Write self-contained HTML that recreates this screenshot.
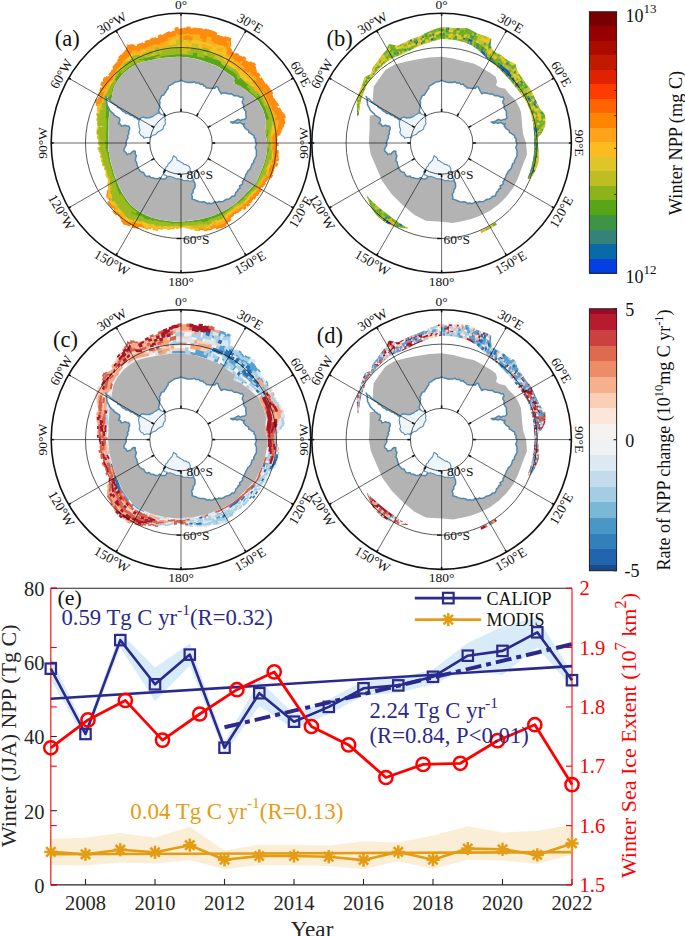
<!DOCTYPE html><html><head><meta charset="utf-8"><style>html,body{margin:0;padding:0;background:#fff;overflow:hidden}svg{display:block}</style></head><body><svg width="685" height="936" viewBox="0 0 685 936" style="font-family:'Liberation Serif',serif">
<defs><filter id="soft" x="-5%" y="-5%" width="110%" height="110%"><feGaussianBlur stdDeviation="0.6"/></filter></defs>
<rect width="685" height="936" fill="#fff"/>
<circle cx="181.0" cy="143.0" r="129.8" fill="#fff"/>
<path fill="#5aa51a" d="M180.6,56.8 L180.6,53.5 L183.7,53.7 L183.6,57.0ZM182.9,56.9 L183.0,53.6 L186.1,53.8 L185.9,57.2ZM185.1,57.1 L185.3,53.7 L188.4,54.0 L188.1,57.4ZM187.4,57.4 L187.6,54.0 L190.7,54.4 L190.3,57.8ZM189.6,57.7 L189.9,54.3 L193.0,54.7 L192.5,58.2ZM191.8,58.1 L192.6,51.6 L195.8,52.1 L194.7,58.6ZM194.0,58.5 L195.0,52.0 L198.2,52.5 L196.9,59.1ZM196.2,59.0 L196.8,55.6 L199.8,56.2 L199.1,59.7ZM198.4,59.5 L199.1,56.1 L202.1,56.8 L201.2,60.3ZM200.5,60.1 L201.3,56.6 L204.3,57.6 L203.4,61.0ZM202.6,60.8 L204.4,54.2 L207.4,55.3 L205.5,61.7ZM204.8,61.5 L206.7,55.0 L209.6,56.2 L207.6,62.5ZM206.8,62.2 L208.8,56.3 L211.8,57.2 L209.7,63.2ZM209.0,62.9 L211.0,57.0 L214.0,58.0 L211.8,63.9ZM211.1,63.6 L213.3,57.7 L216.3,58.9 L213.8,64.7ZM213.1,64.4 L215.6,58.4 L218.6,59.6 L215.9,65.6ZM215.2,65.3 L217.9,59.2 L220.8,60.5 L217.9,66.5ZM217.2,66.1 L220.1,60.0 L222.3,62.8 L219.8,67.6ZM219.2,67.3 L221.4,62.8 L224.0,64.7 L221.7,68.9ZM221.0,68.5 L223.3,64.4 L225.7,66.3 L223.5,70.1ZM222.8,69.8 L225.0,66.0 L227.6,67.7 L225.3,71.5ZM224.6,71.1 L227.1,67.1 L229.6,68.8 L227.0,72.8ZM226.4,72.4 L228.9,68.5 L231.5,70.1 L228.8,74.0ZM228.2,73.6 L230.9,69.7 L233.5,71.4 L230.7,75.2ZM230.1,74.8 L233.0,70.7 L235.6,72.5 L232.5,76.5ZM231.9,76.0 L234.7,72.3 L237.2,74.2 L234.3,77.8ZM233.7,77.3 L236.6,73.7 L238.0,76.8 L234.6,80.8ZM234.1,80.3 L237.6,76.2 L238.7,79.5 L234.7,83.9ZM234.1,83.5 L240.2,76.7 L242.8,78.4 L236.8,84.8ZM236.2,84.3 L242.1,78.1 L244.4,80.2 L238.8,85.7ZM238.3,85.2 L243.8,79.7 L246.1,81.8 L240.9,86.7ZM240.4,86.2 L245.4,81.3 L247.7,83.5 L242.7,87.9ZM242.2,87.4 L247.5,82.6 L249.7,84.8 L244.5,89.2ZM244.1,88.7 L247.3,85.9 L249.5,88.0 L246.3,90.6ZM245.9,90.0 L249.3,87.2 L251.5,89.4 L248.1,92.0ZM247.6,91.4 L249.5,90.0 L251.7,92.1 L249.9,93.4ZM249.5,92.8 L251.2,91.5 L253.5,93.7 L251.7,94.9ZM251.3,94.3 L253.1,93.0 L255.3,95.2 L253.5,96.4ZM253.0,95.8 L254.9,94.5 L257.1,96.8 L255.2,98.0ZM255.8,94.0 L258.0,92.5 L260.1,95.0 L257.9,96.3ZM254.8,97.3 L259.6,94.4 L261.7,96.9 L256.9,99.6ZM256.5,99.0 L259.9,97.0 L261.9,99.6 L258.5,101.3ZM258.2,100.7 L261.2,99.0 L262.8,101.8 L259.7,103.3ZM259.3,102.7 L262.3,101.1 L263.8,104.0 L260.8,105.4ZM260.4,104.7 L263.6,103.2 L264.9,106.1 L261.8,107.4ZM261.5,106.7 L264.7,105.3 L266.1,108.2 L262.8,109.5ZM262.5,108.8 L265.9,107.4 L267.2,110.3 L263.7,111.7ZM263.4,110.9 L266.6,109.7 L267.6,112.8 L264.4,113.9ZM264.1,113.2 L267.6,111.9 L268.7,114.9 L265.0,116.1ZM264.7,115.4 L268.4,114.2 L269.4,117.2 L265.5,118.4ZM265.3,117.6 L269.3,116.4 L270.2,119.5 L266.0,120.6ZM266.7,129.0 L269.3,128.6 L268.8,131.8 L266.3,132.1ZM266.3,131.4 L268.8,131.1 L268.9,134.1 L266.6,134.4ZM265.4,133.8 L269.0,133.4 L269.1,136.5 L266.1,136.7ZM266.0,135.9 L267.7,135.8 L268.0,138.8 L266.6,138.9ZM266.6,138.1 L268.0,138.1 L268.5,141.1 L267.1,141.1ZM267.1,140.4 L268.4,140.3 L268.8,143.4 L267.5,143.4ZM267.5,142.6 L269.0,142.6 L268.9,145.7 L267.4,145.6ZM267.4,144.9 L268.7,144.9 L268.6,148.0 L267.3,147.9ZM267.3,147.1 L269.5,147.3 L269.3,150.3 L267.0,150.1ZM267.1,149.4 L269.8,149.6 L269.6,152.7 L266.8,152.4ZM266.8,151.6 L268.4,151.8 L268.0,154.8 L266.4,154.6ZM266.5,153.9 L268.1,154.1 L267.6,157.1 L266.0,156.8ZM266.1,156.1 L267.8,156.4 L267.2,159.4 L265.5,159.0ZM268.3,156.4 L270.3,156.7 L269.9,159.9 L267.7,159.5ZM265.6,158.3 L267.1,158.6 L266.5,161.6 L264.9,161.2ZM267.5,158.6 L269.4,159.0 L268.8,162.1 L266.8,161.6ZM265.1,160.5 L266.8,160.9 L266.0,163.8 L264.3,163.4ZM264.4,162.6 L266.0,163.0 L265.0,165.9 L263.5,165.5ZM263.7,164.8 L265.2,165.2 L264.2,168.0 L262.7,167.6ZM262.9,166.9 L264.5,167.3 L263.4,170.2 L261.9,169.7ZM262.1,169.0 L263.6,169.4 L262.4,172.2 L261.0,171.7ZM261.2,171.0 L262.8,171.6 L261.7,174.4 L260.1,173.8ZM260.4,173.1 L261.7,173.6 L260.5,176.3 L259.3,175.8ZM259.5,175.1 L260.8,175.7 L259.6,178.4 L258.3,177.8ZM258.6,177.2 L259.8,177.7 L258.5,180.4 L257.4,179.8ZM257.7,179.2 L258.9,179.7 L257.5,182.4 L256.4,181.8ZM256.7,181.2 L257.8,181.7 L256.3,184.3 L255.2,183.7ZM255.6,183.1 L257.2,183.9 L255.4,186.4 L253.8,185.4ZM254.1,184.8 L256.2,186.0 L254.3,188.4 L252.3,187.1ZM252.7,186.5 L254.6,187.7 L252.7,190.0 L250.8,188.8ZM251.2,188.2 L253.2,189.5 L251.3,191.7 L249.3,190.3ZM249.7,189.8 L251.5,191.0 L249.5,193.2 L247.7,191.9ZM248.1,191.3 L250.1,192.7 L248.1,194.9 L246.1,193.4ZM246.5,192.8 L248.3,194.2 L246.4,196.4 L244.7,195.0ZM245.1,194.5 L247.0,196.0 L245.0,198.2 L243.2,196.6ZM243.7,196.0 L245.4,197.5 L243.3,199.6 L241.7,198.1ZM242.2,197.6 L244.1,199.3 L242.0,201.4 L240.1,199.6ZM240.6,199.1 L242.2,200.6 L240.1,202.6 L238.5,201.0ZM239.0,200.5 L240.8,202.3 L238.6,204.3 L236.9,202.4ZM237.4,201.9 L238.3,202.8 L236.1,204.7 L235.2,203.8ZM235.8,203.3 L236.6,204.2 L234.3,206.0 L233.5,205.0ZM234.1,204.6 L234.9,205.6 L232.6,207.3 L231.8,206.3ZM232.3,205.8 L233.6,207.4 L231.3,209.1 L230.0,207.4ZM230.6,207.0 L231.8,208.6 L229.4,210.3 L228.2,208.6ZM228.8,208.2 L230.1,210.0 L227.7,211.6 L226.4,209.6ZM227.0,209.2 L228.2,211.0 L225.8,212.6 L224.5,210.6ZM225.1,210.3 L226.6,212.6 L224.1,214.1 L222.6,211.6ZM223.2,211.2 L224.6,213.5 L222.2,215.0 L220.7,212.5ZM221.3,212.1 L222.8,214.7 L220.3,216.2 L218.8,213.3ZM219.4,213.0 L221.0,216.0 L218.4,217.2 L216.9,214.1ZM217.5,213.8 L219.0,216.8 L216.4,218.0 L214.9,215.0ZM215.6,214.7 L217.0,217.6 L214.3,218.7 L213.0,215.8ZM213.6,215.5 L215.0,218.5 L212.3,219.5 L211.1,216.5ZM211.7,216.2 L212.8,218.8 L210.1,219.8 L209.1,217.2ZM209.7,216.9 L210.8,219.6 L208.0,220.4 L207.1,217.8ZM207.8,217.5 L209.2,221.7 L206.4,222.3 L205.1,218.3ZM205.8,218.1 L207.1,222.0 L204.2,222.6 L203.1,218.8ZM203.8,218.6 L205.0,222.7 L202.1,223.2 L201.1,219.2ZM201.7,219.1 L202.4,221.6 L199.6,222.1 L199.0,219.6ZM199.7,219.5 L200.3,221.9 L197.5,222.3 L197.0,219.9ZM197.7,219.8 L198.2,222.4 L195.4,222.7 L195.0,220.2ZM195.6,220.1 L196.1,222.7 L193.3,223.0 L192.9,220.5ZM193.6,220.4 L194.0,222.6 L191.2,222.9 L190.9,220.8ZM191.6,220.7 L191.9,222.9 L189.1,223.1 L188.9,221.0ZM189.5,220.9 L189.8,222.9 L186.9,223.1 L186.8,221.2ZM187.5,221.1 L187.6,223.0 L184.8,223.1 L184.8,221.3ZM185.4,221.3 L185.6,223.6 L182.8,223.6 L182.7,221.4ZM183.4,221.4 L183.4,223.0 L180.7,223.0 L180.7,221.4ZM181.3,221.4 L181.4,224.0 L178.5,223.9 L178.6,221.6ZM179.3,221.6 L179.2,224.1 L176.4,224.4 L176.5,221.8ZM177.2,221.8 L177.1,223.9 L174.3,224.0 L174.5,221.7ZM175.1,221.8 L175.0,224.3 L172.1,224.3 L172.4,221.6ZM173.1,221.6 L172.8,224.2 L170.0,224.1 L170.3,221.3ZM171.0,221.4 L170.8,223.6 L167.9,223.3 L168.3,221.1ZM169.0,221.2 L168.7,223.1 L165.9,222.8 L166.2,220.8ZM166.9,220.9 L166.5,222.9 L163.7,222.5 L164.2,220.4ZM164.9,220.6 L164.4,222.8 L161.6,222.3 L162.1,220.1ZM162.8,220.2 L162.3,222.5 L159.5,222.0 L160.1,219.7ZM160.8,219.9 L160.1,222.5 L157.3,221.9 L158.0,219.3ZM158.7,219.5 L158.0,222.1 L155.1,221.4 L156.0,218.8ZM156.7,219.0 L156.0,221.2 L153.2,220.5 L154.0,218.2ZM154.6,218.5 L153.4,222.1 L150.6,221.3 L152.0,217.6ZM152.6,217.9 L151.6,220.6 L148.9,219.7 L150.0,216.9ZM150.7,217.1 L149.1,221.0 L146.3,220.1 L148.1,216.1ZM148.7,216.4 L147.0,220.2 L144.2,219.2 L146.2,215.2ZM146.8,215.5 L145.0,219.4 L142.2,218.4 L144.3,214.3ZM144.9,214.6 L143.3,217.8 L140.6,216.6 L142.4,213.4ZM143.0,213.7 L141.2,217.0 L138.6,215.8 L140.5,212.4ZM141.1,212.7 L138.7,217.0 L136.1,215.6 L138.8,211.3ZM139.4,211.6 L136.4,216.5 L133.8,215.0 L137.0,210.1ZM137.6,210.5 L136.4,212.3 L134.0,210.8 L135.3,208.9ZM135.8,213.2 L134.4,215.4 L131.8,213.9 L133.4,211.7ZM135.9,209.3 L134.6,211.2 L132.2,209.5 L133.6,207.6ZM133.9,212.2 L132.4,214.4 L130.0,212.6 L131.6,210.4ZM134.2,208.0 L132.9,209.9 L130.6,208.1 L132.0,206.3ZM132.5,206.8 L131.2,208.4 L129.2,206.5 L130.5,204.8ZM131.0,205.3 L129.7,206.9 L127.8,204.8 L129.1,203.2ZM129.7,203.6 L128.3,205.2 L126.4,203.1 L127.8,201.5ZM128.3,202.0 L126.8,203.7 L125.0,201.5 L126.6,199.8ZM127.1,200.3 L125.5,202.0 L123.8,199.7 L125.4,198.1ZM125.9,198.6 L124.4,200.1 L122.8,197.8 L124.2,196.4ZM124.7,196.9 L123.1,198.4 L121.5,196.1 L123.1,194.6ZM123.6,195.1 L122.0,196.6 L120.5,194.2 L122.1,192.9ZM122.5,193.4 L119.5,196.0 L118.0,193.5 L121.1,191.1ZM121.5,191.6 L118.9,193.8 L117.5,191.3 L120.2,189.2ZM120.6,189.8 L117.7,192.0 L116.5,189.5 L119.3,187.4ZM119.7,187.9 L116.7,190.1 L115.7,187.5 L118.5,185.6ZM118.9,186.1 L116.1,188.0 L115.2,185.3 L117.7,183.7ZM118.1,184.2 L115.7,185.8 L114.9,183.1 L117.0,181.8ZM117.3,182.4 L115.1,183.8 L114.3,181.2 L116.2,180.0ZM116.5,180.6 L115.3,181.3 L114.3,178.8 L115.5,178.2ZM115.8,178.8 L114.0,179.8 L113.0,177.3 L114.8,176.4ZM115.1,176.9 L113.5,177.8 L112.5,175.3 L114.2,174.5ZM114.4,175.1 L112.6,176.0 L111.7,173.5 L113.6,172.7ZM113.8,173.3 L111.9,174.1 L111.1,171.6 L113.0,170.8ZM113.3,171.4 L111.5,172.2 L110.7,169.6 L112.6,168.9ZM112.8,169.5 L111.0,170.2 L110.2,167.7 L112.0,167.1ZM112.2,167.7 L110.3,168.4 L109.5,165.9 L111.4,165.3ZM111.6,165.9 L109.9,166.5 L109.1,163.9 L110.9,163.4ZM111.1,164.0 L109.0,164.7 L108.3,162.1 L110.4,161.6ZM110.6,162.2 L108.7,162.7 L108.0,160.2 L110.0,159.7ZM110.2,160.3 L108.0,160.9 L107.5,158.3 L109.7,157.8ZM109.8,158.5 L107.8,158.9 L107.3,156.3 L109.4,156.0ZM109.5,156.6 L107.2,157.0 L106.8,154.4 L109.0,154.1ZM109.1,154.7 L107.1,155.0 L106.7,152.5 L108.8,152.2ZM108.8,152.8 L105.7,153.2 L105.3,150.6 L108.5,150.3ZM108.6,150.9 L105.3,151.3 L105.0,148.7 L108.3,148.4ZM108.4,149.0 L104.8,149.3 L104.6,146.7 L108.2,146.5ZM108.2,147.1 L105.3,147.3 L105.1,144.7 L108.1,144.6ZM108.2,145.2 L104.8,145.3 L104.7,142.7 L108.1,142.7ZM108.1,143.3 L104.8,143.3 L104.7,140.7 L108.0,140.8ZM108.0,141.4 L105.6,141.4 L105.5,138.7 L107.9,138.9ZM107.9,139.5 L105.3,139.4 L105.3,136.7 L107.9,136.9ZM107.9,137.6 L105.4,137.4 L105.5,134.7 L108.0,135.0ZM107.9,135.6 L105.2,135.4 L105.3,132.7 L108.0,133.1ZM108.0,133.7 L105.3,133.4 L105.5,130.7 L108.2,131.1ZM108.1,131.8 L105.4,131.4 L105.7,128.7 L108.4,129.2ZM108.3,129.8 L105.8,129.4 L106.0,126.7 L108.6,127.3ZM108.4,127.9 L105.7,127.3 L105.8,124.6 L108.5,125.3ZM108.4,125.9 L105.8,125.3 L105.9,122.5 L108.5,123.2ZM108.4,123.9 L105.6,123.1 L105.8,120.4 L108.6,121.2ZM108.4,121.8 L105.7,121.1 L106.1,118.3 L108.7,119.2ZM108.5,119.8 L104.4,118.5 L104.8,115.6 L108.9,117.1ZM108.7,117.8 L105.0,116.5 L105.3,113.6 L109.2,115.1ZM108.9,115.7 L104.9,114.2 L105.3,111.3 L109.5,113.0ZM109.2,113.6 L105.2,112.0 L105.6,109.1 L109.7,110.9ZM109.5,111.5 L105.0,109.5 L105.5,106.6 L110.0,108.8ZM109.7,109.4 L104.9,107.1 L105.6,104.1 L110.4,106.6ZM110.1,107.2 L105.8,105.1 L106.6,102.2 L110.8,104.5ZM110.5,105.1 L106.4,102.9 L107.2,99.9 L111.1,102.2ZM110.8,102.9 L106.5,100.4 L107.4,97.4 L111.5,100.0ZM111.1,100.6 L107.2,98.2 L108.1,95.2 L111.9,97.7ZM111.5,98.3 L108.7,96.5 L109.6,93.5 L112.3,95.4ZM111.9,96.0 L110.5,95.0 L111.3,91.9 L112.7,92.9ZM110.1,94.7 L108.3,93.5 L109.3,90.4 L111.0,91.6ZM112.2,93.5 L110.7,92.4 L111.6,89.3 L113.1,90.4ZM110.2,92.0 L108.3,90.7 L109.3,87.5 L111.1,88.9ZM112.7,91.0 L111.3,90.0 L112.4,86.9 L113.7,88.0ZM110.9,89.7 L109.2,88.4 L110.3,85.3 L112.0,86.6ZM113.2,88.6 L111.9,87.5 L113.4,84.7 L114.7,85.9ZM111.4,87.2 L109.7,85.8 L111.2,82.9 L112.9,84.3ZM114.2,86.5 L112.9,85.3 L114.6,82.7 L115.8,83.8ZM112.5,85.0 L110.9,83.6 L112.9,81.1 L114.3,82.5ZM115.3,84.3 L114.1,83.3 L116.0,80.7 L116.9,81.7ZM113.9,83.1 L112.5,81.8 L114.6,79.4 L115.9,80.6ZM116.4,82.2 L113.7,79.7 L115.7,77.1 L118.2,79.7ZM117.7,80.2 L115.2,77.8 L117.0,75.0 L119.7,77.8ZM119.1,78.3 L116.7,75.8 L118.6,73.1 L121.2,76.0ZM120.6,76.5 L117.8,73.4 L120.0,70.9 L122.7,74.2ZM122.1,74.7 L121.0,73.4 L123.3,71.1 L124.4,72.4ZM120.7,73.1 L119.4,71.5 L121.7,69.1 L123.0,70.7ZM123.7,72.9 L122.7,71.7 L125.2,69.6 L126.2,70.9ZM125.6,71.4 L124.5,70.0 L127.0,67.9 L128.1,69.5ZM127.4,69.9 L126.3,68.3 L128.8,66.3 L130.0,68.0ZM129.3,68.5 L128.2,66.9 L130.8,65.0 L131.9,66.7ZM131.3,67.1 L130.1,65.4 L132.8,63.6 L133.9,65.5ZM128.8,63.4 L127.5,61.4 L130.2,59.2 L131.5,61.4ZM133.3,65.9 L132.2,64.1 L134.9,62.3 L136.0,64.3ZM130.8,61.8 L129.4,59.7 L132.1,57.5 L133.5,59.8ZM139.0,61.4 L137.6,58.8 L140.9,58.0 L142.1,60.5ZM141.4,61.0 L140.3,58.6 L143.5,57.9 L144.5,60.1ZM144.3,61.6 L142.6,57.9 L145.7,56.8 L147.4,60.8ZM146.6,61.1 L145.0,57.2 L148.1,56.3 L149.6,60.2ZM148.9,60.5 L147.5,56.8 L150.6,55.9 L151.9,59.8ZM151.2,60.0 L149.7,55.9 L152.9,55.1 L154.2,59.4ZM153.5,59.6 L152.1,55.4 L155.3,54.7 L156.5,59.1ZM155.3,57.6 L154.5,54.8 L157.6,54.0 L158.3,56.9ZM157.6,57.2 L156.8,54.3 L159.9,53.6 L160.6,56.5ZM160.3,58.4 L159.7,56.0 L162.8,55.4 L163.3,57.9ZM162.5,58.0 L162.0,55.4 L165.1,54.8 L165.6,57.6ZM164.8,57.7 L164.3,55.1 L167.4,54.6 L167.8,57.3ZM167.1,57.5 L166.6,54.7 L169.7,54.3 L170.1,57.2ZM169.3,57.3 L168.9,54.4 L172.0,54.0 L172.3,57.0ZM171.6,57.0 L171.3,54.2 L174.4,53.9 L174.6,56.8ZM173.8,56.9 L173.6,53.9 L176.7,53.7 L176.9,56.8ZM176.1,56.8 L175.9,53.5 L179.0,53.4 L179.1,56.8ZM178.4,56.8 L178.3,53.6 L181.4,53.6 L181.4,56.8Z"/>
<path fill="#c8c026" d="M180.6,54.3 L180.6,47.8 L183.9,48.0 L183.7,54.5ZM180.6,42.9 L180.5,39.2 L184.2,39.4 L184.1,43.0ZM182.9,54.4 L183.1,47.7 L186.4,47.9 L186.0,54.6ZM185.3,54.5 L185.7,44.4 L189.2,44.8 L188.3,54.8ZM185.8,42.1 L186.0,38.3 L189.7,38.6 L189.4,42.5ZM187.8,51.9 L188.0,48.1 L191.3,48.5 L190.9,52.3ZM188.4,43.0 L188.7,39.3 L192.3,39.7 L191.9,43.4ZM190.5,49.0 L191.1,42.2 L194.7,42.5 L193.7,49.4ZM192.9,49.4 L193.8,42.6 L197.3,42.9 L196.2,49.8ZM195.4,49.8 L196.4,42.9 L199.9,43.3 L198.6,50.2ZM197.8,50.3 L198.4,46.5 L201.8,47.1 L201.0,50.9ZM200.2,50.7 L201.0,46.8 L204.3,47.6 L203.4,51.5ZM201.9,54.3 L202.8,50.4 L205.9,51.5 L204.9,55.3ZM204.2,55.0 L205.2,51.1 L208.3,52.3 L207.2,56.1ZM207.3,52.7 L208.4,48.9 L211.6,50.2 L210.4,54.0ZM209.4,54.2 L210.6,50.7 L213.8,51.7 L212.5,55.2ZM211.8,54.9 L213.0,51.4 L216.2,52.5 L214.8,56.0ZM213.0,58.5 L215.4,52.2 L218.6,53.4 L216.0,59.6ZM215.3,59.1 L217.9,52.7 L221.1,54.0 L218.2,60.3ZM217.6,59.9 L220.4,53.5 L223.5,54.9 L220.5,61.2ZM219.8,60.8 L222.8,54.3 L224.6,58.4 L221.9,63.5ZM221.1,63.5 L223.5,58.6 L226.1,60.9 L223.6,65.4ZM222.9,65.1 L225.3,60.6 L227.7,62.9 L225.3,67.0ZM244.9,81.9 L247.0,79.8 L249.3,82.1 L247.1,84.0ZM246.9,83.2 L249.1,81.1 L251.3,83.5 L249.1,85.4ZM248.1,85.1 L250.2,83.4 L252.4,85.7 L250.4,87.3ZM250.2,86.4 L252.4,84.7 L254.6,87.0 L252.4,88.7ZM251.9,88.1 L254.1,86.4 L256.2,88.8 L254.1,90.4ZM255.5,91.3 L257.7,89.8 L259.9,92.2 L257.7,93.6ZM257.3,93.0 L259.5,91.5 L261.6,94.1 L259.4,95.4ZM258.9,94.8 L261.1,93.4 L263.1,96.1 L261.0,97.3ZM260.7,96.5 L262.9,95.2 L264.8,98.0 L262.6,99.1ZM261.9,98.6 L264.0,97.5 L265.5,100.4 L263.4,101.5ZM262.9,100.8 L265.0,99.8 L266.4,102.7 L264.4,103.7ZM262.8,103.5 L266.3,101.8 L267.7,104.8 L264.2,106.4ZM265.4,105.0 L267.6,104.0 L269.0,107.0 L266.8,107.9ZM273.2,117.9 L275.9,117.1 L276.4,120.5 L273.6,121.2ZM271.2,120.9 L275.7,119.8 L275.8,123.3 L271.3,124.2ZM271.3,123.4 L275.9,122.4 L275.9,125.8 L271.2,126.7ZM270.8,125.9 L273.5,125.4 L273.2,128.8 L270.6,129.2ZM270.3,128.5 L272.9,128.0 L272.2,131.4 L269.7,131.7ZM269.7,130.9 L272.3,130.6 L272.0,133.8 L269.7,134.1ZM268.2,133.4 L272.2,133.0 L271.8,136.3 L268.3,136.5ZM268.1,135.8 L272.7,135.4 L271.8,138.6 L268.1,138.8ZM267.2,138.1 L272.3,137.8 L272.7,141.0 L267.7,141.1ZM267.6,140.4 L269.4,140.3 L269.8,143.4 L268.0,143.4ZM270.5,140.3 L272.3,140.2 L272.6,143.4 L270.9,143.4ZM271.5,142.6 L273.4,142.6 L273.4,145.8 L271.5,145.8ZM269.7,144.9 L272.4,145.0 L272.4,148.2 L269.7,148.0ZM269.6,147.3 L272.3,147.4 L272.2,150.6 L269.5,150.4ZM269.0,149.5 L271.0,149.7 L270.8,152.8 L268.8,152.6ZM271.4,149.7 L273.3,149.9 L273.2,153.1 L271.2,152.9ZM271.0,152.1 L273.0,152.3 L272.7,155.5 L270.7,155.2ZM271.0,154.4 L273.0,154.7 L272.7,157.9 L270.6,157.6ZM270.8,156.8 L272.9,157.1 L272.5,160.4 L270.4,160.0ZM268.6,158.8 L271.7,159.4 L271.0,162.5 L268.0,161.9ZM268.7,161.2 L272.2,162.0 L271.2,165.1 L267.8,164.2ZM267.5,163.4 L269.4,163.8 L268.3,166.8 L266.5,166.3ZM265.6,165.3 L268.6,166.1 L267.5,169.0 L264.5,168.1ZM264.8,167.4 L269.0,168.7 L267.8,171.6 L263.7,170.3ZM264.0,169.6 L265.9,170.2 L264.6,173.0 L262.8,172.4ZM266.3,170.3 L268.2,170.9 L266.8,173.8 L264.9,173.1ZM265.7,172.6 L268.9,173.7 L267.4,176.6 L264.4,175.4ZM262.9,174.0 L266.5,175.4 L265.0,178.2 L261.6,176.8ZM261.9,176.1 L265.4,177.5 L263.8,180.3 L260.5,178.8ZM260.7,178.1 L263.0,179.1 L261.4,181.8 L259.2,180.7ZM259.0,179.8 L262.3,181.4 L260.6,184.0 L257.6,182.4ZM257.9,181.8 L260.9,183.3 L259.3,185.9 L256.4,184.3ZM256.5,183.6 L257.8,184.3 L256.1,186.8 L254.7,186.0ZM253.4,189.6 L254.9,190.5 L253.0,192.9 L251.5,191.9ZM251.6,191.1 L253.0,192.0 L251.0,194.4 L249.6,193.3ZM250.2,192.9 L252.5,194.5 L250.6,196.9 L248.3,195.1ZM248.4,194.3 L250.5,195.9 L248.6,198.2 L246.5,196.5ZM246.4,195.5 L249.4,197.9 L247.3,200.1 L244.4,197.6ZM246.2,198.2 L247.5,199.3 L245.4,201.5 L244.1,200.3ZM244.3,199.5 L246.5,201.5 L244.3,203.6 L242.2,201.6ZM242.3,200.7 L244.9,203.1 L242.6,205.2 L240.2,202.7ZM241.0,202.5 L243.1,204.6 L240.8,206.6 L238.8,204.5ZM238.3,202.9 L240.7,205.3 L238.3,207.2 L236.1,204.7ZM236.7,204.3 L238.4,206.2 L236.1,208.1 L234.4,206.1ZM235.0,205.6 L236.7,207.6 L234.3,209.4 L232.7,207.4ZM233.7,207.5 L234.7,208.7 L232.3,210.5 L231.3,209.1ZM231.8,208.7 L232.8,210.0 L230.4,211.6 L229.4,210.3ZM224.8,213.8 L226.5,216.5 L224.1,218.4 L222.4,215.5ZM223.7,216.2 L224.7,218.0 L222.3,219.9 L221.3,218.0ZM222.1,217.9 L223.2,219.9 L220.4,221.1 L219.4,219.1ZM217.3,218.2 L218.2,220.2 L215.4,221.3 L214.5,219.2ZM215.2,219.0 L217.3,223.7 L214.4,224.7 L212.5,220.0ZM213.0,219.2 L214.2,222.2 L211.4,223.2 L210.2,220.2ZM209.9,223.4 L211.0,226.6 L208.0,227.2 L206.9,224.0ZM207.2,222.4 L208.6,226.7 L205.5,227.2 L204.3,223.0ZM205.1,223.2 L206.9,228.9 L203.7,229.3 L202.2,223.7ZM202.8,223.1 L204.2,228.2 L201.1,228.5 L199.9,223.5ZM200.6,223.2 L201.8,228.1 L198.7,228.3 L197.8,223.5ZM198.6,223.8 L199.7,229.1 L196.6,229.1 L195.7,224.1ZM196.4,224.1 L197.4,229.3 L194.3,229.3 L193.5,224.3ZM194.3,224.5 L195.0,228.9 L191.9,228.8 L191.4,224.6ZM192.1,224.8 L192.5,227.4 L189.5,227.3 L189.2,224.8ZM192.5,227.5 L192.7,229.2 L189.7,229.0 L189.5,227.3ZM189.9,224.4 L190.2,226.8 L187.2,226.7 L187.1,224.5ZM190.2,226.8 L190.3,228.4 L187.3,228.2 L187.2,226.7ZM187.8,224.4 L187.9,226.6 L185.0,226.6 L184.9,224.4ZM187.9,226.6 L188.1,228.1 L185.1,228.0 L185.0,226.5ZM185.6,224.7 L185.8,227.4 L182.8,227.2 L182.8,224.6ZM183.5,224.7 L183.6,227.3 L180.6,227.0 L180.6,224.5ZM181.4,225.3 L181.4,228.3 L178.4,227.6 L178.5,224.9ZM179.2,224.6 L179.1,228.2 L176.1,228.8 L176.3,225.1ZM177.1,224.2 L177.0,227.2 L174.0,227.8 L174.2,224.5ZM174.9,225.0 L174.7,227.9 L171.7,228.3 L172.0,225.1ZM172.8,224.9 L172.5,227.1 L169.5,227.4 L169.8,225.0ZM170.5,225.4 L170.2,227.9 L167.2,227.8 L167.6,225.2ZM168.3,225.4 L168.1,227.0 L165.1,226.8 L165.4,225.2ZM166.1,225.3 L165.8,226.9 L162.8,226.7 L163.2,225.1ZM163.8,225.6 L163.3,228.2 L160.2,228.0 L160.9,225.3ZM161.8,224.5 L161.2,227.1 L158.2,226.7 L158.9,224.0ZM159.4,225.0 L158.6,228.0 L155.6,227.5 L156.5,224.5ZM157.2,224.6 L156.3,227.6 L153.3,227.1 L154.3,224.1ZM155.3,223.3 L154.5,225.9 L151.5,225.3 L152.4,222.6ZM152.9,223.5 L151.9,226.4 L148.9,225.7 L150.0,222.7ZM150.5,223.4 L149.8,225.3 L146.8,224.5 L147.6,222.6ZM148.5,222.5 L147.7,224.4 L144.6,223.7 L145.5,221.8ZM146.4,221.7 L145.5,223.6 L142.5,222.8 L143.4,220.9ZM139.2,220.8 L138.0,222.9 L135.0,221.8 L136.3,219.6ZM137.6,218.9 L136.5,220.9 L133.6,219.7 L134.8,217.6ZM127.8,216.8 L126.3,219.0 L123.8,216.9 L125.4,214.8ZM126.5,214.7 L125.0,216.7 L122.6,214.5 L124.2,212.5ZM125.0,212.7 L123.5,214.7 L121.3,212.3 L122.9,210.5ZM123.3,211.1 L121.7,213.0 L119.6,210.6 L121.3,208.7ZM120.0,211.4 L118.2,213.4 L116.2,210.7 L118.0,208.8ZM119.6,208.2 L116.5,211.6 L114.5,208.9 L117.7,205.7ZM119.3,205.2 L116.5,208.1 L114.6,205.4 L117.5,202.7ZM117.4,203.9 L115.5,205.7 L113.8,203.0 L115.7,201.3ZM116.0,202.0 L114.1,203.8 L112.4,201.0 L114.4,199.4ZM113.2,195.5 L111.3,197.0 L110.2,194.0 L112.1,192.6ZM112.1,193.5 L108.8,196.0 L108.3,192.5 L111.4,190.4ZM112.0,190.9 L109.0,193.0 L108.6,189.6 L111.5,187.7ZM112.4,188.0 L109.7,189.7 L109.5,186.4 L112.0,184.9ZM111.2,186.2 L109.6,187.2 L109.4,183.9 L110.9,183.1ZM110.5,184.1 L108.0,185.6 L108.0,182.2 L110.3,181.0ZM110.4,181.7 L109.0,182.5 L107.8,179.9 L109.3,179.1ZM111.0,179.1 L109.0,180.1 L107.9,177.5 L109.9,176.5ZM109.6,177.4 L107.4,178.5 L106.4,175.8 L108.6,174.8ZM108.7,175.6 L107.2,176.2 L106.2,173.6 L107.8,172.9ZM106.4,169.8 L104.9,170.3 L104.0,167.6 L105.5,167.2ZM106.6,167.5 L104.9,168.1 L104.0,165.5 L105.7,164.9ZM104.7,166.0 L102.6,166.6 L101.8,163.9 L103.9,163.3ZM104.8,163.8 L102.8,164.3 L102.0,161.6 L104.0,161.1ZM103.5,162.0 L101.8,162.4 L101.1,159.6 L102.8,159.3ZM103.7,159.8 L102.1,160.1 L101.5,157.4 L103.1,157.1ZM102.9,155.7 L100.8,156.1 L100.3,153.3 L102.4,153.0ZM101.9,153.8 L99.7,154.1 L99.2,151.2 L101.5,151.0ZM101.2,151.7 L98.8,152.0 L98.4,149.1 L100.8,149.0ZM100.3,149.7 L98.4,149.9 L98.1,147.0 L99.9,146.9ZM101.7,147.5 L99.6,147.6 L99.4,144.8 L101.5,144.7ZM100.6,145.5 L98.3,145.5 L98.1,142.6 L100.5,142.6ZM100.8,143.3 L98.5,143.4 L98.3,140.5 L100.6,140.5ZM100.6,141.2 L98.2,141.2 L98.0,138.3 L100.4,138.4ZM99.6,139.1 L97.7,139.0 L97.6,136.1 L99.5,136.2ZM100.1,137.0 L97.7,136.8 L97.7,133.9 L100.1,134.1ZM98.0,134.6 L96.4,134.5 L96.5,131.5 L98.0,131.7ZM99.4,130.4 L97.5,130.1 L97.6,127.2 L99.6,127.5ZM100.3,128.4 L97.8,128.0 L97.7,124.9 L100.3,125.5ZM98.5,125.8 L97.0,125.5 L97.0,122.4 L98.5,122.8ZM101.0,124.2 L99.1,123.7 L99.2,120.7 L101.1,121.2ZM98.8,123.6 L97.3,123.3 L97.4,120.2 L98.9,120.6ZM100.3,121.8 L98.4,121.2 L98.5,118.2 L100.5,118.8ZM100.8,119.6 L98.9,119.1 L99.1,116.0 L101.1,116.6ZM100.2,117.1 L98.2,116.5 L98.5,113.4 L100.5,114.1ZM101.3,115.2 L98.3,114.1 L98.4,110.9 L101.5,112.1ZM100.8,112.6 L97.7,111.4 L97.8,108.1 L101.1,109.5ZM103.6,111.3 L99.2,109.5 L99.5,106.3 L103.9,108.3ZM102.9,108.7 L99.4,107.1 L99.8,103.9 L103.4,105.6ZM102.7,106.1 L99.0,104.3 L99.6,101.1 L103.3,103.0ZM102.5,103.5 L100.5,102.4 L101.5,99.4 L103.4,100.5ZM107.2,100.8 L105.2,99.7 L106.1,96.7 L108.0,97.9ZM107.9,98.6 L106.0,97.5 L107.0,94.5 L108.8,95.7ZM106.9,95.3 L105.0,94.1 L106.1,91.0 L107.9,92.3ZM107.9,93.2 L106.1,92.0 L107.3,88.9 L108.9,90.2ZM109.0,91.1 L105.9,88.9 L107.0,85.7 L110.0,88.0ZM109.8,88.9 L107.0,86.8 L108.3,83.6 L110.9,85.8ZM113.1,82.4 L111.6,81.1 L113.9,78.8 L115.2,80.0ZM114.3,80.2 L112.9,78.9 L114.9,76.4 L116.3,77.7ZM115.8,74.9 L114.5,73.5 L116.3,70.5 L117.6,72.0ZM116.6,72.1 L115.2,70.6 L117.5,68.0 L118.8,69.6ZM123.2,68.4 L121.0,65.6 L123.5,63.1 L125.7,66.2ZM123.9,65.2 L122.6,63.3 L125.1,60.9 L126.5,62.9ZM126.0,63.7 L124.6,61.8 L127.3,59.5 L128.6,61.5ZM131.7,63.3 L130.3,61.1 L133.1,59.1 L134.4,61.4ZM133.6,61.7 L132.3,59.4 L134.8,57.1 L136.2,59.7ZM135.6,60.3 L134.2,57.7 L137.5,56.8 L138.8,59.3ZM138.0,59.5 L136.7,56.9 L140.1,56.3 L141.3,58.8ZM139.9,57.7 L138.7,55.4 L142.2,54.8 L143.2,57.0ZM142.2,56.9 L140.4,52.8 L143.6,51.5 L145.3,55.8ZM145.3,58.0 L142.9,52.1 L146.1,50.8 L148.4,57.0ZM147.8,57.5 L146.8,55.1 L150.0,54.1 L150.8,56.6ZM146.4,54.2 L145.5,51.7 L148.7,50.6 L149.6,53.1ZM150.0,56.7 L149.1,54.0 L152.2,53.1 L153.1,55.8ZM148.6,52.9 L147.7,50.3 L151.0,49.2 L151.8,51.9ZM152.4,56.2 L150.3,49.7 L153.5,48.8 L155.5,55.5ZM154.7,55.6 L152.6,48.7 L155.9,47.7 L157.8,54.8ZM156.5,53.0 L155.7,50.2 L158.9,49.3 L159.6,52.2ZM159.4,54.8 L157.8,48.0 L161.1,47.2 L162.5,54.1ZM161.2,51.7 L160.0,46.4 L163.4,45.4 L164.4,50.9ZM163.6,51.5 L162.6,46.3 L166.0,45.3 L166.8,50.8ZM166.0,50.8 L165.1,45.4 L168.5,44.5 L169.2,50.2ZM168.4,50.2 L167.6,44.4 L171.0,43.6 L171.6,49.6ZM170.8,50.0 L170.2,44.3 L173.6,43.6 L174.1,49.5ZM173.2,49.6 L172.7,43.6 L176.2,43.0 L176.5,49.2ZM175.6,48.5 L175.1,39.0 L178.7,38.4 L178.9,48.2ZM178.0,46.2 L177.8,39.8 L181.5,39.3 L181.4,45.8Z"/>
<path fill="#f2c426" d="M180.6,48.6 L180.6,42.1 L184.1,42.2 L183.9,48.8ZM183.1,48.5 L183.3,38.9 L186.9,39.1 L186.4,48.7ZM185.7,45.2 L185.9,41.3 L189.4,41.7 L189.1,45.5ZM188.0,48.9 L188.5,42.2 L192.0,42.7 L191.3,49.3ZM191.1,43.0 L191.5,39.2 L195.1,39.5 L194.6,43.3ZM193.7,43.4 L194.2,39.6 L197.8,39.8 L197.2,43.7ZM196.3,43.7 L196.9,39.8 L200.5,40.2 L199.8,44.1ZM198.3,47.3 L199.5,40.5 L203.2,41.0 L201.7,47.9ZM201.5,44.5 L202.3,40.6 L205.8,41.5 L204.9,45.3ZM204.1,44.9 L205.0,41.0 L208.4,42.4 L207.4,46.2ZM206.6,45.7 L207.6,41.9 L211.0,43.4 L209.9,47.1ZM209.1,46.6 L210.2,42.8 L213.5,44.3 L212.3,48.0ZM210.3,51.4 L212.4,45.0 L215.8,46.1 L213.5,52.4ZM212.7,52.1 L215.9,43.0 L219.4,44.2 L215.9,53.2ZM215.1,53.0 L216.4,49.4 L219.7,50.7 L218.3,54.2ZM217.2,47.4 L218.5,43.9 L222.0,45.2 L220.5,48.7ZM217.6,53.4 L219.1,49.8 L222.4,51.2 L220.8,54.7ZM220.0,47.7 L221.4,44.2 L224.9,45.6 L223.3,49.1ZM220.1,54.2 L222.9,47.8 L226.2,49.2 L223.2,55.6ZM222.5,55.0 L225.6,48.5 L226.9,54.0 L224.2,59.1ZM223.2,59.4 L225.6,54.5 L228.1,57.1 L225.7,61.6ZM224.9,61.3 L226.3,58.7 L228.8,61.1 L227.3,63.5ZM225.6,65.0 L228.0,60.8 L230.8,62.5 L228.3,66.6ZM228.5,59.8 L229.9,57.4 L232.9,59.1 L231.5,61.5ZM227.8,65.9 L230.5,61.5 L233.3,63.3 L230.4,67.6ZM231.2,60.3 L232.7,57.8 L235.7,59.6 L234.1,62.1ZM229.6,67.4 L232.4,63.1 L235.2,64.8 L232.3,69.0ZM231.7,68.5 L234.7,64.2 L237.4,66.1 L234.3,70.3ZM233.9,69.5 L235.8,66.9 L238.4,68.9 L236.5,71.3ZM235.5,71.3 L237.3,68.9 L239.9,70.9 L238.0,73.2ZM237.4,72.7 L240.6,68.8 L242.7,71.4 L239.1,75.6ZM238.6,74.9 L242.4,70.5 L244.4,73.2 L240.1,78.0ZM239.7,77.3 L244.0,72.4 L246.7,74.3 L242.3,79.0ZM241.5,78.6 L245.8,74.1 L247.9,76.7 L243.8,80.7ZM243.2,80.2 L247.2,76.2 L249.3,78.7 L245.5,82.3ZM246.4,80.4 L250.2,76.8 L252.4,79.3 L248.7,82.6ZM248.5,81.7 L252.4,78.1 L254.6,80.7 L250.7,84.0ZM249.6,83.9 L251.7,82.1 L253.9,84.5 L251.8,86.2ZM251.8,85.2 L254.0,83.4 L256.1,85.9 L254.0,87.5ZM253.5,89.8 L255.7,88.3 L257.9,90.7 L255.7,92.1ZM264.2,100.1 L266.3,99.1 L267.7,102.1 L265.7,103.1ZM268.6,108.9 L270.7,108.1 L271.9,111.2 L269.7,112.0ZM270.0,111.0 L272.4,110.2 L273.8,113.3 L271.4,114.1ZM270.8,113.4 L273.2,112.6 L274.7,115.7 L272.2,116.4ZM272.1,115.6 L274.6,114.8 L276.0,118.0 L273.3,118.7ZM272.7,125.6 L275.3,125.1 L275.1,128.5 L272.4,128.9ZM272.1,128.2 L274.7,127.7 L273.9,131.2 L271.4,131.5ZM271.5,130.7 L275.7,130.1 L275.1,133.5 L271.2,133.9ZM271.4,133.1 L273.8,132.8 L273.1,136.2 L271.0,136.3ZM269.5,140.3 L271.3,140.2 L271.7,143.4 L269.9,143.4ZM270.4,142.6 L272.3,142.6 L272.3,145.8 L270.4,145.7ZM272.2,152.2 L274.1,152.4 L273.9,155.6 L271.9,155.4ZM272.2,154.6 L274.2,154.9 L273.9,158.1 L271.9,157.8ZM272.1,157.0 L274.2,157.3 L273.8,160.6 L271.7,160.2ZM270.9,159.3 L272.8,159.6 L272.2,162.8 L270.3,162.4ZM271.4,161.8 L273.5,162.2 L272.5,165.4 L270.4,164.9ZM268.6,163.6 L271.6,164.3 L270.5,167.4 L267.6,166.6ZM267.8,165.9 L270.8,166.7 L269.7,169.7 L266.7,168.8ZM268.3,168.4 L270.2,169.0 L268.9,172.0 L267.0,171.4ZM267.4,170.7 L269.3,171.3 L267.9,174.2 L266.0,173.5ZM262.3,178.8 L263.8,179.4 L262.1,182.1 L260.7,181.4ZM257.8,184.2 L259.1,185.0 L257.3,187.5 L256.0,186.7ZM257.1,186.5 L258.6,187.4 L256.8,189.9 L255.3,189.0ZM255.5,188.2 L257.8,189.6 L255.9,192.1 L253.6,190.6ZM254.2,190.1 L256.6,191.6 L254.6,194.1 L252.3,192.5ZM252.4,191.6 L254.5,193.1 L252.6,195.5 L250.4,193.9ZM251.9,194.0 L253.4,195.1 L251.4,197.5 L249.9,196.4ZM249.9,195.4 L251.3,196.4 L249.3,198.8 L248.0,197.7ZM248.8,197.4 L251.0,199.1 L248.8,201.5 L246.7,199.6ZM246.9,198.8 L249.0,200.5 L246.8,202.7 L244.8,201.0ZM245.9,200.9 L248.1,202.9 L245.9,205.1 L243.7,203.1ZM242.6,204.0 L243.9,205.3 L241.5,207.4 L240.3,206.0ZM240.1,204.7 L241.2,205.9 L238.9,207.9 L237.8,206.6ZM237.9,205.6 L239.6,207.5 L237.2,209.4 L235.6,207.4ZM236.2,207.0 L237.3,208.3 L234.9,210.1 L233.8,208.8ZM237.3,208.4 L238.5,209.7 L236.0,211.5 L234.9,210.2ZM234.2,208.1 L235.2,209.4 L232.8,211.1 L231.8,209.8ZM232.3,209.3 L233.3,210.6 L230.9,212.3 L229.9,210.9ZM230.2,210.0 L232.2,212.9 L229.8,214.7 L227.8,211.7ZM228.2,211.1 L230.2,213.9 L227.8,215.8 L225.8,212.7ZM226.8,212.9 L229.2,216.5 L226.7,218.4 L224.4,214.5ZM226.0,215.8 L227.1,217.4 L224.7,219.5 L223.7,217.7ZM224.3,217.3 L225.4,219.1 L223.0,221.2 L221.9,219.2ZM222.8,219.2 L223.9,221.2 L221.1,222.5 L220.0,220.4ZM220.0,218.8 L221.7,222.1 L218.9,223.3 L217.3,219.9ZM217.9,219.4 L219.5,222.7 L216.6,223.8 L215.1,220.5ZM213.9,221.5 L214.7,223.4 L211.8,224.3 L211.1,222.4ZM211.9,222.4 L213.5,226.7 L210.4,227.3 L209.0,223.1ZM210.8,225.9 L211.9,229.1 L208.7,229.6 L207.7,226.4ZM208.4,226.0 L209.4,229.1 L206.2,229.5 L205.3,226.5ZM206.6,228.1 L207.2,230.1 L204.0,230.5 L203.5,228.5ZM199.5,228.3 L199.9,230.2 L196.8,230.2 L196.4,228.3ZM197.2,228.5 L197.7,231.1 L194.5,231.0 L194.2,228.5ZM194.9,228.2 L195.1,229.5 L192.0,229.2 L191.8,228.0ZM192.4,226.6 L192.6,228.3 L189.6,228.1 L189.4,226.5ZM192.6,228.4 L192.8,229.7 L189.7,229.4 L189.6,228.2ZM190.1,226.0 L190.3,227.6 L187.3,227.5 L187.2,225.9ZM190.3,227.6 L190.4,228.8 L187.4,228.5 L187.3,227.4ZM187.9,225.8 L188.0,227.4 L185.0,227.3 L185.0,225.8ZM188.0,227.3 L188.1,228.4 L185.1,228.3 L185.0,227.2ZM185.7,226.6 L185.8,227.6 L182.8,227.4 L182.8,226.4ZM183.6,226.5 L183.6,227.5 L180.6,227.2 L180.6,226.2ZM181.4,227.5 L181.4,228.6 L178.4,227.8 L178.4,226.8ZM179.2,227.4 L179.1,228.4 L176.1,229.2 L176.2,228.0ZM177.0,226.4 L176.9,227.4 L173.9,228.0 L174.0,227.0ZM174.7,227.1 L174.6,228.6 L171.6,229.1 L171.7,227.5ZM172.6,226.3 L172.4,228.6 L169.3,229.0 L169.6,226.6ZM170.3,227.1 L169.9,230.1 L166.8,230.1 L167.3,227.0ZM168.2,226.2 L167.8,228.9 L164.7,228.8 L165.2,226.0ZM166.0,226.2 L165.5,229.0 L162.4,228.8 L163.0,225.9ZM163.4,227.5 L163.1,229.1 L160.0,228.9 L160.4,227.2ZM161.4,226.3 L160.8,228.9 L157.7,228.6 L158.4,225.9ZM158.8,227.2 L158.0,230.2 L154.9,229.8 L155.8,226.7ZM156.6,226.9 L155.7,229.9 L152.5,229.4 L153.5,226.3ZM154.7,225.1 L153.9,227.7 L150.8,227.2 L151.7,224.5ZM152.2,225.6 L151.1,228.5 L148.0,227.9 L149.1,224.9ZM150.1,224.6 L148.5,228.8 L145.3,228.1 L147.1,223.8ZM148.0,223.7 L146.3,227.9 L143.0,227.4 L145.0,223.0ZM145.9,222.9 L144.5,225.9 L141.3,225.2 L142.9,222.1ZM144.2,221.0 L142.7,224.1 L139.7,223.3 L141.3,220.1ZM141.5,221.3 L139.7,224.8 L136.6,223.9 L138.6,220.3ZM138.4,222.2 L137.3,224.4 L134.2,223.3 L135.4,221.1ZM136.9,220.2 L135.7,222.2 L132.7,221.0 L134.0,219.0ZM134.1,220.3 L132.8,222.4 L129.8,221.1 L131.2,218.9ZM131.9,219.3 L129.5,223.1 L126.5,221.6 L129.1,217.9ZM129.5,218.6 L126.9,222.5 L124.3,220.3 L127.1,216.6ZM126.8,218.4 L125.2,220.5 L122.7,218.3 L124.3,216.2ZM122.2,212.4 L120.6,214.3 L118.5,211.8 L120.2,210.0ZM121.2,210.0 L119.4,212.0 L117.4,209.4 L119.2,207.5ZM116.1,205.1 L114.3,206.9 L112.5,204.2 L114.4,202.5ZM114.7,203.2 L111.5,206.1 L109.8,203.3 L113.1,200.5ZM113.2,201.4 L109.9,204.3 L108.3,201.4 L111.7,198.6ZM113.5,198.1 L110.5,200.6 L109.0,197.7 L112.1,195.4ZM111.9,196.5 L108.7,199.0 L107.6,195.8 L110.8,193.5ZM109.4,195.5 L107.5,196.9 L107.1,193.3 L109.0,192.1ZM109.6,192.5 L107.8,193.8 L107.5,190.3 L109.3,189.1ZM110.4,189.3 L108.7,190.4 L108.6,186.9 L110.2,186.0ZM110.2,186.8 L108.0,188.2 L108.1,184.6 L110.1,183.5ZM108.7,185.2 L107.4,185.9 L107.5,182.5 L108.7,181.9ZM111.2,181.3 L109.7,182.1 L108.6,179.5 L110.0,178.8ZM109.7,182.1 L108.7,182.7 L107.5,180.1 L108.6,179.5ZM109.7,179.7 L108.7,180.2 L107.6,177.6 L108.6,177.1ZM108.2,178.1 L107.1,178.7 L106.0,176.0 L107.1,175.5ZM107.9,175.9 L106.0,176.8 L105.0,174.1 L107.0,173.3ZM107.9,173.7 L106.1,174.4 L105.2,171.7 L107.0,171.0ZM107.7,171.5 L105.9,172.2 L105.1,169.5 L106.8,168.9ZM105.6,170.1 L104.5,170.5 L103.6,167.8 L104.8,167.4ZM102.6,162.2 L101.3,162.5 L100.6,159.7 L101.9,159.4ZM102.9,160.0 L101.7,160.2 L101.1,157.5 L102.3,157.2ZM102.5,157.9 L100.2,158.3 L99.6,155.5 L101.9,155.2ZM99.2,149.8 L97.7,149.9 L97.4,147.0 L98.9,146.9ZM98.5,139.0 L97.0,139.0 L96.9,136.0 L98.4,136.1ZM98.0,132.4 L96.4,132.2 L96.5,129.2 L98.1,129.5ZM98.3,130.3 L96.8,130.0 L96.9,127.0 L98.4,127.3ZM97.9,121.1 L96.3,120.7 L96.5,117.6 L98.1,118.0ZM98.5,119.0 L97.0,118.5 L97.2,115.4 L98.7,115.9ZM97.7,116.3 L96.1,115.8 L96.4,112.6 L98.0,113.2ZM99.1,114.4 L97.6,113.9 L97.6,110.6 L99.1,111.2ZM98.4,111.7 L96.8,111.1 L96.9,107.7 L98.6,108.4ZM99.9,109.8 L98.0,109.0 L98.2,105.7 L100.2,106.6ZM100.2,107.4 L96.7,105.9 L97.0,102.5 L100.6,104.2ZM103.9,104.1 L101.8,103.1 L102.7,100.1 L104.7,101.2ZM103.3,101.3 L101.4,100.2 L102.4,97.1 L104.3,98.2ZM106.8,92.5 L105.1,91.3 L106.3,88.2 L107.9,89.4ZM106.6,89.4 L104.7,88.1 L105.9,84.8 L107.7,86.2ZM110.4,86.3 L107.6,84.1 L109.1,81.1 L111.8,83.4ZM111.5,84.1 L108.8,81.9 L111.2,79.6 L113.5,81.7ZM112.2,81.6 L110.8,80.3 L113.3,78.1 L114.5,79.3ZM113.5,79.5 L112.1,78.2 L114.2,75.6 L115.5,76.9ZM115.0,77.6 L113.0,75.6 L114.6,72.4 L116.7,74.7ZM116.5,75.6 L115.2,74.3 L117.1,71.4 L118.4,72.8ZM117.5,73.0 L116.1,71.5 L118.3,69.0 L119.7,70.6ZM119.1,71.2 L116.9,68.7 L119.3,66.1 L121.4,68.7ZM120.8,69.4 L118.8,66.8 L121.2,64.4 L123.3,67.1ZM125.1,62.4 L123.8,60.5 L126.4,58.1 L127.7,60.1ZM127.9,62.0 L125.7,58.6 L128.4,56.3 L130.6,59.9ZM129.9,60.3 L127.6,56.7 L130.3,54.3 L132.5,58.2ZM131.7,58.5 L129.4,54.6 L131.7,51.2 L134.2,55.8ZM133.6,56.6 L132.2,54.0 L135.7,53.2 L137.0,55.7ZM136.0,55.7 L134.7,53.1 L138.5,52.8 L139.6,55.3ZM139.1,56.1 L138.0,53.8 L141.5,53.2 L142.5,55.5ZM140.7,53.5 L139.6,51.1 L142.8,49.7 L143.9,52.3ZM143.2,52.8 L142.2,50.4 L145.4,49.0 L146.4,51.6ZM167.7,45.2 L167.2,42.0 L170.7,41.0 L171.1,44.4ZM170.3,45.1 L169.7,39.4 L173.2,38.5 L173.7,44.4ZM172.8,44.4 L172.3,38.5 L175.9,37.7 L176.2,43.8ZM175.1,39.8 L174.9,36.1 L178.7,35.4 L178.7,39.2ZM178.1,48.9 L178.0,45.4 L181.4,45.0 L181.4,48.7Z"/>
<path fill="#f9b01c" d="M180.6,40.0 L180.5,33.5 L184.3,33.6 L184.1,40.2ZM183.3,36.7 L183.4,33.0 L187.2,33.2 L187.0,37.0ZM186.1,36.0 L186.3,32.1 L190.2,32.5 L189.9,36.3ZM188.9,37.1 L189.1,33.4 L193.0,33.8 L192.5,37.6ZM191.4,40.0 L192.1,33.2 L195.9,33.4 L195.0,40.3ZM194.1,40.4 L194.9,33.5 L198.8,33.7 L197.7,40.6ZM196.8,40.6 L197.8,33.7 L201.7,34.0 L200.4,41.0ZM199.4,41.3 L200.1,37.5 L203.8,37.9 L203.0,41.8ZM200.8,47.6 L201.7,43.7 L205.1,44.5 L204.1,48.4ZM203.4,48.0 L204.3,44.1 L207.6,45.4 L206.6,49.2ZM204.8,41.8 L206.5,34.8 L210.1,36.3 L208.2,43.2ZM205.8,48.8 L206.8,45.0 L210.1,46.4 L209.0,50.1ZM207.4,42.7 L209.2,35.7 L212.8,37.4 L210.8,44.1ZM208.2,49.6 L209.3,45.8 L212.6,47.3 L211.3,51.0ZM210.0,43.5 L211.1,39.7 L214.5,41.3 L213.3,45.1ZM212.1,45.8 L213.3,42.2 L216.8,43.4 L215.5,46.9ZM216.2,50.2 L217.5,46.7 L220.9,48.0 L219.4,51.4ZM218.8,50.6 L220.3,47.0 L223.6,48.4 L222.0,51.9ZM222.6,48.5 L224.2,44.9 L227.6,46.4 L225.9,50.0ZM225.1,42.8 L226.7,39.2 L230.3,40.8 L228.6,44.4ZM225.2,49.3 L226.9,45.7 L228.0,51.7 L226.5,54.7ZM227.9,43.5 L229.6,39.9 L230.3,47.3 L228.8,50.2ZM225.2,55.2 L226.6,52.4 L229.2,55.2 L227.8,57.8ZM225.9,59.4 L229.4,53.0 L231.8,55.9 L228.4,61.8ZM227.6,61.5 L228.9,59.1 L231.9,60.8 L230.4,63.2ZM229.5,58.1 L230.9,55.7 L234.0,57.3 L232.5,59.7ZM230.0,62.2 L231.6,59.7 L234.5,61.4 L232.8,63.9ZM232.0,63.8 L234.7,59.5 L237.7,61.2 L234.8,65.5ZM234.2,64.9 L237.1,60.6 L240.0,62.6 L236.9,66.7ZM235.3,67.6 L241.2,59.4 L244.0,61.6 L237.9,69.5ZM236.8,69.6 L241.2,63.9 L243.9,66.0 L239.4,71.6ZM240.1,69.4 L243.2,65.5 L245.8,67.7 L242.2,72.0ZM241.9,71.1 L244.0,68.6 L246.3,71.1 L243.9,73.8ZM243.5,73.0 L246.0,70.2 L248.7,72.3 L246.2,74.9ZM245.3,74.7 L249.5,70.1 L251.4,73.2 L247.3,77.2ZM246.7,76.7 L250.7,72.7 L252.6,75.6 L248.8,79.3ZM249.6,77.3 L253.4,73.7 L255.5,76.5 L251.8,79.8ZM251.8,78.7 L255.7,75.1 L257.8,78.0 L254.0,81.2ZM251.1,82.6 L253.1,80.8 L255.3,83.3 L253.3,85.0ZM254.0,80.1 L256.1,78.3 L258.3,81.0 L256.2,82.7ZM253.4,83.9 L255.5,82.1 L257.7,84.7 L255.5,86.3ZM253.4,86.9 L257.1,84.0 L259.3,86.7 L255.6,89.3ZM255.0,88.7 L258.6,86.1 L260.8,88.7 L257.2,91.1ZM259.4,85.5 L261.5,84.0 L263.7,86.7 L261.6,88.1ZM257.1,90.2 L260.8,87.6 L263.0,90.2 L259.3,92.7ZM261.7,87.0 L263.9,85.5 L266.1,88.3 L263.9,89.7ZM258.8,92.0 L262.5,89.5 L264.7,92.2 L261.0,94.5ZM263.4,89.0 L265.6,87.5 L267.7,90.4 L265.5,91.7ZM260.4,93.9 L264.1,91.6 L266.1,94.4 L262.4,96.5ZM264.9,91.1 L267.0,89.8 L269.0,92.7 L266.8,93.9ZM262.2,95.6 L266.0,93.4 L267.8,96.4 L264.1,98.3ZM263.3,97.9 L266.7,96.0 L268.2,99.0 L264.8,100.8ZM265.6,99.4 L267.6,98.4 L269.1,101.5 L267.0,102.4ZM265.6,102.2 L269.1,100.5 L270.5,103.6 L267.0,105.2ZM266.9,104.3 L270.5,102.7 L272.0,105.8 L268.3,107.3ZM268.2,106.4 L272.0,104.9 L273.4,108.0 L269.5,109.5ZM270.0,108.4 L272.1,107.6 L273.4,110.7 L271.2,111.5ZM271.6,110.5 L273.9,109.6 L275.5,112.7 L273.1,113.5ZM272.5,112.8 L274.9,112.0 L276.5,115.2 L273.9,115.9ZM273.9,115.1 L276.4,114.3 L278.0,117.5 L275.3,118.2ZM274.9,120.0 L279.4,118.9 L279.6,122.5 L275.0,123.4ZM275.1,122.6 L279.7,121.6 L279.8,125.1 L275.1,126.0ZM274.6,125.2 L279.1,124.4 L278.8,127.9 L274.3,128.6ZM273.9,127.9 L278.3,127.2 L277.3,130.7 L273.1,131.3ZM274.9,130.2 L277.5,129.9 L276.6,133.4 L274.3,133.6ZM273.1,132.9 L275.5,132.7 L274.5,136.1 L272.3,136.2ZM271.9,135.4 L273.9,135.3 L272.8,138.6 L271.0,138.7ZM271.5,137.9 L273.4,137.8 L273.8,141.0 L271.9,141.0ZM271.5,140.2 L273.2,140.2 L273.6,143.4 L271.8,143.4ZM272.6,142.6 L274.5,142.6 L274.6,145.9 L272.6,145.8ZM271.6,145.0 L273.3,145.0 L273.3,148.2 L271.6,148.1ZM271.5,147.3 L273.2,147.4 L273.2,150.7 L271.4,150.5ZM272.5,149.8 L274.5,149.9 L274.4,153.2 L272.4,153.0ZM274.7,157.4 L276.7,157.7 L276.5,161.1 L274.4,160.7ZM272.8,162.1 L274.9,162.5 L273.8,165.7 L271.7,165.2ZM268.5,171.0 L270.4,171.6 L268.9,174.6 L267.1,173.9ZM268.1,173.4 L270.1,174.1 L268.6,177.1 L266.7,176.3ZM265.8,175.1 L267.5,175.8 L265.9,178.6 L264.2,177.9ZM264.7,177.2 L266.3,177.9 L264.7,180.7 L263.1,180.0ZM263.0,179.1 L264.6,179.8 L262.8,182.5 L261.4,181.8ZM261.6,181.0 L264.0,182.2 L262.2,184.8 L259.9,183.7ZM260.2,182.9 L262.5,184.1 L260.8,186.8 L258.6,185.6ZM258.4,184.6 L260.4,185.7 L258.6,188.3 L256.6,187.1ZM257.9,187.0 L260.3,188.3 L258.5,190.9 L256.1,189.5ZM257.1,189.2 L258.6,190.1 L256.7,192.6 L255.2,191.7ZM255.9,191.2 L257.4,192.2 L255.5,194.7 L254.0,193.6ZM253.9,192.6 L255.3,193.6 L253.3,196.0 L251.9,195.0ZM252.7,194.6 L254.2,195.7 L252.2,198.1 L250.7,197.0ZM250.6,196.0 L252.0,197.0 L250.0,199.4 L248.7,198.3ZM244.3,202.6 L245.6,203.8 L243.3,205.8 L242.1,204.6ZM243.3,204.8 L245.4,206.9 L243.0,208.9 L241.0,206.8ZM240.7,205.4 L242.4,207.2 L240.0,209.1 L238.4,207.3ZM239.1,206.9 L240.8,208.8 L238.4,210.8 L236.7,208.8ZM236.7,207.7 L237.9,209.0 L235.4,210.8 L234.4,209.5ZM237.9,209.1 L239.0,210.4 L236.6,212.2 L235.5,210.9ZM234.7,208.8 L236.9,211.4 L234.3,213.1 L232.3,210.5ZM232.9,210.0 L234.9,212.6 L232.3,214.3 L230.4,211.6ZM231.8,212.2 L233.3,214.4 L230.9,216.3 L229.4,214.1ZM229.8,213.3 L231.2,215.4 L228.8,217.4 L227.4,215.1ZM228.8,215.9 L229.9,217.5 L227.4,219.4 L226.3,217.7ZM226.6,216.8 L228.3,219.4 L226.0,221.7 L224.3,218.8ZM225.0,218.4 L226.6,221.2 L224.3,223.6 L222.6,220.4ZM223.5,220.5 L225.3,223.8 L222.4,225.1 L220.7,221.8ZM221.4,221.4 L223.1,224.8 L220.1,226.0 L218.5,222.6ZM219.1,222.0 L220.7,225.3 L217.7,226.4 L216.2,223.1ZM217.0,223.0 L218.5,226.3 L215.5,227.3 L214.1,224.0ZM214.4,222.6 L215.6,225.6 L212.7,226.6 L211.5,223.5ZM204.0,227.4 L204.5,229.3 L201.4,229.6 L200.9,227.7ZM201.6,227.4 L202.1,229.2 L198.9,229.3 L198.6,227.5ZM199.8,229.4 L200.1,230.9 L196.9,230.9 L196.6,229.4ZM174.7,227.8 L174.6,228.9 L171.5,229.5 L171.7,228.3ZM172.5,227.8 L172.3,228.9 L169.2,229.4 L169.4,228.2ZM163.2,228.4 L163.0,229.7 L159.8,229.4 L160.2,228.1ZM161.0,228.1 L160.6,229.4 L157.5,229.1 L157.9,227.8ZM158.3,229.4 L157.9,230.9 L154.7,230.5 L155.1,229.0ZM155.9,229.1 L155.5,230.6 L152.3,230.1 L152.8,228.6ZM154.1,227.0 L153.7,228.3 L150.6,227.8 L151.0,226.4ZM151.4,227.8 L150.9,229.2 L147.7,228.6 L148.3,227.1ZM148.8,228.1 L148.2,229.7 L144.9,229.0 L145.6,227.4ZM146.6,227.2 L145.9,228.7 L142.6,228.2 L143.3,226.6ZM144.8,225.2 L144.0,227.1 L140.8,226.4 L141.7,224.5ZM143.1,223.4 L142.2,225.3 L139.0,224.5 L140.0,222.6ZM136.1,221.5 L135.0,223.5 L131.9,222.4 L133.1,220.3ZM133.2,221.8 L131.9,223.9 L128.8,222.6 L130.2,220.5ZM125.7,219.9 L124.1,222.0 L121.6,219.8 L123.2,217.7ZM125.4,216.1 L122.9,219.5 L120.4,217.1 L123.1,213.8ZM124.0,214.0 L121.4,217.3 L119.1,214.9 L121.8,211.7ZM121.1,213.7 L119.5,215.6 L117.4,213.1 L119.0,211.2ZM118.7,212.8 L117.0,214.7 L114.9,212.1 L116.7,210.2ZM117.0,211.0 L115.2,212.9 L113.2,210.2 L115.1,208.3ZM117.0,207.5 L115.3,209.2 L113.5,206.5 L115.2,204.9ZM114.8,206.3 L113.0,208.1 L111.2,205.3 L113.1,203.6ZM109.3,198.5 L107.7,199.8 L106.7,196.5 L108.3,195.3ZM109.4,190.0 L108.0,190.8 L108.0,187.3 L109.3,186.5ZM98.7,109.3 L97.2,108.7 L97.3,105.3 L98.9,106.0ZM98.3,104.0 L96.1,102.9 L96.6,99.5 L98.8,100.7ZM104.6,101.9 L102.6,100.9 L103.6,97.8 L105.5,98.9ZM104.6,99.3 L101.3,97.4 L102.3,94.3 L105.5,96.3ZM105.5,97.2 L102.4,95.3 L103.6,92.2 L106.5,94.2ZM105.6,94.5 L101.3,91.7 L102.5,88.6 L106.7,91.5ZM105.7,91.7 L102.9,89.8 L104.2,86.7 L106.9,88.7ZM104.2,87.7 L102.3,86.4 L103.6,83.1 L105.4,84.4ZM107.7,87.2 L106.0,85.9 L107.2,82.7 L108.9,84.1ZM105.5,85.6 L103.8,84.3 L105.2,81.1 L106.8,82.4ZM112.6,78.7 L111.3,77.4 L113.4,74.9 L114.8,76.2ZM121.5,66.2 L120.2,64.5 L122.6,61.9 L123.9,63.8ZM123.0,63.9 L121.6,62.0 L124.2,59.5 L125.5,61.6ZM132.6,54.7 L130.2,50.3 L133.9,49.6 L136.1,53.9ZM135.1,53.8 L132.8,49.4 L136.8,49.3 L138.8,53.5ZM138.3,54.5 L136.4,50.5 L140.2,50.2 L141.8,54.0ZM139.9,51.8 L138.8,49.4 L142.1,48.0 L143.2,50.5ZM142.5,51.1 L141.4,48.7 L144.7,47.2 L145.7,49.8ZM145.8,52.5 L144.2,48.4 L147.5,47.0 L149.0,51.3ZM148.0,51.0 L146.4,46.5 L149.7,45.2 L151.2,49.9ZM150.5,50.5 L149.0,45.9 L152.4,44.8 L153.8,49.5ZM152.8,49.5 L151.4,44.6 L154.8,43.5 L156.1,48.5ZM155.3,48.9 L154.0,44.0 L157.4,42.9 L158.6,48.0ZM157.9,48.8 L156.8,44.0 L160.2,43.0 L161.2,47.9ZM160.2,47.2 L159.1,41.9 L162.5,40.8 L163.5,46.2ZM162.8,47.1 L161.8,41.9 L165.3,40.7 L166.1,46.1ZM165.2,46.1 L164.3,40.7 L167.8,39.6 L168.6,45.3ZM167.4,42.8 L166.6,37.0 L170.2,35.8 L170.8,41.8ZM169.7,40.2 L169.4,36.9 L173.0,35.9 L173.3,39.3ZM172.4,39.3 L172.1,35.9 L175.8,35.0 L176.0,38.5ZM175.0,36.9 L174.8,33.2 L178.6,32.4 L178.7,36.2ZM177.9,40.6 L177.7,34.3 L181.5,33.6 L181.4,40.1Z"/>
<path fill="#fd8b10" d="M180.5,34.3 L180.5,28.2 L184.5,28.3 L184.3,34.4ZM183.3,39.7 L183.3,35.9 L187.1,36.2 L186.9,39.9ZM183.4,33.8 L183.5,27.5 L187.5,27.7 L187.2,34.0ZM186.0,39.1 L186.2,35.2 L189.9,35.5 L189.6,39.4ZM186.3,32.9 L186.6,26.4 L190.7,26.7 L190.1,33.3ZM188.6,40.1 L188.9,36.3 L192.6,36.8 L192.2,40.5ZM189.1,34.2 L189.6,27.9 L193.6,28.3 L192.9,34.6ZM192.0,34.0 L192.6,27.5 L196.7,27.7 L195.8,34.2ZM194.8,34.3 L195.6,27.9 L199.7,28.0 L198.7,34.5ZM197.7,34.5 L198.7,28.0 L202.8,28.2 L201.5,34.8ZM199.9,38.3 L201.6,28.9 L205.7,29.2 L203.6,38.7ZM202.1,41.4 L204.8,28.7 L208.8,29.6 L205.7,42.2ZM206.3,35.6 L207.9,28.9 L211.6,30.7 L209.9,37.1ZM209.0,36.5 L210.8,29.9 L214.5,31.8 L212.6,38.1ZM210.9,40.5 L213.7,30.9 L217.3,32.8 L214.3,42.1ZM213.0,43.0 L215.8,34.2 L219.6,35.4 L216.5,44.1ZM215.7,43.8 L218.7,35.0 L222.5,36.3 L219.1,45.0ZM218.3,44.7 L221.5,36.0 L225.3,37.4 L221.7,46.0ZM221.1,44.9 L224.8,36.0 L228.5,37.5 L224.6,46.3ZM223.8,45.7 L225.4,42.1 L228.9,43.6 L227.2,47.2ZM226.3,40.0 L227.8,36.7 L231.5,38.4 L229.9,41.5ZM226.6,46.4 L228.3,42.8 L229.1,49.5 L227.6,52.5ZM229.3,40.6 L230.8,37.4 L231.2,45.4 L229.9,48.0ZM226.3,53.1 L229.6,46.6 L232.1,49.8 L228.8,55.9ZM229.0,53.7 L231.2,49.5 L233.6,52.8 L231.4,56.6ZM230.5,56.4 L232.7,52.6 L235.9,54.2 L233.6,58.0ZM232.3,58.5 L235.9,52.6 L239.1,54.3 L235.3,60.2ZM234.3,60.2 L238.0,54.4 L241.2,56.2 L237.3,61.9ZM236.7,61.2 L240.6,55.4 L243.6,57.6 L239.5,63.2ZM240.7,60.0 L243.7,55.9 L246.6,58.2 L243.6,62.2ZM240.7,64.5 L244.8,59.1 L247.6,61.5 L243.4,66.7ZM242.7,66.1 L246.9,60.8 L250.3,62.6 L245.3,68.3ZM243.5,69.2 L250.2,61.3 L253.6,63.0 L245.8,71.7ZM245.4,70.8 L253.4,61.9 L256.1,64.5 L248.1,72.9ZM249.0,70.7 L254.8,64.5 L256.4,68.2 L250.9,73.7ZM250.1,73.3 L255.6,67.8 L257.2,71.3 L252.0,76.2ZM252.8,74.3 L256.3,70.9 L258.4,73.9 L254.9,77.0ZM255.1,75.7 L258.7,72.4 L260.7,75.5 L257.2,78.5ZM252.5,81.4 L254.6,79.6 L256.8,82.2 L254.7,83.8ZM255.5,78.8 L258.7,76.1 L260.8,78.9 L257.6,81.5ZM254.9,82.6 L261.5,77.3 L263.6,80.2 L257.1,85.2ZM256.5,84.5 L262.9,79.6 L265.0,82.6 L258.6,87.1ZM257.9,86.6 L260.1,85.0 L262.2,87.7 L260.1,89.1ZM260.9,84.4 L264.1,82.0 L266.3,84.9 L263.0,87.2ZM260.1,88.1 L262.3,86.6 L264.6,89.3 L262.4,90.7ZM263.2,86.0 L266.6,83.6 L268.8,86.5 L265.4,88.7ZM261.9,90.0 L264.1,88.5 L266.2,91.3 L264.0,92.6ZM264.9,88.0 L268.3,85.8 L270.5,88.7 L267.1,90.8ZM263.4,92.0 L265.5,90.7 L267.5,93.5 L265.4,94.8ZM266.4,90.2 L269.7,88.1 L271.6,91.2 L268.3,93.1ZM265.3,93.9 L271.7,90.1 L273.4,93.4 L267.1,96.7ZM266.0,96.4 L271.8,93.2 L273.3,96.5 L267.5,99.4ZM266.9,98.8 L272.5,95.9 L274.0,99.1 L268.3,101.8ZM268.4,100.8 L274.3,98.0 L275.7,101.3 L269.8,103.9ZM269.8,103.0 L275.9,100.3 L277.5,103.5 L271.3,106.1ZM271.2,105.2 L277.7,102.5 L279.2,105.8 L272.6,108.3ZM271.4,107.9 L277.3,105.6 L278.7,108.9 L272.6,111.0ZM273.2,109.9 L279.8,107.5 L281.9,110.7 L274.8,113.0ZM274.1,112.3 L281.0,110.0 L283.2,113.2 L275.7,115.4ZM275.7,114.5 L283.2,112.2 L285.3,115.5 L277.2,117.7ZM275.2,117.3 L285.3,114.6 L285.7,118.3 L275.6,120.7ZM278.6,119.1 L284.6,117.7 L284.8,121.4 L278.8,122.7ZM279.0,121.7 L285.1,120.4 L285.3,124.1 L279.0,125.3ZM278.3,124.5 L284.3,123.4 L283.9,127.2 L278.0,128.1ZM277.5,127.3 L283.3,126.3 L282.0,130.2 L276.5,130.8ZM276.7,130.0 L282.3,129.2 L280.9,132.9 L275.8,133.4ZM274.7,132.7 L281.5,132.0 L279.4,135.7 L273.7,136.1ZM273.1,135.3 L278.6,134.9 L276.3,138.4 L272.0,138.6ZM272.6,137.8 L277.2,137.5 L277.6,140.9 L273.0,141.0ZM272.4,140.2 L276.7,140.1 L276.9,143.4 L272.8,143.4ZM273.7,142.6 L278.5,142.6 L278.7,146.0 L273.8,145.8ZM272.5,145.0 L276.5,145.1 L276.7,148.4 L272.5,148.2ZM272.4,147.4 L276.5,147.6 L276.6,150.9 L272.4,150.6ZM273.7,149.9 L278.8,150.3 L278.8,153.7 L273.6,153.1ZM273.3,152.3 L278.3,152.8 L278.2,156.2 L273.1,155.5ZM273.4,154.8 L278.7,155.4 L278.6,158.9 L273.2,158.0ZM273.4,157.2 L275.5,157.5 L275.2,160.9 L273.1,160.5ZM276.0,157.6 L278.9,158.1 L278.8,161.6 L275.7,161.0ZM272.0,159.5 L276.9,160.3 L276.4,163.7 L271.4,162.6ZM274.1,162.4 L278.5,163.3 L277.4,166.6 L273.1,165.5ZM270.9,164.2 L275.8,165.3 L274.6,168.5 L269.8,167.2ZM270.1,166.4 L274.9,167.7 L273.6,170.9 L268.9,169.5ZM269.4,168.8 L274.4,170.2 L272.9,173.3 L268.1,171.7ZM269.7,171.4 L273.5,172.6 L271.8,175.6 L268.2,174.3ZM269.3,173.9 L273.4,175.3 L271.6,178.3 L267.8,176.8ZM266.7,175.5 L269.9,176.7 L268.2,179.6 L265.1,178.3ZM265.6,177.6 L268.7,178.9 L266.8,181.7 L263.9,180.4ZM263.8,179.5 L266.6,180.7 L264.7,183.4 L262.1,182.1ZM263.3,181.8 L266.2,183.2 L264.2,185.9 L261.5,184.5ZM261.8,183.7 L264.5,185.1 L262.7,187.8 L260.1,186.4ZM259.7,185.3 L261.9,186.5 L260.2,189.2 L257.9,187.9ZM259.6,187.9 L262.4,189.5 L260.6,192.3 L257.8,190.5ZM257.9,189.7 L260.6,191.3 L258.7,194.0 L256.0,192.2ZM256.8,191.7 L259.6,193.6 L257.7,196.2 L254.8,194.2ZM254.6,193.1 L257.2,194.9 L255.3,197.5 L252.7,195.6ZM253.6,195.2 L256.4,197.2 L254.4,199.8 L251.6,197.6ZM251.4,196.5 L253.9,198.4 L251.9,200.9 L249.4,198.9ZM250.3,198.6 L253.0,200.8 L250.8,203.2 L248.2,200.9ZM248.4,200.0 L250.8,202.1 L248.5,204.3 L246.2,202.2ZM247.5,202.4 L250.3,204.8 L247.9,207.1 L245.3,204.5ZM245.0,203.2 L247.3,205.4 L244.9,207.5 L242.7,205.3ZM244.9,206.3 L246.7,208.1 L244.2,210.2 L242.5,208.3ZM241.9,206.6 L243.3,208.1 L240.9,210.1 L239.5,208.5ZM240.3,208.2 L241.7,209.9 L239.3,211.8 L237.9,210.2ZM238.5,209.8 L240.0,211.4 L237.4,213.3 L236.1,211.6ZM236.3,210.7 L237.7,212.4 L235.1,214.2 L233.9,212.5ZM234.4,211.9 L235.6,213.6 L233.1,215.3 L231.8,213.6ZM232.8,213.7 L234.2,215.5 L231.8,217.6 L230.5,215.7ZM230.8,214.7 L232.0,216.5 L229.7,218.7 L228.4,216.7ZM229.4,216.9 L231.6,220.2 L229.1,222.3 L227.0,218.7ZM227.9,218.7 L229.3,221.0 L227.0,223.5 L225.6,221.0ZM226.2,220.6 L227.7,223.1 L225.5,225.8 L224.0,222.9ZM224.9,223.1 L226.6,226.1 L223.6,227.4 L222.0,224.4ZM222.7,224.1 L224.3,227.1 L221.2,228.3 L219.8,225.2ZM220.3,224.6 L221.8,227.5 L218.7,228.6 L217.4,225.7ZM218.2,225.6 L219.5,228.6 L216.4,229.6 L215.2,226.6ZM215.3,224.9 L216.4,227.5 L213.4,228.4 L212.4,225.8ZM213.2,225.9 L214.3,228.6 L211.1,229.2 L210.2,226.6ZM211.7,228.4 L212.2,230.0 L209.0,230.5 L208.5,228.9ZM209.1,228.3 L209.7,229.9 L206.4,230.3 L206.0,228.7ZM207.0,229.4 L207.5,231.0 L204.2,231.3 L203.8,229.7ZM204.3,228.5 L204.7,230.0 L201.5,230.2 L201.2,228.8ZM201.9,228.4 L202.2,229.8 L199.1,229.9 L198.8,228.5ZM144.3,226.3 L143.7,227.8 L140.4,227.3 L141.1,225.7ZM142.5,224.6 L141.3,227.3 L137.9,226.6 L139.4,223.8ZM140.1,224.1 L137.8,228.7 L134.4,227.9 L137.0,223.2ZM137.6,223.7 L135.1,228.5 L131.7,227.5 L134.6,222.6ZM135.4,222.8 L133.7,225.8 L130.4,224.7 L132.3,221.7ZM132.3,223.2 L130.3,226.6 L127.0,225.4 L129.2,222.0ZM129.9,222.4 L127.8,225.8 L124.5,224.4 L126.9,221.0ZM127.3,221.8 L124.9,225.3 L122.3,223.1 L124.8,219.7ZM124.6,221.4 L123.2,223.2 L120.7,220.9 L122.0,219.1ZM123.3,218.8 L122.1,220.5 L119.6,218.2 L120.9,216.5ZM121.9,216.6 L120.6,218.2 L118.2,215.8 L119.6,214.3ZM120.0,215.0 L118.7,216.6 L116.5,214.0 L117.9,212.5ZM117.5,214.1 L116.0,215.8 L113.9,213.1 L115.4,211.5ZM115.8,212.4 L114.2,214.0 L112.2,211.2 L113.8,209.7ZM115.9,208.7 L114.5,210.1 L112.6,207.4 L114.0,206.0ZM113.6,207.6 L112.0,209.0 L110.2,206.2 L111.8,204.8ZM112.1,205.6 L110.5,207.1 L108.7,204.2 L110.4,202.8ZM110.5,203.7 L108.8,205.2 L107.2,202.3 L108.9,200.9ZM111.1,200.1 L109.6,201.3 L108.1,198.4 L109.7,197.3ZM108.1,196.4 L106.5,197.7 L106.2,194.0 L107.7,192.9ZM108.4,193.4 L106.9,194.4 L106.7,190.8 L108.2,189.9ZM97.4,106.2 L95.7,105.5 L96.0,102.0 L97.8,102.8ZM99.7,104.7 L97.5,103.6 L98.1,100.3 L100.3,101.4ZM96.8,103.3 L94.9,102.4 L95.5,99.0 L97.3,99.9ZM101.2,102.8 L96.9,100.6 L97.9,97.4 L102.2,99.7ZM102.1,100.6 L98.0,98.4 L99.1,95.2 L103.1,97.5ZM102.0,97.8 L97.7,95.4 L98.9,92.2 L103.0,94.7ZM103.1,95.7 L99.2,93.3 L100.5,90.2 L104.2,92.7ZM101.9,92.1 L99.1,90.3 L100.5,87.2 L103.2,89.0ZM103.5,90.3 L101.0,88.6 L102.5,85.5 L104.9,87.2ZM105.4,88.5 L103.5,87.2 L104.7,83.9 L106.5,85.3ZM103.0,86.8 L100.2,84.9 L101.6,81.5 L104.2,83.5ZM106.6,86.4 L104.9,85.1 L106.2,81.9 L107.9,83.2ZM104.5,84.8 L102.0,83.0 L103.4,79.6 L105.8,81.6ZM108.2,84.6 L102.6,80.1 L104.1,76.7 L109.7,81.6ZM109.5,82.4 L104.1,77.9 L107.1,75.9 L111.7,80.1ZM111.4,80.9 L106.9,76.9 L110.2,75.2 L113.8,78.7ZM111.8,77.9 L108.3,74.6 L110.7,72.1 L114.0,75.4ZM113.6,76.2 L110.4,73.0 L111.7,69.3 L115.1,73.0ZM115.1,74.1 L111.9,70.8 L113.5,67.4 L116.9,71.1ZM115.8,71.2 L112.1,67.1 L114.5,64.4 L118.0,68.6ZM117.5,69.3 L113.9,65.1 L116.3,62.4 L119.8,66.7ZM119.3,67.4 L115.8,63.2 L118.3,60.5 L121.7,65.0ZM120.7,65.1 L117.0,60.4 L119.4,57.4 L123.1,62.5ZM122.1,62.7 L118.2,57.3 L120.7,54.4 L124.6,60.2ZM124.2,61.1 L120.4,55.7 L123.0,52.9 L126.8,58.8ZM126.1,59.3 L122.3,53.5 L125.0,50.8 L128.8,57.0ZM128.0,57.4 L124.2,51.2 L126.9,48.3 L130.7,55.0ZM129.8,55.2 L125.8,48.4 L127.7,43.8 L132.1,51.9ZM130.5,51.0 L127.3,45.1 L131.4,44.6 L134.3,50.3ZM133.1,50.1 L130.1,44.1 L134.5,44.4 L137.2,50.0ZM136.7,51.2 L134.2,46.0 L138.3,45.9 L140.5,50.9ZM139.2,50.1 L136.7,44.7 L140.1,43.0 L142.4,48.7ZM141.7,49.4 L139.4,43.9 L142.8,42.2 L145.0,48.0ZM144.5,49.1 L142.4,43.7 L145.8,42.1 L147.7,47.8ZM146.6,47.3 L144.5,41.2 L147.9,39.7 L149.9,46.0ZM149.2,46.7 L147.2,40.6 L150.7,39.2 L152.6,45.5ZM151.6,45.4 L149.7,38.9 L153.2,37.5 L155.0,44.3ZM154.2,44.8 L152.4,38.2 L156.0,36.9 L157.6,43.7ZM157.0,44.8 L155.4,38.4 L159.0,37.2 L160.4,43.8ZM159.2,42.7 L157.7,35.6 L161.3,34.1 L162.7,41.5ZM162.0,42.7 L160.6,35.7 L164.2,34.1 L165.4,41.5ZM164.5,41.5 L163.3,34.1 L167.0,32.6 L167.9,40.3ZM166.7,37.8 L166.0,32.4 L169.7,31.0 L170.3,36.6ZM169.5,37.7 L168.9,32.4 L172.7,31.2 L173.1,36.7ZM172.2,36.7 L171.7,31.2 L175.6,30.1 L175.9,35.8ZM174.8,34.0 L174.5,27.8 L178.5,26.8 L178.6,33.2ZM177.7,35.1 L177.5,29.2 L181.5,28.3 L181.5,34.4Z"/>
<path fill="#9aba20" d="M187.6,54.8 L187.8,51.1 L191.0,51.5 L190.6,55.2ZM189.9,55.1 L190.5,48.3 L193.8,48.6 L192.9,55.5ZM192.5,52.4 L193.0,48.6 L196.3,49.0 L195.7,52.9ZM194.9,52.8 L195.5,49.0 L198.8,49.5 L198.0,53.3ZM196.7,56.4 L197.9,49.6 L201.2,50.1 L199.7,57.0ZM198.9,56.8 L200.4,49.9 L203.6,50.7 L201.9,57.6ZM201.2,57.4 L202.1,53.5 L205.1,54.5 L204.1,58.3ZM202.6,51.2 L203.5,47.3 L206.8,48.5 L205.7,52.3ZM205.0,51.9 L206.0,48.1 L209.2,49.3 L208.1,53.1ZM206.4,55.8 L207.5,51.9 L210.6,53.2 L209.4,56.9ZM208.5,57.0 L209.7,53.5 L212.8,54.5 L211.5,58.0ZM210.8,57.7 L212.0,54.2 L215.1,55.3 L213.8,58.8ZM224.6,66.7 L226.0,64.3 L228.7,66.0 L227.2,68.4ZM226.7,67.7 L228.2,65.2 L230.9,67.0 L229.2,69.5ZM228.5,69.2 L230.1,66.7 L232.8,68.4 L231.1,70.8ZM230.5,70.3 L232.2,67.8 L234.8,69.6 L233.0,72.0ZM232.6,71.4 L234.4,68.8 L237.0,70.7 L235.1,73.1ZM234.3,73.0 L236.0,70.6 L238.5,72.6 L236.7,74.8ZM236.1,74.3 L237.9,72.1 L239.6,75.0 L237.5,77.4ZM237.0,76.8 L239.2,74.3 L240.6,77.4 L238.2,80.0ZM246.7,86.4 L248.8,84.6 L251.0,86.8 L248.9,88.5ZM248.7,87.7 L250.9,85.9 L253.1,88.2 L250.9,89.9ZM248.9,90.5 L252.6,87.6 L254.7,89.9 L251.1,92.6ZM250.6,92.0 L254.2,89.3 L256.4,91.7 L252.8,94.1ZM252.5,93.4 L256.2,90.8 L258.4,93.2 L254.7,95.6ZM254.2,95.0 L256.4,93.5 L258.6,95.9 L256.4,97.3ZM259.2,97.4 L261.4,96.1 L263.3,98.8 L261.2,99.9ZM260.5,99.4 L262.6,98.2 L264.1,101.1 L262.1,102.1ZM261.6,101.5 L263.6,100.4 L265.1,103.3 L263.0,104.3ZM264.0,105.6 L266.2,104.6 L267.6,107.6 L265.4,108.5ZM265.1,107.7 L268.9,106.1 L270.3,109.2 L266.4,110.6ZM265.8,110.0 L269.3,108.6 L270.5,111.7 L266.9,113.0ZM266.9,112.2 L270.8,110.8 L272.1,113.8 L268.0,115.2ZM267.6,114.4 L271.6,113.1 L272.9,116.2 L268.6,117.5ZM268.5,116.7 L272.8,115.4 L274.1,118.5 L269.5,119.7ZM265.8,119.9 L274.0,117.7 L274.4,121.0 L266.2,122.9ZM266.1,122.2 L272.0,120.7 L272.1,124.1 L266.0,125.3ZM265.9,124.6 L272.0,123.2 L272.0,126.5 L265.8,127.7ZM265.6,126.9 L271.6,125.8 L271.4,129.1 L265.4,130.0ZM265.3,129.3 L267.5,128.9 L267.1,132.0 L265.0,132.3ZM268.5,128.7 L271.1,128.3 L270.5,131.6 L268.0,131.9ZM264.9,131.6 L267.1,131.3 L267.4,134.3 L265.5,134.5ZM268.0,131.2 L270.5,130.8 L270.5,134.0 L268.1,134.2ZM266.9,135.9 L268.9,135.7 L268.9,138.8 L267.2,138.9ZM268.6,140.3 L270.3,140.3 L270.7,143.4 L269.0,143.4ZM268.2,142.6 L271.2,142.6 L271.2,145.8 L268.1,145.7ZM267.9,144.9 L270.5,145.0 L270.5,148.1 L267.8,147.9ZM268.7,147.2 L270.4,147.3 L270.3,150.4 L268.6,150.3ZM270.2,149.6 L272.2,149.8 L272.0,153.0 L270.0,152.7ZM267.6,151.7 L271.8,152.1 L271.5,155.3 L267.2,154.7ZM267.3,154.0 L271.8,154.5 L271.4,157.7 L266.8,157.0ZM267.0,156.2 L269.0,156.6 L268.5,159.6 L266.4,159.2ZM269.5,156.6 L271.6,156.9 L271.2,160.1 L269.1,159.7ZM266.4,158.4 L268.3,158.8 L267.6,161.8 L265.7,161.4ZM266.0,160.7 L269.5,161.4 L268.6,164.4 L265.2,163.6ZM265.2,162.8 L268.2,163.5 L267.2,166.5 L264.2,165.7ZM264.5,165.0 L266.3,165.5 L265.3,168.4 L263.4,167.8ZM263.7,167.1 L265.6,167.7 L264.5,170.5 L262.6,169.9ZM262.9,169.2 L264.8,169.8 L263.5,172.6 L261.7,172.0ZM265.1,169.9 L267.0,170.5 L265.7,173.4 L263.9,172.7ZM262.1,171.3 L266.5,172.8 L265.1,175.7 L260.9,174.1ZM261.0,173.3 L263.6,174.3 L262.3,177.1 L259.8,176.0ZM260.1,175.4 L262.7,176.4 L261.3,179.2 L258.8,178.1ZM259.1,177.4 L261.4,178.4 L259.9,181.1 L257.7,180.0ZM258.2,179.4 L259.8,180.1 L258.3,182.8 L256.8,182.0ZM257.1,181.4 L258.6,182.1 L257.1,184.7 L255.6,183.9ZM257.1,183.9 L258.5,184.6 L256.7,187.1 L255.4,186.4ZM255.5,185.6 L257.8,186.9 L256.0,189.4 L253.6,187.9ZM253.9,187.3 L256.2,188.6 L254.3,191.1 L252.1,189.6ZM252.5,189.0 L254.1,190.0 L252.1,192.3 L250.6,191.3ZM250.8,190.6 L252.3,191.5 L250.3,193.8 L248.9,192.8ZM249.4,192.3 L250.9,193.3 L248.9,195.6 L247.4,194.4ZM247.7,193.7 L249.1,194.8 L247.1,197.0 L245.8,195.9ZM244.8,197.0 L246.8,198.7 L244.7,200.9 L242.8,199.1ZM243.5,198.8 L244.9,200.0 L242.7,202.1 L241.4,200.8ZM241.7,200.1 L242.9,201.2 L240.7,203.3 L239.5,202.0ZM240.3,201.8 L241.6,203.1 L239.4,205.0 L238.1,203.7ZM237.7,202.3 L238.9,203.5 L236.6,205.3 L235.5,204.1ZM236.1,203.6 L237.2,204.9 L234.9,206.7 L233.8,205.4ZM234.4,205.0 L235.5,206.2 L233.2,208.0 L232.1,206.7ZM233.1,206.8 L234.2,208.1 L231.8,209.8 L230.8,208.5ZM231.3,208.0 L232.3,209.3 L229.9,210.9 L228.9,209.6ZM229.6,209.3 L230.6,210.7 L228.2,212.3 L227.2,210.9ZM227.7,210.4 L228.7,211.8 L226.3,213.4 L225.3,211.9ZM226.2,211.9 L227.3,213.6 L224.8,215.1 L223.7,213.4ZM224.2,212.8 L225.2,214.5 L222.8,216.1 L221.8,214.3ZM222.4,214.0 L224.1,216.9 L221.7,218.7 L219.9,215.5ZM220.6,215.3 L222.5,218.6 L219.7,219.8 L218.0,216.4ZM218.7,216.1 L220.4,219.5 L217.6,220.7 L216.0,217.3ZM216.6,216.9 L217.6,218.9 L214.9,220.0 L214.0,218.0ZM214.7,217.7 L215.6,219.8 L212.8,220.8 L212.0,218.7ZM212.5,218.1 L213.3,220.0 L210.5,220.9 L209.8,219.0ZM210.5,218.9 L212.2,223.1 L209.2,223.9 L207.8,219.7ZM209.0,220.9 L210.1,224.1 L207.2,224.8 L206.2,221.6ZM206.8,221.3 L207.4,223.2 L204.5,223.8 L204.0,221.9ZM204.8,221.9 L205.4,223.9 L202.4,224.5 L201.9,222.5ZM202.2,220.9 L203.0,223.8 L200.1,224.3 L199.5,221.4ZM200.1,221.1 L200.8,224.0 L197.9,224.3 L197.3,221.5ZM198.1,221.6 L198.7,224.6 L195.8,224.9 L195.3,222.0ZM196.0,221.9 L196.5,224.9 L193.6,225.1 L193.2,222.2ZM193.8,221.8 L194.4,225.3 L191.5,225.4 L191.1,222.1ZM191.8,222.1 L192.2,225.6 L189.3,225.6 L189.0,222.3ZM189.7,222.1 L190.0,225.2 L187.1,225.3 L186.9,222.3ZM187.6,222.2 L187.8,225.2 L184.9,225.2 L184.8,222.3ZM185.5,222.8 L185.7,225.5 L182.8,225.4 L182.7,222.8ZM183.4,222.2 L183.5,225.5 L180.6,225.3 L180.7,222.2ZM181.3,223.2 L181.4,226.1 L178.5,225.7 L178.6,223.1ZM179.2,223.3 L179.2,225.4 L176.3,225.9 L176.4,223.6ZM177.2,223.1 L177.1,225.0 L174.2,225.3 L174.3,223.2ZM175.0,223.5 L174.9,225.7 L171.9,225.9 L172.2,223.5ZM172.9,223.4 L172.7,225.7 L169.7,225.8 L170.1,223.4ZM170.9,222.8 L170.4,226.1 L167.5,226.0 L168.1,222.5ZM168.8,222.3 L168.2,226.2 L165.2,226.0 L166.0,222.0ZM166.7,222.1 L166.0,226.1 L163.0,225.9 L163.9,221.7ZM164.6,222.0 L163.6,226.4 L160.7,226.1 L161.8,221.6ZM162.5,221.7 L161.6,225.2 L158.7,224.8 L159.7,221.2ZM160.3,221.7 L159.2,225.8 L156.2,225.3 L157.5,221.1ZM158.2,221.3 L157.0,225.4 L154.0,224.8 L155.4,220.7ZM156.2,220.5 L155.1,224.0 L152.1,223.4 L153.4,219.8ZM153.7,221.3 L152.6,224.2 L149.7,223.5 L150.9,220.5ZM151.9,219.8 L150.3,224.1 L147.3,223.3 L149.2,218.9ZM149.4,220.2 L148.2,223.3 L145.2,222.5 L146.6,219.3ZM147.4,219.4 L146.0,222.5 L143.1,221.6 L144.6,218.5ZM145.3,218.7 L143.9,221.8 L140.9,220.8 L142.5,217.7ZM143.7,217.1 L141.2,222.0 L138.2,221.0 L141.0,215.9ZM141.6,216.3 L138.8,221.5 L135.9,220.3 L139.0,215.1ZM139.1,216.3 L137.2,219.6 L134.4,218.3 L136.5,215.0ZM136.8,215.8 L133.7,220.9 L130.8,219.6 L134.2,214.3ZM136.8,211.7 L135.4,213.9 L132.9,212.3 L134.4,210.1ZM134.9,214.7 L131.5,220.0 L128.6,218.5 L132.3,213.2ZM135.0,210.6 L133.5,212.8 L131.1,211.0 L132.7,208.8ZM132.8,213.8 L129.1,219.2 L126.6,217.2 L130.5,211.9ZM133.3,209.2 L127.4,217.5 L124.9,215.4 L131.1,207.5ZM131.7,207.8 L126.0,215.3 L123.7,213.1 L129.7,205.8ZM130.2,206.2 L124.5,213.4 L122.3,211.1 L128.3,204.1ZM128.8,204.6 L122.8,211.7 L120.8,209.3 L127.0,202.5ZM127.4,203.1 L120.7,210.6 L118.7,208.1 L125.6,200.9ZM126.1,201.4 L119.1,208.8 L117.2,206.3 L124.3,199.2ZM125.0,199.5 L118.7,205.8 L116.9,203.3 L123.4,197.2ZM123.7,197.8 L116.8,204.5 L115.1,201.8 L122.1,195.5ZM122.6,196.1 L115.4,202.6 L113.8,199.9 L121.1,193.7ZM120.1,195.5 L112.6,201.9 L111.0,199.1 L118.6,193.0ZM119.5,193.3 L112.9,198.6 L111.4,195.9 L118.1,190.8ZM118.3,191.5 L112.5,196.0 L111.4,193.1 L117.1,189.0ZM117.4,189.6 L111.4,194.0 L110.8,190.8 L116.4,187.0ZM116.8,187.5 L111.3,191.3 L110.8,188.2 L115.9,184.9ZM116.4,185.3 L111.7,188.4 L111.3,185.3 L115.5,182.7ZM115.8,183.3 L110.5,186.6 L110.2,183.5 L114.9,180.8ZM116.0,180.9 L109.8,184.5 L109.6,181.4 L115.0,178.4ZM114.7,179.4 L110.5,181.7 L109.3,179.1 L113.7,176.9ZM114.2,177.4 L110.3,179.4 L109.2,176.9 L113.2,175.0ZM113.3,175.6 L108.9,177.8 L107.9,175.2 L112.4,173.2ZM112.6,173.8 L108.0,175.9 L107.1,173.3 L111.8,171.3ZM112.2,171.8 L107.2,174.0 L106.3,171.3 L111.5,169.3ZM111.8,169.9 L106.9,171.8 L106.1,169.2 L111.0,167.5ZM111.0,168.1 L105.7,170.0 L104.8,167.4 L110.2,165.7ZM110.6,166.2 L105.8,167.8 L105.0,165.2 L109.9,163.7ZM109.8,164.4 L103.9,166.2 L103.1,163.5 L109.1,161.9ZM109.4,162.5 L104.0,164.0 L103.2,161.3 L108.8,160.0ZM108.8,160.7 L102.7,162.2 L102.0,159.4 L108.3,158.1ZM108.6,158.7 L102.9,160.0 L102.3,157.2 L108.1,156.2ZM108.0,156.9 L101.7,158.1 L101.1,155.3 L107.6,154.3ZM107.9,154.9 L102.1,155.8 L101.6,153.1 L107.5,152.4ZM106.5,153.1 L101.2,153.9 L100.7,151.1 L106.1,150.5ZM106.1,151.2 L100.4,151.8 L100.0,149.0 L105.8,148.6ZM105.6,149.3 L99.5,149.8 L99.1,146.9 L105.4,146.6ZM106.1,147.3 L100.9,147.5 L100.7,144.8 L105.9,144.6ZM105.6,145.3 L99.8,145.5 L99.7,142.6 L105.5,142.7ZM105.6,143.3 L100.0,143.4 L99.8,140.5 L105.5,140.7ZM106.4,141.4 L99.8,141.2 L99.6,138.4 L106.3,138.8ZM106.1,139.4 L98.8,139.0 L98.7,136.2 L106.1,136.8ZM106.2,137.4 L99.3,136.9 L99.3,134.1 L106.3,134.8ZM106.0,135.4 L97.2,134.6 L97.2,131.6 L106.1,132.8ZM106.0,133.5 L97.2,132.3 L97.3,129.4 L106.2,130.8ZM106.2,131.5 L98.6,130.3 L98.8,127.4 L106.5,128.9ZM106.6,129.5 L99.5,128.3 L99.5,125.3 L106.8,126.9ZM106.5,127.5 L97.8,125.7 L97.7,122.6 L106.6,124.8ZM106.5,125.5 L100.2,124.0 L100.3,121.0 L106.7,122.7ZM99.9,123.9 L98.0,123.5 L98.1,120.4 L100.0,120.9ZM106.3,123.3 L99.6,121.6 L99.7,118.5 L106.6,120.6ZM99.1,121.4 L97.2,120.9 L97.3,117.8 L99.3,118.4ZM106.5,121.3 L100.0,119.4 L100.3,116.4 L106.8,118.5ZM99.7,119.3 L97.7,118.7 L98.0,115.6 L99.9,116.3ZM105.2,118.7 L99.4,116.9 L99.8,113.8 L105.5,115.9ZM98.9,116.7 L96.9,116.1 L97.3,112.9 L99.3,113.7ZM105.7,116.7 L100.5,114.9 L100.7,111.8 L106.1,113.9ZM105.7,114.5 L100.1,112.3 L100.3,109.2 L106.1,111.6ZM106.0,112.3 L102.8,111.0 L103.2,107.9 L106.4,109.4ZM105.7,109.9 L102.2,108.3 L102.6,105.2 L106.2,106.9ZM105.7,107.5 L102.0,105.7 L102.6,102.6 L106.3,104.5ZM106.5,105.4 L103.1,103.8 L104.0,100.8 L107.3,102.6ZM107.1,103.3 L103.9,101.6 L104.8,98.5 L107.9,100.3ZM105.9,100.1 L103.9,98.9 L104.8,95.9 L106.8,97.1ZM106.7,97.9 L104.8,96.8 L105.8,93.7 L107.7,94.9ZM109.4,96.9 L106.2,94.9 L107.3,91.9 L110.3,93.9ZM111.2,95.4 L109.4,94.3 L110.3,91.2 L112.0,92.4ZM109.0,94.0 L107.2,92.8 L108.3,89.7 L110.0,90.9ZM111.4,92.9 L109.5,91.5 L110.5,88.4 L112.3,89.8ZM111.9,90.5 L110.2,89.2 L111.3,86.1 L113.0,87.4ZM112.5,88.0 L110.8,86.7 L112.3,83.8 L114.0,85.2ZM113.5,85.9 L111.9,84.5 L113.8,81.9 L115.2,83.2ZM114.7,83.9 L113.3,82.6 L115.3,80.1 L116.5,81.3ZM115.8,78.3 L114.5,77.1 L116.2,74.1 L117.5,75.5ZM117.2,76.4 L115.9,75.0 L117.9,72.2 L119.1,73.7ZM118.3,74.0 L116.9,72.5 L119.2,69.9 L120.5,71.5ZM121.6,74.0 L120.2,72.5 L122.5,70.1 L123.8,71.7ZM119.9,72.1 L118.6,70.6 L120.9,68.1 L122.2,69.7ZM123.2,72.3 L120.3,68.7 L122.8,66.4 L125.6,70.2ZM125.0,70.6 L122.8,67.8 L125.2,65.5 L127.4,68.6ZM126.7,69.0 L123.5,64.5 L126.0,62.3 L129.3,67.0ZM128.6,67.5 L125.5,63.0 L128.2,60.8 L131.3,65.7ZM130.6,66.1 L128.4,62.7 L131.1,60.7 L133.3,64.3ZM132.6,64.7 L131.2,62.6 L134.0,60.7 L135.3,63.0ZM135.3,64.7 L133.2,61.1 L135.9,59.0 L138.1,63.2ZM132.7,60.1 L131.3,57.8 L133.8,55.1 L135.2,57.8ZM137.5,63.6 L135.2,59.6 L138.4,58.6 L140.4,62.5ZM134.6,58.4 L133.2,55.9 L136.6,55.0 L137.9,57.5ZM139.7,62.9 L138.6,60.7 L141.7,59.8 L142.7,61.9ZM137.0,57.6 L135.7,55.0 L139.3,54.5 L140.4,57.0ZM142.0,62.2 L141.1,60.2 L144.2,59.4 L145.0,61.3ZM140.6,59.3 L139.5,57.0 L142.9,56.3 L143.9,58.6ZM143.0,58.6 L141.9,56.2 L145.0,55.1 L146.1,57.6ZM147.1,55.8 L146.2,53.4 L149.3,52.3 L150.2,54.9ZM149.3,54.8 L148.4,52.1 L151.6,51.1 L152.5,53.9ZM155.8,59.3 L155.1,56.9 L158.1,56.1 L158.8,58.6ZM158.1,58.8 L157.4,56.4 L160.4,55.7 L161.0,58.2ZM157.0,55.1 L156.3,52.3 L159.4,51.4 L160.1,54.4ZM155.9,51.0 L155.1,48.1 L158.4,47.2 L159.1,50.1ZM159.9,56.8 L159.2,54.0 L162.4,53.3 L162.9,56.2ZM162.1,56.2 L161.0,50.9 L164.2,50.1 L165.2,55.6ZM164.5,55.9 L163.5,50.7 L166.7,50.0 L167.5,55.4ZM166.8,55.5 L165.9,50.0 L169.1,49.4 L169.8,55.1ZM169.0,55.2 L168.3,49.4 L171.5,48.8 L172.1,54.8ZM171.4,55.0 L170.7,49.3 L174.0,48.7 L174.4,54.7ZM173.7,54.7 L173.2,48.8 L176.5,48.4 L176.7,54.5ZM176.0,54.3 L175.6,47.7 L178.9,47.4 L179.1,54.2ZM178.3,54.4 L178.1,48.1 L181.4,47.9 L181.4,54.4Z"/>
<path d="M181.0,56.8 L194.1,58.5 L207.3,62.4 L217.8,66.4 L227.0,72.9 L234.9,78.2 L233.6,83.4 L240.1,86.1 L248.5,92.2 L258.3,100.9 L263.6,111.4 L266.2,121.9 L264.9,132.4 L267.5,143.0 L266.8,152.1 L264.9,161.3 L260.9,171.8 L255.7,183.0 L246.7,192.7 L237.5,201.9 L228.3,208.5 L217.8,213.7 L207.3,217.7 L194.1,220.3 L181.0,221.4 L176.4,221.8 L164.6,220.5 L152.8,217.9 L140.9,212.6 L131.7,206.1 L123.8,195.6 L117.3,182.4 L112.7,169.3 L109.4,156.1 L108.1,143.0 L108.5,128.0 L109.4,113.0 L110.7,104.5 L112.0,96.6 L113.3,88.7 L117.3,80.8 L123.8,72.9 L130.4,67.7 L137.0,63.7 L146.2,61.1 L156.7,59.1 L169.8,57.2 Z" fill="#b3b3b3"/>
<path d="M181.0,80.2 L183.0,81.2 L185.1,81.7 L187.3,82.4 L189.7,82.3 L192.1,82.5 L194.4,81.7 L195.8,82.9 L197.4,82.9 L199.1,82.9 L200.3,84.5 L202.7,84.1 L203.8,85.8 L205.4,86.5 L206.5,88.0 L208.4,88.1 L210.8,88.4 L213.1,88.1 L214.8,88.4 L216.1,86.6 L217.8,86.9 L218.9,89.9 L220.1,91.9 L221.3,93.9 L222.9,92.9 L224.8,92.8 L226.3,93.2 L227.9,93.7 L229.5,93.9 L231.4,93.7 L232.8,94.6 L234.1,95.7 L236.5,95.6 L238.8,96.3 L240.4,97.3 L242.3,96.9 L243.5,99.2 L242.4,100.8 L242.3,102.7 L243.5,104.3 L243.5,106.2 L243.5,108.1 L244.6,109.7 L245.8,111.2 L245.8,113.2 L245.9,115.6 L246.4,117.9 L244.6,119.4 L242.3,119.6 L240.5,120.7 L238.4,119.3 L236.5,120.2 L234.7,121.3 L232.7,121.9 L230.6,122.0 L232.8,123.2 L235.3,122.6 L237.2,123.4 L239.2,122.6 L241.1,123.1 L242.7,124.2 L244.6,123.7 L243.5,126.1 L244.6,127.3 L245.6,128.7 L247.0,129.6 L248.5,130.4 L248.8,132.5 L250.5,133.1 L252.1,134.5 L254.0,135.4 L254.1,137.5 L255.7,138.9 L255.3,141.1 L256.3,143.0 L256.3,144.7 L255.7,146.2 L255.1,147.7 L256.1,149.5 L256.5,151.4 L256.3,153.5 L256.5,155.7 L255.5,157.5 L254.6,159.4 L253.7,160.8 L253.9,162.7 L252.1,163.6 L251.6,165.2 L251.1,166.9 L250.4,168.5 L249.3,169.9 L247.7,171.1 L247.0,173.0 L245.8,174.5 L245.3,176.6 L244.3,178.4 L243.5,180.4 L242.4,181.8 L242.6,183.8 L241.1,185.0 L239.5,186.0 L240.1,188.4 L238.1,189.2 L237.6,190.9 L235.9,192.3 L235.3,194.4 L234.3,196.3 L231.9,196.3 L230.6,197.9 L228.8,198.9 L226.7,199.3 L224.8,200.2 L223.0,201.5 L221.0,201.8 L218.9,201.4 L217.1,202.5 L214.8,201.7 L213.1,203.1 L211.2,203.8 L209.2,203.0 L207.3,203.7 L205.5,202.4 L203.6,201.8 L201.4,202.0 L199.4,201.7 L197.5,201.0 L195.6,200.2 L193.9,199.6 L192.1,199.1 L192.3,196.7 L191.5,194.4 L193.2,192.1 L193.1,190.1 L194.4,188.5 L195.1,186.8 L195.0,185.0 L194.9,183.1 L193.8,181.5 L193.5,179.5 L192.1,178.0 L190.2,179.2 L187.9,177.9 L186.0,179.0 L184.2,179.4 L182.6,178.6 L181.0,178.0 L179.1,177.1 L177.2,176.0 L175.0,176.0 L173.4,175.9 L172.0,174.6 L170.3,175.0 L168.5,175.9 L166.8,176.9 L165.9,178.3 L164.5,179.2 L162.8,178.9 L161.2,178.6 L159.8,177.5 L158.4,178.6 L156.8,178.8 L155.1,178.6 L152.9,177.7 L150.5,177.5 L149.4,176.0 L147.3,176.5 L145.7,176.0 L144.6,174.5 L143.6,172.6 L141.6,172.1 L140.0,171.0 L139.0,169.5 L138.0,168.2 L137.6,166.4 L137.0,164.4 L136.6,162.3 L135.3,160.5 L135.6,158.9 L135.9,157.3 L136.4,155.8 L135.1,153.7 L135.3,151.2 L133.3,151.0 L131.8,152.3 L130.6,153.8 L128.7,153.9 L127.1,154.7 L126.1,152.6 L124.2,151.2 L123.8,149.3 L124.8,147.7 L125.6,146.2 L126.3,144.8 L125.9,143.0 L126.5,140.6 L127.2,139.2 L128.0,137.7 L127.4,135.8 L128.6,134.5 L128.8,132.8 L128.6,131.0 L129.6,129.4 L129.6,127.5 L128.5,126.0 L126.7,126.0 L125.0,125.2 L123.2,125.8 L121.4,126.3 L120.5,124.2 L118.4,123.5 L119.4,121.8 L119.9,120.1 L119.4,118.1 L117.7,117.2 L116.0,116.1 L114.3,115.1 L113.5,113.6 L112.1,112.7 L111.0,111.5 L109.7,110.2 L109.0,108.5 L108.2,106.9 L107.0,105.1 L106.9,103.0 L106.5,101.0 L106.9,98.6 L105.5,96.5 L106.5,98.4 L108.5,99.0 L110.2,100.8 L111.3,102.0 L112.7,102.9 L114.0,104.0 L115.4,104.9 L117.0,105.7 L117.7,107.4 L119.7,108.2 L121.3,109.7 L122.8,111.3 L124.8,112.1 L126.0,113.5 L128.0,113.4 L129.4,114.4 L131.0,115.5 L132.9,115.6 L134.4,117.2 L136.4,117.9 L137.7,119.3 L139.4,120.2 L141.1,117.9 L143.4,117.3 L145.7,117.9 L148.1,117.9 L149.8,118.0 L151.2,116.9 L152.8,116.7 L154.8,115.9 L156.3,114.4 L157.9,113.4 L159.8,113.2 L158.6,110.9 L159.2,108.5 L159.5,106.2 L159.8,103.9 L160.0,102.1 L159.2,100.4 L160.4,98.8 L161.0,96.9 L161.9,95.5 L163.9,95.1 L164.5,93.4 L165.9,91.8 L166.8,89.9 L168.1,88.4 L168.4,86.2 L170.3,85.2 L172.1,84.1 L173.8,82.9 L175.4,81.9 L177.3,81.7 L179.3,81.2 Z" fill="#fff" stroke="#4f87ae" stroke-width="1.5" stroke-linejoin="round"/>
<path d="M139.4,120.2 L141.1,117.9 L143.4,117.3 L145.7,118.1 L148.1,117.9 L149.8,118.0 L151.2,117.1 L152.8,116.7 L154.3,115.2 L156.3,114.4 L157.8,113.0 L159.8,113.2 L161.4,114.4 L163.3,115.0 L165.0,116.0 L164.7,117.8 L165.4,119.5 L164.9,121.3 L165.4,123.0 L165.1,124.6 L163.8,125.8 L163.3,127.4 L163.0,129.0 L161.6,130.1 L160.0,130.9 L158.3,131.8 L157.0,133.0 L155.8,134.4 L154.0,134.9 L152.2,135.6 L151.0,137.0 L149.3,137.7 L147.4,137.2 L145.7,137.7 L144.0,138.3 L143.1,136.5 L141.1,135.6 L140.0,134.0 L139.1,132.3 L140.0,130.4 L139.7,128.7 L139.0,127.0 L139.0,125.3 L138.6,123.6 L138.8,121.9 Z" fill="#eef6fb" stroke="#5b8db2" stroke-width="1.1"/>
<path d="M193.2,180.6 L191.4,180.9 L189.6,181.2 L187.7,180.4 L185.9,180.6 L183.8,180.8 L182.0,179.5 L180.0,179.1 L178.0,178.8 L176.0,178.9 L174.2,177.7 L172.0,176.9 L169.8,176.2 L167.9,176.6 L166.2,175.5 L164.0,174.8 L163.2,171.8 L164.2,170.3 L165.4,168.9 L166.0,167.0 L167.6,166.0 L168.0,164.2 L169.4,163.0 L170.5,161.6 L172.0,160.1 L172.7,158.0 L173.5,155.8 L175.7,157.2 L176.9,158.4 L177.1,160.2 L178.7,160.5 L180.0,161.6 L181.4,162.5 L182.9,163.1 L184.1,164.4 L185.9,164.5 L187.3,165.4 L188.8,166.0 L189.7,167.4 L190.3,168.9 L190.0,171.0 L191.9,172.7 L191.7,174.8 L191.6,176.9 L193.0,178.6 Z" fill="#eef6fb" stroke="#5b8db2" stroke-width="1.1"/>
<line x1="181.00" y1="111.82" x2="181.00" y2="13.20" stroke="#000" stroke-width="0.6"/>
<line x1="181.0" y1="111.8" x2="181.0" y2="108.8" stroke="#111" stroke-width="1.6"/>
<line x1="181.0" y1="13.2" x2="181.0" y2="15.7" stroke="#111" stroke-width="1.6"/>
<line x1="196.59" y1="116.00" x2="245.90" y2="30.59" stroke="#000" stroke-width="0.6"/>
<line x1="196.6" y1="116.0" x2="198.1" y2="113.4" stroke="#111" stroke-width="1.6"/>
<line x1="245.9" y1="30.6" x2="244.7" y2="32.8" stroke="#111" stroke-width="1.6"/>
<line x1="208.00" y1="127.41" x2="293.41" y2="78.10" stroke="#000" stroke-width="0.6"/>
<line x1="208.0" y1="127.4" x2="210.6" y2="125.9" stroke="#111" stroke-width="1.6"/>
<line x1="293.4" y1="78.1" x2="291.2" y2="79.3" stroke="#111" stroke-width="1.6"/>
<line x1="212.18" y1="143.00" x2="310.80" y2="143.00" stroke="#000" stroke-width="0.6"/>
<line x1="212.2" y1="143.0" x2="215.2" y2="143.0" stroke="#111" stroke-width="1.6"/>
<line x1="310.8" y1="143.0" x2="308.3" y2="143.0" stroke="#111" stroke-width="1.6"/>
<line x1="208.00" y1="158.59" x2="293.41" y2="207.90" stroke="#000" stroke-width="0.6"/>
<line x1="208.0" y1="158.6" x2="210.6" y2="160.1" stroke="#111" stroke-width="1.6"/>
<line x1="293.4" y1="207.9" x2="291.2" y2="206.6" stroke="#111" stroke-width="1.6"/>
<line x1="196.59" y1="170.00" x2="245.90" y2="255.41" stroke="#000" stroke-width="0.6"/>
<line x1="196.6" y1="170.0" x2="198.1" y2="172.6" stroke="#111" stroke-width="1.6"/>
<line x1="245.9" y1="255.4" x2="244.7" y2="253.2" stroke="#111" stroke-width="1.6"/>
<line x1="181.00" y1="174.18" x2="181.00" y2="272.80" stroke="#000" stroke-width="0.6"/>
<line x1="181.0" y1="174.2" x2="181.0" y2="177.2" stroke="#111" stroke-width="1.6"/>
<line x1="181.0" y1="272.8" x2="181.0" y2="270.3" stroke="#111" stroke-width="1.6"/>
<line x1="165.41" y1="170.00" x2="116.10" y2="255.41" stroke="#000" stroke-width="0.6"/>
<line x1="165.4" y1="170.0" x2="163.9" y2="172.6" stroke="#111" stroke-width="1.6"/>
<line x1="116.1" y1="255.4" x2="117.3" y2="253.2" stroke="#111" stroke-width="1.6"/>
<line x1="154.00" y1="158.59" x2="68.59" y2="207.90" stroke="#000" stroke-width="0.6"/>
<line x1="154.0" y1="158.6" x2="151.4" y2="160.1" stroke="#111" stroke-width="1.6"/>
<line x1="68.6" y1="207.9" x2="70.8" y2="206.7" stroke="#111" stroke-width="1.6"/>
<line x1="149.82" y1="143.00" x2="51.20" y2="143.00" stroke="#000" stroke-width="0.6"/>
<line x1="149.8" y1="143.0" x2="146.8" y2="143.0" stroke="#111" stroke-width="1.6"/>
<line x1="51.2" y1="143.0" x2="53.7" y2="143.0" stroke="#111" stroke-width="1.6"/>
<line x1="154.00" y1="127.41" x2="68.59" y2="78.10" stroke="#000" stroke-width="0.6"/>
<line x1="154.0" y1="127.4" x2="151.4" y2="125.9" stroke="#111" stroke-width="1.6"/>
<line x1="68.6" y1="78.1" x2="70.8" y2="79.3" stroke="#111" stroke-width="1.6"/>
<line x1="165.41" y1="116.00" x2="116.10" y2="30.59" stroke="#000" stroke-width="0.6"/>
<line x1="165.4" y1="116.0" x2="163.9" y2="113.4" stroke="#111" stroke-width="1.6"/>
<line x1="116.1" y1="30.6" x2="117.3" y2="32.8" stroke="#111" stroke-width="1.6"/>
<circle cx="181.0" cy="143.0" r="95.5" fill="none" stroke="#111" stroke-width="0.7"/>
<circle cx="181.0" cy="143.0" r="31.2" fill="none" stroke="#111" stroke-width="0.7"/>
<circle cx="181.0" cy="143.0" r="129.8" fill="none" stroke="#111" stroke-width="1.6"/>
<line x1="177.5" y1="174.2" x2="181.0" y2="174.2" stroke="#111" stroke-width="1.4"/>
<text x="186.5" y="179.2" font-size="13.5" fill="#111">80°S</text>
<line x1="176.5" y1="238.5" x2="181.0" y2="238.5" stroke="#111" stroke-width="1.4"/>
<text x="183.0" y="243.7" font-size="13.5" fill="#111">60°S</text>
<text x="181.0" y="4.8" font-size="13.5" fill="#111" text-anchor="middle" dominant-baseline="central" transform="rotate(0 181.0 4.8)">0°</text>
<text x="250.1" y="23.3" font-size="13.5" fill="#111" text-anchor="middle" dominant-baseline="central" transform="rotate(30 250.1 23.3)">30°E</text>
<text x="300.7" y="73.9" font-size="13.5" fill="#111" text-anchor="middle" dominant-baseline="central" transform="rotate(60 300.7 73.9)">60°E</text>
<text x="319.2" y="143.0" font-size="13.5" fill="#111" text-anchor="middle" dominant-baseline="central" transform="rotate(90 319.2 143.0)">90°E</text>
<text x="300.7" y="212.1" font-size="13.5" fill="#111" text-anchor="middle" dominant-baseline="central" transform="rotate(-60 300.7 212.1)">120°E</text>
<text x="250.1" y="262.7" font-size="13.5" fill="#111" text-anchor="middle" dominant-baseline="central" transform="rotate(-30 250.1 262.7)">150°E</text>
<text x="181.0" y="281.2" font-size="13.5" fill="#111" text-anchor="middle" dominant-baseline="central" transform="rotate(0 181.0 281.2)">180°</text>
<text x="111.9" y="262.7" font-size="13.5" fill="#111" text-anchor="middle" dominant-baseline="central" transform="rotate(30 111.9 262.7)">150°W</text>
<text x="61.3" y="212.1" font-size="13.5" fill="#111" text-anchor="middle" dominant-baseline="central" transform="rotate(60 61.3 212.1)">120°W</text>
<text x="42.8" y="143.0" font-size="13.5" fill="#111" text-anchor="middle" dominant-baseline="central" transform="rotate(-90 42.8 143.0)">90°W</text>
<text x="61.3" y="73.9" font-size="13.5" fill="#111" text-anchor="middle" dominant-baseline="central" transform="rotate(-60 61.3 73.9)">60°W</text>
<text x="111.9" y="23.3" font-size="13.5" fill="#111" text-anchor="middle" dominant-baseline="central" transform="rotate(-30 111.9 23.3)">30°W</text>
<text x="54.8" y="46.3" font-size="22.5" fill="#111">(a)</text>
<circle cx="441.6" cy="143.0" r="129.8" fill="#fff"/>
<path fill="#f4a820" d="M357.8,116.2 L357.3,116.0 L357.9,114.1 L358.4,114.3ZM358.8,108.6 L357.7,108.2 L358.1,106.1 L359.2,106.6ZM359.0,106.0 L357.8,105.4 L358.3,103.3 L359.5,103.9ZM359.5,94.6 L358.6,94.0 L359.4,92.0 L360.4,92.5ZM362.3,94.7 L361.0,93.9 L361.9,91.9 L363.2,92.8ZM363.2,92.2 L362.0,91.4 L362.9,89.4 L364.2,90.3ZM363.0,88.9 L361.8,88.0 L362.8,86.1 L364.1,87.0ZM367.0,81.8 L365.6,80.7 L366.8,78.8 L368.2,79.9ZM367.0,78.3 L365.7,77.2 L367.6,75.8 L368.8,76.9ZM368.8,78.1 L367.6,77.0 L369.4,75.6 L370.5,76.6ZM370.3,75.7 L369.6,75.0 L371.6,73.9 L372.2,74.4ZM372.8,70.3 L371.9,69.5 L373.0,67.3 L373.9,68.2ZM378.7,62.1 L377.8,60.9 L379.4,59.1 L380.3,60.3ZM379.6,60.9 L378.7,59.6 L380.3,57.8 L381.2,59.1ZM383.8,64.2 L382.9,62.9 L384.6,61.5 L385.6,62.9ZM382.6,62.6 L381.4,61.0 L383.2,59.4 L384.4,61.1ZM385.5,61.8 L384.2,60.0 L386.0,58.6 L387.3,60.4ZM406.8,48.7 L406.0,46.5 L408.1,45.6 L408.9,47.8ZM410.2,45.4 L409.4,43.1 L411.6,42.2 L412.3,44.5ZM411.5,44.8 L410.8,42.5 L413.0,41.6 L413.7,43.9ZM420.4,45.5 L420.0,43.6 L422.2,42.9 L422.6,44.8ZM426.9,41.8 L426.6,39.3 L428.9,38.6 L429.2,41.1ZM453.1,36.3 L453.4,33.6 L455.9,33.8 L455.5,36.5ZM459.8,41.1 L460.3,38.6 L462.7,39.1 L462.1,41.7ZM466.9,36.2 L467.7,33.1 L470.1,34.0 L469.3,37.0ZM472.5,39.0 L473.4,36.0 L475.7,37.2 L474.8,40.0ZM482.2,47.2 L483.6,43.9 L485.7,45.1 L484.2,48.4ZM488.2,41.0 L489.6,37.9 L491.9,39.1 L490.5,42.2ZM501.0,58.0 L502.4,56.1 L504.3,57.5 L502.9,59.4ZM509.8,69.7 L512.0,67.4 L513.3,69.4 L511.1,71.6ZM510.5,71.0 L512.7,68.8 L513.9,70.8 L511.8,72.9ZM521.9,81.5 L523.6,80.2 L524.9,82.1 L523.2,83.4ZM524.9,91.2 L527.1,89.9 L528.4,91.8 L526.2,93.1ZM528.7,90.5 L530.5,89.4 L531.7,91.5 L529.9,92.5ZM525.7,95.5 L527.9,94.3 L529.0,96.2 L526.8,97.4ZM532.7,98.1 L534.4,97.2 L535.4,99.4 L533.6,100.2ZM530.8,109.4 L533.1,108.5 L533.9,110.6 L531.5,111.4ZM535.7,143.2 L537.1,143.3 L537.1,145.4 L535.7,145.4ZM535.1,144.6 L536.6,144.6 L536.6,146.7 L535.1,146.7ZM535.9,148.5 L537.4,148.6 L537.4,150.8 L535.9,150.7ZM536.7,152.6 L538.2,152.7 L538.1,154.9 L536.6,154.7ZM535.8,156.5 L537.4,156.7 L537.2,158.9 L535.6,158.6Z"/>
<path fill="#a4bf2c" d="M358.1,116.3 L357.2,116.0 L357.6,114.0 L358.7,114.4ZM357.8,116.2 L357.0,115.9 L357.3,113.9 L358.2,114.2ZM358.4,115.1 L357.5,114.8 L358.1,112.8 L359.0,113.2ZM358.0,114.9 L357.1,114.6 L357.5,112.6 L358.4,113.0ZM358.3,113.8 L357.4,113.4 L357.6,111.4 L358.7,111.7ZM357.9,113.6 L357.4,113.4 L357.5,111.3 L358.1,111.5ZM358.8,112.6 L357.9,112.3 L358.2,110.2 L359.2,110.6ZM358.4,112.5 L357.4,112.1 L357.6,110.0 L358.7,110.4ZM358.1,111.0 L357.0,110.6 L357.2,108.5 L358.3,108.9ZM359.1,110.1 L358.4,109.8 L358.8,107.8 L359.6,108.1ZM358.8,109.9 L356.9,109.2 L357.2,107.1 L359.1,107.9ZM358.4,108.5 L357.3,108.0 L357.6,105.9 L358.8,106.4ZM359.4,107.5 L357.7,106.8 L358.2,104.7 L359.9,105.5ZM358.0,106.9 L356.9,106.4 L357.2,104.3 L358.4,104.8ZM359.7,104.9 L358.5,104.3 L359.0,102.3 L360.3,102.9ZM359.9,103.6 L358.6,103.0 L359.2,100.9 L360.5,101.6ZM358.2,102.8 L356.9,102.2 L357.4,100.0 L358.7,100.7ZM358.3,101.4 L356.8,100.6 L357.5,98.6 L359.0,99.4ZM360.7,101.1 L359.7,100.6 L360.4,98.6 L361.3,99.2ZM361.0,99.9 L360.0,99.4 L360.8,97.4 L361.7,97.9ZM361.3,98.6 L359.2,97.4 L360.0,95.4 L362.1,96.6ZM361.7,97.3 L360.7,96.8 L361.6,94.8 L362.5,95.4ZM360.9,96.9 L359.0,95.8 L359.8,93.8 L361.7,94.9ZM361.3,95.6 L360.0,94.8 L360.9,92.8 L362.1,93.6ZM360.1,94.9 L358.8,94.1 L359.7,92.1 L361.0,92.9ZM362.5,94.8 L361.6,94.3 L362.5,92.3 L363.4,92.9ZM361.7,94.3 L360.4,93.6 L361.3,91.6 L362.6,92.4ZM363.0,93.6 L362.1,93.0 L363.0,91.1 L363.9,91.7ZM361.6,92.7 L360.3,91.9 L361.2,89.9 L362.5,90.7ZM360.4,92.0 L359.4,91.4 L360.4,89.3 L361.3,90.0ZM363.5,92.4 L362.6,91.8 L363.5,89.8 L364.5,90.5ZM361.4,91.0 L360.2,90.2 L361.1,88.2 L362.4,89.1ZM363.1,90.6 L361.9,89.7 L362.9,87.8 L364.1,88.6ZM363.6,89.3 L362.4,88.5 L363.4,86.5 L364.7,87.4ZM362.4,88.5 L360.9,87.4 L361.9,85.4 L363.5,86.5ZM362.4,86.8 L361.4,86.1 L362.5,84.1 L363.4,84.8ZM363.5,85.9 L361.9,84.8 L362.9,82.7 L364.5,83.9ZM365.2,85.6 L364.0,84.6 L365.0,82.6 L366.3,83.6ZM364.0,84.6 L362.4,83.4 L363.3,81.3 L365.0,82.6ZM364.4,83.3 L363.1,82.2 L364.2,80.2 L365.5,81.3ZM367.5,83.9 L366.5,83.1 L367.6,81.3 L368.7,82.1ZM365.7,82.5 L363.6,80.9 L364.7,78.8 L366.8,80.6ZM367.7,82.4 L366.4,81.3 L367.6,79.4 L368.9,80.6ZM366.8,79.9 L365.5,78.8 L367.0,77.1 L368.3,78.3ZM369.6,80.5 L367.9,79.0 L369.4,77.4 L370.9,78.8ZM370.0,79.1 L368.8,78.0 L370.4,76.5 L371.5,77.5ZM371.1,78.3 L369.3,76.7 L371.0,75.2 L372.4,76.5ZM369.0,76.3 L368.2,75.6 L370.2,74.4 L370.9,75.0ZM371.8,77.1 L371.2,76.5 L372.7,74.9 L373.2,75.4ZM371.4,76.7 L369.7,75.1 L371.6,73.8 L373.0,75.2ZM372.6,76.0 L371.8,75.2 L373.0,73.4 L374.0,74.4ZM371.8,75.3 L371.0,74.5 L371.9,72.2 L372.9,73.2ZM373.0,74.5 L372.1,73.6 L373.3,71.6 L374.3,72.7ZM371.9,73.4 L371.3,72.8 L372.2,70.5 L372.9,71.3ZM372.8,72.3 L371.8,71.3 L372.8,69.1 L373.9,70.3ZM375.2,72.9 L374.3,72.0 L375.8,70.3 L376.7,71.3ZM374.4,72.0 L373.3,70.9 L374.6,69.0 L375.7,70.2ZM373.3,70.9 L372.2,69.7 L373.4,67.6 L374.5,68.9ZM375.7,71.5 L374.6,70.2 L376.1,68.6 L377.3,69.9ZM373.9,69.5 L372.4,67.9 L373.9,66.1 L375.4,67.8ZM377.0,70.8 L376.1,69.9 L377.7,68.3 L378.6,69.3ZM376.9,68.7 L375.8,67.4 L377.4,65.8 L378.5,67.1ZM375.7,67.3 L374.5,65.9 L376.1,64.3 L377.2,65.6ZM377.8,67.7 L375.0,64.4 L376.7,62.7 L379.5,66.1ZM379.8,67.9 L378.9,66.8 L380.6,65.3 L381.5,66.5ZM378.8,66.7 L377.0,64.5 L378.7,62.9 L380.4,65.1ZM376.9,64.3 L376.0,63.2 L377.6,61.6 L378.5,62.7ZM380.4,66.5 L379.3,65.0 L380.9,63.5 L382.1,65.0ZM381.8,66.0 L380.9,64.9 L382.6,63.4 L383.5,64.6ZM379.4,63.0 L378.2,61.5 L379.8,59.7 L381.0,61.2ZM382.8,65.1 L381.9,63.9 L383.6,62.4 L384.5,63.7ZM380.3,61.8 L379.1,60.2 L380.7,58.5 L381.9,60.1ZM381.2,60.6 L380.0,59.0 L381.7,57.3 L382.9,59.0ZM384.9,63.4 L383.2,61.0 L385.0,59.5 L386.7,62.1ZM382.9,60.6 L381.7,58.9 L383.4,57.2 L384.6,59.0ZM386.0,62.6 L385.0,61.1 L386.8,59.8 L387.8,61.3ZM387.1,61.8 L386.1,60.2 L387.9,58.9 L389.0,60.5ZM385.7,59.7 L382.3,54.6 L384.1,52.9 L387.6,58.3ZM386.0,57.5 L383.9,54.3 L385.7,52.7 L387.8,56.1ZM388.7,59.2 L384.9,53.2 L386.8,51.6 L390.6,58.0ZM390.5,59.5 L389.4,57.7 L391.3,56.5 L392.4,58.3ZM388.1,55.6 L386.0,52.1 L387.9,50.5 L390.0,54.2ZM391.0,57.6 L389.7,55.4 L391.5,53.9 L392.8,56.2ZM389.2,54.6 L387.1,51.0 L388.6,48.8 L390.9,52.9ZM392.1,56.7 L389.7,52.6 L391.4,50.8 L393.9,55.4ZM392.1,53.9 L390.6,51.2 L392.6,49.8 L394.1,52.7ZM389.9,50.0 L388.5,47.3 L390.4,45.6 L391.9,48.4ZM395.3,56.9 L394.0,54.5 L396.2,53.7 L397.4,56.0ZM393.3,53.1 L391.8,50.3 L394.2,49.8 L395.6,52.4ZM397.9,55.9 L396.8,53.8 L399.0,53.1 L399.9,55.1ZM399.2,55.4 L398.2,53.4 L400.4,52.8 L401.2,54.6ZM401.3,53.5 L400.3,51.3 L402.3,50.3 L403.3,52.5ZM400.0,50.6 L399.0,48.4 L401.1,47.3 L402.0,49.5ZM402.5,52.8 L401.5,50.6 L403.6,49.6 L404.5,51.8ZM403.1,50.7 L401.5,47.0 L403.7,46.0 L405.1,49.7ZM401.2,46.3 L400.5,44.5 L402.7,43.4 L403.4,45.3ZM405.0,47.9 L404.1,45.7 L406.3,44.7 L407.1,46.9ZM406.3,47.2 L404.9,43.5 L407.1,42.5 L408.4,46.3ZM408.6,49.6 L407.8,47.4 L410.0,46.5 L410.7,48.8ZM410.3,50.2 L409.6,48.3 L411.7,47.4 L412.3,49.3ZM408.9,46.0 L408.1,43.7 L410.3,42.8 L411.0,45.1ZM407.8,43.0 L407.2,41.1 L409.5,40.1 L410.1,42.0ZM410.7,46.9 L409.9,44.6 L412.1,43.7 L412.8,46.0ZM409.7,43.9 L408.9,41.6 L411.2,40.7 L411.9,43.0ZM412.8,49.0 L412.2,47.1 L414.3,46.2 L414.8,48.1ZM411.0,43.2 L410.3,40.9 L412.6,40.1 L413.2,42.4ZM412.8,44.2 L411.7,40.3 L414.0,39.5 L415.0,43.3ZM413.3,40.5 L412.8,38.6 L415.1,37.8 L415.6,39.7ZM414.7,40.0 L414.2,38.1 L416.5,37.3 L417.0,39.2ZM416.4,40.9 L415.6,37.5 L418.0,36.8 L418.7,40.2ZM418.5,43.4 L418.0,41.1 L420.3,40.4 L420.7,42.7ZM417.8,40.4 L417.3,38.1 L419.6,37.4 L420.1,39.7ZM419.2,39.9 L418.7,37.6 L421.1,36.9 L421.5,39.1ZM421.2,42.3 L420.7,40.0 L423.0,39.2 L423.4,41.6ZM420.6,39.3 L420.1,37.0 L422.5,36.1 L422.9,38.5ZM422.6,41.7 L422.1,39.4 L424.4,38.6 L424.8,41.0ZM424.2,42.8 L423.8,40.4 L426.1,39.7 L426.4,42.1ZM423.6,39.6 L423.2,37.2 L425.6,36.4 L425.9,38.8ZM425.0,39.0 L424.6,36.5 L427.0,35.8 L427.3,38.2ZM426.2,36.7 L425.8,34.2 L428.2,33.4 L428.5,35.9ZM428.5,42.6 L427.7,37.0 L430.1,36.3 L430.7,42.0ZM429.8,42.1 L429.6,39.9 L431.9,39.4 L432.1,41.5ZM432.6,41.2 L432.4,39.0 L434.7,38.5 L434.9,40.7ZM431.8,32.5 L431.6,30.3 L434.2,29.6 L434.3,31.9ZM433.9,39.3 L433.7,36.7 L436.1,36.2 L436.2,38.9ZM435.4,40.4 L435.2,36.2 L437.6,35.8 L437.7,40.0ZM435.0,33.3 L434.8,30.6 L437.4,30.1 L437.5,32.8ZM436.8,40.0 L436.7,37.7 L439.1,37.3 L439.2,39.6ZM436.5,32.8 L436.3,28.6 L438.9,28.1 L439.0,32.4ZM438.3,39.7 L438.1,35.4 L440.6,35.0 L440.6,39.3ZM439.7,39.3 L439.7,37.0 L442.1,36.6 L442.1,39.0ZM439.6,33.9 L439.5,31.1 L442.1,30.7 L442.1,33.5ZM439.5,30.0 L439.5,27.7 L442.1,27.2 L442.1,29.6ZM441.1,39.0 L441.1,36.6 L443.5,36.7 L443.5,39.0ZM441.1,35.5 L441.1,32.7 L443.6,32.8 L443.6,35.5ZM442.7,33.5 L442.7,27.2 L445.3,27.3 L445.1,33.6ZM444.0,39.1 L444.2,32.8 L446.7,32.9 L446.4,39.2ZM447.0,37.7 L447.3,33.0 L449.8,33.2 L449.4,37.8ZM448.8,33.9 L448.9,31.2 L451.5,31.4 L451.2,34.1ZM450.0,37.9 L450.2,35.2 L452.6,35.4 L452.3,38.1ZM450.6,30.2 L450.8,27.8 L453.4,28.1 L453.1,30.4ZM451.4,38.1 L451.9,33.4 L454.3,33.7 L453.8,38.3ZM452.0,32.3 L452.4,28.0 L455.0,28.3 L454.5,32.6ZM453.7,30.5 L454.0,28.2 L456.6,28.3 L456.3,30.6ZM454.8,34.5 L455.2,31.7 L457.7,31.9 L457.3,34.7ZM455.6,40.1 L456.2,35.7 L458.6,36.1 L457.9,40.6ZM456.4,34.5 L456.7,31.7 L459.3,31.9 L458.8,34.8ZM457.0,40.5 L457.4,38.0 L459.8,38.4 L459.3,40.9ZM458.2,32.6 L458.6,29.7 L461.2,29.9 L460.7,32.8ZM460.1,30.5 L460.5,28.0 L463.2,28.2 L462.7,30.8ZM461.7,30.6 L462.2,28.0 L464.8,28.3 L464.3,30.9ZM462.9,32.9 L463.8,28.1 L466.5,28.3 L465.4,33.3ZM464.0,35.4 L464.6,32.3 L467.2,32.7 L466.4,35.8ZM465.0,38.0 L466.2,32.5 L468.6,33.3 L467.3,38.7ZM466.4,38.5 L467.1,35.4 L469.5,36.3 L468.7,39.3ZM469.2,39.6 L470.0,36.7 L472.3,37.7 L471.4,40.6ZM471.9,41.1 L472.7,38.2 L475.0,39.3 L474.1,42.2ZM473.2,41.9 L474.1,39.0 L476.4,40.0 L475.4,42.9ZM474.5,42.6 L475.5,39.7 L477.7,40.6 L476.7,43.6ZM475.9,38.3 L477.5,33.6 L480.0,34.4 L478.3,39.2ZM478.0,41.7 L479.0,38.7 L481.4,39.7 L480.2,42.7ZM479.6,37.2 L480.5,34.5 L483.0,35.4 L482.0,38.1ZM479.7,45.5 L481.9,40.0 L484.1,41.0 L481.8,46.7ZM482.5,38.3 L483.6,35.6 L486.0,36.5 L484.9,39.3ZM480.9,46.3 L482.2,43.1 L484.4,44.3 L483.0,47.6ZM484.0,39.0 L485.1,36.1 L487.5,37.1 L486.3,40.0ZM484.5,45.5 L486.0,42.1 L488.2,43.3 L486.6,46.7ZM485.8,46.3 L487.3,42.9 L489.5,44.1 L487.8,47.5ZM487.0,47.1 L488.6,43.7 L489.0,48.5 L487.7,51.1ZM486.0,52.6 L489.1,46.2 L490.8,48.3 L487.7,54.2ZM488.7,50.3 L490.0,47.9 L491.7,49.7 L490.4,52.1ZM488.8,53.3 L490.0,51.0 L491.8,52.7 L490.5,55.0ZM490.6,53.0 L491.8,50.7 L493.5,52.5 L492.3,54.7ZM491.5,54.2 L493.4,50.9 L495.3,52.4 L493.4,55.6ZM492.6,55.2 L493.8,53.1 L495.9,54.2 L494.6,56.3ZM493.9,55.9 L495.8,52.6 L497.9,53.7 L495.8,57.0ZM493.2,59.6 L494.6,57.4 L496.5,58.6 L495.1,60.8ZM495.1,56.6 L497.2,53.2 L499.3,54.4 L497.1,57.8ZM494.4,60.3 L495.8,58.1 L497.7,59.4 L496.2,61.6ZM496.3,57.3 L497.7,55.1 L499.8,56.3 L498.3,58.5ZM496.5,59.6 L498.0,57.3 L499.9,58.6 L498.4,60.8ZM498.6,56.5 L499.8,54.6 L501.9,55.8 L500.6,57.7ZM496.6,61.9 L498.1,59.7 L499.9,61.0 L498.4,63.3ZM497.7,62.8 L499.2,60.5 L501.0,61.9 L499.4,64.2ZM498.7,63.7 L500.3,61.4 L502.1,62.8 L500.4,65.1ZM502.2,58.9 L503.5,57.0 L505.4,58.4 L504.0,60.3ZM500.9,63.0 L503.8,59.1 L505.6,60.6 L502.7,64.4ZM502.0,63.9 L503.7,61.6 L505.5,63.1 L503.7,65.3ZM501.8,66.4 L507.0,59.7 L508.8,61.3 L503.5,67.8ZM502.8,67.3 L505.8,63.5 L507.8,64.8 L504.6,68.6ZM503.9,68.1 L505.8,65.8 L507.6,67.2 L505.7,69.4ZM506.5,67.2 L508.4,64.9 L510.4,66.2 L508.3,68.5ZM506.1,69.7 L511.2,63.9 L513.3,65.1 L507.8,71.1ZM507.2,70.5 L511.0,66.3 L512.7,68.0 L508.8,72.1ZM509.6,73.9 L513.3,70.2 L514.5,72.2 L511.0,75.7ZM514.3,69.2 L516.1,67.3 L517.2,69.6 L515.4,71.4ZM510.4,75.1 L512.4,73.0 L513.7,74.9 L511.7,76.8ZM511.1,76.2 L513.1,74.3 L514.6,76.0 L512.6,77.9ZM514.0,73.5 L516.0,71.5 L517.4,73.4 L515.4,75.3ZM514.8,74.6 L516.8,72.8 L518.2,74.6 L516.2,76.4ZM512.8,78.3 L514.8,76.5 L516.2,78.3 L514.2,80.0ZM515.6,75.8 L518.7,73.0 L520.1,74.9 L517.0,77.6ZM515.0,78.2 L517.0,76.4 L518.4,78.3 L516.3,80.0ZM514.4,80.5 L516.4,78.8 L517.8,80.5 L515.7,82.2ZM516.6,80.4 L520.0,77.5 L521.4,79.4 L518.0,82.2ZM517.4,81.5 L519.5,79.8 L520.8,81.7 L518.7,83.3ZM516.8,83.7 L520.3,81.0 L521.6,82.8 L518.1,85.5ZM518.4,85.8 L520.5,84.3 L521.8,86.1 L519.8,87.6ZM520.1,87.9 L523.6,85.5 L525.0,87.3 L521.4,89.6ZM522.4,88.0 L524.5,86.6 L525.8,88.4 L523.7,89.8ZM523.3,89.1 L525.4,87.7 L526.7,89.5 L524.6,90.9ZM526.1,87.2 L527.9,86.0 L529.3,87.9 L527.5,89.0ZM521.2,92.0 L523.3,90.6 L524.6,92.4 L522.4,93.8ZM524.1,90.1 L526.2,88.8 L527.5,90.6 L525.4,92.0ZM520.9,93.8 L524.1,91.7 L525.4,93.5 L522.1,95.5ZM526.4,90.3 L528.6,89.0 L529.9,90.9 L527.7,92.2ZM527.2,91.4 L529.4,90.1 L530.6,92.1 L528.4,93.4ZM525.0,94.4 L531.3,90.7 L532.4,92.8 L526.1,96.2ZM528.7,93.8 L531.9,92.0 L533.0,94.1 L529.7,95.8ZM523.9,98.1 L525.7,97.1 L526.7,99.0 L524.9,99.9ZM529.3,95.1 L531.5,93.9 L532.5,96.0 L530.4,97.1ZM524.6,99.2 L526.4,98.2 L527.4,100.1 L525.6,101.0ZM528.5,97.1 L530.7,95.9 L531.7,98.0 L529.6,99.0ZM531.4,95.5 L533.2,94.6 L534.2,96.7 L532.4,97.6ZM525.9,101.4 L529.1,99.8 L530.1,101.8 L526.9,103.3ZM531.2,98.8 L533.4,97.7 L534.3,99.9 L532.2,100.8ZM527.6,102.1 L529.8,101.0 L530.7,103.0 L528.6,104.0ZM528.3,103.2 L531.8,101.6 L532.7,103.7 L529.2,105.2ZM528.9,104.4 L532.4,102.9 L533.3,104.9 L529.7,106.4ZM528.3,106.1 L534.4,103.5 L535.3,105.6 L529.1,108.1ZM531.3,106.3 L533.5,105.4 L534.4,107.5 L532.2,108.3ZM534.3,105.1 L536.5,104.2 L537.4,106.3 L535.2,107.2ZM530.4,108.1 L534.1,106.7 L534.9,108.8 L531.1,110.2ZM536.3,105.8 L538.2,105.0 L539.1,107.2 L537.2,107.9ZM532.3,108.8 L534.6,107.9 L535.4,110.1 L533.1,110.9ZM535.4,107.7 L538.8,106.4 L539.7,108.5 L536.2,109.8ZM530.1,111.1 L532.0,110.4 L532.8,112.4 L530.7,113.1ZM532.8,110.1 L535.1,109.2 L536.0,111.3 L533.6,112.1ZM537.5,108.4 L539.4,107.7 L540.5,109.8 L538.5,110.5ZM530.5,112.3 L532.5,111.6 L533.2,113.7 L531.1,114.3ZM533.4,111.3 L535.7,110.5 L536.7,112.6 L534.2,113.4ZM536.6,110.2 L540.3,108.9 L541.6,111.0 L537.7,112.2ZM537.4,111.4 L539.9,110.6 L541.1,112.7 L538.5,113.5ZM538.2,112.6 L540.8,111.8 L542.0,113.9 L539.3,114.7ZM531.5,116.1 L533.9,115.4 L534.5,117.5 L532.1,118.2ZM539.0,113.9 L541.7,113.1 L542.9,115.2 L540.0,116.0ZM533.5,116.9 L536.4,116.1 L537.0,118.2 L534.1,119.0ZM539.8,115.1 L542.6,114.3 L543.6,116.5 L540.6,117.3ZM533.9,118.2 L536.8,117.4 L537.2,119.6 L534.3,120.3ZM536.2,119.0 L539.1,118.2 L539.5,120.5 L536.6,121.2ZM536.6,121.7 L539.4,121.0 L539.7,123.3 L536.9,123.9ZM540.7,120.8 L543.6,120.1 L543.8,122.5 L540.9,123.1ZM534.6,123.5 L537.5,122.9 L537.7,125.1 L534.9,125.6ZM538.7,122.6 L543.6,121.6 L543.8,124.0 L539.0,124.9ZM533.2,125.1 L535.6,124.6 L535.9,126.8 L533.5,127.2ZM536.8,124.4 L539.6,123.9 L539.8,126.1 L537.0,126.6ZM542.8,123.2 L545.2,122.8 L545.3,125.2 L543.0,125.6ZM540.8,125.1 L543.6,124.6 L543.6,126.9 L540.9,127.4ZM536.9,127.1 L539.6,126.7 L539.5,129.0 L536.9,129.4ZM542.6,126.2 L544.9,125.8 L544.3,128.3 L542.2,128.6ZM538.5,128.3 L541.1,127.9 L540.7,130.2 L538.3,130.5ZM536.6,129.9 L539.0,129.6 L538.8,131.8 L536.5,132.1ZM536.5,131.3 L538.7,131.0 L538.4,133.2 L536.3,133.5ZM536.3,132.6 L539.6,132.3 L539.1,134.6 L536.1,134.8ZM536.0,134.0 L537.9,133.8 L537.3,136.1 L535.6,136.2ZM535.6,135.4 L537.3,135.2 L536.6,137.4 L535.2,137.5ZM538.2,135.1 L539.5,135.0 L538.1,137.4 L537.1,137.4ZM535.1,136.7 L537.2,136.6 L536.8,138.8 L535.0,138.8ZM534.9,138.0 L536.7,137.9 L536.9,140.1 L535.0,140.1ZM535.0,139.3 L536.9,139.3 L537.0,141.4 L535.1,141.5ZM535.6,140.6 L537.0,140.6 L537.0,142.8 L535.7,142.8ZM536.2,141.9 L537.8,141.9 L537.9,144.1 L536.3,144.1ZM536.9,143.2 L537.9,143.3 L538.0,145.4 L537.0,145.4ZM537.0,144.6 L538.0,144.6 L538.1,146.8 L537.0,146.7ZM535.8,145.9 L537.2,145.9 L537.3,148.1 L535.8,148.0ZM535.2,147.2 L536.7,147.2 L536.6,149.4 L535.2,149.3ZM537.2,147.3 L538.2,147.3 L538.3,149.5 L537.2,149.4ZM535.2,148.5 L536.7,148.6 L536.7,150.7 L535.1,150.6ZM536.6,148.6 L538.1,148.6 L538.1,150.8 L536.6,150.7ZM535.2,151.1 L536.7,151.2 L536.6,153.4 L535.1,153.2ZM536.7,151.2 L538.5,151.4 L538.5,153.6 L536.6,153.4ZM535.1,152.4 L536.7,152.6 L536.6,154.7 L535.0,154.5ZM537.4,152.6 L538.6,152.8 L538.5,155.0 L537.3,154.8ZM536.7,153.9 L538.2,154.1 L538.1,156.3 L536.5,156.1ZM535.0,155.0 L536.6,155.3 L536.4,157.4 L534.8,157.2ZM537.4,155.4 L538.7,155.5 L538.6,157.8 L537.3,157.6ZM536.6,156.6 L538.7,156.9 L538.6,159.1 L536.4,158.8ZM534.8,157.7 L536.5,157.9 L536.2,160.1 L534.5,159.8ZM536.6,158.0 L538.2,158.2 L538.1,160.4 L536.4,160.1ZM534.7,159.0 L536.4,159.3 L536.1,161.5 L534.4,161.1ZM536.5,159.3 L538.2,159.6 L538.0,161.8 L536.3,161.5ZM534.5,160.3 L538.2,161.0 L537.8,163.2 L534.2,162.4ZM534.3,161.6 L538.0,162.4 L537.4,164.5 L533.8,163.7ZM534.0,162.9 L536.6,163.5 L536.0,165.6 L533.4,165.0ZM534.5,164.4 L536.2,164.8 L535.5,166.9 L533.9,166.4ZM533.3,165.4 L535.7,166.0 L535.1,168.1 L532.7,167.5ZM532.9,166.7 L535.3,167.3 L534.6,169.4 L532.2,168.7ZM535.3,167.3 L536.5,167.6 L535.7,169.7 L534.6,169.4ZM532.5,167.9 L534.8,168.6 L534.1,170.7 L531.8,170.0ZM534.8,168.6 L536.0,168.9 L535.2,171.0 L534.0,170.6ZM534.3,169.8 L535.4,170.2 L534.6,172.2 L533.5,171.9ZM532.3,170.6 L533.8,171.1 L532.9,173.1 L531.5,172.6ZM533.7,171.1 L534.8,171.4 L533.9,173.4 L532.8,173.1ZM531.1,171.7 L534.1,172.6 L533.1,174.6 L530.3,173.6ZM532.4,173.5 L533.4,173.8 L532.4,175.8 L531.5,175.4ZM530.1,174.1 L531.9,174.7 L531.0,176.7 L529.3,176.0ZM529.5,175.3 L530.8,175.7 L529.9,177.7 L528.7,177.2ZM530.5,175.6 L531.8,176.1 L530.8,178.0 L529.6,177.6ZM529.4,176.6 L530.6,177.1 L529.6,179.0 L528.5,178.6Z"/>
<path fill="#c4c42c" d="M357.9,116.2 L357.1,115.9 L357.5,114.0 L358.4,114.3ZM357.8,116.2 L357.3,116.0 L357.6,114.0 L358.1,114.2ZM357.8,114.9 L357.3,114.7 L357.6,112.7 L358.2,112.9ZM358.1,113.7 L357.2,113.4 L357.4,111.3 L358.4,111.6ZM358.1,112.4 L357.1,112.0 L357.3,109.9 L358.4,110.3ZM359.1,110.1 L358.0,109.7 L358.4,107.6 L359.5,108.1ZM358.5,107.1 L357.3,106.6 L357.7,104.5 L358.9,105.0ZM357.6,106.7 L356.8,106.4 L357.1,104.2 L357.9,104.6ZM358.1,105.5 L356.9,105.0 L357.2,102.8 L358.5,103.4ZM358.8,103.0 L357.5,102.4 L358.0,100.3 L359.3,101.0ZM358.6,100.1 L357.3,99.4 L358.1,97.4 L359.4,98.1ZM359.6,99.1 L357.4,98.0 L358.2,95.9 L360.3,97.1ZM362.1,96.1 L361.2,95.5 L362.0,93.6 L363.0,94.2ZM360.7,95.2 L359.4,94.5 L360.3,92.5 L361.5,93.3ZM361.1,94.0 L359.3,92.8 L360.2,90.8 L362.0,92.0ZM362.2,93.1 L360.9,92.3 L361.8,90.3 L363.1,91.1ZM361.0,92.3 L359.7,91.5 L360.6,89.5 L361.9,90.3ZM362.0,91.4 L360.8,90.6 L361.7,88.6 L363.0,89.5ZM362.5,90.2 L361.3,89.3 L362.3,87.3 L363.5,88.2ZM361.3,89.4 L360.4,88.7 L361.4,86.7 L362.3,87.4ZM365.1,88.7 L364.1,88.0 L365.2,86.1 L366.1,86.8ZM363.6,87.7 L361.7,86.3 L362.7,84.3 L364.6,85.7ZM366.8,85.1 L365.8,84.3 L367.0,82.5 L368.0,83.3ZM365.8,84.3 L363.8,82.8 L364.9,80.8 L366.9,82.4ZM363.8,82.7 L362.8,82.0 L363.8,79.9 L364.8,80.7ZM367.1,83.6 L365.7,82.6 L366.9,80.7 L368.3,81.8ZM364.8,80.0 L363.7,79.1 L364.8,77.1 L365.9,78.0ZM367.6,80.6 L366.2,79.4 L367.7,77.8 L369.0,78.9ZM365.3,78.6 L364.2,77.7 L365.9,76.2 L366.9,77.0ZM366.3,77.7 L365.3,76.8 L367.3,75.5 L368.2,76.4ZM370.3,79.4 L369.4,78.6 L370.9,76.9 L371.6,77.6ZM367.6,77.0 L366.8,76.2 L368.8,75.0 L369.5,75.7ZM372.4,75.8 L371.5,75.0 L372.7,73.0 L373.6,73.9ZM374.3,73.9 L373.5,73.1 L375.0,71.4 L375.8,72.3ZM373.2,72.8 L372.2,71.8 L373.4,69.7 L374.4,70.9ZM372.3,71.9 L371.6,71.1 L372.6,68.9 L373.4,69.7ZM374.5,70.1 L373.3,68.9 L374.9,67.2 L376.0,68.5ZM376.3,68.0 L375.1,66.7 L376.7,65.0 L377.9,66.4ZM375.0,66.6 L374.1,65.5 L375.7,63.8 L376.6,64.9ZM378.9,68.9 L378.0,67.8 L379.6,66.3 L380.5,67.4ZM379.1,64.9 L377.3,62.6 L379.0,60.9 L380.8,63.3ZM380.7,64.7 L379.6,63.2 L381.2,61.5 L382.4,63.1ZM381.0,62.7 L379.8,61.1 L381.5,59.4 L382.6,61.1ZM381.9,61.6 L380.7,60.0 L382.4,58.3 L383.6,60.0ZM382.2,59.5 L380.4,57.1 L382.1,55.3 L383.9,57.9ZM384.7,60.7 L382.7,57.8 L384.5,56.2 L386.5,59.2ZM382.4,57.3 L381.4,55.8 L383.1,54.1 L384.1,55.6ZM386.5,60.9 L385.3,59.1 L387.1,57.6 L388.4,59.6ZM388.2,61.0 L387.2,59.4 L389.1,58.1 L390.1,59.8ZM394.1,57.4 L391.7,53.2 L393.7,51.9 L396.1,56.5ZM388.9,48.0 L387.6,45.7 L389.4,43.9 L390.7,46.3ZM395.8,54.8 L394.4,52.1 L396.7,51.5 L397.9,54.1ZM394.4,49.0 L393.2,46.5 L395.8,46.4 L397.0,48.8ZM400.5,55.0 L399.6,53.1 L401.7,52.4 L402.5,54.2ZM401.8,54.6 L400.9,52.7 L402.9,51.7 L403.7,53.6ZM398.7,47.7 L397.8,45.8 L400.0,44.8 L400.8,46.6ZM401.2,49.9 L399.6,46.2 L401.8,45.2 L403.3,48.9ZM404.1,53.2 L403.4,51.4 L405.4,50.4 L406.1,52.3ZM405.3,52.6 L404.6,50.8 L406.7,49.8 L407.4,51.7ZM404.3,50.0 L402.8,46.3 L405.0,45.3 L406.4,49.1ZM406.6,52.0 L404.7,47.1 L406.8,46.2 L408.6,51.1ZM407.8,51.4 L407.1,49.5 L409.2,48.6 L409.8,50.5ZM405.2,44.2 L404.5,42.4 L406.7,41.4 L407.4,43.3ZM407.6,46.6 L406.2,42.8 L408.5,41.9 L409.7,45.7ZM409.2,42.3 L408.6,40.4 L410.9,39.5 L411.4,41.4ZM414.0,48.3 L413.5,46.4 L415.6,45.6 L416.1,47.5ZM415.3,47.7 L413.9,42.8 L416.1,42.0 L417.4,46.9ZM416.5,47.1 L416.0,45.2 L418.2,44.5 L418.7,46.4ZM419.5,41.4 L419.0,39.1 L421.4,38.4 L421.8,40.7ZM421.7,45.0 L421.4,43.1 L423.6,42.3 L423.9,44.3ZM423.1,44.4 L422.7,42.5 L424.9,41.8 L425.3,43.8ZM421.7,37.1 L421.3,35.1 L423.7,34.2 L424.0,36.2ZM424.4,44.0 L424.1,42.0 L426.3,41.3 L426.6,43.4ZM423.4,38.0 L422.7,34.4 L425.1,33.5 L425.7,37.2ZM425.8,43.5 L425.4,41.5 L427.7,40.8 L428.0,42.9ZM427.1,43.0 L426.8,41.0 L429.1,40.3 L429.3,42.4ZM427.8,37.8 L427.3,33.5 L429.7,32.8 L430.2,37.1ZM429.7,40.7 L429.4,38.2 L431.7,37.6 L432.0,40.1ZM430.7,36.6 L430.3,32.3 L432.7,31.6 L433.1,36.1ZM432.0,34.3 L431.8,31.7 L434.3,31.1 L434.4,33.7ZM441.1,29.6 L441.1,27.2 L443.7,27.3 L443.7,29.6ZM444.2,33.6 L444.2,30.8 L446.8,31.0 L446.7,33.7ZM445.5,39.1 L445.6,36.8 L448.0,36.9 L447.9,39.3ZM445.6,35.6 L445.7,32.9 L448.2,33.0 L448.1,35.8ZM446.9,39.2 L447.1,36.9 L449.5,37.0 L449.3,39.4ZM447.3,31.8 L447.5,29.1 L450.1,29.3 L449.8,32.0ZM448.6,35.8 L448.8,33.1 L451.3,33.3 L451.1,36.1ZM449.8,39.4 L450.0,37.1 L452.4,37.4 L452.2,39.7ZM451.3,39.6 L451.5,37.3 L453.9,37.5 L453.6,39.9ZM452.9,38.2 L453.2,35.5 L455.6,35.7 L455.3,38.5ZM454.6,36.4 L454.9,33.7 L457.4,33.9 L457.0,36.7ZM457.6,36.7 L458.0,33.9 L460.5,34.2 L460.0,37.1ZM458.5,30.5 L458.9,28.0 L461.5,28.2 L461.1,30.7ZM459.1,36.9 L459.5,34.0 L462.0,34.4 L461.5,37.3ZM460.2,39.4 L460.7,36.4 L463.1,36.8 L462.5,39.8ZM461.6,39.7 L462.2,36.6 L464.6,37.1 L463.9,40.2ZM467.8,39.1 L469.1,33.8 L471.5,34.7 L470.1,39.9ZM470.4,35.2 L471.2,32.2 L473.6,33.3 L472.7,36.3ZM471.8,36.0 L473.1,31.3 L475.5,32.4 L474.1,37.1ZM475.2,40.5 L476.2,37.5 L478.5,38.4 L477.5,41.4ZM476.6,41.1 L479.0,34.1 L481.5,34.9 L478.8,42.1ZM477.1,44.0 L478.2,41.0 L480.5,42.0 L479.3,45.0ZM478.8,39.5 L479.9,36.4 L482.3,37.3 L481.1,40.4ZM478.4,44.7 L480.5,39.3 L482.8,40.3 L480.6,45.9ZM481.1,37.7 L482.1,35.0 L484.5,35.9 L483.4,38.7ZM481.9,43.9 L483.3,40.7 L485.5,41.8 L484.1,45.0ZM485.4,39.6 L486.6,36.7 L489.0,37.7 L487.7,40.7ZM483.4,48.1 L484.8,44.7 L487.0,45.9 L485.4,49.3ZM487.9,55.0 L489.1,52.6 L490.9,54.3 L489.6,56.6ZM489.7,54.6 L491.0,52.3 L492.7,54.0 L491.5,56.1ZM489.9,57.2 L491.1,55.0 L492.9,56.4 L491.7,58.5ZM490.9,58.1 L493.0,54.5 L495.0,55.6 L492.8,59.2ZM492.1,58.8 L494.3,55.2 L496.3,56.4 L494.0,60.0ZM497.5,58.0 L499.0,55.8 L501.0,57.0 L499.5,59.3ZM498.7,58.8 L500.3,56.5 L502.2,57.9 L500.6,60.1ZM499.9,59.6 L501.5,57.3 L503.4,58.8 L501.7,61.0ZM503.3,59.8 L504.7,57.9 L506.6,59.4 L505.1,61.3ZM500.8,65.4 L502.5,63.2 L504.2,64.7 L502.5,66.9ZM505.3,66.5 L507.1,64.2 L509.1,65.5 L507.1,67.8ZM508.0,63.2 L509.6,61.3 L511.8,62.4 L510.0,64.4ZM505.0,68.9 L507.0,66.6 L508.8,67.9 L506.7,70.3ZM512.1,65.1 L514.0,63.0 L515.8,64.7 L513.8,66.8ZM508.9,72.7 L511.1,70.5 L512.4,72.4 L510.2,74.5ZM512.1,69.4 L515.6,65.7 L516.7,68.0 L513.3,71.4ZM511.8,73.6 L513.9,71.6 L515.2,73.5 L513.2,75.4ZM514.8,70.7 L516.5,69.0 L517.7,71.1 L516.0,72.7ZM512.0,77.3 L514.0,75.4 L515.4,77.2 L513.4,78.9ZM514.2,77.0 L516.2,75.2 L517.6,77.1 L515.6,78.8ZM518.6,76.9 L520.3,75.5 L521.7,77.3 L520.0,78.7ZM513.5,84.7 L515.2,83.3 L516.5,85.0 L514.8,86.4ZM515.1,86.7 L516.8,85.4 L518.2,87.1 L516.4,88.3ZM519.0,83.7 L521.1,82.1 L522.4,84.0 L520.4,85.5ZM515.9,87.7 L517.7,86.4 L519.0,88.1 L517.3,89.3ZM516.8,88.7 L518.5,87.4 L519.8,89.1 L518.1,90.3ZM520.7,85.9 L522.7,84.4 L524.1,86.2 L522.0,87.6ZM522.9,86.0 L526.1,83.8 L527.5,85.6 L524.3,87.7ZM518.5,90.7 L521.6,88.5 L523.0,90.3 L519.7,92.4ZM521.8,90.0 L523.9,88.6 L525.2,90.4 L523.1,91.8ZM524.7,88.1 L526.8,86.7 L528.2,88.6 L526.0,89.9ZM522.7,91.1 L524.8,89.7 L526.1,91.5 L523.9,92.9ZM525.6,89.2 L528.8,87.1 L530.2,89.1 L526.9,91.1ZM523.5,92.1 L525.6,90.8 L526.9,92.7 L524.7,94.0ZM527.2,94.7 L529.3,93.5 L530.4,95.5 L528.3,96.6ZM527.9,95.9 L530.0,94.7 L531.1,96.7 L528.9,97.8ZM525.6,98.6 L527.8,97.5 L528.9,99.4 L526.7,100.5ZM529.2,98.3 L531.3,97.2 L532.3,99.2 L530.2,100.3ZM529.8,99.5 L532.0,98.4 L532.9,100.5 L530.8,101.5ZM531.0,102.0 L534.5,100.4 L535.5,102.5 L532.0,104.0ZM532.8,105.7 L535.0,104.8 L535.9,106.9 L533.7,107.8ZM535.7,104.5 L537.5,103.7 L538.5,105.9 L536.6,106.6ZM529.7,109.8 L531.6,109.1 L532.3,111.1 L530.4,111.8ZM535.0,110.8 L537.4,109.9 L538.5,112.0 L536.0,112.8ZM530.9,113.6 L533.0,112.9 L533.7,114.9 L531.5,115.6ZM535.7,112.0 L538.2,111.1 L539.3,113.2 L536.6,114.0ZM539.2,110.8 L541.3,110.1 L542.6,112.2 L540.3,112.9ZM532.7,114.4 L535.3,113.5 L536.1,115.6 L533.4,116.4ZM536.4,113.2 L539.0,112.4 L540.0,114.5 L537.3,115.3ZM535.1,115.0 L537.8,114.2 L538.7,116.3 L535.8,117.1ZM531.8,117.4 L534.3,116.7 L534.9,118.8 L532.3,119.5ZM532.1,118.7 L534.7,118.0 L535.1,120.1 L532.6,120.7ZM536.0,117.6 L541.2,116.2 L541.5,118.6 L536.4,119.8ZM538.5,119.8 L541.4,119.1 L541.7,121.5 L538.8,122.1ZM533.0,123.8 L535.4,123.3 L535.7,125.5 L533.3,125.9ZM542.8,124.7 L545.2,124.3 L545.1,126.7 L542.8,127.1ZM540.7,126.5 L543.4,126.1 L543.0,128.5 L540.4,128.8ZM540.3,128.0 L544.2,127.4 L543.5,129.8 L539.9,130.3ZM538.9,132.3 L540.9,132.1 L540.3,134.5 L538.3,134.6ZM538.3,133.8 L540.9,133.5 L539.6,135.9 L537.4,136.0ZM537.3,135.2 L539.0,135.1 L537.9,137.4 L536.5,137.4ZM536.4,136.6 L537.8,136.5 L537.3,138.7 L536.0,138.8ZM535.9,138.0 L537.2,137.9 L537.4,140.1 L536.1,140.1ZM536.7,140.6 L537.7,140.6 L537.8,142.7 L536.8,142.8ZM535.1,141.9 L536.5,141.9 L536.5,144.1 L535.1,144.1ZM536.4,144.6 L537.8,144.6 L537.8,146.8 L536.4,146.7ZM535.2,145.9 L536.6,145.9 L536.6,148.1 L535.2,148.0ZM536.4,145.9 L537.9,145.9 L537.9,148.1 L536.5,148.1ZM537.4,154.0 L538.6,154.1 L538.5,156.4 L537.3,156.2ZM536.6,155.3 L538.2,155.5 L538.1,157.7 L536.5,157.4ZM537.4,158.1 L538.7,158.3 L538.6,160.5 L537.3,160.3ZM535.6,159.2 L537.3,159.4 L537.1,161.6 L535.3,161.3ZM535.8,163.3 L537.6,163.7 L536.9,165.8 L535.2,165.4ZM535.4,164.6 L537.6,165.1 L536.9,167.2 L534.8,166.7ZM535.0,165.8 L537.1,166.4 L536.3,168.5 L534.3,167.9ZM534.0,168.4 L535.6,168.8 L534.8,170.9 L533.3,170.4ZM532.0,169.2 L533.6,169.6 L532.8,171.7 L531.4,171.2ZM531.6,170.4 L533.1,170.9 L532.3,172.9 L530.9,172.4ZM530.6,172.9 L533.2,173.7 L532.2,175.7 L529.8,174.8ZM530.0,175.5 L531.3,175.9 L530.3,177.9 L529.1,177.4ZM531.0,175.8 L531.9,176.1 L530.9,178.1 L530.0,177.7ZM529.9,176.8 L531.1,177.3 L530.0,179.2 L528.9,178.7Z"/>
<path fill="#6cae2a" d="M358.2,115.0 L357.7,114.8 L358.3,112.9 L358.8,113.1ZM358.3,115.0 L357.4,114.7 L357.9,112.8 L358.8,113.1ZM358.6,113.8 L357.6,113.5 L357.9,111.5 L359.1,111.9ZM358.7,112.6 L357.6,112.2 L357.9,110.1 L359.0,110.5ZM359.0,111.4 L358.3,111.1 L358.7,109.1 L359.4,109.4ZM359.2,108.8 L358.1,108.3 L358.5,106.3 L359.7,106.8ZM358.0,108.3 L356.9,107.8 L357.1,105.6 L358.4,106.2ZM359.5,107.5 L358.6,107.2 L359.1,105.2 L360.0,105.5ZM359.5,106.2 L358.3,105.7 L358.8,103.6 L360.0,104.2ZM358.6,105.8 L357.3,105.2 L357.7,103.1 L359.0,103.7ZM357.6,105.3 L356.7,104.9 L357.1,102.8 L357.9,103.2ZM359.9,105.0 L359.0,104.6 L359.5,102.5 L360.5,103.0ZM359.2,104.7 L357.4,103.8 L357.8,101.7 L359.7,102.6ZM357.6,103.9 L356.7,103.5 L357.1,101.3 L358.0,101.8ZM359.3,103.3 L358.0,102.7 L358.6,100.6 L359.9,101.3ZM357.6,102.5 L356.7,102.0 L357.1,99.9 L358.1,100.4ZM360.4,102.4 L357.6,101.0 L358.3,99.0 L361.0,100.4ZM360.4,101.0 L358.5,100.0 L359.2,98.0 L361.1,99.0ZM358.0,99.8 L357.1,99.3 L357.8,97.2 L358.8,97.7ZM360.7,99.7 L358.8,98.7 L359.6,96.7 L361.5,97.7ZM359.3,97.5 L357.8,96.6 L358.6,94.6 L360.1,95.5ZM361.4,97.2 L360.2,96.5 L361.0,94.5 L362.3,95.2ZM359.7,96.2 L358.2,95.3 L359.0,93.3 L360.5,94.2ZM362.8,93.4 L361.5,92.6 L362.4,90.7 L363.7,91.5ZM364.0,91.1 L363.1,90.5 L364.1,88.6 L365.0,89.3ZM364.5,89.9 L363.6,89.3 L364.6,87.4 L365.5,88.0ZM364.8,88.5 L363.5,87.6 L364.6,85.7 L365.8,86.6ZM364.1,86.4 L362.8,85.5 L363.8,83.4 L365.1,84.4ZM366.2,86.3 L364.6,85.1 L365.7,83.1 L367.3,84.4ZM364.6,85.1 L363.3,84.1 L364.3,82.1 L365.6,83.1ZM366.2,81.2 L364.9,80.1 L366.0,78.1 L367.4,79.3ZM366.1,79.3 L364.7,78.1 L366.3,76.5 L367.6,77.7ZM367.8,78.9 L366.4,77.8 L368.2,76.3 L369.4,77.4ZM369.4,78.6 L368.2,77.5 L369.9,76.0 L371.0,77.0ZM368.2,77.5 L367.0,76.5 L369.0,75.1 L370.0,76.1ZM369.4,76.8 L368.4,75.8 L370.3,74.5 L371.2,75.4ZM373.4,74.9 L372.4,74.0 L373.7,72.1 L374.7,73.1ZM373.7,73.3 L372.7,72.2 L373.9,70.3 L375.0,71.4ZM374.9,72.6 L373.8,71.4 L375.2,69.6 L376.3,70.9ZM376.1,71.8 L375.2,70.9 L376.7,69.3 L377.6,70.3ZM375.1,70.8 L373.9,69.6 L375.5,67.9 L376.6,69.2ZM376.6,70.5 L374.2,67.8 L375.8,66.1 L378.2,68.9ZM377.5,69.4 L376.4,68.1 L378.0,66.5 L379.1,67.9ZM380.8,67.0 L379.9,65.9 L381.6,64.3 L382.5,65.5ZM381.4,65.5 L380.2,64.0 L381.9,62.4 L383.0,64.0ZM380.1,63.8 L378.9,62.3 L380.5,60.6 L381.7,62.2ZM382.4,64.5 L381.2,63.0 L382.9,61.4 L384.0,63.0ZM383.3,63.6 L382.2,61.9 L383.9,60.4 L385.1,62.2ZM387.6,60.1 L385.6,56.9 L387.4,55.4 L389.5,58.8ZM384.4,55.0 L383.3,53.4 L385.1,51.7 L386.2,53.4ZM385.4,53.9 L384.3,52.2 L386.2,50.5 L387.2,52.3ZM389.9,58.4 L387.7,54.9 L389.6,53.5 L391.7,57.2ZM386.4,52.8 L385.4,51.0 L387.2,49.4 L388.3,51.2ZM391.7,58.7 L390.6,56.9 L392.4,55.5 L393.6,57.6ZM390.1,56.1 L388.8,53.9 L390.5,52.2 L391.9,54.6ZM387.5,51.7 L386.4,49.9 L387.9,47.5 L389.0,49.5ZM392.8,58.0 L391.7,56.0 L393.6,54.7 L394.8,57.0ZM390.1,53.3 L388.8,50.9 L390.4,48.8 L391.8,51.5ZM388.2,50.0 L387.0,47.9 L388.4,45.3 L389.7,47.6ZM391.0,51.9 L389.5,49.3 L391.5,47.7 L393.0,50.5ZM392.2,51.0 L388.6,44.3 L391.4,44.2 L394.6,50.5ZM396.6,56.4 L395.4,54.1 L397.6,53.4 L398.7,55.5ZM394.8,52.9 L390.5,44.7 L393.3,44.7 L397.1,52.3ZM396.3,52.7 L394.1,48.3 L396.6,48.1 L398.5,52.1ZM393.5,47.2 L392.5,45.1 L395.2,45.1 L396.2,47.1ZM397.7,52.5 L395.8,48.5 L398.3,48.2 L400.0,52.0ZM399.9,53.8 L397.5,48.6 L399.8,48.0 L402.1,53.1ZM397.1,47.8 L396.2,46.0 L398.7,45.5 L399.5,47.3ZM400.6,52.0 L399.6,49.8 L401.7,48.8 L402.6,51.0ZM401.8,51.3 L400.9,49.1 L403.0,48.1 L403.9,50.3ZM399.9,47.0 L399.2,45.1 L401.3,44.1 L402.1,45.9ZM403.7,52.1 L402.8,49.9 L404.8,49.0 L405.7,51.2ZM403.1,47.1 L401.8,43.8 L404.0,42.7 L405.3,46.1ZM404.4,46.4 L403.6,44.2 L405.8,43.2 L406.6,45.4ZM407.4,50.2 L406.6,48.0 L408.7,47.1 L409.4,49.4ZM409.9,49.1 L409.1,46.8 L411.3,45.9 L412.0,48.2ZM408.3,44.5 L407.6,42.2 L409.8,41.3 L410.5,43.6ZM411.5,49.6 L410.4,46.2 L412.6,45.3 L413.6,48.7ZM412.4,47.8 L411.7,45.5 L413.9,44.7 L414.5,47.0ZM413.7,47.2 L413.0,44.9 L415.2,44.1 L415.8,46.4ZM413.7,42.0 L413.1,39.8 L415.4,39.0 L415.9,41.3ZM416.2,46.0 L415.6,43.7 L417.9,43.0 L418.4,45.2ZM415.1,41.5 L414.5,39.2 L416.8,38.4 L417.3,40.7ZM417.2,43.9 L416.2,40.2 L418.5,39.4 L419.4,43.2ZM421.5,43.8 L421.1,41.5 L423.3,40.8 L423.7,43.1ZM420.9,40.8 L420.4,38.5 L422.7,37.7 L423.2,40.0ZM423.9,41.2 L423.5,38.8 L425.8,38.0 L426.2,40.5ZM425.3,40.6 L424.9,38.2 L427.2,37.5 L427.6,39.9ZM424.5,35.7 L424.2,33.6 L426.6,32.8 L426.9,34.9ZM426.7,40.1 L426.1,35.9 L428.5,35.1 L429.0,39.4ZM425.9,35.0 L425.6,32.9 L428.1,32.1 L428.3,34.2ZM427.4,34.3 L427.1,32.2 L429.6,31.4 L429.8,33.6ZM428.9,33.7 L428.6,31.5 L431.1,30.8 L431.3,33.0ZM431.2,41.6 L431.0,39.4 L433.3,38.9 L433.5,41.1ZM430.3,33.1 L430.1,30.9 L432.6,30.2 L432.8,32.4ZM432.5,39.8 L432.1,35.3 L434.5,34.8 L434.8,39.3ZM434.0,40.8 L433.8,38.5 L436.2,38.1 L436.3,40.3ZM433.5,33.8 L433.2,29.7 L435.7,29.1 L435.9,33.3ZM435.2,37.0 L435.1,34.4 L437.5,33.9 L437.6,36.6ZM434.9,31.4 L434.7,29.2 L437.3,28.6 L437.4,30.9ZM436.8,38.5 L436.6,33.9 L439.0,33.5 L439.1,38.1ZM438.2,36.2 L438.1,33.5 L440.5,33.1 L440.6,35.8ZM438.0,32.4 L437.9,28.1 L440.5,27.6 L440.5,31.9ZM439.7,37.8 L439.6,35.0 L442.1,34.7 L442.1,37.4ZM439.6,31.9 L439.5,29.2 L442.1,28.8 L442.1,31.5ZM441.1,37.4 L441.1,34.7 L443.6,34.7 L443.5,37.5ZM442.6,39.0 L442.6,34.7 L445.1,34.8 L445.0,39.1ZM444.2,31.6 L444.3,28.9 L446.9,29.0 L446.7,31.8ZM445.6,37.6 L445.7,34.8 L448.1,35.0 L447.9,37.7ZM445.7,33.7 L445.8,30.9 L448.3,31.1 L448.2,33.8ZM447.2,33.8 L447.4,31.0 L449.9,31.2 L449.7,34.0ZM448.4,39.3 L448.5,37.0 L451.0,37.2 L450.7,39.5ZM450.3,34.0 L450.5,31.3 L453.0,31.6 L452.7,34.3ZM451.8,34.2 L452.0,31.5 L454.6,31.8 L454.3,34.5ZM452.7,39.8 L453.0,37.4 L455.4,37.7 L455.1,40.1ZM453.3,34.4 L453.8,29.7 L456.4,29.9 L455.8,34.6ZM454.2,39.9 L454.5,37.6 L456.8,37.9 L456.5,40.3ZM455.1,32.5 L455.6,28.2 L458.2,28.2 L457.6,32.6ZM457.9,34.7 L458.3,31.8 L460.9,32.1 L460.4,35.0ZM458.4,40.8 L458.8,38.3 L461.2,38.7 L460.7,41.3ZM459.4,34.8 L460.2,29.8 L462.8,30.0 L461.9,35.2ZM460.5,37.2 L461.9,29.8 L464.5,30.1 L462.9,37.6ZM461.2,41.5 L461.7,38.9 L464.1,39.4 L463.5,42.1ZM462.0,37.4 L463.0,32.1 L465.6,32.5 L464.4,37.9ZM464.5,33.1 L465.5,28.1 L468.2,28.4 L467.0,33.5ZM466.0,33.3 L467.2,28.2 L469.7,29.1 L468.5,34.1ZM467.5,33.9 L468.7,28.8 L471.2,29.9 L469.9,34.8ZM468.9,34.5 L470.2,29.6 L472.6,30.7 L471.3,35.5ZM471.0,33.0 L471.7,30.4 L474.1,31.5 L473.3,34.1ZM470.6,40.3 L471.4,37.4 L473.7,38.5 L472.8,41.4ZM473.2,36.8 L474.0,33.9 L476.4,35.0 L475.4,37.9ZM473.9,39.8 L475.4,34.7 L477.8,35.7 L476.1,40.8ZM483.2,44.7 L484.6,41.4 L486.9,42.5 L485.4,45.8ZM488.9,56.2 L490.1,53.9 L491.9,55.4 L490.6,57.6ZM491.5,51.4 L492.5,49.4 L494.2,51.4 L493.1,53.2ZM493.4,53.8 L494.5,52.0 L496.6,53.1 L495.5,54.9ZM495.3,58.8 L496.7,56.6 L498.7,57.8 L497.2,60.1ZM497.3,55.8 L498.5,53.9 L500.6,55.1 L499.3,57.0ZM495.5,61.1 L496.9,58.9 L498.8,60.2 L497.3,62.4ZM497.7,60.4 L499.2,58.1 L501.1,59.5 L499.5,61.7ZM498.8,61.2 L500.3,58.9 L502.2,60.4 L500.6,62.6ZM499.9,62.1 L501.5,59.8 L503.3,61.3 L501.6,63.5ZM499.8,64.5 L501.4,62.3 L503.2,63.8 L501.5,66.0ZM504.4,60.7 L505.9,58.8 L507.7,60.3 L506.2,62.2ZM506.6,62.6 L508.1,60.7 L510.3,61.9 L508.7,63.8ZM506.6,64.8 L508.5,62.6 L510.6,63.8 L508.6,66.1ZM507.9,65.5 L509.9,63.2 L511.9,64.5 L509.9,66.8ZM510.5,66.9 L512.6,64.5 L514.4,66.2 L512.1,68.6ZM508.1,71.5 L510.3,69.2 L511.7,71.1 L509.5,73.3ZM511.5,67.9 L515.1,64.1 L516.3,66.4 L512.7,70.0ZM517.8,75.7 L519.5,74.2 L520.8,76.2 L519.1,77.6ZM515.8,79.3 L517.8,77.6 L519.2,79.4 L517.2,81.0ZM519.4,78.1 L521.1,76.6 L522.5,78.5 L520.8,79.9ZM516.0,82.6 L518.0,81.0 L519.4,82.8 L517.3,84.4ZM520.2,79.2 L522.0,77.8 L523.4,79.7 L521.6,81.1ZM514.3,85.7 L516.0,84.3 L517.3,86.0 L515.6,87.4ZM517.6,84.8 L519.7,83.2 L521.0,85.0 L518.9,86.5ZM522.7,82.7 L524.4,81.4 L525.7,83.3 L524.0,84.6ZM519.3,86.9 L521.3,85.4 L522.7,87.2 L520.6,88.6ZM522.1,84.9 L525.2,82.6 L526.6,84.5 L523.4,86.7ZM517.6,89.7 L520.8,87.5 L522.1,89.2 L518.9,91.3ZM521.0,89.0 L523.1,87.5 L524.4,89.3 L522.3,90.7ZM525.2,86.1 L527.0,84.9 L528.4,86.7 L526.6,87.9ZM519.3,91.7 L522.5,89.6 L523.8,91.3 L520.5,93.4ZM522.8,94.1 L525.0,92.8 L526.1,94.7 L523.9,95.9ZM522.4,95.9 L525.7,94.0 L526.8,95.9 L523.5,97.7ZM524.3,96.3 L526.4,95.1 L527.5,97.0 L525.4,98.2ZM525.0,97.5 L527.1,96.3 L528.2,98.2 L526.0,99.3ZM530.0,96.3 L532.1,95.2 L533.2,97.2 L531.0,98.3ZM526.3,99.7 L528.5,98.6 L529.5,100.6 L527.3,101.6ZM530.6,97.5 L533.8,95.9 L534.8,98.0 L531.6,99.6ZM530.4,100.7 L532.6,99.7 L533.5,101.8 L531.4,102.7ZM533.2,99.4 L535.0,98.5 L535.9,100.7 L534.2,101.5ZM527.2,103.7 L529.0,102.9 L529.9,104.9 L528.2,105.6ZM527.8,104.9 L529.6,104.1 L530.4,106.1 L528.6,106.9ZM531.7,103.2 L533.8,102.2 L534.7,104.3 L532.6,105.2ZM528.8,107.3 L530.6,106.6 L531.4,108.6 L529.5,109.3ZM531.3,110.6 L533.6,109.8 L534.4,111.9 L532.0,112.7ZM534.0,112.5 L536.4,111.7 L537.4,113.8 L534.8,114.6ZM534.5,113.8 L537.1,113.0 L538.1,115.1 L535.3,115.9ZM541.0,113.3 L543.3,112.6 L544.6,114.7 L542.1,115.4ZM535.6,116.3 L538.5,115.5 L539.2,117.7 L536.3,118.4ZM541.8,114.5 L544.3,113.8 L545.3,116.1 L542.8,116.7ZM540.4,116.4 L545.1,115.2 L545.4,117.6 L540.7,118.7ZM532.4,120.0 L537.0,118.8 L537.4,121.0 L532.8,122.0ZM540.5,117.9 L545.2,116.7 L545.4,119.1 L540.8,120.2ZM534.3,120.8 L539.3,119.6 L539.6,121.9 L534.7,123.0ZM540.6,119.3 L543.5,118.6 L543.7,121.0 L540.9,121.6ZM532.8,122.5 L537.3,121.5 L537.6,123.7 L533.2,124.6ZM538.6,121.2 L541.5,120.6 L541.7,122.9 L538.9,123.5ZM542.8,120.3 L545.2,119.7 L545.4,122.2 L543.0,122.6ZM542.8,121.8 L545.2,121.3 L545.4,123.7 L543.0,124.1ZM534.8,124.8 L537.6,124.3 L537.8,126.5 L535.1,126.9ZM538.8,124.0 L543.6,123.1 L543.7,125.4 L539.0,126.3ZM536.9,125.8 L541.6,124.9 L541.7,127.2 L537.1,128.0ZM538.8,126.8 L541.5,126.4 L541.2,128.7 L538.7,129.1ZM539.8,129.5 L543.4,129.0 L542.8,131.4 L539.5,131.8ZM537.9,131.1 L542.6,130.5 L541.9,132.9 L537.6,133.3ZM540.1,132.2 L541.8,132.0 L541.0,134.4 L539.5,134.5ZM537.1,133.9 L539.1,133.7 L538.2,136.0 L536.5,136.1ZM535.7,141.9 L537.0,141.9 L537.1,144.1 L535.7,144.1ZM537.1,145.9 L538.1,145.9 L538.2,148.1 L537.1,148.1ZM535.9,147.2 L538.0,147.3 L538.0,149.5 L535.9,149.3ZM537.3,148.6 L538.4,148.7 L538.4,150.9 L537.3,150.8ZM535.2,149.8 L536.7,149.9 L536.6,152.1 L535.1,151.9ZM536.6,149.9 L538.5,150.0 L538.5,152.2 L536.6,152.1ZM535.1,153.7 L536.7,153.9 L536.5,156.1 L534.9,155.9ZM534.9,156.4 L536.6,156.6 L536.3,158.8 L534.7,158.5ZM532.8,169.4 L534.3,169.8 L533.5,171.9 L532.1,171.4ZM533.0,170.9 L534.5,171.3 L533.6,173.3 L532.2,172.9ZM529.0,176.5 L530.2,176.9 L529.2,178.9 L528.1,178.4Z"/>
<path fill="#1a50d0" d="M358.1,115.0 L357.2,114.7 L357.7,112.7 L358.6,113.0ZM357.9,112.3 L357.2,112.0 L357.4,109.9 L358.0,110.2ZM410.5,41.7 L410.0,39.8 L412.3,38.9 L412.8,40.9ZM415.9,44.5 L415.3,42.2 L417.5,41.4 L418.0,43.7ZM420.2,44.4 L419.7,42.1 L421.9,41.4 L422.4,43.7ZM431.1,40.2 L430.8,37.6 L433.2,37.1 L433.4,39.7ZM447.4,29.9 L447.6,27.5 L450.2,27.7 L450.0,30.1ZM463.0,40.0 L463.7,36.9 L466.1,37.4 L465.3,40.6ZM466.8,43.2 L468.0,38.3 L470.3,39.1 L469.0,43.9ZM468.6,41.8 L469.4,38.9 L471.7,39.8 L470.8,42.8ZM469.9,42.5 L470.8,39.6 L473.0,40.6 L472.1,43.5ZM473.2,46.6 L474.0,44.0 L476.2,45.1 L475.3,47.7ZM480.2,51.9 L481.4,49.0 L483.4,50.3 L482.0,53.2ZM481.3,52.9 L482.6,49.9 L484.5,51.2 L483.1,54.2ZM482.3,53.9 L483.7,50.9 L485.6,52.2 L484.1,55.3ZM483.3,54.9 L484.8,51.8 L486.2,54.1 L485.1,56.3ZM485.1,54.4 L486.4,51.8 L488.1,53.5 L486.8,56.0ZM485.3,57.0 L486.4,54.9 L488.1,56.4 L487.0,58.4ZM486.3,58.0 L487.4,56.0 L489.1,57.5 L488.0,59.4ZM490.5,61.4 L491.6,59.6 L493.4,60.8 L492.3,62.7ZM496.5,64.4 L498.1,62.1 L499.9,63.5 L498.2,65.8ZM496.7,66.5 L498.0,64.6 L499.7,66.0 L498.3,67.9ZM498.6,66.1 L500.2,63.9 L502.0,65.3 L500.2,67.5ZM499.6,67.0 L501.3,64.8 L503.0,66.3 L501.2,68.4ZM500.6,67.9 L502.3,65.7 L504.0,67.2 L502.2,69.4ZM500.5,70.1 L503.3,66.7 L505.1,68.0 L502.1,71.5ZM501.5,71.0 L504.4,67.5 L506.2,68.8 L503.0,72.5ZM503.6,70.6 L505.5,68.3 L507.3,69.7 L505.2,72.0ZM504.6,71.4 L506.6,69.1 L508.4,70.5 L506.2,72.9ZM505.6,72.3 L507.7,69.9 L509.3,71.5 L507.1,73.9ZM505.1,74.8 L508.7,70.9 L510.1,72.7 L506.5,76.3ZM507.3,74.4 L509.4,72.1 L510.8,73.9 L508.7,76.0ZM508.1,75.4 L510.2,73.3 L511.5,75.1 L509.5,77.1ZM507.7,77.7 L510.9,74.5 L512.3,76.3 L509.2,79.2ZM510.6,78.6 L512.6,76.7 L514.0,78.4 L511.9,80.2ZM511.4,79.6 L513.4,77.8 L514.8,79.5 L512.8,81.3ZM513.8,82.7 L515.8,81.0 L517.2,82.8 L515.1,84.4ZM514.6,83.8 L516.6,82.1 L517.9,83.9 L515.9,85.5ZM515.4,84.8 L517.4,83.2 L518.7,85.0 L516.7,86.5ZM527.1,97.8 L529.2,96.7 L530.3,98.7 L528.1,99.8ZM527.8,99.0 L529.9,97.9 L530.9,99.9 L528.8,101.0ZM533.8,100.7 L535.6,99.9 L536.6,102.0 L534.8,102.8ZM533.7,103.8 L535.8,102.9 L536.8,105.0 L534.6,105.9ZM533.5,127.7 L535.8,127.3 L535.9,129.5 L533.8,129.8ZM533.7,129.0 L535.8,128.7 L535.9,130.8 L533.9,131.1ZM533.9,131.6 L535.8,131.4 L535.8,133.5 L534.1,133.7ZM534.1,132.9 L535.8,132.7 L535.7,134.8 L534.2,135.0ZM534.1,134.2 L536.8,133.9 L536.4,136.1 L534.3,136.3ZM534.5,140.6 L535.8,140.6 L535.9,142.8 L534.5,142.8ZM534.3,143.2 L535.3,143.2 L535.3,145.4 L534.3,145.3ZM536.3,143.2 L537.7,143.3 L537.8,145.4 L536.3,145.4ZM534.3,144.5 L535.3,144.6 L535.3,146.7 L534.3,146.6ZM534.5,147.1 L536.0,147.2 L536.0,149.4 L534.5,149.3ZM534.5,148.4 L536.0,148.5 L535.9,150.7 L534.4,150.6ZM533.4,157.5 L534.7,157.7 L534.4,159.8 L533.1,159.5ZM532.8,161.3 L534.1,161.6 L533.7,163.7 L532.3,163.4ZM532.2,163.8 L535.3,164.5 L534.7,166.6 L531.7,165.9ZM530.9,168.9 L532.1,169.2 L531.4,171.2 L530.3,170.9ZM533.5,169.6 L535.0,170.1 L534.2,172.1 L532.8,171.7ZM530.6,170.1 L531.7,170.4 L531.0,172.5 L529.9,172.1ZM530.4,171.4 L531.9,171.9 L531.1,173.9 L529.7,173.4ZM529.3,173.8 L530.3,174.1 L529.5,176.1 L528.6,175.8ZM528.9,175.0 L529.8,175.4 L529.0,177.3 L528.2,177.0ZM528.5,176.3 L529.3,176.6 L528.4,178.5 L527.7,178.2Z"/>
<path fill="#eec52a" d="M359.0,111.4 L357.3,110.7 L357.6,108.6 L359.4,109.4ZM359.3,108.8 L358.5,108.5 L359.0,106.5 L359.8,106.8ZM359.7,106.3 L358.8,105.9 L359.3,103.8 L360.2,104.3ZM358.1,104.2 L356.9,103.6 L357.3,101.4 L358.6,102.0ZM360.1,103.7 L359.2,103.2 L359.8,101.2 L360.7,101.7ZM359.2,100.4 L357.9,99.7 L358.7,97.7 L359.9,98.4ZM359.9,97.8 L358.6,97.1 L359.4,95.1 L360.7,95.8ZM361.9,95.9 L360.6,95.2 L361.5,93.2 L362.7,94.0ZM359.9,93.3 L359.0,92.7 L359.9,90.7 L360.8,91.2ZM362.6,91.8 L361.4,91.0 L362.3,89.0 L363.6,89.9ZM360.8,90.7 L359.9,90.1 L360.9,88.0 L361.8,88.7ZM361.9,89.8 L360.7,88.9 L361.7,86.9 L362.9,87.8ZM364.2,89.7 L363.0,88.9 L364.0,86.9 L365.3,87.8ZM364.2,88.1 L362.9,87.2 L364.0,85.2 L365.2,86.2ZM365.6,87.5 L364.1,86.4 L365.1,84.4 L366.7,85.6ZM366.4,84.8 L365.1,83.8 L366.3,81.9 L367.6,83.0ZM364.3,81.4 L363.2,80.6 L364.3,78.5 L365.3,79.3ZM368.2,82.8 L367.1,81.9 L368.3,80.1 L369.4,81.0ZM365.5,80.6 L364.2,79.5 L365.3,77.5 L366.6,78.6ZM368.9,81.6 L367.0,80.1 L368.4,78.4 L370.1,79.9ZM369.9,77.2 L368.8,76.2 L370.7,74.8 L371.6,75.8ZM371.8,77.1 L370.8,76.2 L372.4,74.6 L373.2,75.5ZM372.1,75.5 L371.3,74.7 L372.3,72.6 L373.2,73.6ZM372.6,74.2 L371.4,72.9 L372.4,70.7 L373.8,72.2ZM374.1,73.7 L373.1,72.7 L374.4,70.8 L375.5,72.0ZM373.8,71.5 L372.7,70.3 L374.0,68.3 L375.1,69.6ZM374.8,68.4 L373.2,66.7 L374.8,64.9 L376.3,66.7ZM377.9,69.9 L377.0,68.8 L378.6,67.3 L379.5,68.3ZM379.4,67.5 L378.3,66.1 L379.9,64.5 L381.1,65.9ZM377.5,65.1 L376.4,63.7 L378.0,62.1 L379.2,63.5ZM379.8,65.7 L378.6,64.2 L380.3,62.6 L381.4,64.1ZM377.8,63.2 L376.9,62.1 L378.5,60.4 L379.4,61.6ZM381.7,63.6 L380.5,62.1 L382.2,60.4 L383.3,62.1ZM380.5,59.6 L379.5,58.3 L381.2,56.5 L382.1,57.9ZM383.6,61.6 L382.4,59.9 L384.2,58.4 L385.4,60.2ZM383.1,58.4 L381.9,56.6 L383.7,55.0 L384.9,56.8ZM389.4,60.2 L388.3,58.5 L390.2,57.3 L391.2,59.0ZM389.2,51.6 L387.8,49.3 L389.3,46.9 L390.8,49.5ZM398.6,54.1 L397.4,51.8 L399.7,51.2 L400.7,53.5ZM396.1,49.2 L394.4,45.5 L397.1,45.6 L398.6,48.9ZM397.8,49.3 L396.8,47.1 L399.2,46.6 L400.1,48.7ZM399.3,49.1 L398.3,46.9 L400.5,45.9 L401.4,48.1ZM402.9,53.9 L402.2,52.1 L404.2,51.1 L404.9,52.9ZM401.9,47.8 L400.9,45.6 L403.1,44.5 L404.0,46.8ZM403.9,44.9 L403.1,43.1 L405.4,42.1 L406.0,43.9ZM408.1,48.1 L407.3,45.9 L409.5,45.0 L410.2,47.3ZM406.5,43.6 L405.8,41.7 L408.1,40.8 L408.7,42.7ZM409.4,47.5 L408.6,45.3 L410.8,44.4 L411.5,46.7ZM411.9,46.3 L411.2,44.0 L413.4,43.1 L414.1,45.4ZM413.2,45.7 L412.6,43.4 L414.8,42.6 L415.4,44.9ZM411.9,41.1 L411.3,39.2 L413.7,38.4 L414.2,40.3ZM417.8,46.6 L417.0,43.2 L419.2,42.4 L420.0,45.8ZM419.1,46.0 L418.3,42.6 L420.6,41.9 L421.3,45.3ZM418.2,41.9 L417.6,39.6 L420.0,38.9 L420.4,41.2ZM417.5,38.9 L417.0,37.0 L419.4,36.3 L419.8,38.2ZM419.9,42.9 L419.4,40.6 L421.6,39.9 L422.1,42.2ZM418.9,38.4 L418.5,36.5 L420.8,35.7 L421.2,37.6ZM420.3,37.8 L419.9,35.9 L422.3,35.0 L422.6,36.9ZM422.3,40.2 L421.8,37.9 L424.2,37.0 L424.5,39.4ZM425.6,42.2 L425.2,39.8 L427.5,39.1 L427.8,41.6ZM429.5,39.0 L429.2,36.4 L431.6,35.8 L431.8,38.4ZM429.1,35.4 L428.8,32.9 L431.2,32.2 L431.5,34.8ZM430.9,38.4 L430.6,35.9 L433.0,35.3 L433.2,37.9ZM433.8,37.5 L433.4,33.0 L435.9,32.5 L436.1,37.0ZM435.1,35.2 L434.9,32.5 L437.4,32.0 L437.5,34.7ZM436.6,34.7 L436.5,32.0 L439.0,31.6 L439.0,34.3ZM438.1,34.3 L438.0,31.6 L440.5,31.1 L440.6,33.9ZM441.1,33.5 L441.1,30.7 L443.7,30.8 L443.6,33.6ZM444.3,29.7 L444.3,27.3 L446.9,27.5 L446.8,29.8ZM448.5,37.8 L448.7,35.0 L451.1,35.3 L450.9,38.0ZM448.9,31.9 L449.2,27.7 L451.8,27.9 L451.4,32.2ZM450.1,36.0 L450.3,33.2 L452.8,33.5 L452.5,36.2ZM450.4,32.1 L450.6,29.4 L453.2,29.6 L452.9,32.4ZM456.1,36.5 L456.5,33.7 L459.0,34.0 L458.5,36.9ZM456.6,32.5 L457.0,29.7 L459.6,29.9 L459.2,32.7ZM457.3,38.8 L457.7,35.9 L460.1,36.3 L459.6,39.2ZM458.7,39.1 L459.2,36.1 L461.6,36.5 L461.1,39.5ZM463.5,37.7 L464.1,34.6 L466.6,35.1 L465.9,38.2ZM475.2,35.5 L476.0,33.0 L478.4,33.9 L477.6,36.4ZM475.8,43.3 L476.8,40.3 L479.1,41.3 L478.0,44.3ZM480.2,40.1 L481.3,37.0 L483.7,38.0 L482.5,41.1ZM481.6,40.7 L482.8,37.6 L485.2,38.6 L483.8,41.8ZM483.0,41.4 L484.3,38.2 L486.6,39.3 L485.2,42.5ZM484.3,42.1 L485.7,38.9 L488.0,39.9 L486.5,43.3ZM485.7,42.9 L488.1,37.3 L490.5,38.4 L487.9,44.0ZM484.6,48.9 L486.1,45.6 L488.2,46.8 L486.5,50.2ZM487.0,43.6 L488.5,40.2 L490.8,41.4 L489.2,44.9ZM485.7,49.9 L487.4,46.4 L488.1,50.4 L486.8,53.0ZM486.9,53.8 L489.1,49.6 L490.8,51.4 L488.7,55.4ZM489.6,48.6 L490.7,46.5 L492.4,48.4 L491.3,50.4ZM489.7,51.7 L491.6,47.9 L493.3,49.9 L491.4,53.4ZM490.7,55.7 L491.9,53.5 L493.8,54.9 L492.5,57.1ZM494.2,58.1 L495.5,55.9 L497.5,57.1 L496.1,59.3ZM499.8,57.2 L501.1,55.3 L503.1,56.6 L501.7,58.5ZM501.0,60.5 L502.6,58.2 L504.5,59.7 L502.8,61.9ZM503.2,62.3 L504.9,60.1 L506.7,61.6 L505.0,63.8ZM509.3,63.8 L511.0,61.8 L513.2,63.0 L511.4,65.1ZM510.7,64.5 L512.5,62.4 L514.7,63.7 L512.8,65.7ZM512.7,70.8 L514.8,68.6 L516.0,70.8 L513.9,72.8ZM512.6,74.8 L514.6,72.9 L516.0,74.7 L514.0,76.6ZM515.4,72.1 L517.1,70.5 L518.5,72.4 L516.8,74.0ZM513.4,75.9 L515.4,74.1 L516.8,75.9 L514.8,77.7ZM516.2,73.3 L517.9,71.7 L519.3,73.6 L517.6,75.2ZM513.6,79.4 L515.6,77.6 L517.0,79.4 L514.9,81.1ZM516.4,76.9 L518.4,75.2 L519.8,77.1 L517.7,78.8ZM517.2,78.1 L519.2,76.4 L520.6,78.2 L518.6,79.9ZM512.7,83.6 L514.4,82.2 L515.7,83.9 L514.0,85.3ZM515.2,81.6 L517.2,79.9 L518.6,81.7 L516.5,83.3ZM518.8,80.3 L520.9,78.7 L522.2,80.6 L520.2,82.2ZM521.1,80.4 L522.8,79.0 L524.2,80.9 L522.4,82.2ZM521.3,83.7 L523.3,82.2 L524.6,84.1 L522.6,85.6ZM517.9,87.9 L519.9,86.4 L521.3,88.2 L519.2,89.6ZM520.1,92.7 L521.9,91.6 L523.1,93.3 L521.3,94.4ZM527.9,89.4 L529.7,88.3 L531.0,90.2 L529.2,91.3ZM521.6,94.8 L523.5,93.7 L524.6,95.5 L522.8,96.6ZM525.8,92.3 L527.9,91.0 L529.1,93.0 L526.9,94.2ZM523.1,97.0 L524.9,95.9 L526.1,97.8 L524.2,98.8ZM530.8,94.3 L532.6,93.3 L533.6,95.4 L531.8,96.3ZM525.2,100.3 L527.0,99.4 L528.1,101.3 L526.3,102.2ZM526.6,102.6 L528.4,101.7 L529.3,103.7 L527.6,104.5ZM529.0,101.4 L531.2,100.4 L532.1,102.4 L530.0,103.4ZM531.8,100.1 L534.0,99.0 L534.9,101.2 L532.8,102.1ZM535.1,103.2 L536.9,102.5 L537.9,104.6 L536.0,105.3ZM529.9,106.9 L532.1,106.0 L532.9,108.0 L530.7,108.9ZM529.2,108.6 L531.1,107.8 L531.9,109.9 L530.0,110.6ZM533.3,107.0 L535.6,106.1 L536.5,108.2 L534.2,109.0ZM533.9,108.2 L536.1,107.4 L537.0,109.5 L534.7,110.3ZM534.4,109.5 L538.3,108.1 L539.3,110.2 L535.3,111.6ZM532.2,113.1 L534.7,112.3 L535.5,114.4 L532.9,115.2ZM531.2,114.8 L533.4,114.1 L534.1,116.2 L531.8,116.9ZM533.1,115.6 L535.9,114.8 L536.6,116.9 L533.8,117.7ZM537.0,114.5 L539.8,113.6 L540.8,115.8 L537.9,116.6ZM537.7,115.7 L540.5,114.9 L541.4,117.1 L538.4,117.9ZM538.4,118.4 L541.3,117.7 L541.6,120.0 L538.7,120.7ZM532.6,121.2 L535.1,120.6 L535.4,122.8 L533.0,123.3ZM542.7,118.8 L545.2,118.2 L545.4,120.6 L543.0,121.2ZM536.7,123.0 L539.5,122.5 L539.8,124.7 L537.0,125.2ZM538.2,129.7 L540.6,129.3 L540.2,131.7 L538.0,131.9ZM537.0,136.6 L538.1,136.5 L537.4,138.7 L536.5,138.8ZM536.1,139.3 L537.5,139.2 L537.7,141.4 L536.2,141.4ZM535.0,140.6 L536.4,140.6 L536.5,142.8 L535.1,142.8ZM536.2,140.6 L537.5,140.6 L537.6,142.7 L536.2,142.8ZM535.1,143.2 L536.5,143.2 L536.5,145.4 L535.1,145.4ZM535.9,149.8 L537.4,150.0 L537.4,152.1 L535.8,152.0ZM535.9,151.2 L537.5,151.3 L537.4,153.5 L535.8,153.3ZM535.9,152.5 L537.5,152.7 L537.4,154.8 L535.8,154.6ZM535.9,153.8 L537.5,154.0 L537.3,156.2 L535.7,156.0ZM535.7,157.8 L537.4,158.1 L537.1,160.3 L535.5,160.0ZM537.4,159.5 L538.7,159.7 L538.5,161.9 L537.2,161.7ZM537.4,160.8 L538.7,161.1 L538.4,163.3 L537.1,163.0ZM537.2,162.2 L538.6,162.5 L537.9,164.6 L536.6,164.3ZM536.8,163.5 L538.1,163.8 L537.4,165.9 L536.1,165.6ZM534.5,167.1 L536.1,167.5 L535.4,169.6 L533.8,169.2ZM531.2,174.5 L532.7,175.0 L531.6,176.9 L530.3,176.4ZM530.3,177.0 L531.2,177.3 L530.1,179.2 L529.3,178.9Z"/>
<path fill="#3c9a5a" d="M357.8,110.9 L357.1,110.6 L357.2,108.5 L358.0,108.8ZM363.7,91.0 L362.5,90.1 L363.5,88.2 L364.7,89.1ZM364.7,86.8 L363.5,85.9 L364.5,83.9 L365.7,84.9ZM366.4,83.1 L365.0,82.0 L366.2,80.0 L367.5,81.2ZM368.5,79.5 L367.2,78.4 L368.8,76.9 L370.0,78.0ZM373.4,75.0 L372.8,74.3 L374.2,72.5 L374.9,73.3ZM378.5,68.4 L377.3,67.1 L379.0,65.5 L380.1,66.9ZM394.4,55.2 L392.9,52.4 L395.2,51.7 L396.6,54.4ZM397.2,54.5 L395.9,51.9 L398.2,51.4 L399.3,53.8ZM404.9,51.5 L404.0,49.3 L406.1,48.3 L406.9,50.6ZM409.0,50.8 L408.4,48.9 L410.5,48.0 L411.1,49.9ZM414.1,43.6 L413.5,41.3 L415.8,40.5 L416.3,42.8ZM415.5,43.0 L414.9,40.7 L417.1,39.9 L417.7,42.2ZM422.8,43.3 L422.4,41.0 L424.7,40.2 L425.1,42.6ZM422.0,38.6 L421.5,36.3 L423.9,35.4 L424.3,37.8ZM424.8,37.3 L424.4,34.9 L426.8,34.1 L427.1,36.6ZM429.3,37.2 L429.0,34.6 L431.4,34.0 L431.6,36.6ZM432.2,36.1 L431.9,33.5 L434.4,32.9 L434.6,35.6ZM439.6,35.8 L439.6,33.1 L442.1,32.7 L442.1,35.5ZM441.1,31.5 L441.1,28.8 L443.7,28.8 L443.6,31.6ZM442.6,35.5 L442.7,32.7 L445.2,32.8 L445.1,35.6ZM445.8,31.7 L445.9,27.4 L448.6,27.6 L448.3,31.9ZM454.4,38.4 L454.7,35.6 L457.1,35.9 L456.7,38.7ZM456.9,30.5 L457.2,28.1 L459.9,28.2 L459.5,30.7ZM469.8,37.4 L470.6,34.5 L472.9,35.5 L472.1,38.4ZM471.2,38.2 L472.0,35.2 L474.3,36.3 L473.4,39.2ZM473.8,34.6 L474.6,32.1 L476.9,33.3 L476.1,35.8ZM488.3,44.4 L491.0,38.7 L490.7,45.2 L488.7,49.2ZM488.8,47.0 L489.8,44.7 L491.5,46.9 L490.4,49.0ZM505.3,64.1 L507.1,62.0 L509.2,63.2 L507.3,65.4ZM513.3,72.2 L515.3,70.2 L516.6,72.2 L514.6,74.1ZM519.6,81.5 L521.7,79.9 L523.0,81.7 L521.0,83.3ZM516.2,85.9 L518.2,84.3 L519.6,86.0 L517.5,87.5ZM520.4,82.6 L522.5,81.0 L523.8,82.9 L521.8,84.4ZM517.0,86.9 L519.1,85.4 L520.4,87.1 L518.3,88.6ZM519.9,84.8 L521.9,83.3 L523.2,85.1 L521.2,86.6ZM523.8,87.0 L525.9,85.6 L527.3,87.5 L525.2,88.8ZM524.3,93.2 L526.4,91.9 L527.6,93.8 L525.4,95.1ZM526.4,96.7 L528.6,95.5 L529.6,97.5 L527.5,98.6ZM528.4,100.2 L530.5,99.1 L531.5,101.2 L529.4,102.2ZM533.0,102.6 L536.2,101.2 L537.2,103.3 L534.0,104.6ZM534.8,106.4 L537.1,105.5 L538.0,107.6 L535.7,108.5ZM531.7,111.9 L534.1,111.1 L535.0,113.1 L532.5,113.9ZM540.1,112.0 L542.3,111.3 L543.6,113.5 L541.2,114.2ZM536.8,128.5 L539.3,128.1 L539.1,130.4 L536.7,130.7ZM536.5,135.3 L538.1,135.1 L537.3,137.4 L535.8,137.5ZM536.5,137.9 L537.4,137.9 L537.5,140.1 L536.6,140.1ZM535.8,144.6 L537.2,144.6 L537.2,146.8 L535.8,146.7ZM535.8,155.2 L537.4,155.4 L537.3,157.6 L535.6,157.3Z"/>
<path fill="#9ebc2a" d="M462.6,41.9 L463.2,39.2 L465.5,39.8 L464.9,42.5ZM464.0,42.3 L464.6,39.6 L466.9,40.3 L466.3,43.0ZM465.4,42.7 L466.0,40.0 L468.3,40.8 L467.6,43.4ZM468.1,43.7 L468.8,41.1 L471.0,42.0 L470.3,44.6ZM470.7,45.1 L472.1,40.4 L474.3,41.4 L472.8,46.1ZM472.0,45.8 L473.4,41.1 L475.6,42.2 L474.0,46.9ZM474.4,47.4 L475.3,44.8 L477.4,45.8 L476.5,48.5ZM477.6,47.0 L478.7,44.0 L480.9,45.1 L479.6,48.2ZM482.2,50.7 L483.7,47.3 L485.7,48.6 L484.1,52.0ZM484.4,52.6 L486.1,49.1 L487.1,52.2 L485.9,54.8ZM486.0,55.6 L487.3,53.1 L489.0,54.7 L487.8,57.1ZM487.0,56.7 L488.3,54.3 L490.0,55.9 L488.7,58.2ZM488.0,57.7 L489.2,55.5 L491.0,56.9 L489.8,59.1ZM488.4,59.8 L489.4,58.0 L491.2,59.2 L490.2,61.0ZM494.5,62.7 L495.9,60.5 L497.7,61.8 L496.2,64.0ZM494.7,64.8 L496.0,62.9 L497.7,64.2 L496.3,66.1ZM495.7,65.7 L497.0,63.7 L498.7,65.1 L497.3,67.0ZM506.9,76.7 L508.7,74.9 L510.1,76.5 L508.3,78.3ZM509.7,77.6 L511.7,75.6 L513.1,77.3 L511.1,79.2ZM513.0,81.7 L515.0,80.0 L516.4,81.7 L514.3,83.4ZM534.9,126.1 L537.7,125.6 L537.8,127.8 L535.1,128.3ZM535.0,131.4 L537.2,131.2 L537.1,133.4 L535.0,133.6ZM535.0,132.8 L537.1,132.5 L536.9,134.7 L535.0,134.9ZM534.7,135.4 L536.4,135.3 L536.0,137.5 L534.6,137.6ZM534.3,145.8 L535.3,145.9 L535.3,148.0 L534.3,147.9ZM534.2,149.7 L535.3,149.8 L535.2,151.9 L534.0,151.8ZM534.0,152.3 L535.2,152.4 L535.0,154.5 L533.8,154.4ZM533.9,153.6 L535.1,153.7 L534.9,155.9 L533.7,155.7ZM531.9,165.1 L533.2,165.4 L532.6,167.5 L531.4,167.1ZM530.9,170.2 L532.4,170.7 L531.6,172.7 L530.2,172.2Z"/>
<path fill="#62a824" d="M464.5,40.3 L465.2,37.2 L467.5,37.9 L466.7,41.0ZM465.8,40.8 L466.6,37.7 L468.9,38.5 L468.1,41.5ZM473.8,44.8 L474.8,41.9 L477.0,42.9 L475.9,45.8ZM475.1,45.5 L476.1,42.6 L478.3,43.6 L477.2,46.6ZM476.8,49.0 L477.9,46.3 L479.9,47.5 L478.8,50.2ZM478.0,49.9 L480.0,44.8 L482.1,46.0 L479.9,51.2ZM479.1,50.9 L481.2,45.6 L483.3,46.8 L481.0,52.2ZM483.4,51.6 L484.9,48.2 L486.9,49.5 L485.2,52.9ZM487.3,59.0 L488.4,57.0 L490.2,58.4 L489.1,60.2ZM489.0,58.6 L490.3,56.5 L492.1,57.8 L490.8,59.9ZM491.2,60.3 L492.5,58.1 L494.4,59.3 L493.0,61.5ZM492.3,61.1 L493.7,58.9 L495.5,60.1 L494.1,62.3ZM493.4,61.9 L494.8,59.7 L496.6,60.9 L495.2,63.2ZM493.7,63.9 L494.9,62.0 L496.7,63.3 L495.3,65.2ZM495.5,63.5 L497.0,61.3 L498.8,62.6 L497.2,64.9ZM497.6,67.4 L499.1,65.5 L500.7,66.9 L499.3,68.8ZM498.6,68.3 L500.1,66.4 L501.7,67.8 L500.2,69.7ZM499.6,69.2 L501.1,67.3 L502.7,68.7 L501.2,70.6ZM502.4,72.0 L504.1,70.0 L505.7,71.4 L503.9,73.4ZM503.3,72.9 L505.1,70.8 L506.7,72.3 L504.8,74.4ZM504.2,73.9 L506.1,71.8 L507.6,73.3 L505.7,75.4ZM508.6,78.6 L510.3,77.0 L511.7,78.6 L510.0,80.2ZM509.5,79.6 L511.2,78.0 L512.5,79.7 L510.8,81.2ZM510.3,80.6 L512.0,79.1 L513.4,80.7 L511.6,82.2ZM511.1,81.6 L512.8,80.1 L514.2,81.8 L512.4,83.2ZM511.9,82.6 L513.6,81.2 L515.0,82.9 L513.2,84.3ZM533.3,126.4 L535.7,126.0 L535.9,128.1 L533.6,128.5ZM535.0,127.5 L537.7,127.0 L537.7,129.2 L535.2,129.6ZM534.2,135.5 L535.5,135.4 L535.4,137.5 L534.3,137.6ZM534.3,136.8 L535.9,136.7 L535.8,138.8 L534.4,138.9ZM534.3,139.4 L535.3,139.3 L535.3,141.4 L534.3,141.5ZM534.3,140.7 L535.3,140.6 L535.3,142.8 L534.3,142.8ZM534.3,141.9 L535.3,141.9 L535.3,144.1 L534.3,144.1ZM534.5,144.5 L535.9,144.6 L535.9,146.7 L534.5,146.7ZM534.5,145.8 L536.0,145.9 L536.0,148.0 L534.5,148.0ZM534.3,147.1 L535.3,147.2 L535.3,149.3 L534.2,149.2ZM534.2,148.4 L535.3,148.5 L535.2,150.6 L534.1,150.5ZM534.5,149.7 L536.0,149.9 L535.9,152.0 L534.4,151.9ZM534.4,151.0 L536.0,151.2 L535.9,153.3 L534.3,153.2ZM534.3,153.6 L535.9,153.8 L535.7,156.0 L534.1,155.7ZM534.2,154.9 L535.8,155.1 L535.6,157.3 L533.9,157.0ZM534.1,156.2 L535.7,156.5 L535.5,158.6 L533.8,158.3ZM533.9,157.5 L535.6,157.8 L535.3,159.9 L533.6,159.6ZM533.8,158.8 L535.5,159.1 L535.2,161.3 L533.4,160.9ZM533.0,160.0 L535.3,160.5 L534.9,162.6 L532.6,162.1ZM533.4,161.4 L535.1,161.8 L534.6,163.9 L532.9,163.5ZM532.5,162.6 L534.8,163.1 L534.2,165.2 L532.0,164.6ZM532.4,165.2 L534.0,165.6 L533.4,167.7 L531.8,167.3ZM531.6,166.4 L532.8,166.7 L532.2,168.7 L531.1,168.4ZM531.7,167.7 L533.2,168.2 L532.6,170.2 L531.1,169.8ZM531.3,169.0 L532.8,169.4 L532.1,171.5 L530.6,171.0ZM529.0,175.1 L530.3,175.5 L529.4,177.5 L528.2,177.0ZM528.5,176.3 L529.7,176.7 L528.8,178.7 L527.7,178.2Z"/>
<path fill="#3c8a6a" d="M469.4,44.3 L470.2,41.8 L472.3,42.8 L471.6,45.3ZM475.6,48.2 L477.4,43.3 L479.6,44.3 L477.7,49.3ZM481.1,49.7 L482.5,46.5 L484.5,47.7 L483.0,51.0ZM484.3,55.9 L485.4,53.7 L487.2,55.3 L486.1,57.4ZM489.5,60.6 L491.3,57.4 L493.2,58.6 L491.3,61.8ZM491.6,62.2 L492.7,60.4 L494.5,61.7 L493.3,63.5ZM492.6,63.1 L493.8,61.2 L495.6,62.5 L494.3,64.4ZM497.6,65.3 L499.2,63.0 L500.9,64.4 L499.2,66.6ZM506.0,75.8 L507.8,73.8 L509.3,75.5 L507.4,77.3ZM512.2,80.6 L514.2,78.9 L515.6,80.6 L513.5,82.3ZM535.0,128.8 L537.6,128.4 L537.5,130.6 L535.1,130.9ZM533.8,130.3 L537.4,129.8 L537.3,132.0 L534.0,132.4ZM534.3,138.1 L535.7,138.0 L535.8,140.1 L534.4,140.2ZM534.5,139.4 L535.8,139.3 L535.9,141.4 L534.5,141.5ZM534.5,141.9 L535.9,141.9 L535.9,144.1 L534.5,144.1ZM534.5,143.2 L535.9,143.2 L535.9,145.4 L534.5,145.4ZM534.1,151.0 L535.2,151.1 L535.1,153.2 L533.9,153.1ZM534.4,152.3 L535.9,152.5 L535.8,154.6 L534.2,154.5ZM533.8,154.9 L535.0,155.0 L534.7,157.2 L533.5,157.0ZM533.6,156.2 L534.9,156.4 L534.6,158.5 L533.3,158.3ZM533.3,158.7 L534.6,159.0 L534.2,161.1 L532.9,160.8ZM532.0,166.5 L533.6,166.9 L533.0,169.0 L531.5,168.5ZM531.3,167.6 L532.5,167.9 L531.8,170.0 L530.7,169.6ZM530.2,171.4 L531.2,171.7 L530.5,173.7 L529.5,173.4ZM529.8,172.6 L531.4,173.1 L530.6,175.1 L529.1,174.6ZM529.5,173.9 L530.8,174.3 L530.0,176.3 L528.8,175.8Z"/>
<path fill="#eec52a" d="M407.7,228.0 L407.5,228.5 L405.2,227.6 L405.6,226.9ZM406.3,227.2 L405.8,228.3 L403.5,227.6 L404.2,226.1ZM396.7,224.8 L395.7,226.7 L393.3,225.8 L394.5,223.8ZM396.1,222.5 L394.0,226.3 L391.7,225.3 L394.1,221.4ZM394.7,221.8 L393.3,224.3 L391.1,223.1 L392.7,220.5ZM393.1,218.5 L391.6,220.8 L389.5,219.5 L391.1,217.1ZM387.8,220.5 L386.2,222.9 L384.0,221.5 L385.8,219.1ZM377.1,208.1 L375.0,210.1 L373.4,208.2 L375.4,206.4ZM377.1,205.9 L375.4,207.5 L373.8,205.7 L375.3,204.2ZM370.0,199.4 L369.2,200.1 L367.8,198.1 L368.4,197.6Z"/>
<path fill="#c4c42c" d="M407.8,227.8 L407.4,228.7 L405.1,228.0 L405.6,226.9ZM400.4,224.7 L399.4,226.6 L397.2,225.7 L398.3,223.6ZM397.5,223.3 L396.3,225.5 L394.1,224.5 L395.4,222.1ZM393.4,221.0 L391.8,223.6 L389.6,222.3 L391.3,219.7ZM390.6,219.3 L388.8,222.0 L386.7,220.7 L388.6,217.9ZM389.3,218.4 L387.4,221.1 L385.3,219.8 L387.3,217.0ZM384.3,211.8 L382.4,214.2 L380.6,212.6 L382.5,210.4ZM378.2,209.2 L376.1,211.4 L374.5,209.6 L376.5,207.5ZM369.3,200.0 L368.5,200.6 L367.5,198.4 L368.1,197.9ZM368.6,198.5 L367.9,199.0 L366.9,196.8 L367.4,196.4Z"/>
<path fill="#a4bf2c" d="M407.7,227.9 L407.5,228.5 L405.1,228.0 L405.4,227.3ZM404.8,226.6 L404.1,228.2 L401.7,227.7 L402.6,225.7ZM403.3,226.0 L402.6,227.6 L400.3,226.8 L401.1,225.0ZM401.4,226.4 L400.7,227.8 L398.3,227.1 L399.1,225.5ZM399.5,223.0 L398.6,224.7 L396.5,223.6 L397.5,221.7ZM396.9,221.2 L395.7,223.2 L393.6,222.0 L394.9,219.9ZM392.2,222.9 L390.8,225.1 L388.5,224.0 L390.0,221.7ZM386.7,216.5 L383.3,221.1 L381.2,219.6 L384.8,215.1ZM385.4,215.6 L381.9,220.1 L379.9,218.5 L383.5,214.1ZM385.6,212.8 L380.6,219.0 L378.7,217.3 L383.7,211.3ZM383.1,210.9 L381.2,213.1 L379.4,211.5 L381.3,209.4ZM380.5,211.4 L378.3,213.9 L376.6,212.1 L378.8,209.8ZM380.7,208.9 L378.8,210.9 L377.1,209.2 L378.9,207.4ZM377.7,212.1 L375.9,214.1 L374.2,212.2 L376.1,210.3ZM378.3,206.9 L376.5,208.7 L374.8,206.9 L376.5,205.3ZM376.0,206.9 L374.0,208.8 L372.5,206.9 L374.3,205.2ZM374.9,205.8 L373.0,207.5 L371.5,205.5 L373.3,204.0ZM374.7,203.8 L372.1,206.1 L370.7,204.1 L373.0,202.1ZM373.5,202.7 L371.2,204.7 L369.8,202.7 L371.8,201.0ZM371.8,202.1 L369.8,203.8 L368.6,201.6 L370.3,200.2ZM370.8,200.8 L369.1,202.2 L368.0,200.0 L369.4,198.9ZM369.9,199.6 L368.7,200.5 L367.5,198.4 L368.4,197.6ZM368.9,198.3 L367.9,199.0 L366.7,196.9 L367.5,196.3Z"/>
<path fill="#6cae2a" d="M406.1,227.6 L405.8,228.3 L403.4,227.9 L403.8,226.9ZM404.9,226.4 L404.5,227.4 L402.3,226.4 L402.8,225.2ZM403.5,225.6 L403.0,226.7 L400.8,225.7 L401.5,224.4ZM403.0,226.8 L402.4,228.0 L400.0,227.4 L400.7,226.0ZM401.9,225.4 L401.0,227.1 L398.7,226.3 L399.7,224.3ZM400.8,223.9 L400.1,225.4 L397.9,224.3 L398.8,222.6ZM398.3,225.4 L397.3,227.1 L394.9,226.3 L396.0,224.4ZM398.2,222.1 L397.2,224.0 L395.0,222.8 L396.2,220.8ZM395.6,220.3 L394.3,222.5 L392.3,221.2 L393.7,219.0ZM394.3,219.4 L392.9,221.6 L390.9,220.4 L392.4,218.0ZM391.8,217.5 L390.2,219.9 L388.2,218.6 L389.9,216.2ZM389.3,215.7 L387.5,218.1 L385.6,216.7 L387.4,214.2ZM388.0,214.7 L386.2,217.2 L384.3,215.7 L386.2,213.3ZM386.8,213.8 L384.9,216.2 L383.0,214.7 L385.0,212.3ZM382.9,213.5 L379.3,217.9 L377.5,216.1 L381.1,212.0ZM381.7,212.5 L378.1,216.7 L376.3,214.9 L379.9,210.9ZM378.9,213.3 L377.0,215.4 L375.2,213.5 L377.1,211.5ZM379.3,210.3 L377.2,212.7 L375.5,210.9 L377.6,208.7ZM376.6,210.9 L374.8,212.8 L373.2,210.8 L375.0,209.0ZM375.6,209.6 L373.8,211.4 L372.3,209.3 L374.0,207.7ZM374.6,208.3 L372.9,209.9 L371.5,207.8 L373.1,206.4ZM375.9,204.8 L374.3,206.3 L372.7,204.5 L374.2,203.2ZM373.6,207.0 L372.0,208.4 L370.7,206.3 L372.1,205.0ZM372.7,205.6 L371.2,206.9 L369.9,204.7 L371.3,203.6ZM371.8,204.2 L370.5,205.4 L369.2,203.2 L370.4,202.2ZM371.2,200.5 L370.2,201.3 L368.7,199.4 L369.6,198.8ZM368.9,198.3 L368.3,198.8 L366.9,196.8 L367.3,196.5Z"/>
<path fill="#1a50d0" d="M402.2,224.7 L401.5,226.1 L399.3,225.1 L400.1,223.5ZM390.7,222.1 L389.2,224.5 L387.0,223.2 L388.6,220.9ZM389.3,221.3 L387.7,223.7 L385.5,222.4 L387.2,220.0Z"/>
<path fill="#3c9a5a" d="M399.8,225.9 L399.0,227.5 L396.6,226.7 L397.5,225.0ZM399.0,224.0 L397.9,226.1 L395.6,225.1 L396.9,222.9ZM390.5,216.6 L388.8,219.0 L386.9,217.6 L388.7,215.2ZM388.0,217.5 L384.7,222.0 L382.6,220.6 L386.1,216.0ZM381.9,209.9 L380.0,212.0 L378.2,210.4 L380.1,208.4ZM372.3,201.6 L371.2,202.6 L369.7,200.7 L370.7,199.9Z"/>
<path fill="#f4a820" d="M393.7,223.6 L392.4,225.7 L390.1,224.7 L391.5,222.4ZM392.0,220.1 L390.3,222.8 L388.1,221.5 L390.0,218.8ZM379.5,207.9 L377.6,209.8 L375.9,208.1 L377.7,206.3Z"/>
<path fill="#6cae2a" d="M495.6,222.4 L497.0,224.4 L494.6,226.0 L493.3,223.9ZM494.0,223.5 L495.3,225.6 L492.8,227.1 L491.5,225.0ZM487.0,227.6 L488.2,229.8 L485.6,231.1 L484.5,228.9Z"/>
<path fill="#eec52a" d="M492.3,224.5 L493.6,226.7 L491.1,228.2 L489.8,226.0ZM485.3,228.5 L486.4,230.7 L483.8,232.0 L482.7,229.8Z"/>
<path fill="#c4c42c" d="M490.5,225.6 L491.8,227.7 L489.3,229.2 L488.1,227.0ZM483.5,229.4 L484.5,231.6 L481.9,232.9 L480.9,230.6ZM481.6,230.3 L482.7,232.5 L481.3,233.2 L480.3,230.9Z"/>
<path fill="#a4bf2c" d="M488.8,226.6 L490.0,228.8 L487.5,230.2 L486.3,228.0Z"/>
<path d="M441.6,56.7 L453.0,58.5 L464.4,61.4 L473.7,63.5 L479.5,66.5 L485.4,70.0 L491.2,73.5 L495.9,77.0 L497.1,81.7 L495.9,85.2 L499.4,87.5 L505.2,88.7 L508.7,93.4 L513.4,98.0 L516.9,102.7 L519.3,107.4 L521.0,112.0 L522.3,126.9 L523.2,134.5 L526.1,143.0 L527.0,154.4 L523.2,163.9 L518.1,178.0 L513.4,187.4 L506.4,196.7 L499.4,203.7 L490.1,210.7 L480.7,215.4 L471.4,218.9 L462.0,221.2 L452.7,223.0 L442.0,221.8 L425.9,220.8 L414.5,215.1 L403.1,205.6 L391.7,194.2 L382.2,181.0 L376.5,167.7 L370.8,154.4 L368.9,143.0 L369.6,128.0 L369.6,115.6 L375.6,115.0 L372.6,105.0 L373.1,93.4 L373.7,86.4 L379.5,78.2 L385.4,70.0 L394.7,64.5 L406.5,61.5 L417.9,59.2 L429.3,57.5 Z" fill="#b3b3b3"/>
<path d="M441.6,80.2 L443.6,81.2 L445.7,81.7 L447.9,82.4 L450.3,82.3 L452.7,82.5 L455.0,81.7 L456.4,82.9 L458.0,82.9 L459.7,82.9 L460.9,84.5 L463.3,84.1 L464.4,85.8 L466.0,86.5 L467.1,88.0 L469.0,88.1 L471.4,88.4 L473.7,88.1 L475.4,88.4 L476.7,86.6 L478.4,86.9 L479.5,89.9 L480.7,91.9 L481.9,93.9 L483.5,92.9 L485.4,92.8 L486.9,93.2 L488.5,93.7 L490.1,93.9 L492.0,93.7 L493.4,94.6 L494.7,95.7 L497.1,95.6 L499.4,96.3 L501.0,97.3 L502.9,96.9 L504.1,99.2 L503.0,100.8 L502.9,102.7 L504.1,104.3 L504.1,106.2 L504.1,108.1 L505.2,109.7 L506.4,111.2 L506.4,113.2 L506.5,115.6 L507.0,117.9 L505.2,119.4 L502.9,119.6 L501.1,120.7 L499.0,119.3 L497.1,120.2 L495.3,121.3 L493.3,121.9 L491.2,122.0 L493.4,123.2 L495.9,122.6 L497.8,123.4 L499.8,122.6 L501.7,123.1 L503.3,124.2 L505.2,123.7 L504.1,126.1 L505.2,127.3 L506.2,128.7 L507.6,129.6 L509.1,130.4 L509.4,132.5 L511.1,133.1 L512.7,134.5 L514.6,135.4 L514.7,137.5 L516.3,138.9 L515.9,141.1 L516.9,143.0 L516.9,144.7 L516.3,146.2 L515.7,147.7 L516.7,149.5 L517.1,151.4 L516.9,153.5 L517.1,155.7 L516.1,157.5 L515.2,159.4 L514.3,160.8 L514.5,162.7 L512.7,163.6 L512.2,165.2 L511.7,166.9 L511.0,168.5 L509.9,169.9 L508.3,171.1 L507.6,173.0 L506.4,174.5 L505.9,176.6 L504.9,178.4 L504.1,180.4 L503.0,181.8 L503.2,183.8 L501.7,185.0 L500.1,186.0 L500.7,188.4 L498.7,189.2 L498.2,190.9 L496.5,192.3 L495.9,194.4 L494.9,196.3 L492.5,196.3 L491.2,197.9 L489.4,198.9 L487.3,199.3 L485.4,200.2 L483.6,201.5 L481.6,201.8 L479.5,201.4 L477.7,202.5 L475.4,201.7 L473.7,203.1 L471.8,203.8 L469.8,203.0 L467.9,203.7 L466.1,202.4 L464.2,201.8 L462.0,202.0 L460.0,201.7 L458.1,201.0 L456.2,200.2 L454.5,199.6 L452.7,199.1 L452.9,196.7 L452.1,194.4 L453.8,192.1 L453.7,190.1 L455.0,188.5 L455.7,186.8 L455.6,185.0 L455.5,183.1 L454.4,181.5 L454.1,179.5 L452.7,178.0 L450.8,179.2 L448.5,177.9 L446.6,179.0 L444.8,179.4 L443.2,178.6 L441.6,178.0 L439.7,177.1 L437.8,176.0 L435.6,176.0 L434.0,175.9 L432.6,174.6 L430.9,175.0 L429.1,175.9 L427.4,176.9 L426.5,178.3 L425.1,179.2 L423.4,178.9 L421.8,178.6 L420.4,177.5 L419.0,178.6 L417.4,178.8 L415.7,178.6 L413.5,177.7 L411.1,177.5 L410.0,176.0 L407.9,176.5 L406.3,176.0 L405.2,174.5 L404.2,172.6 L402.2,172.1 L400.6,171.0 L399.6,169.5 L398.6,168.2 L398.2,166.4 L397.6,164.4 L397.2,162.3 L395.9,160.5 L396.2,158.9 L396.5,157.3 L397.0,155.8 L395.7,153.7 L395.9,151.2 L393.9,151.0 L392.4,152.3 L391.2,153.8 L389.3,153.9 L387.7,154.7 L386.7,152.6 L384.8,151.2 L384.4,149.3 L385.4,147.7 L386.2,146.2 L386.9,144.8 L386.5,143.0 L387.1,140.6 L387.8,139.2 L388.6,137.7 L388.0,135.8 L389.2,134.5 L389.4,132.8 L389.2,131.0 L390.2,129.4 L390.2,127.5 L389.1,126.0 L387.3,126.0 L385.6,125.2 L383.8,125.8 L382.0,126.3 L381.1,124.2 L379.0,123.5 L380.0,121.8 L380.5,120.1 L380.0,118.1 L378.3,117.2 L376.6,116.1 L374.9,115.1 L374.1,113.6 L372.7,112.7 L371.6,111.5 L370.3,110.2 L369.6,108.5 L368.8,106.9 L367.6,105.1 L367.5,103.0 L367.1,101.0 L367.5,98.6 L366.1,96.5 L367.1,98.4 L369.1,99.0 L370.8,100.8 L371.9,102.0 L373.3,102.9 L374.6,104.0 L376.0,104.9 L377.6,105.7 L378.3,107.4 L380.3,108.2 L381.9,109.7 L383.4,111.3 L385.4,112.1 L386.6,113.5 L388.6,113.4 L390.0,114.4 L391.6,115.5 L393.5,115.6 L395.0,117.2 L397.0,117.9 L398.3,119.3 L400.0,120.2 L401.7,117.9 L404.0,117.3 L406.3,117.9 L408.7,117.9 L410.4,118.0 L411.8,116.9 L413.4,116.7 L415.4,115.9 L416.9,114.4 L418.5,113.4 L420.4,113.2 L419.2,110.9 L419.8,108.5 L420.1,106.2 L420.4,103.9 L420.6,102.1 L419.8,100.4 L421.0,98.8 L421.6,96.9 L422.5,95.5 L424.5,95.1 L425.1,93.4 L426.5,91.8 L427.4,89.9 L428.7,88.4 L429.0,86.2 L430.9,85.2 L432.7,84.1 L434.4,82.9 L436.0,81.9 L437.9,81.7 L439.9,81.2 Z" fill="#fff" stroke="#4f87ae" stroke-width="1.5" stroke-linejoin="round"/>
<path d="M400.0,120.2 L401.7,117.9 L404.0,117.3 L406.3,118.1 L408.7,117.9 L410.4,118.0 L411.8,117.1 L413.4,116.7 L414.9,115.2 L416.9,114.4 L418.4,113.0 L420.4,113.2 L422.0,114.4 L423.9,115.0 L425.6,116.0 L425.3,117.8 L426.0,119.5 L425.5,121.3 L426.0,123.0 L425.7,124.6 L424.4,125.8 L423.9,127.4 L423.6,129.0 L422.2,130.1 L420.6,130.9 L418.9,131.8 L417.6,133.0 L416.4,134.4 L414.6,134.9 L412.8,135.6 L411.6,137.0 L409.9,137.7 L408.0,137.2 L406.3,137.7 L404.6,138.3 L403.7,136.5 L401.7,135.6 L400.6,134.0 L399.7,132.3 L400.6,130.4 L400.3,128.7 L399.6,127.0 L399.6,125.3 L399.2,123.6 L399.4,121.9 Z" fill="#eef6fb" stroke="#5b8db2" stroke-width="1.1"/>
<path d="M453.8,180.6 L452.0,180.9 L450.2,181.2 L448.3,180.4 L446.5,180.6 L444.4,180.8 L442.6,179.5 L440.6,179.1 L438.6,178.8 L436.6,178.9 L434.8,177.7 L432.6,176.9 L430.4,176.2 L428.5,176.6 L426.8,175.5 L424.6,174.8 L423.8,171.8 L424.8,170.3 L426.0,168.9 L426.6,167.0 L428.2,166.0 L428.6,164.2 L430.0,163.0 L431.1,161.6 L432.6,160.1 L433.3,158.0 L434.1,155.8 L436.3,157.2 L437.5,158.4 L437.7,160.2 L439.3,160.5 L440.6,161.6 L442.0,162.5 L443.5,163.1 L444.7,164.4 L446.5,164.5 L447.9,165.4 L449.4,166.0 L450.3,167.4 L450.9,168.9 L450.6,171.0 L452.5,172.7 L452.3,174.8 L452.2,176.9 L453.6,178.6 Z" fill="#eef6fb" stroke="#5b8db2" stroke-width="1.1"/>
<line x1="441.60" y1="111.82" x2="441.60" y2="13.20" stroke="#000" stroke-width="0.6"/>
<line x1="441.6" y1="111.8" x2="441.6" y2="108.8" stroke="#111" stroke-width="1.6"/>
<line x1="441.6" y1="13.2" x2="441.6" y2="15.7" stroke="#111" stroke-width="1.6"/>
<line x1="457.19" y1="116.00" x2="506.50" y2="30.59" stroke="#000" stroke-width="0.6"/>
<line x1="457.2" y1="116.0" x2="458.7" y2="113.4" stroke="#111" stroke-width="1.6"/>
<line x1="506.5" y1="30.6" x2="505.2" y2="32.8" stroke="#111" stroke-width="1.6"/>
<line x1="468.60" y1="127.41" x2="554.01" y2="78.10" stroke="#000" stroke-width="0.6"/>
<line x1="468.6" y1="127.4" x2="471.2" y2="125.9" stroke="#111" stroke-width="1.6"/>
<line x1="554.0" y1="78.1" x2="551.8" y2="79.3" stroke="#111" stroke-width="1.6"/>
<line x1="472.78" y1="143.00" x2="571.40" y2="143.00" stroke="#000" stroke-width="0.6"/>
<line x1="472.8" y1="143.0" x2="475.8" y2="143.0" stroke="#111" stroke-width="1.6"/>
<line x1="571.4" y1="143.0" x2="568.9" y2="143.0" stroke="#111" stroke-width="1.6"/>
<line x1="468.60" y1="158.59" x2="554.01" y2="207.90" stroke="#000" stroke-width="0.6"/>
<line x1="468.6" y1="158.6" x2="471.2" y2="160.1" stroke="#111" stroke-width="1.6"/>
<line x1="554.0" y1="207.9" x2="551.8" y2="206.6" stroke="#111" stroke-width="1.6"/>
<line x1="457.19" y1="170.00" x2="506.50" y2="255.41" stroke="#000" stroke-width="0.6"/>
<line x1="457.2" y1="170.0" x2="458.7" y2="172.6" stroke="#111" stroke-width="1.6"/>
<line x1="506.5" y1="255.4" x2="505.2" y2="253.2" stroke="#111" stroke-width="1.6"/>
<line x1="441.60" y1="174.18" x2="441.60" y2="272.80" stroke="#000" stroke-width="0.6"/>
<line x1="441.6" y1="174.2" x2="441.6" y2="177.2" stroke="#111" stroke-width="1.6"/>
<line x1="441.6" y1="272.8" x2="441.6" y2="270.3" stroke="#111" stroke-width="1.6"/>
<line x1="426.01" y1="170.00" x2="376.70" y2="255.41" stroke="#000" stroke-width="0.6"/>
<line x1="426.0" y1="170.0" x2="424.5" y2="172.6" stroke="#111" stroke-width="1.6"/>
<line x1="376.7" y1="255.4" x2="377.9" y2="253.2" stroke="#111" stroke-width="1.6"/>
<line x1="414.60" y1="158.59" x2="329.19" y2="207.90" stroke="#000" stroke-width="0.6"/>
<line x1="414.6" y1="158.6" x2="412.0" y2="160.1" stroke="#111" stroke-width="1.6"/>
<line x1="329.2" y1="207.9" x2="331.4" y2="206.7" stroke="#111" stroke-width="1.6"/>
<line x1="410.42" y1="143.00" x2="311.80" y2="143.00" stroke="#000" stroke-width="0.6"/>
<line x1="410.4" y1="143.0" x2="407.4" y2="143.0" stroke="#111" stroke-width="1.6"/>
<line x1="311.8" y1="143.0" x2="314.3" y2="143.0" stroke="#111" stroke-width="1.6"/>
<line x1="414.60" y1="127.41" x2="329.19" y2="78.10" stroke="#000" stroke-width="0.6"/>
<line x1="414.6" y1="127.4" x2="412.0" y2="125.9" stroke="#111" stroke-width="1.6"/>
<line x1="329.2" y1="78.1" x2="331.4" y2="79.3" stroke="#111" stroke-width="1.6"/>
<line x1="426.01" y1="116.00" x2="376.70" y2="30.59" stroke="#000" stroke-width="0.6"/>
<line x1="426.0" y1="116.0" x2="424.5" y2="113.4" stroke="#111" stroke-width="1.6"/>
<line x1="376.7" y1="30.6" x2="377.9" y2="32.8" stroke="#111" stroke-width="1.6"/>
<circle cx="441.6" cy="143.0" r="95.5" fill="none" stroke="#111" stroke-width="0.7"/>
<circle cx="441.6" cy="143.0" r="31.2" fill="none" stroke="#111" stroke-width="0.7"/>
<circle cx="441.6" cy="143.0" r="129.8" fill="none" stroke="#111" stroke-width="1.6"/>
<line x1="438.1" y1="174.2" x2="441.6" y2="174.2" stroke="#111" stroke-width="1.4"/>
<text x="447.1" y="179.2" font-size="13.5" fill="#111">80°S</text>
<line x1="437.1" y1="238.5" x2="441.6" y2="238.5" stroke="#111" stroke-width="1.4"/>
<text x="443.6" y="243.7" font-size="13.5" fill="#111">60°S</text>
<text x="441.6" y="4.8" font-size="13.5" fill="#111" text-anchor="middle" dominant-baseline="central" transform="rotate(0 441.6 4.8)">0°</text>
<text x="510.7" y="23.3" font-size="13.5" fill="#111" text-anchor="middle" dominant-baseline="central" transform="rotate(30 510.7 23.3)">30°E</text>
<text x="561.3" y="73.9" font-size="13.5" fill="#111" text-anchor="middle" dominant-baseline="central" transform="rotate(60 561.3 73.9)">60°E</text>
<text x="579.8" y="143.0" font-size="13.5" fill="#111" text-anchor="middle" dominant-baseline="central" transform="rotate(90 579.8 143.0)">90°E</text>
<text x="561.3" y="212.1" font-size="13.5" fill="#111" text-anchor="middle" dominant-baseline="central" transform="rotate(-60 561.3 212.1)">120°E</text>
<text x="510.7" y="262.7" font-size="13.5" fill="#111" text-anchor="middle" dominant-baseline="central" transform="rotate(-30 510.7 262.7)">150°E</text>
<text x="441.6" y="281.2" font-size="13.5" fill="#111" text-anchor="middle" dominant-baseline="central" transform="rotate(0 441.6 281.2)">180°</text>
<text x="372.5" y="262.7" font-size="13.5" fill="#111" text-anchor="middle" dominant-baseline="central" transform="rotate(30 372.5 262.7)">150°W</text>
<text x="321.9" y="212.1" font-size="13.5" fill="#111" text-anchor="middle" dominant-baseline="central" transform="rotate(60 321.9 212.1)">120°W</text>
<text x="303.4" y="143.0" font-size="13.5" fill="#111" text-anchor="middle" dominant-baseline="central" transform="rotate(-90 303.4 143.0)">90°W</text>
<text x="321.9" y="73.9" font-size="13.5" fill="#111" text-anchor="middle" dominant-baseline="central" transform="rotate(-60 321.9 73.9)">60°W</text>
<text x="372.5" y="23.3" font-size="13.5" fill="#111" text-anchor="middle" dominant-baseline="central" transform="rotate(-30 372.5 23.3)">30°W</text>
<text x="326.6" y="46.0" font-size="22.5" fill="#111">(b)</text>
<circle cx="181.0" cy="439.6" r="129.8" fill="#fff"/>
<g filter="url(#soft)">
<path fill="#5aa0cf" d="M180.6,353.4 L180.6,350.1 L183.7,350.3 L183.6,353.6ZM182.9,353.5 L183.0,350.2 L186.1,350.4 L185.9,353.8ZM189.6,354.3 L189.9,350.9 L193.0,351.4 L192.5,354.8ZM191.8,354.7 L192.2,351.4 L195.3,351.9 L194.7,355.2ZM194.0,355.1 L195.0,348.4 L198.2,349.0 L196.9,355.7ZM196.2,355.6 L197.3,349.2 L200.5,349.8 L199.1,356.3ZM198.4,356.1 L199.7,349.6 L202.8,350.4 L201.2,356.9ZM200.5,356.7 L202.1,350.0 L205.1,351.1 L203.4,357.6ZM202.6,357.4 L203.6,353.8 L206.5,354.8 L205.5,358.3ZM204.8,358.1 L206.6,351.8 L209.6,353.0 L207.6,359.1ZM210.7,337.7 L211.8,334.0 L215.3,335.7 L214.1,339.4ZM208.6,353.4 L209.8,349.7 L212.9,350.7 L211.6,354.4ZM217.0,336.5 L219.2,330.3 L223.0,331.6 L220.6,337.7ZM220.9,334.3 L222.2,331.0 L226.0,332.4 L224.6,335.6ZM213.1,361.0 L214.4,357.9 L217.3,359.1 L215.9,362.2ZM217.5,350.4 L220.0,344.2 L223.4,345.5 L220.6,351.7ZM223.1,336.7 L224.4,333.5 L228.1,335.1 L226.7,338.1ZM215.2,361.9 L217.9,355.8 L220.8,357.1 L217.9,363.1ZM220.1,350.8 L222.9,344.3 L226.3,345.8 L223.2,352.1ZM226.4,336.4 L227.8,333.2 L231.5,334.9 L230.0,338.0ZM222.5,351.6 L224.2,348.0 L225.7,352.8 L224.2,355.7ZM219.2,363.9 L220.4,361.5 L222.9,363.2 L221.7,365.5ZM221.1,360.1 L222.4,357.4 L225.0,359.4 L223.6,362.0ZM223.1,356.0 L224.5,353.3 L227.1,355.7 L225.6,358.2ZM221.0,365.1 L222.3,362.8 L224.7,364.6 L223.5,366.7ZM225.1,357.5 L226.5,354.9 L229.0,357.3 L227.5,359.8ZM229.4,349.6 L230.8,346.9 L233.2,350.0 L231.8,352.5ZM222.8,366.4 L226.1,360.8 L228.7,362.5 L225.3,368.1ZM226.7,359.7 L228.1,357.3 L230.9,358.9 L229.4,361.4ZM227.9,362.4 L230.6,357.9 L233.4,359.6 L230.5,364.1ZM229.8,363.7 L232.7,359.2 L235.6,360.9 L232.5,365.3ZM234.7,356.1 L236.4,353.5 L239.5,355.3 L237.7,357.8ZM237.2,352.3 L238.6,350.1 L241.9,351.9 L240.3,354.1ZM231.7,365.2 L234.5,361.0 L237.3,362.8 L234.3,367.0ZM236.5,358.0 L238.2,355.6 L241.1,357.6 L239.3,360.0ZM239.0,354.5 L240.4,352.3 L243.4,354.5 L241.9,356.6ZM231.1,370.0 L235.2,364.3 L237.8,366.2 L233.5,371.8ZM238.4,359.9 L240.1,357.5 L242.9,359.7 L241.1,361.9ZM240.8,356.5 L242.3,354.5 L245.2,356.7 L243.7,358.7ZM239.8,362.3 L243.0,358.1 L245.7,360.4 L242.4,364.4ZM243.8,357.0 L245.4,354.9 L248.3,357.2 L246.6,359.3ZM243.4,361.8 L245.4,359.4 L248.3,361.5 L246.1,364.1ZM246.3,358.3 L248.0,356.2 L251.3,358.0 L249.4,360.2ZM245.1,363.9 L247.2,361.4 L250.1,363.5 L247.7,366.2ZM239.6,373.9 L242.1,371.2 L244.7,373.0 L242.3,375.6ZM247.3,365.3 L251.7,360.4 L254.4,362.9 L250.0,367.5ZM241.2,375.6 L243.6,373.1 L245.7,375.4 L243.5,377.6ZM248.3,368.1 L253.8,362.2 L255.4,365.9 L250.1,371.1ZM243.1,377.0 L245.3,374.7 L247.5,377.0 L245.3,379.1ZM249.8,370.2 L255.1,364.8 L256.8,368.3 L251.7,373.1ZM240.4,382.8 L242.3,380.9 L244.6,382.8 L242.7,384.5ZM245.0,378.4 L247.2,376.3 L249.4,378.5 L247.2,380.5ZM253.1,370.6 L256.6,367.2 L258.7,370.2 L255.2,373.4ZM243.6,382.7 L245.9,380.7 L248.1,382.8 L245.9,384.7ZM246.9,379.7 L250.8,376.2 L253.0,378.6 L249.1,381.9ZM256.9,370.6 L258.9,368.9 L260.9,371.9 L259.0,373.6ZM248.5,381.5 L252.2,378.3 L254.4,380.7 L250.7,383.7ZM250.0,383.2 L252.1,381.5 L254.2,383.9 L252.2,385.5ZM255.9,378.4 L259.4,375.5 L261.5,378.4 L258.0,381.1ZM251.9,384.7 L254.1,383.0 L256.2,385.4 L254.1,387.0ZM259.5,378.8 L261.7,377.1 L263.7,380.0 L261.6,381.6ZM260.9,381.0 L263.0,379.5 L265.1,382.3 L263.0,383.8ZM253.9,389.0 L256.1,387.5 L258.3,389.9 L256.1,391.3ZM264.4,381.7 L266.2,380.5 L268.5,383.3 L266.6,384.5ZM261.1,387.1 L263.2,385.7 L265.3,388.4 L263.3,389.7ZM265.3,384.3 L267.1,383.2 L269.2,386.1 L267.5,387.1ZM262.9,388.9 L265.0,387.6 L267.0,390.4 L264.9,391.6ZM259.1,394.0 L261.3,392.8 L263.2,395.4 L261.1,396.6ZM260.4,396.0 L262.4,395.0 L263.9,397.8 L261.9,398.8ZM273.6,458.9 L275.7,459.3 L274.6,462.5 L272.6,462.0ZM272.9,461.2 L274.9,461.7 L273.8,464.9 L271.8,464.3ZM264.6,461.6 L269.3,462.9 L268.2,465.8 L263.6,464.5ZM266.0,464.4 L267.9,464.9 L266.7,467.9 L264.8,467.2ZM265.8,466.8 L267.6,467.3 L266.2,470.2 L264.5,469.6ZM268.9,467.7 L270.7,468.3 L269.2,471.3 L267.4,470.6ZM263.8,468.5 L265.6,469.1 L264.2,472.0 L262.5,471.3ZM267.8,469.9 L269.5,470.5 L267.9,473.4 L266.3,472.8ZM264.2,471.1 L266.0,471.8 L264.5,474.6 L262.8,473.9ZM267.3,472.3 L269.1,473.0 L267.4,475.8 L265.7,475.1ZM265.2,474.0 L266.8,474.7 L265.0,477.4 L263.5,476.8ZM264.4,476.3 L266.2,477.1 L264.4,479.8 L262.7,479.0ZM256.1,482.5 L257.6,483.4 L255.7,485.8 L254.3,484.9ZM254.9,484.4 L256.4,485.4 L254.5,487.8 L253.0,486.8ZM258.2,486.5 L259.8,487.4 L257.9,490.0 L256.4,489.0ZM255.0,487.2 L257.0,488.5 L255.0,491.0 L253.0,489.6ZM251.9,487.8 L253.4,488.9 L251.4,491.2 L249.9,490.1ZM254.4,489.6 L255.9,490.6 L253.9,493.1 L252.4,492.0ZM249.9,489.2 L251.2,490.1 L249.2,492.4 L247.9,491.4ZM254.0,492.2 L255.1,492.9 L253.1,495.4 L252.1,494.6ZM248.9,491.2 L250.4,492.4 L248.4,494.7 L247.0,493.5ZM251.5,493.2 L253.1,494.4 L251.0,496.8 L249.6,495.6ZM247.0,492.5 L248.3,493.6 L246.3,495.8 L245.0,494.7ZM245.4,494.1 L246.6,495.2 L244.5,497.3 L243.3,496.2ZM245.4,497.1 L247.4,498.9 L245.1,501.0 L243.2,499.2ZM244.1,498.9 L246.1,500.9 L243.8,503.0 L241.8,501.0ZM240.2,498.3 L241.6,499.6 L239.3,501.6 L238.1,500.2ZM243.2,501.3 L244.5,502.6 L242.2,504.6 L240.9,503.3ZM240.6,501.9 L241.7,503.1 L239.4,505.0 L238.3,503.8ZM239.6,504.1 L240.8,505.5 L238.4,507.4 L237.2,506.0ZM237.6,505.3 L238.8,506.7 L236.3,508.5 L235.2,507.1ZM235.5,506.3 L236.6,507.7 L234.1,509.4 L233.1,508.1ZM233.3,507.2 L234.4,508.6 L231.9,510.3 L230.9,508.8ZM229.7,506.0 L230.7,507.4 L228.3,509.1 L227.3,507.6ZM233.1,510.7 L234.2,512.1 L231.7,514.1 L230.7,512.6ZM231.7,512.7 L232.8,514.3 L230.4,516.4 L229.3,514.8ZM226.1,508.3 L227.1,509.9 L224.6,511.5 L223.6,509.8ZM224.2,509.4 L225.2,511.0 L222.7,512.6 L221.7,510.9ZM225.9,512.2 L226.9,513.8 L224.6,515.8 L223.6,514.1ZM222.5,510.7 L223.5,512.6 L221.1,514.2 L220.0,512.2ZM220.6,511.8 L221.7,513.8 L219.0,515.0 L218.0,513.0ZM222.7,515.6 L223.8,517.6 L221.0,518.9 L219.9,516.9ZM219.8,514.9 L221.4,518.0 L218.5,519.2 L217.1,516.0ZM217.8,516.0 L219.4,519.2 L216.5,520.3 L215.1,517.0ZM217.2,520.1 L218.1,522.0 L215.1,523.0 L214.3,521.1ZM208.0,514.9 L208.7,516.8 L205.9,517.5 L205.3,515.7ZM206.0,515.5 L207.1,518.7 L204.2,519.3 L203.3,516.2ZM204.0,516.1 L204.6,518.1 L201.8,518.6 L201.3,516.7ZM203.4,521.9 L203.9,523.7 L200.9,524.1 L200.5,522.2ZM199.9,516.8 L200.4,518.8 L197.6,519.2 L197.2,517.3ZM197.8,517.1 L198.2,519.0 L195.4,519.4 L195.1,517.5ZM198.6,520.5 L199.0,522.4 L196.0,522.6 L195.7,520.7ZM196.5,521.3 L197.0,524.1 L194.0,524.1 L193.6,521.4ZM194.4,521.7 L194.6,523.3 L191.6,523.3 L191.4,521.7ZM146.3,513.1 L145.3,515.2 L142.6,514.1 L143.7,512.0ZM144.9,511.2 L144.0,513.0 L141.4,511.8 L142.4,510.0ZM143.0,510.3 L142.1,512.0 L139.5,510.7 L140.5,509.0ZM141.1,509.3 L140.2,511.1 L137.7,509.6 L138.8,507.9ZM139.4,508.2 L138.2,510.1 L135.8,508.6 L137.0,506.7ZM137.6,507.1 L136.4,508.9 L134.0,507.3 L135.3,505.5ZM135.9,505.9 L134.7,507.6 L132.4,505.9 L133.6,504.2ZM134.2,504.6 L132.9,506.4 L130.6,504.7 L132.0,502.9ZM129.7,500.2 L128.2,502.0 L126.3,499.8 L127.8,498.1ZM128.3,498.6 L126.8,500.3 L125.0,498.1 L126.6,496.4ZM127.1,496.9 L125.6,498.5 L123.8,496.3 L125.4,494.7ZM125.9,495.2 L124.4,496.7 L122.7,494.4 L124.2,493.0ZM124.7,493.5 L123.1,495.0 L121.5,492.7 L123.1,491.2ZM123.6,491.7 L122.1,493.1 L120.5,490.8 L122.1,489.5ZM122.5,490.0 L121.0,491.3 L119.5,488.9 L121.1,487.7ZM121.5,488.2 L119.9,489.5 L118.5,487.1 L120.2,485.8ZM120.6,486.4 L119.0,487.6 L117.7,485.1 L119.3,484.0ZM108.2,412.0 L106.3,411.3 L106.7,408.5 L108.7,409.3ZM109.5,408.1 L107.8,407.4 L108.3,404.6 L110.0,405.4ZM109.7,406.0 L107.9,405.1 L108.6,402.3 L110.4,403.2ZM110.1,403.8 L108.2,402.9 L109.0,400.1 L110.8,401.1ZM110.5,401.7 L108.7,400.7 L109.4,397.8 L111.1,398.8ZM157.6,353.9 L156.9,351.1 L160.0,350.4 L160.7,353.2ZM159.9,353.4 L159.2,350.6 L162.3,349.9 L162.9,352.8ZM171.6,353.6 L171.3,350.6 L174.4,350.3 L174.6,353.4ZM173.8,353.5 L173.6,350.3 L176.7,350.1 L176.9,353.4ZM176.1,353.4 L175.9,350.2 L179.0,350.0 L179.1,353.4ZM178.4,353.4 L178.3,350.0 L181.4,350.0 L181.4,353.4Z"/>
<path fill="#fbd0bb" d="M180.6,350.9 L180.6,347.2 L183.8,347.4 L183.7,351.1ZM180.6,339.3 L180.5,335.6 L184.2,335.8 L184.1,339.5ZM180.5,333.6 L180.5,329.9 L184.3,330.0 L184.2,333.7ZM182.9,351.0 L183.0,347.2 L186.2,347.5 L186.0,351.2ZM183.2,339.2 L183.3,335.4 L186.9,335.6 L186.7,339.4ZM183.3,333.3 L183.4,329.5 L187.2,329.7 L187.0,333.5ZM185.8,339.0 L186.0,335.1 L189.7,335.5 L189.3,339.3ZM186.1,332.9 L186.3,329.1 L190.2,329.4 L189.8,333.3ZM188.9,333.1 L189.2,329.3 L193.0,329.7 L192.6,333.5ZM191.6,334.0 L192.0,330.2 L195.9,330.4 L195.3,334.2ZM192.9,346.3 L193.3,342.6 L196.7,343.0 L196.1,346.7ZM195.4,346.1 L196.5,339.0 L200.0,339.4 L198.7,346.6ZM198.3,344.1 L199.0,340.3 L202.5,340.8 L201.6,344.6ZM199.6,350.4 L200.4,346.5 L203.6,347.3 L202.6,351.2ZM200.8,344.3 L201.6,340.4 L205.1,341.2 L204.1,345.1ZM201.9,350.8 L202.8,346.9 L206.0,348.0 L204.9,351.9ZM203.4,344.5 L204.3,340.6 L207.6,341.9 L206.6,345.7ZM204.2,351.4 L205.3,347.5 L208.4,348.7 L207.2,352.5ZM205.9,345.1 L206.9,341.1 L210.2,342.5 L209.1,346.3ZM213.9,345.3 L215.2,341.6 L218.7,342.8 L217.2,346.4ZM216.5,346.0 L217.9,342.3 L221.3,343.6 L219.7,347.2ZM253.2,377.4 L255.3,375.6 L257.5,378.2 L255.4,379.9ZM256.5,395.6 L258.3,394.5 L260.3,397.0 L258.5,397.9ZM258.2,397.3 L259.8,396.4 L261.3,399.1 L259.7,399.9ZM268.1,391.8 L271.0,390.2 L272.6,393.4 L269.7,394.9ZM271.8,395.8 L273.4,395.0 L274.8,398.3 L273.2,399.0ZM270.8,399.2 L272.9,398.2 L274.4,401.4 L272.3,402.3ZM273.5,397.9 L275.3,397.1 L276.9,400.4 L275.1,401.1ZM263.5,405.0 L265.5,404.1 L266.8,407.1 L264.7,407.9ZM271.6,401.6 L273.6,400.7 L275.1,403.9 L273.0,404.7ZM273.2,403.7 L276.9,402.3 L278.3,405.6 L274.5,406.9ZM273.6,411.7 L276.1,411.0 L277.6,414.2 L274.9,414.9ZM280.5,409.7 L282.6,409.0 L284.7,412.3 L282.4,412.9ZM265.8,416.5 L268.0,415.9 L268.4,419.0 L266.2,419.5ZM274.4,414.1 L277.0,413.4 L277.4,416.9 L274.8,417.5ZM279.8,412.7 L282.4,412.0 L282.7,415.6 L280.2,416.2ZM275.2,416.5 L277.9,415.9 L278.0,419.4 L275.3,420.0ZM277.9,418.6 L280.4,418.0 L280.5,421.6 L277.9,422.1ZM265.6,423.5 L267.9,423.1 L267.7,426.3 L265.4,426.6ZM276.5,421.5 L279.1,421.0 L278.8,424.5 L276.2,424.9ZM276.7,424.0 L279.4,423.6 L278.4,427.2 L275.8,427.5ZM280.6,423.4 L283.3,422.9 L282.1,426.7 L279.5,427.1ZM278.8,426.3 L281.3,425.9 L280.1,429.6 L277.7,429.9ZM275.6,429.2 L277.9,429.0 L276.3,432.5 L274.3,432.7ZM274.7,431.8 L276.8,431.6 L275.1,435.1 L273.2,435.2ZM277.3,431.6 L279.0,431.5 L276.7,435.0 L275.3,435.1ZM275.5,434.2 L277.0,434.2 L277.3,437.5 L275.9,437.5ZM273.6,436.8 L275.4,436.7 L275.6,440.0 L273.9,440.0ZM273.2,439.2 L274.9,439.2 L275.0,442.5 L273.3,442.4ZM267.4,441.5 L268.8,441.5 L268.7,444.6 L267.3,444.5ZM267.3,443.7 L268.7,443.8 L268.5,446.9 L267.0,446.7ZM267.1,446.0 L268.7,446.1 L268.4,449.2 L266.8,449.0ZM275.5,449.1 L277.4,449.3 L277.3,452.7 L275.4,452.4ZM275.0,451.6 L277.1,451.8 L276.9,455.2 L274.8,454.9ZM192.2,521.8 L192.4,523.5 L189.4,523.5 L189.3,521.8ZM189.9,521.1 L190.2,523.4 L187.2,523.4 L187.1,521.1ZM187.8,521.6 L188.0,524.2 L185.1,524.1 L184.9,521.7ZM185.6,520.8 L185.7,522.3 L182.8,522.2 L182.8,520.7ZM183.5,521.1 L183.5,522.7 L180.6,522.5 L180.6,521.0ZM181.3,519.5 L181.4,520.9 L178.5,520.7 L178.6,519.4ZM177.1,521.4 L177.0,522.9 L174.0,523.3 L174.2,521.7ZM175.0,520.8 L174.9,522.1 L171.9,522.4 L172.1,521.0ZM172.8,520.6 L172.6,522.8 L169.7,522.9 L170.0,520.6ZM170.7,520.8 L170.4,523.1 L167.4,523.0 L167.8,520.6ZM168.3,521.8 L168.1,523.5 L165.1,523.3 L165.4,521.6ZM166.2,521.2 L166.0,522.8 L163.0,522.5 L163.4,520.9ZM164.1,520.9 L163.8,522.5 L160.8,522.2 L161.2,520.5ZM161.8,521.1 L161.4,522.8 L158.4,522.4 L158.9,520.7ZM159.7,520.4 L159.3,522.2 L156.3,521.7 L156.9,519.8ZM157.7,519.7 L157.1,521.5 L154.2,520.9 L154.8,519.1ZM150.9,519.0 L150.2,520.8 L147.3,520.0 L148.0,518.2ZM150.3,514.6 L149.5,516.5 L146.8,515.5 L147.7,513.6ZM148.9,518.1 L148.1,520.1 L145.1,519.3 L146.0,517.3ZM146.9,522.9 L146.1,524.9 L142.8,524.3 L143.7,522.3ZM148.3,513.9 L147.4,515.9 L144.7,514.9 L145.7,512.8ZM146.6,517.8 L145.7,519.8 L142.7,519.0 L143.7,516.9ZM144.3,523.0 L143.4,525.0 L140.1,524.4 L141.1,522.3ZM142.2,516.6 L141.1,518.7 L138.2,517.7 L139.4,515.5ZM140.4,515.2 L139.3,517.2 L136.4,516.1 L137.6,514.0ZM138.2,514.5 L137.0,516.5 L134.2,515.2 L135.5,513.2ZM135.8,514.1 L134.4,516.3 L131.6,514.9 L133.1,512.7ZM133.0,518.8 L131.6,521.0 L128.5,519.7 L130.0,517.4ZM135.0,511.1 L132.7,514.7 L129.9,513.2 L132.4,509.6ZM133.2,509.8 L130.8,513.4 L128.3,511.4 L130.8,508.0ZM131.2,508.8 L128.6,512.4 L126.2,510.3 L128.9,506.9ZM129.3,507.5 L126.6,511.2 L124.3,509.0 L127.2,505.5ZM128.1,505.5 L126.5,507.5 L124.4,505.3 L126.0,503.4ZM126.3,504.3 L124.5,506.3 L122.5,504.0 L124.3,502.0ZM121.4,510.1 L119.6,512.1 L117.4,509.6 L119.2,507.6ZM124.9,502.5 L123.1,504.5 L121.2,502.1 L123.0,500.2ZM119.8,508.1 L118.1,510.1 L116.0,507.5 L117.8,505.6ZM123.6,500.6 L121.8,502.5 L120.0,500.1 L121.8,498.3ZM118.6,505.9 L116.8,507.8 L114.8,505.2 L116.7,503.3ZM119.2,490.1 L116.0,492.7 L114.5,490.1 L117.8,487.6ZM114.0,494.4 L112.0,495.9 L110.5,493.2 L112.5,491.7ZM113.2,492.1 L111.3,493.6 L110.2,490.6 L112.1,489.2ZM116.3,487.1 L114.4,488.5 L113.5,485.5 L115.3,484.3ZM112.5,489.8 L110.6,491.2 L110.0,487.9 L111.9,486.7ZM114.7,485.6 L112.9,486.8 L112.3,483.8 L114.0,482.7ZM110.2,488.7 L108.4,490.0 L108.2,486.4 L109.9,485.4ZM109.9,486.2 L108.2,487.4 L108.0,483.9 L109.7,482.9ZM116.0,479.8 L114.4,480.8 L113.7,478.1 L115.1,477.3ZM110.9,483.0 L109.3,483.9 L109.3,480.6 L110.8,479.7ZM115.3,477.9 L113.0,479.3 L112.4,476.5 L114.5,475.4ZM114.9,475.9 L113.0,476.9 L111.9,474.4 L113.9,473.4ZM111.3,477.9 L109.9,478.6 L108.8,476.0 L110.1,475.3ZM114.1,474.0 L112.1,475.1 L111.1,472.6 L113.2,471.6ZM113.2,472.3 L111.7,473.0 L110.7,470.5 L112.3,469.8ZM109.2,474.2 L107.7,475.0 L106.6,472.3 L108.2,471.6ZM112.7,470.4 L111.3,471.0 L110.4,468.5 L111.9,467.9ZM112.9,468.1 L111.5,468.8 L110.7,466.2 L112.2,465.7ZM110.2,463.0 L108.5,463.5 L107.7,461.0 L109.4,460.5ZM107.5,463.8 L105.8,464.4 L105.0,461.8 L106.6,461.3ZM110.7,460.8 L106.9,461.9 L106.2,459.3 L110.1,458.3ZM106.9,461.9 L104.6,462.6 L103.8,459.9 L106.2,459.3ZM108.8,459.3 L106.5,459.9 L105.8,457.3 L108.1,456.8ZM105.8,460.1 L104.3,460.5 L103.6,457.8 L105.1,457.5ZM109.6,457.1 L107.9,457.5 L107.4,454.9 L109.1,454.6ZM107.7,457.5 L105.1,458.2 L104.5,455.5 L107.2,455.0ZM104.0,458.4 L102.3,458.9 L101.6,456.1 L103.3,455.8ZM109.8,455.1 L107.6,455.5 L107.1,453.0 L109.4,452.6ZM109.0,453.3 L106.5,453.7 L106.0,451.1 L108.6,450.7ZM106.4,453.8 L103.1,454.4 L102.5,451.7 L105.9,451.2ZM109.1,451.3 L105.7,451.9 L105.3,449.2 L108.8,448.8ZM105.5,451.9 L103.7,452.2 L103.2,449.5 L105.0,449.3ZM108.8,449.4 L106.7,449.7 L106.4,447.1 L108.5,446.9ZM105.8,449.8 L104.1,450.1 L103.7,447.4 L105.4,447.2ZM104.1,450.1 L102.4,450.3 L102.0,447.6 L103.7,447.4ZM108.6,447.5 L105.6,447.9 L105.3,445.2 L108.3,445.0ZM103.8,448.1 L102.1,448.2 L101.7,445.5 L103.4,445.4ZM108.4,445.6 L105.5,445.9 L105.2,443.2 L108.2,443.1ZM101.2,446.2 L100.0,446.3 L99.6,443.5 L100.9,443.4ZM106.9,443.8 L105.3,443.9 L105.1,441.3 L106.8,441.2ZM106.7,441.9 L105.0,441.9 L104.9,439.3 L106.6,439.3ZM103.1,442.0 L100.4,442.1 L100.3,439.2 L102.9,439.3ZM108.1,439.9 L106.8,439.9 L106.7,437.3 L108.0,437.4ZM102.3,439.9 L100.6,440.0 L100.4,437.1 L102.1,437.2ZM107.3,438.0 L105.4,438.0 L105.3,435.3 L107.2,435.4ZM105.1,437.9 L103.2,437.9 L103.1,435.2 L105.0,435.3ZM107.2,436.1 L105.3,436.0 L105.3,433.3 L107.2,433.5ZM98.6,435.6 L97.2,435.6 L97.0,432.6 L98.5,432.7ZM106.1,434.0 L104.2,433.9 L104.2,431.2 L106.1,431.4ZM102.8,433.8 L99.8,433.6 L99.8,430.7 L102.8,431.0ZM98.4,433.5 L96.9,433.4 L96.9,430.4 L98.4,430.6ZM105.2,432.0 L103.4,431.8 L103.5,429.1 L105.4,429.3ZM99.1,431.4 L97.7,431.2 L97.8,428.3 L99.2,428.5ZM107.3,430.2 L105.4,430.0 L105.6,427.3 L107.5,427.6ZM107.4,428.3 L105.6,428.0 L105.9,425.3 L107.7,425.7ZM99.1,427.0 L97.7,426.8 L97.8,423.8 L99.3,424.1ZM108.3,426.4 L104.5,425.8 L104.7,423.0 L108.6,423.9ZM103.1,425.5 L101.2,425.2 L101.2,422.3 L103.2,422.7ZM98.6,424.7 L97.1,424.4 L97.0,421.4 L98.5,421.7ZM99.3,422.6 L97.4,422.2 L97.4,419.1 L99.3,419.6ZM102.7,421.2 L99.4,420.4 L99.5,417.4 L102.8,418.3ZM103.4,419.2 L101.5,418.7 L101.7,415.7 L103.6,416.3ZM106.4,417.9 L104.4,417.3 L104.7,414.4 L106.7,415.1ZM99.1,415.7 L97.1,415.2 L97.4,412.0 L99.4,412.7ZM106.7,415.8 L104.8,415.2 L105.2,412.4 L107.1,413.1ZM104.5,415.1 L102.6,414.5 L103.0,411.6 L104.8,412.3ZM98.9,413.3 L97.4,412.8 L97.7,409.7 L99.2,410.2ZM103.7,412.6 L101.9,412.0 L102.1,408.9 L103.9,409.6ZM99.4,411.1 L98.0,410.6 L98.0,407.3 L99.5,407.9ZM107.0,411.6 L105.1,410.8 L105.5,407.9 L107.5,408.8ZM104.7,410.7 L101.7,409.5 L101.9,406.4 L105.1,407.8ZM99.0,408.5 L97.4,407.9 L97.5,404.6 L99.1,405.2ZM104.7,408.4 L101.5,407.1 L101.8,403.9 L105.0,405.4ZM98.5,405.9 L96.9,405.2 L97.1,401.8 L98.7,402.5ZM103.4,405.4 L101.3,404.5 L101.7,401.4 L103.8,402.4ZM98.2,403.2 L96.5,402.4 L96.8,399.0 L98.5,399.8ZM105.8,404.1 L103.6,403.1 L104.2,400.1 L106.4,401.2ZM102.9,402.8 L100.7,401.7 L101.3,398.6 L103.5,399.7ZM98.6,400.7 L95.3,399.2 L95.9,395.8 L99.1,397.4ZM105.9,401.8 L103.7,400.7 L104.6,397.7 L106.8,398.9ZM103.0,400.3 L100.8,399.2 L101.7,396.1 L103.8,397.3ZM98.5,398.0 L95.1,396.3 L96.2,393.1 L99.5,394.9ZM107.9,400.3 L104.3,398.4 L105.1,395.4 L108.6,397.4ZM103.5,398.0 L101.4,396.8 L102.3,393.7 L104.4,394.9ZM100.6,396.4 L95.9,393.9 L97.0,390.6 L101.6,393.3ZM105.7,396.5 L102.2,394.6 L103.3,391.5 L106.6,393.5ZM101.6,394.2 L97.1,391.7 L98.3,388.4 L102.6,391.1ZM104.5,393.2 L102.5,391.9 L103.6,388.9 L105.6,390.2ZM101.8,391.5 L97.3,388.8 L98.6,385.6 L102.9,388.4ZM109.5,393.6 L107.7,392.4 L108.7,389.4 L110.4,390.7ZM102.6,389.1 L99.9,387.4 L101.3,384.3 L103.8,386.1ZM107.9,389.8 L106.1,388.6 L107.3,385.5 L108.9,386.8ZM103.5,386.8 L101.8,385.7 L103.2,382.5 L104.8,383.8ZM108.3,387.3 L106.6,386.0 L107.7,382.8 L109.3,384.1ZM108.7,384.6 L107.0,383.3 L108.2,380.2 L109.9,381.5ZM112.4,384.6 L110.7,383.1 L112.2,380.3 L113.9,381.8ZM109.0,378.6 L107.3,377.2 L109.8,374.9 L111.3,376.3ZM111.0,377.2 L109.5,375.8 L112.2,373.7 L113.5,375.0ZM113.0,375.6 L110.9,373.6 L113.1,371.1 L115.1,373.1ZM110.0,372.8 L108.9,371.8 L111.3,369.3 L112.3,370.3ZM114.8,374.0 L113.6,372.8 L115.1,369.6 L116.4,370.9ZM112.3,371.5 L111.4,370.6 L112.6,366.9 L113.6,367.9ZM118.6,374.4 L117.2,372.9 L119.2,370.4 L120.6,371.9ZM115.3,371.0 L113.9,369.5 L115.8,366.5 L117.2,368.1ZM112.1,367.6 L111.0,366.4 L112.6,363.0 L113.8,364.3ZM117.1,369.2 L115.8,367.8 L118.0,365.2 L119.3,366.7ZM114.0,365.9 L113.0,364.7 L115.3,362.0 L116.3,363.2ZM116.0,364.1 L114.1,362.0 L116.5,359.3 L118.4,361.6ZM122.3,367.8 L121.0,366.1 L123.4,363.9 L124.7,365.6ZM120.6,365.7 L119.3,364.0 L121.7,361.6 L123.1,363.4ZM117.2,361.5 L115.3,359.2 L117.7,356.4 L119.7,358.9ZM124.0,366.0 L122.7,364.3 L125.1,362.0 L126.5,363.9ZM122.3,363.8 L120.9,362.0 L123.4,359.5 L124.7,361.4ZM118.8,359.2 L117.4,357.5 L119.8,354.6 L121.1,356.5ZM126.8,365.6 L124.5,362.6 L127.1,360.4 L129.3,363.7ZM120.6,357.3 L118.6,354.5 L121.1,351.7 L123.1,354.6ZM127.9,363.1 L126.7,361.3 L129.3,359.2 L130.5,361.1ZM128.7,359.8 L127.3,357.8 L130.0,355.6 L131.4,357.8ZM130.7,358.3 L128.4,354.5 L131.1,352.3 L133.4,356.3ZM126.0,350.7 L124.6,348.5 L127.3,345.7 L128.7,348.0ZM132.7,356.7 L130.4,352.8 L132.7,349.8 L135.2,354.4ZM128.0,348.6 L126.6,346.3 L128.6,342.0 L130.0,344.7ZM134.6,355.1 L132.3,350.7 L135.8,349.9 L137.9,354.2ZM129.6,346.0 L128.3,343.5 L132.2,342.8 L133.5,345.3ZM134.0,348.3 L132.6,345.7 L136.7,345.6 L137.8,348.1ZM132.0,344.4 L130.6,341.8 L135.0,342.0 L136.2,344.5ZM137.2,348.8 L136.0,346.4 L139.8,346.0 L140.9,348.4ZM135.5,345.4 L134.4,342.9 L138.4,342.7 L139.4,345.1ZM143.1,355.5 L142.1,353.2 L145.2,352.1 L146.2,354.5ZM140.3,349.3 L139.3,347.0 L142.6,345.6 L143.5,348.0ZM145.5,355.0 L143.9,351.2 L147.1,350.0 L148.6,354.0ZM142.3,347.3 L141.3,345.0 L144.6,343.6 L145.5,345.9ZM148.4,355.8 L146.9,351.8 L150.0,350.8 L151.5,355.0ZM146.5,350.9 L145.6,348.5 L148.8,347.4 L149.7,349.8ZM144.6,346.0 L143.7,343.6 L147.0,342.2 L147.8,344.7ZM143.3,342.7 L142.5,340.7 L145.9,339.1 L146.6,341.2ZM150.0,353.4 L149.1,350.8 L152.3,349.9 L153.1,352.6ZM148.7,349.8 L147.8,347.2 L151.1,346.1 L151.9,348.8ZM146.8,344.3 L145.9,341.7 L149.2,340.4 L150.1,343.1ZM149.4,343.9 L148.6,341.3 L152.0,340.1 L152.8,342.7ZM151.0,339.9 L150.1,337.1 L153.7,335.8 L154.4,338.7ZM153.9,340.1 L153.1,337.4 L156.7,336.2 L157.3,339.0ZM158.4,347.3 L157.7,344.5 L161.1,343.7 L161.6,346.6ZM156.9,341.3 L156.3,338.5 L159.8,337.5 L160.4,340.3ZM161.6,350.5 L160.5,345.1 L163.8,344.3 L164.8,349.8ZM159.2,339.1 L158.5,336.0 L162.0,334.8 L162.6,337.9ZM164.8,354.3 L164.3,351.6 L167.4,351.1 L167.8,353.9ZM164.0,350.1 L163.0,344.6 L166.3,343.8 L167.1,349.5ZM166.3,349.5 L165.8,346.2 L169.0,345.6 L169.5,349.0ZM169.1,351.9 L168.3,346.3 L171.5,345.7 L172.1,351.5ZM168.1,344.8 L167.7,341.6 L171.0,340.8 L171.4,344.0ZM171.3,351.4 L171.0,348.0 L174.2,347.6 L174.4,351.1ZM173.6,351.1 L173.4,347.5 L176.6,347.2 L176.7,350.9ZM172.0,331.7 L171.7,328.1 L175.6,327.1 L175.8,330.8ZM176.0,351.0 L175.8,347.4 L179.0,347.1 L179.1,350.8ZM175.0,334.1 L174.6,327.7 L178.5,326.8 L178.7,333.4ZM178.3,350.8 L178.2,347.1 L181.4,346.9 L181.4,350.8ZM177.9,339.0 L177.8,335.2 L181.5,334.7 L181.4,338.6ZM177.7,333.1 L177.5,326.4 L181.5,325.6 L181.5,332.5Z"/>
<path fill="#f7f4f2" d="M180.6,348.0 L180.6,344.3 L183.9,344.5 L183.8,348.2ZM183.0,348.0 L183.1,344.3 L186.4,344.5 L186.2,348.3ZM183.3,336.2 L183.3,332.5 L187.1,332.7 L186.9,336.4ZM185.4,348.1 L185.7,341.2 L189.1,341.5 L188.6,348.4ZM186.0,335.9 L186.2,332.1 L189.9,332.5 L189.6,336.3ZM187.6,351.3 L188.3,341.4 L191.7,341.8 L190.6,351.7ZM188.7,336.1 L189.0,332.3 L192.7,332.7 L192.3,336.6ZM189.8,351.7 L190.2,348.0 L193.4,348.4 L192.9,352.2ZM191.0,339.9 L191.4,336.1 L195.0,336.4 L194.5,340.2ZM192.1,352.2 L192.6,348.5 L195.8,348.9 L195.2,352.7ZM193.6,340.5 L194.1,336.8 L197.7,337.1 L197.1,340.8ZM199.4,338.1 L200.6,331.4 L204.4,331.7 L202.9,338.5ZM201.5,341.2 L202.3,337.3 L205.8,338.2 L204.9,342.0ZM209.8,340.7 L210.9,337.0 L214.3,338.6 L213.1,342.2ZM210.5,347.6 L211.6,343.9 L215.0,345.0 L213.7,348.6ZM212.9,348.2 L214.2,344.5 L217.5,345.7 L216.1,349.3ZM215.2,355.9 L216.7,352.4 L219.7,353.7 L218.2,357.1ZM217.6,356.5 L219.1,352.9 L222.2,354.2 L220.5,357.8ZM217.2,362.7 L221.5,353.7 L223.4,357.2 L219.8,364.2ZM220.0,362.2 L221.4,359.4 L223.9,361.3 L222.5,363.9ZM221.9,363.5 L223.3,360.8 L225.8,362.8 L224.3,365.3ZM233.0,371.2 L236.2,367.0 L238.7,368.9 L235.4,373.0ZM234.9,372.4 L238.2,368.3 L239.9,371.2 L236.0,375.7ZM235.4,375.3 L237.6,372.8 L238.7,376.0 L236.3,378.7ZM241.4,378.7 L243.7,376.4 L245.9,378.5 L243.7,380.6ZM243.3,379.9 L245.5,377.8 L247.8,380.0 L245.6,381.9ZM242.2,384.0 L244.2,382.2 L246.5,384.2 L244.5,385.8ZM245.3,381.2 L247.5,379.2 L249.8,381.4 L247.5,383.3ZM244.1,385.3 L249.1,381.0 L251.3,383.2 L246.3,387.2ZM247.0,385.7 L249.1,383.9 L251.3,386.1 L249.2,387.7ZM248.9,387.1 L251.0,385.4 L253.2,387.6 L251.1,389.2ZM250.6,388.6 L252.7,387.0 L254.9,389.3 L252.8,390.7ZM251.3,390.9 L254.6,388.5 L256.8,390.8 L253.5,393.0ZM253.0,392.4 L256.2,390.3 L258.3,392.7 L255.2,394.6ZM254.8,393.9 L258.0,392.0 L260.0,394.4 L256.9,396.2ZM257.6,394.9 L259.8,393.6 L261.8,396.2 L259.6,397.4ZM266.1,418.8 L268.4,418.2 L268.4,421.4 L266.0,421.9ZM265.9,421.2 L268.0,420.7 L268.0,423.9 L265.8,424.3ZM267.9,446.1 L269.8,446.2 L269.6,449.3 L267.6,449.1ZM266.8,448.2 L269.5,448.5 L269.1,451.6 L266.4,451.2ZM266.5,450.5 L269.4,450.9 L269.0,453.9 L266.0,453.4ZM266.1,452.7 L269.1,453.2 L268.5,456.2 L265.5,455.6ZM265.6,454.9 L267.3,455.2 L266.6,458.2 L264.9,457.8ZM274.2,456.5 L276.3,456.8 L275.7,460.2 L273.6,459.7ZM265.3,459.5 L269.9,460.5 L268.8,463.5 L264.4,462.3ZM273.7,464.0 L275.8,464.6 L274.5,467.8 L272.5,467.1ZM264.9,464.0 L266.8,464.6 L265.6,467.5 L263.7,466.9ZM262.8,465.8 L264.5,466.3 L263.3,469.2 L261.6,468.5ZM264.8,466.4 L266.6,467.0 L265.3,469.9 L263.5,469.2ZM261.8,467.8 L263.6,468.4 L262.4,471.2 L260.7,470.6ZM268.8,470.2 L270.5,470.9 L268.9,473.8 L267.2,473.1ZM263.1,470.7 L264.9,471.4 L263.5,474.2 L261.8,473.5ZM268.4,472.7 L270.1,473.4 L268.4,476.3 L266.7,475.5ZM261.7,472.6 L264.2,473.6 L262.7,476.4 L260.3,475.3ZM266.0,474.4 L267.6,475.0 L265.8,477.8 L264.3,477.1ZM261.3,475.0 L263.1,475.7 L261.5,478.5 L259.9,477.6ZM265.4,476.8 L267.2,477.5 L265.4,480.3 L263.7,479.5ZM257.7,475.8 L259.0,476.4 L257.6,479.0 L256.4,478.4ZM263.7,478.6 L265.4,479.4 L263.5,482.1 L261.9,481.3ZM256.7,477.8 L257.9,478.4 L256.4,480.9 L255.2,480.3ZM261.4,480.1 L262.9,480.9 L261.2,483.6 L259.7,482.8ZM255.6,479.7 L256.7,480.3 L254.9,482.7 L253.8,482.0ZM257.4,480.7 L259.6,481.9 L257.9,484.4 L255.7,483.1ZM259.7,481.9 L261.1,482.6 L259.4,485.3 L257.9,484.5ZM254.1,481.4 L255.3,482.0 L253.4,484.4 L252.3,483.7ZM256.9,483.0 L258.3,483.8 L256.5,486.3 L255.0,485.4ZM259.2,484.3 L260.6,485.1 L258.8,487.8 L257.4,486.9ZM252.7,483.1 L253.9,483.8 L252.0,486.1 L250.8,485.4ZM257.4,486.0 L258.9,486.9 L257.0,489.4 L255.5,488.5ZM251.2,484.8 L252.2,485.4 L250.3,487.7 L249.3,486.9ZM255.2,490.1 L256.7,491.2 L254.8,493.7 L253.3,492.6ZM252.6,491.2 L254.0,492.1 L252.0,494.6 L250.7,493.6ZM248.0,490.5 L249.5,491.7 L247.6,494.0 L246.1,492.8ZM252.4,493.9 L254.0,495.1 L251.9,497.5 L250.4,496.3ZM245.1,491.1 L246.1,491.9 L244.2,494.0 L243.2,493.2ZM246.2,492.0 L247.6,493.0 L245.6,495.2 L244.3,494.1ZM249.1,494.2 L251.1,495.9 L249.0,498.2 L247.0,496.5ZM243.7,492.6 L244.6,493.5 L242.6,495.6 L241.7,494.7ZM244.7,493.5 L246.0,494.6 L243.9,496.7 L242.7,495.6ZM246.7,495.2 L248.7,496.9 L246.5,499.1 L244.6,497.4ZM249.4,497.5 L250.4,498.3 L248.1,500.5 L247.2,499.7ZM243.3,495.2 L244.6,496.3 L242.4,498.4 L241.2,497.2ZM241.8,496.8 L243.1,498.1 L241.0,500.1 L239.7,498.8ZM241.0,499.1 L242.3,500.4 L240.0,502.3 L238.8,501.0ZM242.5,500.5 L243.8,501.8 L241.4,503.9 L240.2,502.5ZM241.8,503.1 L242.9,504.3 L240.5,506.2 L239.4,505.0ZM235.0,505.6 L236.0,507.0 L233.6,508.7 L232.5,507.4ZM233.9,508.0 L235.0,509.4 L232.5,511.1 L231.4,509.6ZM235.1,509.5 L236.2,510.9 L233.6,512.7 L232.6,511.2ZM229.1,505.2 L230.2,506.6 L227.7,508.2 L226.7,506.7ZM231.4,508.3 L232.4,509.8 L230.0,511.6 L229.0,510.1ZM227.4,506.4 L229.1,508.9 L226.6,510.5 L224.9,507.9ZM225.5,507.4 L226.5,509.0 L224.0,510.5 L223.0,508.8ZM227.8,511.0 L228.9,512.6 L226.4,514.4 L225.4,512.7ZM229.6,513.7 L230.6,515.3 L228.2,517.3 L227.2,515.7ZM223.6,508.4 L224.6,510.0 L222.1,511.6 L221.1,509.8ZM221.8,509.5 L222.9,511.4 L220.4,512.9 L219.3,510.9ZM219.9,510.5 L221.0,512.5 L218.3,513.7 L217.3,511.7ZM222.0,514.3 L223.1,516.3 L220.3,517.6 L219.3,515.6ZM217.9,511.3 L218.9,513.2 L216.3,514.4 L215.3,512.4ZM216.0,512.2 L217.0,514.2 L214.3,515.2 L213.4,513.3ZM219.7,519.7 L220.6,521.7 L217.6,522.8 L216.7,520.8ZM214.0,512.9 L214.9,514.8 L212.2,515.8 L211.4,513.9ZM215.6,516.5 L217.0,519.6 L214.1,520.6 L212.9,517.5ZM212.0,513.6 L212.8,515.4 L210.1,516.4 L209.4,514.5ZM213.4,517.0 L214.2,518.9 L211.4,519.8 L210.7,517.9ZM215.3,521.5 L216.1,523.4 L213.1,524.3 L212.4,522.4ZM210.0,514.3 L210.8,516.2 L208.0,517.0 L207.4,515.1ZM213.2,522.5 L214.3,525.2 L211.1,525.8 L210.2,523.1ZM208.5,516.1 L209.1,518.0 L206.3,518.6 L205.7,516.8ZM211.3,524.1 L211.9,525.6 L208.7,526.1 L208.2,524.6ZM209.2,525.3 L209.8,526.9 L206.5,527.3 L206.1,525.7ZM204.4,517.3 L205.4,520.5 L202.4,521.0 L201.6,517.8ZM205.9,522.2 L206.5,524.2 L203.4,524.6 L202.9,522.6ZM207.0,525.9 L207.5,527.5 L204.2,527.8 L203.8,526.2ZM201.7,515.7 L202.1,517.1 L199.4,517.7 L199.0,516.2ZM204.3,525.2 L204.7,526.7 L201.5,526.9 L201.2,525.4ZM199.7,516.1 L200.1,517.6 L197.3,518.1 L197.0,516.5ZM200.7,520.3 L201.2,522.2 L198.3,522.5 L197.9,520.6ZM202.2,526.1 L202.5,527.6 L199.3,527.7 L199.0,526.2ZM197.7,516.4 L198.0,517.9 L195.2,518.3 L195.0,516.8ZM198.8,521.6 L199.2,523.5 L196.2,523.7 L195.9,521.8ZM199.8,526.1 L200.1,527.6 L196.9,527.6 L196.6,526.1ZM195.6,516.7 L195.9,518.1 L193.1,518.4 L192.9,517.1ZM196.3,520.3 L196.7,522.1 L193.7,522.2 L193.4,520.5ZM197.3,525.3 L197.5,526.7 L194.4,526.5 L194.2,525.2ZM194.2,520.8 L194.5,522.5 L191.5,522.5 L191.3,520.9ZM194.8,524.2 L195.0,525.5 L191.9,525.3 L191.7,524.1ZM187.6,519.1 L187.7,520.7 L184.9,520.8 L184.8,519.2ZM185.5,518.8 L185.6,520.3 L182.8,520.3 L182.7,518.8ZM183.4,519.0 L183.5,520.5 L180.6,520.4 L180.7,519.0ZM181.3,518.9 L181.4,520.3 L178.5,520.2 L178.6,518.8ZM181.4,522.6 L181.4,524.0 L178.4,523.3 L178.5,522.0ZM177.2,518.4 L177.1,520.2 L174.3,520.2 L174.5,518.3ZM176.9,524.2 L176.9,525.3 L173.8,525.9 L173.9,524.7ZM175.1,518.4 L175.0,519.9 L172.2,519.8 L172.4,518.2ZM174.8,523.0 L174.7,524.0 L171.7,524.5 L171.8,523.5ZM173.1,518.2 L172.9,520.0 L170.1,519.9 L170.3,517.9ZM172.5,524.0 L172.4,525.1 L169.3,525.6 L169.5,524.4ZM171.0,518.0 L170.8,520.0 L168.0,519.7 L168.3,517.7ZM170.5,522.3 L170.3,523.9 L167.3,523.8 L167.5,522.2ZM170.2,524.6 L170.0,525.8 L167.0,525.9 L167.1,524.6ZM168.9,518.3 L168.6,519.9 L165.8,519.6 L166.1,517.9ZM168.6,520.0 L168.4,521.7 L165.5,521.4 L165.8,519.7ZM168.2,522.7 L167.8,525.2 L164.8,525.1 L165.3,522.5ZM167.8,525.3 L167.6,526.6 L164.5,526.5 L164.7,525.2ZM166.8,517.9 L166.3,521.2 L163.4,520.8 L164.1,517.5ZM166.0,522.8 L165.7,524.4 L162.6,524.2 L163.0,522.6ZM164.4,519.2 L164.1,520.8 L161.2,520.5 L161.6,518.8ZM162.2,519.2 L161.8,520.9 L158.9,520.5 L159.4,518.8ZM160.0,519.3 L159.5,521.1 L156.6,520.6 L157.2,518.8ZM157.9,518.7 L157.4,520.5 L154.5,519.9 L155.1,518.1ZM156.8,522.7 L156.0,525.5 L152.8,525.0 L153.8,522.2ZM156.7,515.6 L156.2,517.0 L153.5,516.2 L154.0,514.8ZM154.6,522.1 L154.0,523.9 L150.9,523.3 L151.6,521.5ZM154.6,515.1 L154.1,516.5 L151.4,515.7 L152.0,514.2ZM152.1,522.4 L151.4,524.3 L148.3,523.6 L149.1,521.7ZM152.6,514.5 L152.1,515.8 L149.4,514.9 L150.0,513.5ZM152.0,516.1 L151.4,517.8 L148.6,516.9 L149.3,515.1ZM149.8,522.0 L149.1,523.7 L146.0,523.1 L146.7,521.3ZM149.8,515.7 L149.1,517.7 L146.2,516.8 L147.1,514.8ZM146.8,512.1 L146.0,513.9 L143.4,512.7 L144.3,510.9ZM144.4,512.3 L143.3,514.4 L140.6,513.3 L141.8,511.1ZM135.1,507.0 L133.7,509.1 L131.4,507.3 L132.8,505.3ZM132.5,503.4 L131.1,505.2 L129.1,503.2 L130.5,501.4ZM131.0,501.9 L129.7,503.5 L127.8,501.4 L129.1,499.8ZM112.2,464.3 L111.0,464.7 L110.2,462.3 L111.4,461.9ZM111.6,462.5 L110.3,462.9 L109.6,460.4 L110.9,460.0ZM111.1,460.6 L109.9,461.0 L109.3,458.5 L110.4,458.2ZM110.6,458.8 L109.5,459.1 L108.9,456.6 L110.0,456.3ZM110.2,456.9 L108.9,457.3 L108.3,454.7 L109.7,454.4ZM108.2,443.7 L106.1,443.9 L106.0,441.2 L108.1,441.2ZM108.2,441.8 L105.9,441.9 L105.8,439.3 L108.1,439.3ZM108.0,438.0 L106.5,438.0 L106.4,435.4 L107.9,435.5ZM107.9,436.1 L106.4,436.0 L106.4,433.4 L107.9,433.5ZM107.9,434.2 L106.4,434.1 L106.4,431.4 L108.0,431.6ZM107.9,432.2 L106.5,432.1 L106.6,429.5 L108.0,429.7ZM108.0,430.3 L106.5,430.1 L106.7,427.5 L108.2,427.7ZM108.1,428.4 L106.7,428.2 L106.9,425.5 L108.4,425.8ZM107.8,416.2 L105.9,415.6 L106.3,412.8 L108.2,413.5ZM104.6,406.0 L102.6,405.1 L103.1,402.0 L105.1,403.0ZM108.7,405.5 L106.5,404.5 L107.1,401.6 L109.3,402.7ZM108.9,403.3 L106.7,402.2 L107.5,399.3 L109.7,400.5ZM109.4,401.1 L107.2,399.9 L108.0,397.0 L110.1,398.2ZM105.0,398.8 L102.8,397.6 L103.7,394.5 L105.8,395.8ZM109.7,398.9 L106.3,396.9 L107.2,393.9 L110.5,396.0ZM110.1,396.6 L106.6,394.5 L107.6,391.5 L110.9,393.6ZM111.5,394.9 L108.9,393.2 L109.8,390.2 L112.3,392.0ZM111.9,392.6 L109.4,390.8 L110.3,387.8 L112.7,389.5ZM112.2,390.1 L110.8,389.1 L111.8,386.0 L113.1,387.0ZM112.7,387.6 L111.3,386.6 L112.4,383.5 L113.7,384.6ZM113.2,385.2 L111.8,384.1 L113.3,381.3 L114.7,382.5ZM109.0,381.8 L107.3,380.4 L108.8,377.4 L110.5,378.9ZM113.7,376.3 L112.4,375.0 L114.5,372.5 L115.7,373.8ZM117.7,376.8 L116.8,375.9 L118.7,373.4 L119.7,374.4ZM115.4,374.6 L114.2,373.4 L115.9,370.3 L117.1,371.7ZM119.1,374.9 L118.0,373.8 L120.0,371.3 L121.2,372.6ZM116.1,371.8 L114.8,370.4 L116.6,367.5 L118.0,369.0ZM120.6,373.1 L118.8,371.1 L121.0,368.7 L122.7,370.8ZM117.8,370.0 L116.5,368.6 L118.8,366.1 L120.0,367.6ZM122.1,371.3 L120.3,369.1 L122.5,366.8 L124.4,369.0ZM120.0,368.8 L117.9,366.3 L120.2,363.9 L122.3,366.4ZM123.7,369.5 L121.8,367.1 L124.3,365.0 L126.2,367.5ZM125.6,368.0 L123.6,365.4 L126.0,363.2 L128.1,366.1ZM127.1,361.9 L125.9,360.1 L128.5,357.9 L129.7,359.9ZM135.3,361.3 L134.2,359.3 L136.9,357.6 L138.1,359.8ZM137.5,360.2 L136.3,358.0 L139.4,357.0 L140.4,359.1ZM139.7,359.5 L138.6,357.2 L141.7,356.3 L142.7,358.5ZM142.0,358.8 L141.0,356.7 L144.2,355.9 L145.0,357.9ZM144.3,358.2 L143.5,356.3 L146.5,355.4 L147.4,357.4ZM141.7,352.4 L140.7,350.1 L143.9,348.9 L144.8,351.2ZM146.6,357.7 L145.8,355.8 L148.9,354.8 L149.6,356.8ZM144.2,351.9 L143.3,349.6 L146.4,348.4 L147.3,350.8ZM148.9,357.1 L148.1,355.1 L151.2,354.3 L151.9,356.4ZM147.1,352.6 L146.2,350.2 L149.4,349.1 L150.3,351.6ZM151.2,356.6 L150.4,354.4 L153.5,353.7 L154.2,356.0ZM153.5,356.2 L152.2,352.2 L155.3,351.5 L156.5,355.7ZM151.2,349.3 L150.4,346.8 L153.7,345.8 L154.4,348.4ZM154.1,350.1 L152.6,345.3 L155.9,344.3 L157.2,349.3ZM158.9,349.3 L158.2,346.6 L161.5,345.8 L162.1,348.6ZM168.4,347.1 L168.0,344.0 L171.3,343.2 L171.6,346.5ZM170.5,343.5 L170.1,340.1 L173.6,339.4 L173.8,342.9ZM173.4,348.3 L173.1,344.8 L176.4,344.3 L176.6,348.0ZM172.5,337.2 L172.2,333.6 L175.9,332.8 L176.0,336.5ZM175.8,348.2 L175.6,344.6 L178.9,344.2 L179.0,347.9ZM175.5,342.6 L175.3,338.9 L178.8,338.4 L178.9,342.1ZM178.2,347.9 L178.1,344.1 L181.4,343.9 L181.4,347.7Z"/>
<path fill="#f4a582" d="M180.6,345.1 L180.6,341.4 L184.0,341.6 L183.9,345.3ZM180.5,330.7 L180.5,324.5 L184.5,324.6 L184.3,330.8ZM183.1,345.1 L183.1,341.3 L186.6,341.6 L186.4,345.3ZM183.4,330.3 L183.5,324.0 L187.6,324.2 L187.2,330.5ZM186.3,329.9 L186.5,326.1 L190.4,326.4 L190.1,330.2ZM190.1,348.8 L190.8,342.1 L194.2,342.4 L193.3,349.2ZM192.5,349.3 L193.0,345.6 L196.3,346.0 L195.6,349.7ZM193.2,343.4 L193.7,339.7 L197.2,340.0 L196.6,343.8ZM194.3,334.7 L194.8,331.0 L198.7,331.2 L198.0,334.9ZM194.9,349.2 L195.5,345.3 L198.8,345.8 L198.1,349.8ZM197.2,350.0 L198.4,343.3 L201.8,343.8 L200.3,350.6ZM200.2,347.3 L201.0,343.5 L204.3,344.3 L203.4,348.1ZM202.6,347.7 L203.6,343.8 L206.8,345.0 L205.8,348.8ZM205.1,348.2 L206.1,344.3 L209.3,345.6 L208.1,349.4ZM207.2,349.6 L209.2,342.9 L212.4,344.3 L210.3,350.8ZM212.4,331.8 L213.4,328.5 L217.0,330.4 L215.9,333.6ZM215.1,333.0 L216.2,329.7 L220.0,330.9 L218.8,334.2ZM254.4,379.6 L256.5,377.9 L258.6,380.6 L256.5,382.2ZM256.5,381.2 L260.2,378.3 L262.2,381.1 L258.6,383.7ZM257.9,383.2 L261.5,380.6 L263.7,383.3 L260.1,385.7ZM259.9,384.8 L263.6,382.3 L265.8,385.1 L262.1,387.4ZM262.5,386.1 L264.6,384.8 L266.7,387.6 L264.7,388.8ZM261.5,389.8 L263.6,388.5 L265.6,391.2 L263.5,392.4ZM265.8,387.1 L267.9,385.8 L269.8,388.8 L267.7,390.0ZM263.5,391.5 L267.2,389.3 L269.0,392.3 L265.4,394.3ZM268.0,388.9 L270.1,387.6 L271.9,390.8 L269.7,391.9ZM259.1,396.7 L261.1,395.7 L262.6,398.5 L260.6,399.5ZM263.0,394.6 L266.2,392.8 L267.8,395.9 L264.5,397.5ZM259.3,399.3 L262.5,397.6 L264.0,400.5 L260.8,402.0ZM264.6,396.5 L268.2,394.7 L269.6,397.8 L266.1,399.5ZM271.7,392.9 L273.4,392.0 L274.9,395.3 L273.2,396.1ZM260.4,401.3 L263.4,399.9 L264.8,402.7 L261.8,404.0ZM265.3,399.0 L267.3,398.0 L268.7,401.0 L266.6,401.9ZM261.5,403.3 L264.6,401.9 L266.0,404.8 L262.8,406.1ZM266.6,401.0 L268.7,400.1 L270.2,403.1 L268.0,404.0ZM269.4,399.8 L271.5,398.8 L273.0,402.0 L270.9,402.8ZM262.5,405.4 L264.2,404.7 L265.5,407.6 L263.7,408.3ZM267.5,403.3 L269.6,402.4 L271.0,405.5 L268.9,406.3ZM263.4,407.5 L265.2,406.8 L266.3,409.8 L264.4,410.5ZM268.9,405.4 L272.5,404.0 L273.8,407.2 L270.0,408.5ZM264.1,409.8 L266.1,409.1 L267.0,412.1 L265.0,412.7ZM270.0,407.6 L273.9,406.2 L275.5,409.3 L271.4,410.7ZM274.8,405.9 L278.7,404.5 L280.6,407.7 L276.5,409.0ZM264.7,412.0 L266.7,411.3 L267.6,414.3 L265.5,415.0ZM269.2,410.5 L271.6,409.7 L272.9,412.8 L270.4,413.5ZM272.5,409.4 L274.8,408.7 L276.4,411.8 L273.9,412.5ZM275.7,408.4 L279.7,407.1 L281.7,410.2 L277.4,411.5ZM265.3,414.2 L267.4,413.6 L268.2,416.6 L266.0,417.2ZM270.1,412.8 L274.3,411.5 L275.7,414.7 L271.2,415.9ZM275.3,411.2 L281.2,409.4 L283.2,412.7 L276.8,414.4ZM270.8,415.1 L275.2,413.9 L275.6,417.3 L271.2,418.4ZM276.2,413.6 L280.6,412.5 L280.9,416.1 L276.6,417.1ZM271.4,417.5 L276.0,416.4 L276.1,419.8 L271.5,420.8ZM277.1,416.1 L281.7,415.0 L281.9,418.6 L277.3,419.6ZM270.8,420.1 L275.1,419.2 L275.1,422.6 L270.8,423.4ZM276.1,419.0 L278.6,418.4 L278.7,421.9 L276.1,422.4ZM265.3,425.9 L267.7,425.5 L267.3,428.6 L265.0,428.9ZM264.9,428.2 L267.1,427.9 L267.4,430.9 L265.5,431.1ZM265.4,430.4 L267.3,430.1 L267.7,433.2 L266.1,433.3ZM266.0,432.5 L269.0,432.3 L269.0,435.4 L266.6,435.5ZM266.6,434.7 L268.0,434.7 L268.5,437.7 L267.1,437.7ZM267.1,437.0 L268.4,436.9 L268.9,440.0 L267.5,440.0ZM275.6,436.7 L277.0,436.7 L277.2,440.0 L275.8,440.0ZM267.5,439.2 L268.8,439.2 L268.7,442.3 L267.4,442.2ZM268.8,439.2 L270.5,439.2 L270.5,442.3 L268.8,442.3ZM275.0,439.2 L276.2,439.2 L276.4,442.5 L275.1,442.5ZM269.0,441.5 L270.7,441.6 L270.7,444.7 L268.9,444.6ZM273.8,441.6 L275.5,441.7 L275.7,445.0 L273.9,444.9ZM275.7,441.7 L277.0,441.7 L277.3,445.1 L275.9,445.0ZM272.1,444.0 L273.9,444.1 L273.9,447.3 L272.0,447.2ZM274.1,444.1 L276.0,444.2 L276.0,447.5 L274.1,447.3ZM276.2,444.2 L277.6,444.2 L277.8,447.6 L276.3,447.5ZM271.4,446.3 L273.4,446.5 L273.2,449.7 L271.2,449.5ZM274.9,446.6 L276.9,446.7 L276.9,450.1 L274.9,449.9ZM277.3,446.8 L278.8,446.9 L278.9,450.3 L277.3,450.1ZM271.0,448.7 L272.9,448.9 L272.7,452.1 L270.7,451.8ZM273.2,448.9 L276.3,449.2 L276.2,452.6 L273.0,452.1ZM276.6,449.2 L278.2,449.4 L278.1,452.8 L276.6,452.6ZM271.2,451.1 L273.3,451.3 L273.0,454.6 L270.9,454.2ZM273.8,451.4 L275.8,451.7 L275.6,455.0 L273.5,454.7ZM277.6,451.9 L279.3,452.1 L279.2,455.6 L277.5,455.3ZM270.8,453.4 L272.9,453.7 L272.5,457.0 L270.4,456.6ZM262.9,463.5 L264.5,463.9 L263.4,466.8 L261.9,466.3ZM262.1,465.6 L263.5,466.0 L262.3,468.8 L261.0,468.3ZM261.1,469.9 L262.9,470.6 L261.6,473.4 L259.9,472.7ZM260.0,471.9 L261.6,472.6 L260.3,475.3 L258.8,474.6ZM258.6,473.8 L260.0,474.4 L258.7,477.1 L257.4,476.4ZM249.7,486.4 L250.8,487.2 L248.8,489.3 L247.7,488.5ZM251.0,487.3 L252.5,488.3 L250.5,490.6 L249.0,489.5ZM249.2,488.7 L250.5,489.6 L248.5,491.9 L247.2,490.9ZM246.5,489.4 L247.8,490.4 L245.8,492.6 L244.7,491.6ZM242.2,494.2 L243.2,495.1 L241.1,497.1 L240.1,496.2ZM230.9,504.1 L232.0,505.5 L229.6,507.1 L228.6,505.7ZM205.8,514.7 L206.3,516.3 L203.6,517.0 L203.1,515.4ZM203.8,515.2 L204.2,516.8 L201.5,517.4 L201.1,515.8ZM193.6,517.0 L193.8,518.2 L191.0,518.6 L190.9,517.4ZM191.6,517.3 L191.8,518.7 L189.0,518.9 L188.9,517.6ZM189.5,517.5 L189.7,518.7 L186.9,518.9 L186.8,517.8ZM187.5,517.7 L187.7,519.9 L184.9,520.0 L184.8,517.9ZM185.4,517.9 L185.5,518.9 L182.7,519.0 L182.7,518.0ZM185.6,521.5 L185.7,522.9 L182.8,522.8 L182.8,521.4ZM183.4,518.0 L183.4,519.1 L180.7,519.1 L180.7,518.0ZM183.4,519.7 L183.5,521.2 L180.6,521.1 L180.7,519.6ZM181.4,520.7 L181.4,522.2 L178.5,521.7 L178.5,520.4ZM179.3,519.2 L179.2,520.5 L176.4,520.8 L176.5,519.5ZM179.2,520.1 L179.2,521.4 L176.3,521.9 L176.4,520.6ZM177.2,519.4 L177.1,521.5 L174.2,521.7 L174.4,519.4ZM175.1,519.1 L175.0,520.4 L172.1,520.5 L172.3,519.0ZM175.0,520.2 L174.9,521.6 L172.0,521.7 L172.2,520.3ZM173.0,519.2 L172.8,520.7 L170.0,520.6 L170.2,519.1ZM168.5,520.9 L168.2,522.6 L165.3,522.3 L165.6,520.6ZM166.9,517.5 L166.7,518.7 L163.9,518.3 L164.2,517.0ZM166.4,520.4 L166.1,522.0 L163.2,521.7 L163.5,520.0ZM166.1,522.0 L165.8,523.6 L162.8,523.4 L163.2,521.7ZM164.9,517.2 L164.6,518.4 L161.8,517.9 L162.1,516.7ZM164.3,520.1 L163.9,521.7 L161.0,521.3 L161.4,519.7ZM162.7,517.4 L162.3,519.1 L159.5,518.6 L159.9,516.9ZM162.0,520.2 L161.6,521.9 L158.7,521.4 L159.2,519.7ZM160.6,517.2 L159.8,520.1 L156.9,519.5 L157.8,516.6ZM159.5,521.4 L159.0,523.3 L156.0,522.8 L156.5,520.9ZM158.5,516.7 L157.7,519.5 L154.9,518.8 L155.8,516.0ZM156.5,516.2 L155.6,518.9 L152.8,518.2 L153.8,515.5ZM155.2,520.2 L154.7,521.9 L151.7,521.3 L152.3,519.5ZM154.4,515.8 L153.7,517.6 L151.0,516.8 L151.7,515.0ZM152.4,515.1 L151.7,516.8 L149.0,515.9 L149.8,514.1ZM139.3,522.2 L138.3,524.4 L135.0,523.5 L136.2,521.3ZM139.0,517.8 L137.9,519.8 L134.8,518.8 L136.0,516.7ZM139.0,513.1 L137.8,515.2 L135.1,513.8 L136.4,511.7ZM137.4,515.8 L136.2,517.9 L133.3,516.7 L134.6,514.6ZM135.1,520.0 L133.9,522.0 L130.7,520.9 L132.0,518.8ZM132.0,520.3 L129.9,523.8 L126.6,522.5 L128.9,519.0ZM129.4,519.9 L128.2,521.7 L125.0,520.3 L126.3,518.5ZM130.2,514.1 L128.8,516.2 L126.3,514.2 L127.8,512.2ZM127.3,518.4 L126.1,520.2 L123.5,518.0 L124.8,516.3ZM132.3,507.3 L130.7,509.4 L128.4,507.5 L130.0,505.5ZM128.0,513.2 L125.4,516.8 L122.9,514.6 L125.6,511.1ZM124.8,517.6 L123.5,519.4 L121.0,517.1 L122.3,515.4ZM130.5,506.0 L128.8,508.2 L126.7,506.1 L128.4,504.0ZM125.9,512.1 L122.0,517.2 L119.5,514.8 L123.6,509.9ZM122.7,512.2 L121.1,514.2 L118.8,511.8 L120.4,509.9ZM127.5,502.8 L125.7,504.9 L123.8,502.6 L125.6,500.6ZM125.0,505.7 L123.3,507.8 L121.2,505.4 L123.0,503.4ZM122.6,508.6 L120.8,510.7 L118.7,508.2 L120.5,506.2ZM126.1,501.1 L124.3,503.1 L122.4,500.8 L124.3,498.8ZM121.1,506.7 L119.3,508.7 L117.3,506.2 L119.1,504.2ZM117.3,510.9 L115.8,512.6 L113.7,509.9 L115.3,508.3ZM116.1,508.6 L114.6,510.2 L112.6,507.4 L114.1,505.9ZM125.0,496.1 L123.2,497.9 L121.5,495.5 L123.3,493.9ZM116.8,504.4 L114.1,507.1 L112.2,504.3 L114.9,501.8ZM123.7,494.5 L121.8,496.2 L120.2,493.9 L122.1,492.2ZM121.1,496.9 L119.2,498.7 L117.6,496.2 L119.5,494.5ZM118.5,499.4 L112.8,504.9 L111.0,502.1 L116.8,496.9ZM120.2,494.8 L118.4,496.5 L116.8,494.0 L118.7,492.4ZM117.7,497.1 L112.2,502.1 L110.5,499.2 L116.2,494.5ZM116.5,495.2 L114.7,496.8 L113.1,494.1 L115.0,492.6ZM114.0,497.3 L110.9,500.0 L109.3,497.2 L112.4,494.6ZM115.3,493.3 L113.4,494.9 L111.9,492.2 L113.8,490.7ZM111.3,496.5 L109.4,498.1 L107.9,495.2 L109.9,493.7ZM111.9,493.1 L107.7,496.3 L106.7,493.1 L110.8,490.1ZM115.0,488.0 L113.1,489.4 L112.4,486.3 L114.2,485.1ZM110.0,491.7 L107.2,493.7 L106.9,490.1 L109.5,488.3ZM117.0,484.0 L115.2,485.3 L114.3,482.5 L116.0,481.4ZM112.4,487.2 L110.7,488.4 L110.2,485.1 L111.9,484.0ZM109.1,489.5 L107.6,490.5 L107.5,486.9 L108.8,486.0ZM116.3,482.0 L114.6,483.2 L113.8,480.4 L115.4,479.4ZM113.1,484.1 L111.4,485.3 L110.9,482.1 L112.5,481.1ZM108.8,486.9 L107.4,487.8 L107.4,484.3 L108.7,483.5ZM111.7,482.5 L110.2,483.4 L110.1,480.1 L111.5,479.3ZM113.7,478.9 L112.2,479.7 L111.7,476.8 L113.1,476.1ZM111.3,480.3 L109.8,481.1 L109.7,477.9 L111.0,477.2ZM111.9,477.5 L110.6,478.3 L109.4,475.7 L110.7,475.0ZM112.1,475.1 L108.8,476.8 L107.7,474.2 L111.1,472.6ZM114.0,471.9 L112.5,472.7 L111.6,470.2 L113.1,469.5ZM112.4,472.7 L110.9,473.4 L109.9,470.9 L111.5,470.2ZM110.0,473.9 L108.5,474.6 L107.4,472.0 L109.0,471.3ZM113.5,470.0 L112.0,470.7 L111.2,468.2 L112.7,467.6ZM112.0,470.7 L110.5,471.3 L109.6,468.8 L111.1,468.2ZM109.8,471.7 L108.3,472.3 L107.4,469.7 L108.9,469.1ZM108.3,472.4 L106.8,473.0 L105.9,470.3 L107.4,469.7ZM112.2,468.5 L110.0,469.4 L109.2,466.8 L111.4,466.0ZM109.3,469.7 L107.8,470.3 L106.9,467.7 L108.4,467.1ZM107.8,470.3 L106.3,470.9 L105.4,468.2 L106.9,467.7ZM111.7,466.6 L110.2,467.1 L109.3,464.6 L110.8,464.1ZM109.4,467.4 L107.2,468.3 L106.4,465.7 L108.6,464.9ZM107.2,468.3 L105.7,468.9 L104.9,466.2 L106.4,465.7ZM110.9,464.8 L109.3,465.3 L108.5,462.8 L110.1,462.3ZM108.4,465.7 L106.0,466.5 L105.1,463.9 L107.6,463.1ZM105.9,466.6 L104.3,467.1 L103.4,464.4 L105.0,463.9ZM109.3,463.3 L106.7,464.1 L105.9,461.5 L108.5,460.7ZM106.6,464.1 L104.9,464.7 L104.0,462.0 L105.7,461.5ZM104.8,464.7 L103.1,465.3 L102.2,462.6 L103.9,462.1ZM107.7,461.7 L106.2,462.1 L105.4,459.5 L106.9,459.1ZM104.3,460.5 L103.2,460.8 L102.4,458.1 L103.6,457.8ZM102.1,458.9 L100.8,459.2 L100.0,456.4 L101.4,456.2ZM107.4,455.6 L103.8,456.4 L103.3,453.7 L106.9,453.0ZM103.7,456.4 L102.0,456.8 L101.3,454.0 L103.1,453.7ZM101.8,456.8 L100.5,457.1 L99.8,454.3 L101.2,454.0ZM107.3,453.6 L105.7,453.9 L105.2,451.3 L106.8,451.0ZM103.9,454.2 L102.2,454.6 L101.7,451.8 L103.3,451.6ZM102.1,454.6 L100.9,454.8 L100.3,452.0 L101.6,451.8ZM106.5,451.7 L104.7,452.0 L104.2,449.4 L106.0,449.1ZM104.4,452.1 L101.6,452.5 L101.1,449.8 L104.0,449.4ZM107.5,449.6 L105.0,449.9 L104.6,447.3 L107.2,447.0ZM106.4,447.8 L103.8,448.1 L103.5,445.4 L106.1,445.2ZM102.9,448.2 L101.2,448.3 L100.8,445.6 L102.5,445.4ZM106.3,445.8 L104.6,445.9 L104.4,443.3 L106.0,443.2ZM102.9,446.1 L101.2,446.2 L100.9,443.4 L102.6,443.4ZM104.4,444.0 L102.7,444.0 L102.5,441.3 L104.2,441.3ZM102.7,444.0 L101.0,444.1 L100.8,441.4 L102.4,441.3ZM104.0,442.0 L102.3,442.0 L102.1,439.3 L103.9,439.3ZM106.7,439.9 L104.2,439.9 L104.0,437.2 L106.6,437.3ZM104.1,439.9 L101.5,439.9 L101.3,437.2 L103.9,437.2ZM106.2,438.0 L104.3,437.9 L104.2,435.2 L106.1,435.3ZM102.9,437.9 L101.0,437.9 L100.9,435.1 L102.8,435.2ZM100.7,437.8 L98.8,437.8 L98.7,434.9 L100.6,435.0ZM106.1,436.0 L104.3,435.9 L104.3,433.2 L106.1,433.4ZM102.9,435.8 L100.0,435.7 L99.9,432.9 L102.9,433.1ZM99.7,435.7 L97.8,435.6 L97.7,432.7 L99.6,432.8ZM99.5,433.5 L97.6,433.4 L97.6,430.5 L99.5,430.7ZM104.2,431.9 L102.4,431.7 L102.5,428.9 L104.3,429.2ZM105.1,429.9 L102.1,429.6 L102.2,426.8 L105.3,427.3ZM105.4,428.0 L102.5,427.5 L102.7,424.7 L105.6,425.3ZM101.2,427.3 L99.4,427.0 L99.5,424.1 L101.4,424.5ZM105.3,425.9 L103.4,425.6 L103.5,422.8 L105.5,423.2ZM100.8,425.1 L97.8,424.6 L97.8,421.5 L100.9,422.2ZM106.4,424.1 L104.5,423.7 L104.5,420.9 L106.5,421.4ZM100.5,422.9 L98.5,422.4 L98.5,419.4 L100.5,419.9ZM98.1,422.4 L96.6,422.0 L96.5,418.9 L98.1,419.3ZM106.3,422.0 L104.3,421.5 L104.5,418.7 L106.5,419.3ZM97.8,420.0 L96.2,419.6 L96.2,416.5 L97.9,416.9ZM106.6,420.0 L104.8,419.5 L105.0,416.7 L106.8,417.3ZM102.3,418.9 L100.5,418.4 L100.6,415.4 L102.5,416.0ZM99.1,418.0 L97.6,417.7 L97.8,414.6 L99.2,415.0ZM104.0,417.1 L99.6,415.9 L99.8,412.8 L104.2,414.3ZM97.9,415.4 L96.3,414.9 L96.6,411.8 L98.2,412.3ZM103.4,414.7 L100.4,413.8 L100.7,410.8 L103.7,411.9ZM100.0,413.7 L98.2,413.1 L98.5,410.0 L100.4,410.6ZM104.8,413.0 L103.0,412.3 L103.2,409.3 L105.1,410.1ZM102.6,412.2 L100.8,411.6 L101.0,408.5 L102.8,409.2ZM105.9,411.1 L104.0,410.4 L104.3,407.4 L106.3,408.3ZM102.4,409.8 L100.5,409.1 L100.7,405.9 L102.7,406.8ZM107.1,409.4 L103.9,408.1 L104.3,405.1 L107.6,406.5ZM99.7,406.4 L97.8,405.5 L98.0,402.2 L100.0,403.1ZM107.2,407.1 L103.9,405.7 L104.4,402.6 L107.7,404.3ZM99.5,403.7 L97.5,402.8 L97.8,399.5 L99.8,400.4ZM107.2,404.8 L105.1,403.8 L105.7,400.8 L107.8,401.9ZM100.0,401.4 L97.9,400.4 L98.4,397.1 L100.6,398.2ZM107.4,402.5 L105.2,401.4 L106.1,398.5 L108.2,399.7ZM100.0,398.8 L97.8,397.6 L98.8,394.5 L100.9,395.7ZM102.1,397.2 L99.9,396.0 L100.9,392.9 L103.0,394.1ZM107.0,397.3 L105.0,396.1 L105.9,393.1 L107.9,394.3ZM102.9,395.0 L100.9,393.8 L101.9,390.7 L103.9,391.9ZM107.3,394.9 L103.9,392.8 L104.9,389.7 L108.3,391.9ZM103.2,392.4 L101.1,391.1 L102.3,388.0 L104.3,389.3ZM108.4,392.9 L104.2,390.2 L105.4,387.1 L109.3,389.9ZM110.1,391.3 L107.2,389.4 L108.3,386.3 L111.0,388.2ZM104.6,387.6 L102.9,386.4 L104.2,383.3 L105.9,384.5ZM110.4,388.8 L107.6,386.8 L108.7,383.6 L111.4,385.7ZM105.1,385.0 L103.4,383.7 L104.6,380.5 L106.3,381.7ZM103.0,383.4 L101.6,382.4 L102.9,379.1 L104.2,380.2ZM110.8,386.3 L108.1,384.2 L109.3,381.0 L112.0,383.2ZM106.6,383.0 L104.9,381.7 L106.2,378.5 L107.8,379.8ZM104.5,381.4 L102.8,380.1 L104.1,376.8 L105.8,378.1ZM111.3,383.6 L108.4,381.3 L109.9,378.3 L112.8,380.8ZM106.8,380.0 L105.0,378.6 L106.5,375.4 L108.3,376.9ZM104.5,378.2 L102.8,376.8 L104.3,373.5 L106.0,375.0ZM113.4,382.4 L109.5,379.1 L111.7,376.6 L115.1,379.8ZM107.9,377.7 L106.2,376.3 L108.8,374.0 L110.3,375.4ZM105.7,375.8 L104.0,374.4 L106.9,372.3 L108.4,373.7ZM114.7,380.4 L111.3,377.4 L113.7,375.1 L116.5,377.8ZM109.2,375.5 L106.2,372.8 L109.5,371.1 L112.0,373.5ZM115.9,378.4 L113.1,375.7 L115.2,373.2 L117.8,375.9ZM111.5,374.2 L109.4,372.2 L111.7,369.7 L113.7,371.7ZM117.3,376.5 L114.9,374.0 L116.6,371.1 L119.2,373.9ZM113.5,372.7 L111.7,370.9 L113.0,367.3 L115.0,369.4ZM117.7,373.5 L115.6,371.2 L117.5,368.4 L119.7,371.0ZM114.5,370.1 L111.5,367.0 L113.2,363.7 L116.3,367.1ZM119.3,371.7 L117.3,369.4 L119.5,367.0 L121.5,369.3ZM115.5,367.5 L114.2,366.1 L116.5,363.4 L117.8,364.9ZM120.8,369.7 L119.5,368.2 L121.8,365.8 L123.0,367.4ZM116.8,365.1 L115.5,363.5 L117.9,360.9 L119.1,362.5ZM119.8,364.7 L118.4,363.0 L120.9,360.5 L122.2,362.3ZM118.1,362.6 L116.7,360.9 L119.2,358.3 L120.5,360.1ZM121.4,362.6 L120.0,360.9 L122.5,358.3 L123.8,360.2ZM122.4,359.6 L121.0,357.8 L123.5,355.2 L124.9,357.2ZM128.7,364.2 L127.5,362.4 L130.1,360.4 L131.3,362.4ZM126.3,360.8 L123.4,356.6 L126.0,354.1 L128.9,358.6ZM130.6,362.7 L128.3,359.2 L131.0,357.2 L133.2,360.9ZM126.8,357.0 L123.6,352.1 L126.4,349.6 L129.5,354.8ZM123.1,351.4 L122.0,349.6 L124.7,346.9 L125.9,348.7ZM132.5,361.3 L130.2,357.6 L133.0,355.6 L135.3,359.6ZM128.8,355.2 L127.4,353.0 L130.1,350.6 L131.5,353.0ZM134.6,360.0 L132.3,356.0 L134.8,353.7 L137.3,358.3ZM136.6,358.7 L134.3,354.4 L137.6,353.5 L139.7,357.7ZM131.6,349.6 L129.3,345.3 L133.1,344.6 L135.3,348.9ZM138.9,357.9 L135.6,351.4 L139.2,351.0 L142.1,357.1ZM135.0,350.2 L133.6,347.6 L137.5,347.4 L138.7,349.9ZM133.0,346.4 L131.6,343.7 L135.8,343.8 L137.0,346.3ZM141.4,357.4 L138.5,351.5 L142.0,350.9 L144.5,356.6ZM138.0,350.5 L136.9,348.1 L140.5,347.7 L141.6,350.0ZM136.4,347.1 L135.2,344.6 L139.1,344.4 L140.1,346.7ZM143.8,357.0 L142.8,354.8 L145.9,353.7 L146.8,356.1ZM142.4,353.9 L141.4,351.7 L144.5,350.5 L145.5,352.9ZM138.2,344.7 L137.4,342.8 L140.7,341.1 L141.5,343.1ZM146.1,356.5 L145.2,354.2 L148.3,353.2 L149.2,355.6ZM142.9,348.8 L142.0,346.6 L145.2,345.2 L146.1,347.5ZM141.7,345.8 L140.7,343.5 L144.0,342.0 L144.9,344.3ZM145.9,349.3 L144.3,345.2 L147.6,343.9 L149.1,348.1ZM144.0,344.3 L143.0,341.9 L146.4,340.4 L147.2,342.9ZM148.1,347.9 L147.2,345.4 L150.5,344.2 L151.3,346.9ZM146.1,342.5 L145.2,339.9 L148.6,338.5 L149.5,341.2ZM152.4,353.0 L151.6,350.4 L154.8,349.6 L155.5,352.2ZM150.0,345.7 L149.2,343.1 L152.5,342.0 L153.3,344.6ZM148.2,340.3 L147.5,338.1 L151.0,336.6 L151.7,338.9ZM154.7,352.2 L153.8,349.4 L157.0,348.5 L157.8,351.4ZM152.2,344.0 L150.8,339.1 L154.2,337.9 L155.5,342.9ZM158.1,355.4 L157.4,353.1 L160.5,352.4 L161.0,354.8ZM157.1,351.9 L156.3,349.2 L159.5,348.4 L160.2,351.2ZM155.5,346.0 L154.2,341.3 L157.6,340.3 L158.7,345.1ZM153.3,338.2 L152.7,335.8 L156.3,334.6 L156.8,337.0ZM160.3,355.0 L159.7,352.6 L162.8,352.0 L163.3,354.5ZM159.4,351.4 L158.7,348.6 L161.9,347.8 L162.5,350.7ZM157.4,343.3 L156.8,340.5 L160.2,339.5 L160.8,342.4ZM162.5,354.6 L161.5,349.7 L164.6,349.0 L165.6,354.2ZM160.7,345.9 L160.0,342.9 L163.3,341.9 L163.9,345.1ZM158.7,336.8 L158.0,333.8 L161.6,332.4 L162.2,335.6ZM164.4,352.4 L163.9,349.3 L167.0,348.7 L167.5,351.9ZM163.1,345.4 L161.7,337.7 L165.1,336.5 L166.4,344.6ZM166.7,352.0 L166.2,348.7 L169.4,348.2 L169.8,351.6ZM165.9,347.0 L164.2,336.4 L167.7,335.2 L169.1,346.4ZM167.8,342.4 L167.3,339.2 L170.8,338.3 L171.1,341.6ZM171.1,348.8 L170.7,345.3 L174.0,344.8 L174.2,348.4ZM169.3,332.9 L168.9,329.5 L172.7,328.4 L173.0,331.9ZM172.3,334.4 L172.0,330.9 L175.7,330.0 L175.9,333.6ZM178.1,344.9 L178.0,341.1 L181.4,340.8 L181.4,344.7Z"/>
<path fill="#d8e8f2" d="M180.6,342.2 L180.6,338.5 L184.1,338.7 L184.0,342.4ZM183.1,342.1 L183.2,338.4 L186.7,338.6 L186.5,342.4ZM185.7,342.0 L185.9,338.2 L189.4,338.5 L189.1,342.3ZM188.2,342.2 L188.7,335.3 L192.4,335.8 L191.6,342.6ZM190.7,342.9 L191.1,339.1 L194.6,339.4 L194.1,343.2ZM204.1,341.4 L205.0,337.5 L208.5,338.9 L207.4,342.7ZM206.7,341.9 L207.8,337.9 L211.2,339.4 L210.0,343.3ZM209.0,343.7 L210.1,339.9 L213.4,341.5 L212.2,345.1ZM211.6,334.8 L212.6,331.0 L216.2,332.9 L215.0,336.5ZM206.8,358.8 L207.9,355.6 L210.8,356.5 L209.7,359.8ZM211.4,344.7 L213.5,338.1 L217.0,339.2 L214.7,345.7ZM214.2,335.9 L215.4,332.3 L219.1,333.4 L217.8,337.1ZM209.0,359.5 L212.2,350.4 L215.3,351.5 L211.8,360.5ZM211.1,360.2 L212.3,356.9 L215.2,358.0 L213.8,361.3ZM213.1,354.8 L214.5,351.1 L217.6,352.3 L216.1,355.9ZM218.7,340.1 L221.2,333.5 L224.9,334.9 L222.2,341.4ZM219.7,344.9 L222.3,338.7 L225.8,340.1 L223.0,346.3ZM222.6,345.0 L225.4,338.6 L229.0,340.1 L225.9,346.5ZM225.2,345.8 L228.3,339.4 L229.2,346.1 L226.5,351.3ZM229.3,337.2 L230.8,334.0 L231.3,342.0 L229.9,344.6ZM226.2,349.9 L227.6,347.1 L230.2,350.0 L228.7,352.6ZM228.3,345.7 L229.5,343.3 L232.1,346.5 L230.8,348.8ZM228.7,356.2 L230.1,353.7 L233.1,355.4 L231.6,357.8ZM231.3,356.7 L232.9,354.1 L235.9,355.8 L234.2,358.4ZM234.8,351.0 L236.1,348.7 L239.4,350.5 L238.0,352.7ZM226.4,369.0 L229.0,364.9 L231.7,366.6 L228.8,370.6ZM232.3,359.9 L235.2,355.4 L238.2,357.2 L235.1,361.6ZM228.2,370.2 L229.7,368.1 L232.2,369.8 L230.7,371.8ZM230.1,371.4 L231.5,369.4 L234.0,371.1 L232.5,373.1ZM234.7,364.9 L236.4,362.6 L239.1,364.6 L237.3,366.8ZM237.1,365.8 L238.9,363.4 L241.5,365.5 L239.6,367.8ZM241.9,367.7 L244.0,365.2 L246.3,367.7 L243.9,370.4ZM246.7,362.0 L250.2,357.9 L253.7,359.6 L249.6,364.1ZM234.1,380.1 L236.3,377.6 L239.0,379.1 L236.8,381.4ZM237.7,376.1 L240.2,373.3 L242.8,375.0 L240.3,377.6ZM243.5,369.6 L245.9,366.9 L248.6,369.0 L246.1,371.6ZM251.1,361.0 L253.3,358.6 L256.0,361.2 L253.8,363.5ZM236.2,380.9 L238.3,378.7 L240.8,380.3 L238.8,382.3ZM239.5,377.4 L241.8,375.0 L244.1,377.1 L241.9,379.3ZM244.8,371.8 L247.1,369.4 L249.1,372.1 L246.8,374.3ZM238.3,381.8 L240.3,379.8 L242.7,381.5 L240.9,383.3ZM249.8,373.7 L252.0,371.6 L254.2,374.3 L252.0,376.2ZM251.9,375.2 L254.2,373.1 L256.3,375.8 L254.1,377.7ZM255.3,372.2 L257.5,370.1 L259.6,373.1 L257.3,375.0ZM251.6,378.8 L253.8,376.9 L256.0,379.4 L253.8,381.2ZM256.3,374.7 L259.7,371.8 L261.9,374.7 L258.5,377.4ZM258.8,376.0 L260.6,374.6 L262.7,377.5 L260.9,378.8ZM247.6,388.0 L249.5,386.6 L251.7,388.7 L249.9,390.0ZM261.1,377.6 L262.9,376.2 L264.9,379.2 L263.1,380.5ZM249.5,389.4 L251.2,388.1 L253.5,390.3 L251.7,391.5ZM253.5,386.4 L255.6,384.9 L257.8,387.3 L255.7,388.7ZM262.3,380.0 L264.1,378.7 L266.2,381.6 L264.5,382.8ZM255.4,388.0 L257.6,386.5 L259.8,388.9 L257.6,390.3ZM262.9,382.8 L265.1,381.3 L267.3,384.1 L265.1,385.5ZM256.9,389.8 L259.0,388.5 L261.1,391.0 L259.1,392.2ZM258.7,391.5 L260.8,390.2 L262.8,392.8 L260.7,394.0ZM267.2,386.3 L268.9,385.2 L270.9,388.2 L269.1,389.2ZM260.6,393.2 L262.8,391.9 L264.7,394.6 L262.5,395.8ZM266.5,389.7 L268.7,388.5 L270.4,391.5 L268.3,392.7ZM269.5,388.0 L271.3,387.0 L273.0,390.2 L271.2,391.2ZM266.8,392.5 L268.8,391.4 L270.4,394.6 L268.4,395.6ZM268.9,394.4 L271.0,393.3 L272.5,396.5 L270.3,397.5ZM269.2,397.1 L271.2,396.1 L272.6,399.3 L270.6,400.2ZM277.9,404.8 L279.9,404.1 L281.9,407.3 L279.9,408.0ZM278.9,407.3 L280.9,406.6 L283.1,409.8 L281.0,410.5ZM281.6,412.2 L283.8,411.6 L284.1,415.3 L282.0,415.8ZM280.9,415.1 L285.1,414.1 L285.4,417.9 L281.1,418.8ZM279.6,418.2 L282.2,417.6 L282.3,421.3 L279.7,421.8ZM278.3,421.1 L282.9,420.3 L282.6,424.0 L278.1,424.7ZM278.6,423.7 L281.4,423.3 L280.3,427.0 L277.6,427.3ZM275.2,426.8 L279.6,426.2 L278.5,429.8 L274.6,430.2ZM277.1,429.1 L280.5,428.7 L278.4,432.4 L275.5,432.6ZM273.4,434.4 L275.3,434.2 L275.6,437.5 L273.8,437.6ZM275.2,444.1 L277.0,444.2 L277.1,447.6 L275.2,447.4ZM276.1,446.7 L278.1,446.8 L278.1,450.2 L276.1,450.0ZM268.7,450.8 L270.7,451.0 L270.3,454.1 L268.2,453.8ZM276.3,451.7 L278.4,452.0 L278.3,455.4 L276.1,455.1ZM269.6,453.2 L271.6,453.5 L271.2,456.7 L269.1,456.3ZM273.4,453.8 L275.5,454.1 L275.2,457.5 L273.1,457.1ZM277.3,454.4 L279.0,454.7 L278.8,458.2 L277.1,457.8ZM266.5,455.1 L268.6,455.4 L267.9,458.5 L265.8,458.0ZM269.1,455.5 L271.2,455.9 L270.5,459.0 L268.4,458.6ZM272.9,456.2 L275.0,456.6 L274.4,459.9 L272.3,459.4ZM276.8,456.9 L278.5,457.2 L277.9,460.6 L276.2,460.3ZM272.3,458.6 L274.4,459.0 L273.4,462.2 L271.3,461.7ZM276.2,459.4 L277.8,459.7 L276.7,463.0 L275.1,462.6ZM271.6,460.9 L273.7,461.4 L272.5,464.6 L270.5,464.0ZM275.4,461.8 L277.1,462.2 L275.8,465.5 L274.2,465.0ZM269.8,463.0 L273.2,463.9 L272.0,467.0 L268.7,466.0ZM275.0,464.4 L276.7,464.8 L275.4,468.0 L273.8,467.5ZM268.3,465.1 L270.3,465.6 L268.9,468.6 L267.1,468.0ZM273.0,466.4 L274.5,466.9 L273.0,469.9 L271.5,469.5ZM271.0,468.4 L272.4,468.9 L270.8,471.8 L269.4,471.3ZM262.8,468.2 L264.6,468.8 L263.3,471.6 L261.6,471.0ZM266.8,469.6 L268.5,470.2 L267.0,473.0 L265.3,472.4ZM269.8,470.6 L271.1,471.1 L269.4,474.0 L268.1,473.5ZM262.1,470.3 L263.9,471.0 L262.6,473.8 L260.8,473.1ZM265.2,471.5 L267.0,472.2 L265.5,475.0 L263.8,474.3ZM269.4,473.1 L270.8,473.6 L269.0,476.5 L267.7,475.9ZM260.9,472.3 L262.5,472.9 L261.1,475.7 L259.6,475.0ZM263.5,473.3 L265.1,474.0 L263.4,476.7 L261.9,476.1ZM266.9,474.7 L268.1,475.2 L266.2,478.0 L265.1,477.5ZM260.3,474.5 L262.1,475.3 L260.6,478.0 L258.9,477.2ZM263.4,475.9 L265.1,476.6 L263.4,479.4 L261.8,478.6ZM266.5,477.2 L268.9,478.3 L266.9,481.0 L264.6,479.9ZM261.9,477.8 L263.5,478.5 L261.8,481.2 L260.2,480.4ZM264.6,479.1 L266.8,480.1 L264.8,482.8 L262.8,481.7ZM260.5,479.7 L262.1,480.5 L260.4,483.2 L258.9,482.3ZM263.0,481.0 L265.1,482.0 L263.3,484.7 L261.3,483.7ZM258.9,481.5 L260.4,482.3 L258.6,484.9 L257.2,484.0ZM261.2,482.7 L263.0,483.7 L261.2,486.4 L259.4,485.3ZM255.3,482.1 L256.8,482.9 L255.0,485.4 L253.5,484.5ZM257.6,483.4 L259.1,484.2 L257.3,486.8 L255.8,485.9ZM259.9,484.7 L261.8,485.8 L260.0,488.5 L258.1,487.3ZM256.6,485.4 L258.1,486.4 L256.2,488.9 L254.7,487.9ZM259.1,487.0 L260.6,487.9 L258.7,490.5 L257.2,489.6ZM253.6,486.3 L255.6,487.6 L253.7,490.0 L251.7,488.6ZM252.7,488.4 L255.1,490.0 L253.1,492.5 L250.7,490.7ZM250.6,489.7 L252.6,491.1 L250.6,493.5 L248.6,491.9ZM253.3,491.7 L254.7,492.6 L252.7,495.1 L251.4,494.1ZM249.8,491.9 L252.2,493.7 L250.2,496.1 L247.8,494.2ZM253.3,494.6 L254.8,495.7 L252.8,498.2 L251.3,497.0ZM247.7,493.1 L249.0,494.2 L246.9,496.4 L245.7,495.3ZM250.5,495.4 L251.9,496.5 L249.7,498.8 L248.4,497.7ZM246.0,494.7 L247.3,495.7 L245.2,497.9 L243.9,496.8ZM248.7,496.9 L250.0,498.0 L247.8,500.2 L246.5,499.1ZM244.7,496.4 L246.0,497.6 L243.8,499.7 L242.5,498.5ZM246.8,498.3 L248.8,500.1 L246.5,502.3 L244.6,500.4ZM243.3,498.2 L244.6,499.5 L242.4,501.5 L241.1,500.2ZM245.6,500.3 L246.9,501.6 L244.5,503.7 L243.3,502.4ZM247.1,501.7 L248.1,502.7 L245.7,504.9 L244.7,503.8ZM241.7,499.8 L243.0,501.1 L240.7,503.1 L239.5,501.8ZM244.0,502.0 L245.3,503.3 L242.9,505.4 L241.6,504.0ZM245.5,503.5 L246.5,504.5 L244.0,506.6 L243.0,505.5ZM239.5,500.7 L240.6,501.8 L238.3,503.8 L237.2,502.5ZM241.2,502.5 L242.3,503.7 L239.9,505.6 L238.8,504.4ZM242.3,503.7 L243.2,504.6 L240.8,506.6 L240.0,505.6ZM237.5,501.8 L240.1,504.7 L237.7,506.6 L235.2,503.7ZM240.3,504.9 L241.5,506.2 L239.0,508.2 L237.9,506.8ZM241.6,506.4 L242.6,507.4 L240.1,509.4 L239.2,508.3ZM235.7,503.1 L237.5,505.2 L235.1,507.0 L233.4,504.8ZM238.3,506.0 L240.4,508.6 L237.9,510.5 L235.8,507.9ZM233.8,504.2 L235.5,506.3 L233.0,508.0 L231.4,505.9ZM237.3,508.5 L238.1,509.5 L235.5,511.3 L234.7,510.3ZM232.1,505.6 L233.8,507.8 L231.3,509.5 L229.7,507.3ZM235.7,510.3 L236.6,511.4 L234.0,513.2 L233.2,512.0ZM230.3,506.8 L231.9,509.0 L229.5,510.8 L227.9,508.4ZM232.5,509.9 L233.6,511.3 L231.2,513.3 L230.2,511.8ZM228.6,508.2 L229.7,509.8 L227.2,511.5 L226.2,509.8ZM226.7,509.2 L227.7,510.8 L225.2,512.4 L224.2,510.8ZM224.7,510.3 L225.8,511.9 L223.3,513.7 L222.3,511.9ZM227.7,515.0 L228.7,516.6 L226.4,519.0 L225.4,517.2ZM223.1,511.9 L224.2,513.7 L221.8,515.5 L220.7,513.5ZM226.5,517.7 L227.6,519.5 L225.3,522.1 L224.2,520.1ZM224.8,519.4 L226.4,522.3 L223.4,523.7 L221.9,520.7ZM222.3,519.7 L223.7,522.5 L220.6,523.7 L219.3,520.9ZM215.6,511.3 L216.4,512.9 L213.7,514.0 L213.0,512.4ZM216.6,513.4 L217.6,515.4 L214.8,516.5 L214.0,514.5ZM220.3,521.0 L221.7,523.9 L218.6,525.0 L217.3,522.1ZM213.6,512.1 L214.3,513.6 L211.7,514.6 L211.1,513.1ZM214.6,514.1 L216.0,517.2 L213.2,518.2 L211.9,515.1ZM211.7,512.8 L212.3,514.3 L209.7,515.3 L209.1,513.8ZM212.5,514.7 L213.8,517.7 L211.0,518.7 L209.8,515.6ZM209.7,513.5 L210.3,515.0 L207.6,515.9 L207.1,514.4ZM211.0,516.6 L211.7,518.5 L208.8,519.3 L208.2,517.4ZM211.9,519.0 L213.1,522.0 L210.0,522.7 L209.0,519.7ZM208.9,517.2 L209.5,519.1 L206.7,519.8 L206.1,517.9ZM209.7,519.5 L210.8,522.5 L207.7,523.1 L206.8,520.1ZM207.2,519.2 L208.7,523.6 L205.6,524.1 L204.4,519.8ZM208.8,524.0 L209.5,526.0 L206.3,526.5 L205.7,524.5ZM205.1,519.7 L206.1,523.0 L203.1,523.4 L202.2,520.2ZM206.6,524.7 L207.2,526.7 L204.0,527.0 L203.5,525.0ZM203.1,520.8 L203.6,522.6 L200.6,523.0 L200.2,521.2ZM204.0,524.1 L204.5,525.9 L201.4,526.2 L201.0,524.3ZM200.2,518.0 L200.7,519.9 L197.8,520.3 L197.4,518.4ZM201.9,524.9 L202.4,526.9 L199.2,527.0 L198.8,525.1ZM198.1,518.3 L198.7,521.3 L195.8,521.5 L195.3,518.6ZM199.5,525.0 L200.0,526.9 L196.8,526.9 L196.5,525.1ZM195.8,517.3 L196.5,521.1 L193.6,521.3 L193.0,517.6ZM197.1,524.3 L197.4,526.0 L194.3,526.0 L194.0,524.2ZM193.7,517.4 L194.2,520.8 L191.3,520.9 L190.9,517.8ZM194.6,523.4 L194.9,525.0 L191.8,524.9 L191.6,523.3ZM191.7,517.9 L192.0,520.6 L189.2,520.7 L188.9,518.1ZM192.0,520.8 L192.3,522.6 L189.4,522.6 L189.2,520.9ZM192.4,523.7 L192.8,526.4 L189.7,526.2 L189.5,523.6ZM189.6,517.9 L189.8,519.5 L186.9,519.7 L186.8,518.1ZM189.8,520.3 L190.0,521.9 L187.1,521.9 L187.0,520.3ZM190.1,522.6 L190.4,525.0 L187.3,524.8 L187.2,522.6ZM187.7,520.8 L187.9,522.4 L185.0,522.5 L184.9,520.8ZM188.0,524.2 L188.2,525.9 L185.1,525.8 L185.1,524.2ZM185.5,518.1 L185.5,519.6 L182.7,519.6 L182.7,518.2ZM185.7,522.8 L185.8,524.3 L182.8,524.1 L182.8,522.6ZM183.4,518.3 L183.5,519.8 L180.7,519.8 L180.7,518.3ZM181.3,518.0 L181.3,519.7 L178.6,519.6 L178.6,518.2ZM179.3,518.2 L179.2,520.0 L176.4,520.3 L176.5,518.4ZM174.9,521.3 L174.8,523.3 L171.8,523.7 L172.0,521.6ZM172.7,522.0 L172.5,524.1 L169.5,524.4 L169.8,522.1ZM170.9,519.2 L170.7,520.8 L167.8,520.5 L168.1,518.9ZM170.4,523.1 L170.2,524.7 L167.2,524.6 L167.4,523.0ZM169.0,517.8 L168.8,519.1 L166.0,518.7 L166.2,517.4ZM168.8,519.2 L168.5,520.8 L165.6,520.5 L166.0,518.8ZM165.7,524.4 L165.4,525.6 L162.3,525.5 L162.6,524.3ZM164.8,517.6 L164.3,520.0 L161.4,519.6 L162.0,517.1ZM163.8,522.5 L163.4,524.1 L160.4,523.9 L160.8,522.2ZM163.4,524.2 L163.2,525.4 L160.1,525.2 L160.4,523.9ZM162.8,516.8 L162.5,518.2 L159.7,517.6 L160.1,516.3ZM162.5,518.3 L162.1,520.0 L159.2,519.5 L159.7,517.8ZM161.4,522.9 L161.0,524.6 L157.9,524.3 L158.4,522.6ZM160.9,524.8 L160.6,526.1 L157.5,525.8 L157.9,524.4ZM160.8,516.5 L160.4,517.9 L157.6,517.3 L158.0,515.9ZM158.9,523.6 L158.4,525.4 L155.3,525.0 L155.9,523.1ZM158.7,516.1 L158.3,517.5 L155.5,516.8 L156.0,515.4ZM155.8,518.2 L155.3,519.9 L152.4,519.3 L153.0,517.5ZM154.3,523.1 L153.7,524.9 L150.6,524.3 L151.2,522.6ZM154.0,516.9 L153.4,518.7 L150.5,517.9 L151.3,516.1ZM151.7,523.5 L151.0,525.4 L147.9,524.7 L148.6,522.8ZM150.7,513.7 L150.0,515.3 L147.4,514.3 L148.1,512.7ZM148.7,513.0 L148.0,514.6 L145.3,513.5 L146.2,511.8ZM142.5,511.3 L141.4,513.3 L138.8,512.0 L140.0,510.0ZM140.6,510.4 L139.4,512.4 L136.8,511.0 L138.1,508.9ZM138.6,509.4 L137.3,511.7 L134.7,510.2 L136.2,507.9ZM136.9,508.2 L134.6,511.8 L132.0,510.3 L134.5,506.6ZM108.4,420.5 L106.9,420.1 L107.1,417.4 L108.6,417.8ZM108.4,418.4 L106.8,418.0 L107.1,415.2 L108.7,415.8ZM108.5,416.4 L107.0,415.9 L107.4,413.2 L108.9,413.7ZM108.7,414.4 L106.2,413.5 L106.6,410.7 L109.2,411.7ZM108.9,412.3 L107.4,411.7 L107.9,409.0 L109.5,409.6ZM109.2,410.2 L106.4,409.1 L106.8,406.2 L109.7,407.5ZM108.5,407.7 L106.5,406.8 L107.0,403.9 L109.1,404.9ZM110.8,399.5 L109.1,398.5 L109.8,395.6 L111.5,396.6ZM111.1,397.2 L109.4,396.1 L110.2,393.2 L111.9,394.3ZM114.2,383.1 L112.8,381.9 L114.5,379.2 L115.8,380.4ZM115.3,380.9 L114.1,379.9 L115.9,377.3 L116.9,378.3ZM116.4,378.8 L115.4,377.8 L117.2,375.3 L118.2,376.3ZM127.4,366.5 L126.3,365.0 L128.8,363.0 L130.0,364.6ZM129.3,365.1 L128.3,363.6 L130.9,361.7 L131.9,363.3ZM131.3,363.7 L130.1,362.0 L132.8,360.2 L133.9,362.1ZM133.3,362.5 L132.1,360.6 L134.9,358.9 L136.0,360.9ZM150.7,355.2 L149.8,352.6 L152.9,351.8 L153.7,354.5ZM155.8,355.9 L154.5,351.4 L157.6,350.6 L158.8,355.2ZM167.1,354.1 L166.6,351.2 L169.7,350.8 L170.1,353.8ZM169.3,353.9 L169.0,351.1 L172.0,350.7 L172.3,353.6ZM167.4,340.0 L167.0,336.9 L170.5,335.8 L170.9,339.1ZM169.9,338.2 L169.5,334.8 L173.1,333.9 L173.4,337.4ZM175.3,339.7 L175.1,336.1 L178.7,335.5 L178.8,339.2ZM178.0,341.9 L177.9,338.2 L181.4,337.8 L181.4,341.6Z"/>
<path fill="#a9cfe5" d="M180.5,336.4 L180.5,332.8 L184.3,332.9 L184.1,336.6ZM185.1,353.7 L185.4,347.3 L188.6,347.6 L188.1,354.0ZM187.4,354.0 L187.6,350.5 L190.7,350.9 L190.3,354.4ZM191.3,336.9 L191.7,333.2 L195.4,333.4 L194.9,337.2ZM194.0,337.6 L194.4,333.9 L198.2,334.1 L197.6,337.9ZM196.4,339.8 L197.9,329.6 L201.8,329.9 L199.9,340.2ZM198.8,341.1 L199.5,337.3 L203.1,337.8 L202.3,341.6ZM202.1,338.1 L203.5,331.2 L207.3,332.1 L205.6,339.0ZM204.9,338.3 L205.8,334.3 L209.3,335.8 L208.3,339.6ZM203.4,354.6 L204.4,350.6 L207.4,351.7 L206.3,355.6ZM207.6,338.7 L210.3,328.4 L213.9,330.2 L210.9,340.2ZM206.4,352.5 L207.5,348.8 L210.5,350.1 L209.3,353.7ZM207.7,356.3 L208.8,352.6 L211.9,353.6 L210.6,357.3ZM209.5,350.5 L210.7,346.8 L213.9,347.9 L212.6,351.5ZM213.2,338.9 L214.4,335.2 L218.1,336.3 L216.8,340.0ZM215.0,342.3 L217.3,335.7 L220.9,337.0 L218.4,343.5ZM212.0,357.7 L213.4,354.0 L216.4,355.2 L214.9,358.8ZM215.4,348.9 L216.8,345.2 L220.0,346.5 L218.5,350.1ZM214.1,358.6 L215.5,355.2 L218.5,356.4 L216.9,359.8ZM222.0,339.4 L223.4,335.9 L227.0,337.4 L225.5,340.8ZM225.1,339.3 L226.7,335.7 L230.3,337.3 L228.6,340.9ZM221.1,354.5 L222.8,350.9 L224.6,355.0 L223.1,357.9ZM223.9,348.7 L225.6,345.1 L226.9,350.5 L225.4,353.5ZM227.9,340.1 L229.6,336.5 L230.3,343.9 L228.8,346.8ZM222.1,358.1 L223.5,355.3 L226.0,357.5 L224.6,360.1ZM227.3,347.8 L228.7,345.0 L231.2,348.1 L229.8,350.7ZM223.0,361.5 L225.5,356.8 L227.9,359.1 L225.4,363.5ZM230.4,347.6 L231.7,345.3 L234.1,348.6 L232.8,350.7ZM225.7,361.5 L227.1,359.0 L229.8,360.7 L228.3,363.1ZM230.7,352.7 L232.9,348.8 L236.2,350.5 L233.8,354.3ZM224.6,367.7 L228.3,361.7 L230.9,363.4 L227.0,369.4ZM232.5,354.8 L235.2,350.3 L238.4,352.1 L235.5,356.5ZM228.6,365.6 L230.3,363.0 L233.0,364.7 L231.2,367.2ZM235.9,354.2 L237.6,351.6 L240.8,353.4 L239.0,356.0ZM229.2,368.8 L232.1,364.5 L234.7,366.3 L231.7,370.4ZM237.7,356.3 L239.4,353.8 L242.4,355.9 L240.6,358.3ZM236.0,363.3 L238.9,359.2 L241.6,361.3 L238.6,365.2ZM239.6,358.2 L241.3,355.8 L244.2,358.0 L242.4,360.3ZM231.9,372.6 L233.5,370.5 L235.9,372.3 L234.3,374.4ZM235.7,367.6 L237.6,365.2 L240.1,367.2 L238.2,369.5ZM238.4,364.1 L240.3,361.7 L242.9,363.8 L241.0,366.1ZM242.5,358.7 L244.3,356.3 L247.1,358.6 L245.2,361.0ZM233.7,373.9 L235.4,371.8 L236.6,375.1 L234.6,377.4ZM237.7,368.9 L241.1,364.7 L243.2,367.4 L239.4,371.8ZM242.0,363.6 L243.9,361.2 L246.6,363.5 L244.4,366.0ZM244.9,360.0 L246.8,357.6 L249.9,359.6 L247.7,362.2ZM234.1,376.9 L235.9,374.7 L236.8,378.1 L234.7,380.5ZM238.6,371.5 L242.4,367.1 L244.4,369.8 L240.1,374.6ZM243.5,365.8 L245.6,363.3 L248.2,365.6 L245.8,368.3ZM235.8,378.2 L238.2,375.5 L240.9,377.0 L238.4,379.6ZM237.7,379.3 L240.0,376.8 L242.4,378.7 L240.2,380.9ZM239.7,380.4 L242.0,378.1 L244.3,380.0 L242.2,382.1ZM241.7,381.5 L243.9,379.4 L246.2,381.4 L244.0,383.4ZM246.6,376.8 L248.8,374.7 L251.0,377.1 L248.8,379.1ZM251.5,372.2 L253.7,370.1 L255.8,372.8 L253.6,374.8ZM253.6,373.7 L255.8,371.6 L258.0,374.5 L255.7,376.4ZM254.7,376.1 L256.9,374.2 L259.1,376.9 L256.9,378.7ZM245.9,386.6 L247.6,385.1 L249.9,387.2 L248.1,388.6ZM248.5,384.4 L250.6,382.7 L252.8,385.0 L250.7,386.6ZM251.4,382.0 L253.5,380.3 L255.7,382.8 L253.6,384.4ZM250.4,385.9 L252.5,384.2 L254.7,386.5 L252.6,388.1ZM253.4,383.5 L255.6,381.8 L257.7,384.4 L255.6,385.9ZM252.1,387.5 L254.2,385.9 L256.4,388.3 L254.3,389.7ZM256.5,384.3 L258.6,382.7 L260.8,385.3 L258.6,386.7ZM256.9,386.9 L260.6,384.4 L262.8,387.0 L259.1,389.3ZM258.3,388.9 L261.8,386.6 L263.9,389.3 L260.5,391.4ZM263.9,385.2 L266.0,383.9 L268.1,386.7 L266.1,388.0ZM257.3,392.4 L259.4,391.1 L261.4,393.6 L259.3,394.8ZM260.1,390.6 L262.2,389.3 L264.2,392.0 L262.1,393.2ZM264.4,388.0 L266.5,386.7 L268.4,389.6 L266.3,390.8ZM261.7,395.3 L263.7,394.2 L265.2,397.2 L263.2,398.2ZM270.3,393.6 L272.4,392.5 L273.9,395.8 L271.7,396.8ZM270.5,396.4 L272.5,395.5 L273.9,398.7 L271.9,399.6ZM272.1,398.5 L274.2,397.6 L275.8,400.8 L273.7,401.7ZM272.9,401.1 L276.0,399.8 L277.5,403.0 L274.4,404.2ZM276.1,402.6 L278.0,401.9 L279.4,405.2 L277.6,405.9ZM281.4,417.8 L283.6,417.3 L283.7,421.0 L281.5,421.4ZM282.1,420.4 L284.3,420.0 L284.0,423.7 L281.8,424.1ZM282.5,423.1 L284.9,422.7 L283.6,426.6 L281.3,426.8ZM280.5,426.1 L282.7,425.8 L281.3,429.5 L279.3,429.7ZM276.0,431.7 L278.1,431.5 L276.1,435.0 L274.3,435.1ZM274.5,434.3 L276.3,434.2 L276.7,437.5 L274.8,437.6ZM274.6,436.7 L276.4,436.7 L276.6,440.0 L274.8,440.0ZM274.1,439.2 L275.8,439.2 L275.9,442.5 L274.2,442.4ZM274.7,441.6 L276.5,441.7 L276.7,445.0 L274.9,444.9ZM268.3,453.0 L270.3,453.4 L269.9,456.5 L267.8,456.1ZM274.7,454.0 L276.8,454.3 L276.5,457.7 L274.4,457.3ZM267.8,455.3 L269.9,455.7 L269.2,458.8 L267.1,458.3ZM266.0,457.3 L270.6,458.2 L269.6,461.3 L265.1,460.2ZM269.1,460.3 L271.1,460.8 L270.1,463.9 L268.1,463.3ZM268.5,462.6 L270.6,463.2 L269.5,466.2 L267.4,465.6ZM267.2,464.7 L269.1,465.3 L267.8,468.2 L266.0,467.6ZM269.5,465.4 L271.4,466.0 L270.1,469.0 L268.2,468.3ZM271.8,466.1 L273.7,466.6 L272.3,469.7 L270.4,469.1ZM263.8,466.1 L265.6,466.7 L264.3,469.5 L262.6,468.9ZM266.9,467.1 L269.7,468.0 L268.2,470.9 L265.5,469.9ZM269.9,468.1 L271.7,468.6 L270.2,471.6 L268.4,471.0ZM265.8,469.2 L267.5,469.8 L266.1,472.7 L264.4,472.0ZM266.3,471.9 L268.1,472.6 L266.5,475.4 L264.8,474.7ZM264.3,473.7 L265.9,474.3 L264.2,477.1 L262.7,476.4ZM262.4,475.4 L264.1,476.2 L262.5,478.9 L260.8,478.1ZM259.2,476.5 L262.6,478.1 L260.9,480.8 L257.7,479.1ZM258.0,478.4 L261.2,480.0 L259.6,482.7 L256.5,481.0ZM262.2,480.5 L263.8,481.3 L262.0,484.0 L260.5,483.2ZM256.7,480.3 L258.1,481.1 L256.4,483.6 L254.9,482.7ZM260.4,482.3 L261.9,483.0 L260.1,485.7 L258.7,484.9ZM258.4,483.8 L259.9,484.7 L258.0,487.3 L256.6,486.4ZM255.7,484.9 L257.2,485.9 L255.3,488.3 L253.8,487.3ZM259.9,487.5 L261.1,488.2 L259.2,490.9 L258.0,490.1ZM256.3,488.0 L258.0,489.1 L256.1,491.7 L254.4,490.5ZM256.1,490.7 L257.6,491.7 L255.6,494.3 L254.1,493.2ZM248.4,493.7 L249.7,494.8 L247.6,497.0 L246.3,495.9ZM248.0,496.4 L249.3,497.4 L247.1,499.6 L245.9,498.5ZM248.2,499.6 L249.2,500.5 L246.9,502.7 L245.9,501.7ZM246.3,501.0 L247.6,502.3 L245.3,504.4 L244.0,503.1ZM244.7,502.8 L246.0,504.1 L243.6,506.1 L242.3,504.8ZM238.9,500.1 L240.0,501.2 L237.7,503.1 L236.6,501.9ZM240.0,501.3 L241.2,502.5 L238.8,504.4 L237.7,503.2ZM241.0,505.6 L242.2,507.0 L239.7,508.9 L238.5,507.6ZM237.0,504.6 L238.1,505.9 L235.7,507.8 L234.6,506.4ZM236.1,507.0 L237.8,509.1 L235.2,510.9 L233.6,508.8ZM234.5,508.7 L235.6,510.2 L233.0,511.9 L232.0,510.4ZM232.0,509.1 L233.0,510.5 L230.6,512.4 L229.6,510.9ZM233.7,511.5 L234.5,512.6 L232.1,514.6 L231.3,513.5ZM229.2,509.1 L232.2,513.4 L229.8,515.4 L226.8,510.8ZM232.4,513.7 L233.2,514.9 L230.8,517.1 L230.0,515.7ZM227.2,510.1 L228.3,511.7 L225.8,513.4 L224.8,511.8ZM228.4,511.9 L230.1,514.4 L227.6,516.4 L226.0,513.7ZM230.2,514.7 L231.0,515.9 L228.6,518.0 L227.8,516.7ZM225.3,511.2 L226.3,512.9 L224.0,514.7 L222.9,513.0ZM226.5,513.1 L228.1,515.7 L225.8,517.9 L224.2,515.1ZM228.2,515.9 L229.0,517.2 L226.8,519.7 L226.0,518.3ZM223.8,513.0 L224.9,514.9 L222.5,516.8 L221.4,514.8ZM225.2,515.4 L226.9,518.4 L224.6,520.8 L222.8,517.4ZM227.2,518.8 L228.1,520.3 L225.8,523.0 L224.9,521.4ZM221.3,513.1 L222.4,515.0 L219.6,516.3 L218.6,514.3ZM223.4,516.9 L225.2,520.1 L222.3,521.4 L220.6,518.1ZM218.5,512.5 L220.1,515.6 L217.4,516.8 L215.9,513.6ZM221.0,517.3 L222.6,520.4 L219.7,521.6 L218.2,518.5ZM217.2,514.7 L218.2,516.7 L215.4,517.8 L214.5,515.8ZM219.0,518.5 L220.0,520.5 L217.1,521.6 L216.2,519.6ZM216.7,518.9 L217.6,520.8 L214.6,521.8 L213.8,519.9ZM217.8,521.3 L219.0,524.0 L216.0,525.0 L214.8,522.3ZM213.9,518.1 L215.7,522.3 L212.7,523.2 L211.1,519.0ZM215.8,522.6 L216.5,524.2 L213.4,525.1 L212.8,523.6ZM210.5,515.5 L211.2,517.4 L208.4,518.2 L207.8,516.3ZM211.4,517.8 L212.2,519.7 L209.2,520.4 L208.6,518.6ZM212.8,521.3 L213.5,523.2 L210.4,523.9 L209.8,522.0ZM209.3,518.3 L210.0,520.2 L207.0,520.9 L206.4,519.0ZM210.5,521.8 L211.6,524.8 L208.4,525.3 L207.5,522.3ZM206.8,518.0 L207.5,519.9 L204.6,520.5 L204.0,518.6ZM208.4,522.8 L209.1,524.8 L206.0,525.3 L205.4,523.3ZM206.2,523.4 L206.8,525.4 L203.7,525.8 L203.2,523.8ZM202.2,517.5 L203.3,521.5 L200.4,521.9 L199.5,518.0ZM203.7,523.0 L204.2,524.8 L201.1,525.1 L200.7,523.3ZM200.5,519.1 L200.9,521.1 L198.0,521.4 L197.6,519.5ZM201.0,521.5 L201.5,523.4 L198.5,523.7 L198.1,521.8ZM201.6,523.8 L202.1,525.7 L198.9,525.9 L198.6,524.0ZM199.3,523.9 L199.7,525.8 L196.6,525.8 L196.3,524.0ZM196.9,523.3 L197.2,525.1 L194.2,525.0 L193.9,523.3ZM194.1,520.0 L194.4,521.6 L191.4,521.7 L191.2,520.1ZM194.5,522.5 L194.8,524.2 L191.7,524.1 L191.5,522.5ZM191.9,519.8 L192.2,521.6 L189.3,521.7 L189.1,519.9ZM192.7,525.7 L192.9,527.0 L189.8,526.7 L189.6,525.4ZM189.8,519.5 L189.9,521.1 L187.1,521.1 L186.9,519.6ZM190.3,524.2 L190.4,525.4 L187.4,525.2 L187.3,524.0ZM187.7,519.9 L187.8,521.6 L184.9,521.6 L184.9,520.0ZM188.1,525.1 L188.2,526.3 L185.2,526.2 L185.1,525.0ZM185.5,519.5 L185.6,520.9 L182.8,520.9 L182.7,519.5ZM185.8,523.5 L185.8,524.5 L182.8,524.3 L182.8,523.3ZM183.6,523.3 L183.6,525.1 L180.6,524.8 L180.6,523.1ZM181.4,523.2 L181.4,524.3 L178.4,523.4 L178.5,522.5ZM179.2,521.5 L179.2,522.9 L176.2,523.6 L176.3,522.1ZM177.0,523.5 L176.9,525.0 L173.9,525.5 L174.0,524.0ZM174.8,522.5 L174.7,523.8 L171.7,524.3 L171.9,522.9ZM172.6,523.3 L172.4,524.8 L169.4,525.2 L169.6,523.6ZM170.3,523.9 L170.1,525.4 L167.0,525.4 L167.3,523.8ZM167.9,524.4 L167.7,526.1 L164.6,526.0 L164.9,524.3ZM165.8,523.6 L165.5,525.2 L162.4,525.1 L162.8,523.4ZM163.6,523.3 L163.2,524.9 L160.2,524.7 L160.6,523.1ZM161.2,523.9 L160.8,525.6 L157.7,525.2 L158.1,523.5ZM158.6,524.6 L158.1,526.5 L155.0,526.1 L155.5,524.2ZM112.4,466.3 L110.9,466.9 L110.1,464.4 L111.6,463.8ZM111.7,464.5 L110.1,465.0 L109.3,462.5 L110.9,462.0ZM111.1,462.7 L109.4,463.2 L108.7,460.7 L110.4,460.2ZM110.3,458.9 L108.7,459.3 L108.1,456.8 L109.7,456.4ZM108.3,455.4 L106.6,455.7 L106.1,453.1 L107.9,452.8ZM109.5,453.2 L108.2,453.4 L107.8,450.9 L109.0,450.7ZM107.2,434.1 L105.3,434.0 L105.3,431.3 L107.2,431.5ZM107.3,432.2 L105.5,432.0 L105.6,429.3 L107.4,429.6ZM108.4,424.5 L105.7,423.9 L105.7,421.2 L108.5,421.9ZM108.4,422.5 L105.5,421.8 L105.7,419.1 L108.5,419.8ZM107.7,420.3 L105.8,419.8 L106.1,417.0 L107.9,417.6ZM107.6,418.2 L105.6,417.6 L105.9,414.8 L107.9,415.5ZM156.0,348.0 L155.3,345.2 L158.6,344.3 L159.2,347.1ZM170.8,346.1 L170.4,342.7 L173.8,342.1 L174.0,345.6ZM173.2,345.6 L172.7,339.2 L176.1,338.6 L176.5,345.1ZM175.6,345.4 L175.4,341.8 L178.9,341.3 L178.9,345.0ZM175.2,336.9 L175.0,333.3 L178.7,332.6 L178.7,336.3ZM177.8,336.0 L177.7,332.3 L181.5,331.7 L181.5,335.5Z"/>
<path fill="#d6604d" d="M186.4,326.9 L186.6,323.4 L190.6,323.8 L190.3,327.2ZM189.1,330.1 L189.4,326.2 L193.4,326.7 L192.9,330.5ZM207.1,328.8 L207.9,325.3 L211.7,327.0 L210.7,330.5ZM210.1,329.2 L211.0,325.6 L214.7,327.5 L213.7,330.9ZM267.4,395.1 L269.6,394.0 L271.1,397.1 L268.9,398.1ZM266.6,398.3 L269.9,396.7 L271.3,399.9 L268.0,401.3ZM268.0,400.4 L270.1,399.5 L271.6,402.5 L269.5,403.4ZM270.2,402.2 L272.3,401.3 L273.7,404.5 L271.6,405.3ZM264.5,407.1 L266.7,406.3 L267.8,409.3 L265.5,410.1ZM265.3,409.3 L267.6,408.5 L268.7,411.5 L266.3,412.3ZM268.5,408.2 L270.8,407.4 L272.1,410.4 L269.7,411.2ZM270.8,410.0 L273.2,409.2 L274.7,412.3 L272.2,413.0ZM270.9,422.5 L273.5,422.0 L273.3,425.4 L270.6,425.8ZM270.8,425.0 L273.5,424.5 L272.8,427.9 L270.2,428.3ZM269.9,427.5 L272.4,427.2 L272.2,430.4 L269.8,430.7ZM273.4,427.0 L276.0,426.7 L275.4,430.1 L273.0,430.3ZM266.5,430.2 L268.8,430.0 L268.9,433.1 L266.9,433.2ZM269.5,429.9 L271.8,429.7 L271.4,432.9 L269.4,433.0ZM272.6,429.6 L276.4,429.2 L275.1,432.6 L271.8,432.8ZM269.5,432.2 L275.5,431.7 L274.0,435.1 L269.2,435.4ZM267.2,434.7 L269.0,434.6 L269.5,437.7 L267.7,437.7ZM269.3,434.6 L274.2,434.3 L274.6,437.6 L269.7,437.7ZM267.6,437.0 L274.4,436.7 L274.7,440.0 L268.1,440.0ZM270.6,439.2 L274.0,439.2 L274.1,442.4 L270.6,442.3ZM270.9,441.6 L274.6,441.6 L274.7,444.9 L270.9,444.7ZM269.0,443.8 L270.8,443.9 L270.7,447.0 L268.8,446.9ZM271.0,443.9 L272.9,444.0 L272.8,447.2 L270.9,447.1ZM270.2,446.2 L272.2,446.4 L272.0,449.6 L270.0,449.3ZM272.6,446.4 L274.5,446.6 L274.4,449.8 L272.4,449.6ZM272.1,448.8 L274.0,449.0 L273.8,452.2 L271.9,452.0ZM272.5,451.2 L274.6,451.5 L274.3,454.8 L272.2,454.4ZM272.1,453.6 L274.2,453.9 L273.9,457.2 L271.7,456.8ZM270.4,455.8 L272.4,456.1 L271.8,459.3 L269.7,458.9ZM265.1,457.1 L266.8,457.4 L265.9,460.4 L264.3,460.0ZM269.8,458.1 L271.9,458.5 L270.9,461.6 L268.8,461.1ZM264.4,459.2 L266.1,459.6 L265.1,462.5 L263.5,462.1ZM263.7,461.4 L265.4,461.8 L264.4,464.7 L262.7,464.2ZM261.2,467.6 L262.6,468.1 L261.4,470.9 L260.1,470.4ZM260.4,469.7 L261.8,470.2 L260.6,473.0 L259.3,472.4ZM259.5,471.7 L260.8,472.2 L259.5,475.0 L258.3,474.4ZM259.3,474.1 L261.1,474.8 L259.6,477.5 L258.0,476.7ZM258.2,476.0 L259.9,476.8 L258.4,479.5 L256.8,478.7ZM257.2,478.0 L258.7,478.8 L257.2,481.4 L255.7,480.6ZM256.0,479.9 L257.4,480.7 L255.6,483.1 L254.2,482.3ZM254.6,481.6 L256.0,482.5 L254.2,484.9 L252.7,484.0ZM253.2,483.4 L255.6,484.8 L253.7,487.2 L251.3,485.7ZM251.5,485.0 L253.6,486.3 L251.6,488.6 L249.6,487.2ZM250.2,486.7 L251.7,487.7 L249.7,490.0 L248.2,488.9ZM248.1,487.9 L249.8,489.1 L247.8,491.3 L246.1,490.0ZM247.1,489.9 L248.6,491.0 L246.7,493.3 L245.2,492.1ZM245.5,491.4 L246.9,492.5 L244.9,494.6 L243.6,493.5ZM244.0,493.0 L245.3,494.0 L243.3,496.1 L242.0,495.0ZM242.6,494.5 L243.9,495.7 L241.8,497.8 L240.5,496.6ZM240.6,495.7 L242.4,497.4 L240.2,499.4 L238.5,497.6ZM239.0,497.1 L240.8,498.9 L238.6,500.8 L236.9,499.0ZM237.4,498.5 L238.9,500.0 L236.6,501.9 L235.2,500.4ZM235.8,499.9 L237.4,501.7 L235.1,503.5 L233.5,501.6ZM234.1,501.2 L235.6,503.0 L233.2,504.7 L231.8,502.9ZM232.3,502.4 L233.7,504.1 L231.4,505.8 L230.0,504.0ZM230.6,503.6 L231.4,504.7 L229.0,506.3 L228.2,505.2ZM228.8,504.8 L229.6,505.9 L227.2,507.4 L226.4,506.2ZM227.0,505.8 L227.8,507.1 L225.4,508.6 L224.5,507.2ZM225.1,506.9 L225.9,508.1 L223.4,509.5 L222.6,508.2ZM223.2,507.8 L224.0,509.1 L221.5,510.5 L220.7,509.1ZM221.3,508.7 L222.2,510.2 L219.7,511.6 L218.8,509.9ZM219.4,509.6 L220.3,511.2 L217.7,512.4 L216.9,510.7ZM217.5,510.4 L218.3,512.0 L215.7,513.1 L214.9,511.6ZM207.8,514.1 L208.3,515.7 L205.6,516.4 L205.1,514.9ZM189.7,518.7 L189.8,520.3 L187.0,520.4 L186.9,518.9ZM188.0,523.4 L188.1,525.0 L185.1,525.0 L185.0,523.3ZM185.6,520.1 L185.7,521.6 L182.8,521.5 L182.8,520.1ZM185.7,522.1 L185.8,523.6 L182.8,523.4 L182.8,522.0ZM183.5,520.4 L183.5,521.9 L180.6,521.8 L180.6,520.3ZM183.5,521.9 L183.6,524.1 L180.6,523.9 L180.6,521.7ZM181.4,520.1 L181.4,521.5 L178.5,521.2 L178.5,519.9ZM181.4,521.4 L181.4,523.4 L178.5,522.8 L178.5,520.9ZM179.3,519.7 L179.2,520.9 L176.4,521.4 L176.4,520.0ZM179.2,520.6 L179.2,522.3 L176.3,522.9 L176.4,521.1ZM177.1,520.7 L177.0,522.2 L174.1,522.5 L174.2,520.9ZM177.0,522.1 L176.9,524.3 L173.9,524.8 L174.1,522.5ZM175.1,519.6 L175.0,521.0 L172.1,521.1 L172.2,519.7ZM172.9,519.9 L172.8,521.4 L169.9,521.4 L170.1,519.8ZM170.8,520.0 L170.6,521.5 L167.7,521.4 L167.9,519.7ZM163.9,521.7 L163.6,523.3 L160.6,523.0 L161.0,521.4ZM161.6,522.0 L161.2,523.7 L158.2,523.3 L158.6,521.6ZM159.2,522.5 L158.7,524.3 L155.6,523.9 L156.2,522.0ZM158.3,525.7 L158.0,527.1 L154.8,526.8 L155.2,525.3ZM157.4,520.7 L156.5,523.5 L153.5,523.0 L154.4,520.1ZM156.2,524.7 L155.8,526.1 L152.6,525.7 L153.1,524.3ZM154.9,521.2 L154.3,522.9 L151.3,522.3 L151.9,520.5ZM153.9,524.1 L153.5,525.5 L150.4,525.0 L150.9,523.6ZM153.6,518.0 L153.0,519.8 L150.1,519.1 L150.8,517.2ZM152.5,521.3 L151.8,523.2 L148.8,522.5 L149.5,520.6ZM151.3,524.6 L150.8,526.1 L147.6,525.5 L148.2,524.0ZM151.7,517.0 L151.0,518.8 L148.2,517.9 L148.9,516.2ZM150.5,520.0 L149.9,521.8 L146.9,521.0 L147.6,519.2ZM149.4,523.0 L148.9,524.4 L145.7,523.7 L146.3,522.3ZM149.4,516.9 L148.6,518.9 L145.7,518.0 L146.6,516.1ZM147.9,520.5 L147.1,522.5 L144.0,521.8 L144.9,519.8ZM146.4,524.1 L145.8,525.7 L142.4,525.2 L143.2,523.6ZM147.7,515.2 L146.3,518.5 L143.4,517.6 L145.0,514.2ZM146.0,519.1 L144.6,522.4 L141.4,521.7 L143.1,518.2ZM143.7,524.3 L143.0,526.0 L139.6,525.4 L140.5,523.6ZM145.7,514.5 L144.0,518.0 L141.2,516.9 L143.0,513.4ZM143.7,518.6 L142.1,522.1 L139.0,521.2 L140.8,517.7ZM141.2,524.1 L140.3,525.8 L137.0,525.1 L137.9,523.3ZM143.6,513.7 L141.8,517.3 L139.0,516.2 L141.0,512.6ZM141.5,518.0 L139.7,521.5 L136.6,520.6 L138.6,517.0ZM138.6,523.7 L137.7,525.4 L134.4,524.6 L135.4,522.8ZM141.8,512.6 L140.0,515.9 L137.2,514.7 L139.2,511.3ZM139.7,516.5 L138.6,518.5 L135.6,517.4 L136.8,515.4ZM137.6,520.4 L136.0,523.4 L132.7,522.5 L134.5,519.4ZM139.8,511.7 L138.6,513.8 L135.9,512.4 L137.2,510.3ZM136.6,517.2 L135.5,519.3 L132.4,518.1 L133.7,516.0ZM134.3,521.3 L133.3,523.0 L130.0,521.9 L131.1,520.2ZM137.7,511.0 L136.3,513.2 L133.7,511.8 L135.2,509.5ZM134.9,515.7 L132.6,519.4 L129.5,518.1 L132.0,514.3ZM133.1,514.0 L130.8,517.6 L127.9,516.2 L130.4,512.6ZM134.1,508.4 L132.7,510.5 L130.4,508.7 L131.8,506.7ZM131.2,512.7 L129.8,514.8 L127.3,512.8 L128.8,510.8ZM133.3,505.8 L131.8,507.9 L129.5,506.1 L131.1,504.0ZM129.1,511.7 L127.6,513.8 L125.1,511.8 L126.7,509.7ZM131.6,504.5 L130.0,506.7 L127.9,504.6 L129.6,502.6ZM127.0,510.6 L125.4,512.7 L123.1,510.5 L124.8,508.4ZM130.2,502.9 L128.6,504.8 L126.6,502.7 L128.3,500.8ZM125.9,508.2 L123.3,511.5 L121.0,509.2 L123.8,506.0ZM128.7,501.4 L127.0,503.4 L125.0,501.2 L126.8,499.2ZM123.8,507.2 L122.1,509.2 L120.0,506.8 L121.8,504.8ZM120.1,511.5 L118.4,513.6 L116.2,511.0 L118.0,509.0ZM127.4,499.7 L125.6,501.7 L123.7,499.4 L125.6,497.5ZM123.6,503.9 L120.6,507.3 L118.6,504.8 L121.7,501.5ZM118.6,509.5 L116.8,511.5 L114.7,508.9 L116.5,506.9ZM126.1,498.0 L123.1,501.2 L121.3,498.8 L124.4,495.7ZM122.4,501.9 L119.3,505.2 L117.4,502.6 L120.5,499.5ZM117.4,507.2 L115.6,509.2 L113.6,506.4 L115.4,504.6ZM123.8,497.3 L122.1,499.1 L120.3,496.7 L122.1,495.0ZM121.4,499.7 L118.5,502.6 L116.7,500.1 L119.7,497.2ZM122.4,495.7 L120.5,497.5 L118.9,495.0 L120.8,493.3ZM119.8,498.2 L117.9,500.0 L116.2,497.4 L118.2,495.7ZM113.4,504.4 L111.8,505.9 L110.0,503.0 L111.6,501.6ZM122.7,492.6 L119.6,495.4 L118.0,492.9 L121.2,490.3ZM119.0,495.9 L117.2,497.6 L115.5,495.0 L117.4,493.4ZM112.8,501.5 L111.3,502.9 L109.6,500.0 L111.2,498.7ZM121.6,490.8 L119.7,492.4 L118.2,490.0 L120.1,488.4ZM117.8,494.1 L115.9,495.7 L114.4,493.1 L116.3,491.5ZM111.5,499.5 L109.9,500.9 L108.3,498.0 L109.9,496.7ZM116.6,492.2 L114.7,493.8 L113.2,491.1 L115.2,489.6ZM110.0,497.6 L108.4,498.9 L106.9,496.0 L108.5,494.7ZM115.8,490.1 L113.8,491.6 L112.7,488.8 L114.6,487.4ZM111.3,490.7 L109.4,492.1 L108.9,488.7 L110.7,487.5ZM111.3,487.9 L109.5,489.2 L109.2,485.8 L110.9,484.7ZM118.1,480.8 L116.7,481.8 L115.7,479.2 L117.0,478.4ZM112.0,484.8 L109.2,486.7 L109.0,483.3 L111.6,481.7ZM117.3,479.0 L116.2,479.7 L115.1,477.2 L116.2,476.6ZM113.4,481.4 L111.0,482.9 L110.8,479.7 L112.9,478.5ZM110.0,483.5 L108.8,484.3 L109.0,480.8 L110.0,480.2ZM116.5,477.2 L115.4,477.9 L114.4,475.4 L115.5,474.8ZM112.9,479.3 L110.6,480.7 L110.3,477.6 L112.4,476.5ZM109.6,481.2 L108.5,481.9 L108.6,478.5 L109.7,477.9ZM115.8,475.4 L114.2,476.2 L113.2,473.8 L114.8,473.0ZM113.7,476.5 L111.2,477.9 L110.0,475.4 L112.6,474.1ZM110.6,478.2 L109.7,478.7 L108.5,476.1 L109.5,475.6ZM115.1,473.5 L113.4,474.4 L112.4,471.9 L114.2,471.1ZM112.8,474.7 L111.4,475.4 L110.4,472.9 L111.8,472.2ZM109.5,476.4 L108.5,476.9 L107.4,474.3 L108.4,473.8ZM114.4,471.7 L113.3,472.3 L112.4,469.8 L113.6,469.3ZM111.6,473.1 L109.3,474.2 L108.3,471.6 L110.7,470.6ZM108.4,474.6 L106.4,475.6 L105.3,472.9 L107.4,472.0ZM113.8,469.9 L112.7,470.4 L111.9,467.9 L113.0,467.4ZM111.2,471.0 L109.0,472.0 L108.1,469.4 L110.4,468.5ZM107.6,472.7 L106.4,473.2 L105.5,470.5 L106.6,470.0ZM113.3,468.0 L112.2,468.5 L111.4,466.0 L112.6,465.5ZM110.7,469.1 L108.5,470.0 L107.7,467.4 L109.9,466.5ZM107.0,470.6 L105.9,471.1 L105.0,468.4 L106.2,468.0ZM110.9,466.9 L108.7,467.7 L107.9,465.1 L110.1,464.4ZM106.4,468.6 L105.3,469.0 L104.5,466.3 L105.6,465.9ZM110.1,465.1 L107.6,465.9 L106.8,463.3 L109.3,462.6ZM105.1,466.9 L103.9,467.3 L103.0,464.6 L104.2,464.2ZM103.9,465.0 L102.6,465.5 L101.6,462.7 L102.9,462.4ZM105.4,462.4 L103.5,462.9 L102.7,460.2 L104.6,459.7ZM107.3,459.7 L105.8,460.1 L105.1,457.5 L106.6,457.1ZM105.1,460.3 L103.6,460.7 L102.8,458.0 L104.3,457.7ZM105.9,458.0 L104.1,458.4 L103.5,455.7 L105.2,455.4ZM103.0,458.7 L101.3,459.1 L100.6,456.3 L102.4,456.0ZM102.7,456.6 L101.0,457.0 L100.4,454.2 L102.1,453.9ZM103.0,454.4 L101.4,454.7 L100.8,451.9 L102.5,451.7ZM102.4,452.4 L99.0,453.0 L98.4,450.1 L101.9,449.7ZM104.9,450.0 L103.3,450.2 L102.9,447.5 L104.5,447.3ZM103.2,450.2 L100.2,450.6 L99.7,447.8 L102.8,447.5ZM104.6,448.0 L103.0,448.1 L102.6,445.4 L104.3,445.3ZM102.0,448.2 L99.9,448.5 L99.5,445.7 L101.6,445.5ZM105.4,445.9 L102.9,446.1 L102.7,443.4 L105.2,443.2ZM102.0,446.2 L100.4,446.3 L100.1,443.5 L101.7,443.4ZM106.1,443.9 L103.6,444.0 L103.4,441.3 L105.9,441.2ZM101.8,444.1 L100.2,444.2 L99.9,441.4 L101.6,441.3ZM105.8,441.9 L103.2,442.0 L103.1,439.3 L105.7,439.3ZM101.2,442.0 L99.5,442.1 L99.3,439.2 L101.1,439.3ZM107.6,439.9 L105.9,439.9 L105.8,437.3 L107.5,437.4ZM105.0,439.9 L103.3,439.9 L103.1,437.2 L104.8,437.3ZM101.4,439.9 L99.8,440.0 L99.5,437.1 L101.2,437.2ZM104.0,437.9 L102.1,437.9 L102.0,435.1 L103.9,435.2ZM101.8,437.9 L99.9,437.8 L99.8,435.0 L101.7,435.1ZM99.6,437.8 L97.7,437.8 L97.6,434.9 L99.5,435.0ZM104.0,435.9 L102.1,435.8 L102.1,433.0 L104.0,433.2ZM100.8,435.7 L98.9,435.7 L98.8,432.8 L100.7,432.9ZM103.9,433.9 L102.0,433.7 L102.0,431.0 L103.9,431.2ZM100.6,433.6 L98.7,433.5 L98.7,430.6 L100.6,430.8ZM101.2,431.6 L98.3,431.3 L98.4,428.4 L101.2,428.7ZM100.7,429.4 L97.7,429.0 L97.8,426.1 L100.8,426.5ZM100.2,427.2 L98.4,426.9 L98.5,423.9 L100.3,424.3ZM104.2,425.7 L102.3,425.4 L102.4,422.5 L104.3,423.0ZM105.3,423.8 L102.1,423.2 L102.1,420.3 L105.3,421.1ZM105.1,421.7 L101.9,421.0 L102.0,418.1 L105.2,418.9ZM100.2,420.6 L98.2,420.1 L98.3,417.1 L100.3,417.6ZM105.5,419.7 L102.6,419.0 L102.8,416.1 L105.7,416.9ZM101.2,418.6 L99.4,418.1 L99.6,415.1 L101.4,415.6ZM105.2,417.5 L103.2,416.9 L103.5,414.0 L105.5,414.7ZM100.3,416.1 L98.3,415.5 L98.6,412.4 L100.6,413.1ZM105.6,415.5 L103.7,414.9 L104.1,412.0 L105.9,412.7ZM101.1,414.0 L99.3,413.4 L99.6,410.4 L101.5,411.0ZM105.9,413.4 L104.0,412.7 L104.3,409.8 L106.2,410.5ZM101.6,411.9 L98.7,410.8 L98.7,407.6 L101.7,408.8ZM101.3,409.4 L98.2,408.2 L98.3,404.9 L101.5,406.3ZM102.2,407.4 L99.0,406.1 L99.3,402.8 L102.5,404.2ZM102.1,404.9 L98.7,403.4 L99.1,400.1 L102.5,401.7ZM104.3,403.4 L102.2,402.4 L102.8,399.3 L104.9,400.4ZM101.5,402.1 L99.3,401.1 L99.9,397.8 L102.0,398.9ZM104.5,401.0 L102.2,399.9 L103.1,396.9 L105.3,398.1ZM101.5,399.5 L99.3,398.4 L100.2,395.3 L102.4,396.5ZM104.9,390.6 L103.0,389.5 L104.3,386.4 L106.0,387.6ZM106.8,389.1 L104.0,387.1 L105.2,384.0 L107.9,386.0ZM111.5,389.6 L109.8,388.3 L110.8,385.2 L112.4,386.5ZM107.2,386.5 L104.4,384.5 L105.6,381.2 L108.3,383.3ZM111.9,387.1 L110.2,385.8 L111.3,382.7 L113.0,384.0ZM107.7,383.8 L105.9,382.5 L107.2,379.3 L108.9,380.7ZM105.5,382.2 L103.8,380.9 L105.2,377.6 L106.8,379.0ZM103.4,380.6 L102.0,379.5 L103.4,376.2 L104.7,377.3ZM105.6,379.1 L103.9,377.7 L105.4,374.5 L107.1,376.0ZM103.4,377.3 L101.9,376.1 L103.5,372.8 L104.9,374.0ZM110.1,379.6 L108.4,378.1 L110.7,375.8 L112.3,377.2ZM106.8,376.8 L105.1,375.3 L107.8,373.2 L109.4,374.6ZM104.6,374.9 L103.2,373.7 L106.2,371.7 L107.5,372.8ZM111.9,378.0 L110.4,376.6 L112.9,374.4 L114.2,375.7ZM116.3,368.4 L115.0,366.9 L117.3,364.3 L118.5,365.8ZM117.6,366.0 L116.3,364.5 L118.6,361.9 L119.9,363.5ZM121.5,366.7 L120.1,365.1 L122.6,362.8 L123.9,364.5ZM118.9,363.6 L117.6,362.0 L120.0,359.4 L121.4,361.2ZM123.2,364.9 L121.8,363.1 L124.2,360.8 L125.6,362.7ZM120.5,361.5 L119.2,359.7 L121.6,357.0 L122.9,358.9ZM125.0,363.2 L123.7,361.4 L126.2,359.1 L127.5,361.1ZM123.3,360.8 L121.9,359.0 L124.4,356.5 L125.8,358.5ZM127.9,353.7 L126.5,351.5 L129.2,349.0 L130.5,351.3ZM125.0,349.2 L123.9,347.3 L126.6,344.4 L127.7,346.4ZM130.8,353.5 L128.5,349.6 L130.7,345.9 L133.1,350.5ZM127.0,347.0 L125.9,345.1 L127.7,340.5 L129.0,342.8ZM132.6,351.4 L131.3,348.9 L134.9,348.1 L136.2,350.6ZM128.6,344.2 L127.4,342.0 L131.5,341.4 L132.6,343.5ZM131.0,342.5 L129.8,340.2 L134.3,340.6 L135.3,342.7ZM134.7,343.6 L133.7,341.5 L137.8,341.4 L138.7,343.4ZM141.0,350.9 L140.0,348.6 L143.2,347.3 L144.2,349.6ZM143.6,350.4 L142.6,348.1 L145.8,346.8 L146.7,349.1ZM149.4,351.6 L148.5,349.0 L151.7,348.0 L152.5,350.7ZM147.4,346.1 L146.5,343.6 L149.9,342.3 L150.7,345.0ZM151.8,351.2 L151.0,348.6 L154.2,347.7 L155.0,350.3ZM150.4,337.8 L149.6,335.4 L153.2,334.1 L153.9,336.6ZM156.6,349.9 L155.8,347.2 L159.0,346.3 L159.7,349.1ZM157.9,345.3 L157.2,342.5 L160.6,341.6 L161.2,344.5ZM156.0,337.3 L155.4,334.9 L159.0,333.7 L159.5,336.2ZM160.2,343.6 L159.5,340.6 L162.9,339.5 L163.5,342.7ZM158.2,334.6 L157.6,331.9 L161.3,330.4 L161.8,333.2ZM160.9,333.8 L160.4,331.1 L164.1,329.5 L164.5,332.4ZM164.3,337.2 L163.8,333.9 L167.4,332.7 L167.8,336.0ZM166.8,335.3 L166.4,332.1 L170.0,330.8 L170.4,334.1ZM170.2,340.9 L169.8,337.4 L173.3,336.6 L173.6,340.2ZM169.6,335.6 L169.2,332.1 L172.9,331.1 L173.2,334.7ZM172.7,340.0 L172.4,336.4 L176.0,335.7 L176.2,339.4ZM177.6,327.2 L177.5,323.8 L181.5,322.9 L181.5,326.4Z"/>
<path fill="#a8122a" d="M189.4,327.0 L189.6,323.6 L193.7,324.0 L193.3,327.5ZM191.9,331.0 L192.6,324.7 L196.6,324.9 L195.7,331.2ZM194.7,331.8 L195.5,325.6 L199.6,325.7 L198.5,332.0ZM197.8,330.4 L198.8,323.7 L203.0,323.9 L201.7,330.7ZM200.4,332.1 L201.6,325.8 L205.6,326.1 L204.3,332.5ZM203.4,332.0 L204.7,325.5 L208.7,326.3 L207.1,332.8ZM206.3,332.0 L207.3,328.0 L211.0,329.7 L209.9,333.5ZM265.5,393.2 L267.5,392.1 L269.1,395.2 L267.1,396.2ZM261.8,398.0 L265.3,396.2 L266.8,399.1 L263.2,400.8ZM262.7,400.2 L266.0,398.6 L267.4,401.6 L264.0,403.1ZM263.9,402.3 L267.4,400.7 L268.8,403.7 L265.2,405.1ZM264.8,404.5 L268.2,403.0 L269.6,406.0 L266.1,407.4ZM268.9,402.8 L270.9,401.9 L272.4,405.0 L270.2,405.8ZM266.0,406.6 L269.6,405.1 L270.8,408.2 L267.0,409.6ZM271.8,404.3 L274.0,403.4 L275.3,406.7 L273.0,407.5ZM266.9,408.8 L269.2,407.9 L270.4,411.0 L268.0,411.8ZM273.2,406.5 L275.5,405.7 L277.2,408.8 L274.8,409.6ZM266.0,411.6 L270.0,410.3 L271.2,413.3 L266.9,414.6ZM274.1,408.9 L276.5,408.1 L278.2,411.3 L275.7,412.0ZM266.6,413.8 L270.9,412.6 L272.0,415.6 L267.5,416.8ZM267.2,416.1 L271.6,414.9 L272.0,418.2 L267.6,419.2ZM267.6,418.4 L272.2,417.3 L272.2,420.6 L267.6,421.6ZM267.3,420.9 L271.6,419.9 L271.5,423.2 L267.2,424.0ZM274.3,419.3 L276.9,418.8 L276.9,422.3 L274.3,422.7ZM267.1,423.3 L271.6,422.4 L271.4,425.7 L266.9,426.4ZM272.7,422.2 L277.3,421.3 L277.0,424.8 L272.5,425.5ZM266.9,425.6 L271.6,424.8 L271.0,428.2 L266.5,428.7ZM272.7,424.7 L277.4,423.9 L276.6,427.4 L272.1,428.0ZM266.3,428.0 L270.7,427.4 L270.6,430.6 L266.6,431.0ZM271.6,427.3 L274.2,426.9 L273.8,430.3 L271.4,430.5ZM268.0,430.1 L270.3,429.8 L270.2,433.0 L268.1,433.1ZM271.0,429.7 L273.3,429.5 L272.6,432.8 L270.6,432.9ZM268.2,432.4 L270.3,432.2 L270.0,435.3 L268.2,435.4ZM268.2,434.6 L270.1,434.5 L270.5,437.6 L268.7,437.7ZM268.0,439.2 L269.6,439.2 L269.6,442.3 L267.9,442.3ZM269.7,439.2 L271.4,439.2 L271.4,442.4 L269.7,442.3ZM268.0,441.5 L269.8,441.5 L269.7,444.6 L267.9,444.5ZM269.9,441.5 L271.7,441.6 L271.7,444.7 L269.9,444.6ZM267.9,443.8 L269.8,443.9 L269.6,447.0 L267.7,446.8ZM270.0,443.9 L271.8,444.0 L271.7,447.1 L269.9,447.0ZM273.1,444.0 L274.9,444.1 L274.9,447.4 L273.1,447.3ZM269.0,446.1 L271.0,446.3 L270.8,449.4 L268.8,449.2ZM273.7,446.5 L275.7,446.6 L275.6,450.0 L273.6,449.7ZM268.7,448.4 L271.8,448.7 L271.5,451.9 L268.3,451.5ZM269.9,450.9 L272.0,451.2 L271.6,454.4 L269.5,454.0ZM271.7,456.0 L273.7,456.4 L273.1,459.6 L271.0,459.1ZM271.1,458.3 L273.1,458.8 L272.1,461.9 L270.1,461.4ZM270.4,460.6 L272.4,461.1 L271.3,464.2 L269.3,463.7ZM155.5,519.2 L155.0,520.9 L152.0,520.3 L152.7,518.5ZM153.2,519.1 L152.2,522.1 L149.2,521.3 L150.4,518.3ZM151.3,518.0 L150.6,519.8 L147.7,519.0 L148.5,517.2ZM150.2,521.0 L149.5,522.7 L146.4,522.0 L147.2,520.3ZM148.4,519.3 L147.6,521.3 L144.5,520.5 L145.4,518.6ZM147.4,521.7 L146.6,523.7 L143.4,523.0 L144.3,521.1ZM144.9,521.7 L144.0,523.7 L140.8,523.0 L141.8,520.9ZM144.4,517.2 L143.4,519.3 L140.4,518.4 L141.5,516.2ZM142.5,521.3 L140.8,524.8 L137.5,524.0 L139.3,520.5ZM140.1,520.8 L139.0,522.9 L135.8,522.0 L137.0,519.9ZM138.3,519.1 L137.2,521.1 L134.1,520.1 L135.2,518.1ZM135.9,518.6 L134.7,520.7 L131.6,519.5 L132.9,517.4ZM136.7,512.5 L135.4,514.8 L132.6,513.4 L134.1,511.1ZM131.2,517.0 L128.9,520.6 L125.8,519.2 L128.3,515.5ZM129.3,515.6 L126.9,519.1 L124.3,516.9 L126.8,513.5ZM125.9,516.2 L124.4,518.3 L121.8,516.0 L123.4,514.0ZM122.5,516.6 L121.1,518.4 L118.6,516.0 L120.0,514.2ZM129.1,504.2 L127.6,506.2 L125.5,504.0 L127.2,502.1ZM127.0,506.9 L125.4,508.8 L123.3,506.6 L124.9,504.7ZM123.8,510.9 L122.2,512.8 L119.9,510.5 L121.6,508.6ZM121.6,513.6 L120.3,515.2 L117.9,512.8 L119.3,511.2ZM118.9,513.0 L117.4,514.7 L115.2,512.1 L116.7,510.4ZM119.9,504.6 L118.1,506.5 L116.1,503.9 L118.0,502.1ZM122.6,498.5 L120.9,500.2 L119.1,497.8 L120.9,496.1ZM119.1,502.0 L116.2,505.0 L114.3,502.3 L117.3,499.5ZM120.3,491.9 L117.2,494.6 L115.7,492.0 L118.9,489.5ZM115.3,496.2 L113.4,497.9 L111.8,495.1 L113.7,493.6ZM112.7,495.4 L110.7,497.0 L109.2,494.2 L111.2,492.7ZM118.3,488.1 L115.1,490.6 L114.0,487.9 L117.1,485.6ZM114.5,491.1 L112.6,492.6 L111.4,489.7 L113.3,488.3ZM117.5,486.1 L115.6,487.5 L114.7,484.8 L116.5,483.5ZM113.8,488.9 L111.9,490.3 L111.2,487.1 L113.0,485.9ZM115.8,484.8 L114.0,486.1 L113.3,483.2 L115.0,482.1ZM113.6,486.4 L111.8,487.6 L111.2,484.5 L112.9,483.4ZM115.2,482.7 L112.4,484.6 L111.9,481.6 L114.5,480.0ZM115.1,480.4 L112.7,481.8 L112.2,478.9 L114.4,477.7ZM110.5,480.7 L109.0,481.6 L109.0,478.3 L110.4,477.6ZM109.0,472.0 L107.6,472.7 L106.6,470.0 L108.1,469.4ZM108.5,470.0 L107.0,470.6 L106.2,467.9 L107.7,467.4ZM107.9,468.0 L106.5,468.6 L105.6,465.9 L107.1,465.4ZM106.7,466.3 L105.2,466.8 L104.3,464.2 L105.9,463.6ZM105.7,464.4 L104.0,465.0 L103.1,462.3 L104.8,461.8ZM109.5,459.1 L108.0,459.5 L107.4,456.9 L108.9,456.6ZM106.6,459.9 L105.0,460.3 L104.3,457.7 L105.9,457.3ZM108.7,457.3 L107.0,457.7 L106.4,455.1 L108.1,454.8ZM104.9,458.2 L103.2,458.6 L102.5,455.9 L104.3,455.6ZM104.6,456.2 L102.9,456.6 L102.3,453.8 L104.0,453.5ZM103.7,446.0 L102.1,446.2 L101.8,443.4 L103.5,443.3ZM103.5,444.0 L101.9,444.1 L101.6,441.3 L103.3,441.3ZM101.0,444.1 L99.7,444.2 L99.4,441.4 L100.7,441.4ZM100.3,442.1 L99.0,442.1 L98.8,439.2 L100.1,439.2ZM100.6,440.0 L99.3,440.0 L99.0,437.1 L100.3,437.1ZM98.5,437.8 L97.1,437.8 L96.9,434.8 L98.4,434.9ZM105.1,436.0 L103.2,435.9 L103.2,433.1 L105.1,433.3ZM105.0,434.0 L103.1,433.8 L103.1,431.1 L105.0,431.3ZM106.2,432.1 L104.4,431.9 L104.6,429.2 L106.4,429.4ZM103.2,431.8 L100.4,431.5 L100.4,428.6 L103.3,429.0ZM106.2,430.1 L104.3,429.8 L104.5,427.1 L106.4,427.4ZM102.9,429.7 L99.9,429.3 L100.0,426.4 L103.0,426.9ZM98.5,429.1 L97.0,428.9 L97.1,425.9 L98.6,426.2ZM106.4,428.1 L104.6,427.8 L104.8,425.1 L106.7,425.5ZM103.3,427.6 L100.4,427.2 L100.6,424.3 L103.5,424.9ZM102.0,425.3 L100.1,425.0 L100.1,422.0 L102.0,422.4ZM102.9,423.4 L99.7,422.7 L99.7,419.7 L102.9,420.5ZM99.0,420.3 L97.0,419.8 L97.1,416.7 L99.1,417.3ZM100.2,418.3 L98.3,417.8 L98.5,414.8 L100.3,415.3ZM106.9,413.7 L105.1,413.1 L105.4,410.2 L107.3,410.9ZM103.7,389.9 L101.9,388.7 L103.2,385.6 L104.9,386.8ZM102.4,386.1 L101.0,385.1 L102.5,382.0 L103.8,383.0ZM104.0,384.2 L102.3,382.9 L103.6,379.7 L105.2,380.9ZM107.9,380.9 L106.1,379.5 L107.7,376.4 L109.4,377.9ZM110.1,376.3 L108.6,375.0 L111.4,373.0 L112.7,374.3ZM114.2,373.4 L113.0,372.2 L114.4,368.8 L115.7,370.2ZM114.8,366.7 L113.5,365.3 L115.8,362.6 L117.1,364.1ZM118.4,366.9 L117.1,365.4 L119.4,362.9 L120.7,364.5ZM119.6,360.4 L118.3,358.6 L120.7,355.8 L122.0,357.7ZM117.9,358.1 L116.8,356.6 L119.1,353.6 L120.2,355.2ZM124.1,362.0 L122.8,360.2 L125.3,357.8 L126.6,359.8ZM121.5,358.4 L120.1,356.6 L122.7,353.9 L124.0,355.9ZM123.9,357.3 L121.2,353.5 L123.8,350.7 L126.5,354.8ZM127.8,358.4 L126.4,356.3 L129.1,354.1 L130.5,356.3ZM124.1,352.8 L122.7,350.7 L125.4,348.0 L126.8,350.2ZM126.9,352.2 L125.6,350.0 L128.3,347.3 L129.6,349.7ZM128.9,350.3 L127.6,348.0 L129.6,344.0 L131.0,346.6ZM136.0,352.1 L134.6,349.5 L138.3,349.2 L139.5,351.7ZM138.9,352.3 L137.7,349.8 L141.3,349.3 L142.3,351.7ZM139.6,347.8 L137.9,344.0 L141.2,342.4 L142.9,346.4ZM141.0,344.2 L140.2,342.3 L143.5,340.7 L144.3,342.7ZM145.5,340.7 L144.7,338.5 L148.1,337.0 L148.9,339.2ZM150.6,347.5 L149.8,344.9 L153.1,343.9 L153.9,346.5ZM148.8,342.1 L148.0,339.5 L151.4,338.2 L152.2,340.8ZM152.8,346.0 L152.0,343.2 L155.3,342.1 L156.1,345.0ZM154.4,342.1 L153.7,339.4 L157.1,338.2 L157.8,341.0ZM156.5,339.3 L155.8,336.5 L159.3,335.4 L159.9,338.3ZM159.7,341.4 L159.0,338.3 L162.5,337.2 L163.0,340.3ZM161.8,338.5 L160.8,333.0 L164.4,331.6 L165.2,337.3ZM163.9,334.7 L163.0,329.4 L166.8,327.9 L167.5,333.4ZM167.1,337.6 L166.7,334.5 L170.3,333.3 L170.6,336.6ZM166.5,332.9 L166.1,330.1 L169.8,328.8 L170.1,331.6ZM169.0,330.3 L168.7,327.3 L172.6,326.1 L172.8,329.2ZM171.8,328.9 L171.5,325.7 L175.5,324.6 L175.6,327.9ZM174.7,328.5 L174.5,325.3 L178.5,324.3 L178.6,327.6Z"/>
<path fill="#2a6fb0" d="M205.6,335.1 L206.5,331.2 L210.1,332.8 L209.1,336.6ZM211.9,351.1 L213.2,347.4 L216.4,348.6 L215.0,352.2ZM214.3,351.8 L215.6,348.2 L218.8,349.4 L217.3,353.0ZM217.6,343.1 L219.0,339.4 L222.5,340.7 L221.0,344.3ZM216.4,353.1 L217.8,349.7 L220.9,351.0 L219.4,354.4ZM218.8,353.6 L220.4,350.0 L223.5,351.4 L221.8,355.0ZM224.2,354.0 L226.6,349.1 L229.1,351.9 L226.7,356.4ZM226.2,355.6 L229.7,348.9 L232.2,351.8 L228.6,358.0ZM227.7,358.0 L229.1,355.5 L232.0,357.2 L230.5,359.6ZM229.7,354.4 L231.1,352.0 L234.2,353.6 L232.7,356.1ZM230.2,358.6 L231.7,356.0 L234.7,357.7 L233.0,360.3ZM234.1,361.6 L237.0,357.4 L239.8,359.4 L236.8,363.5ZM240.6,365.4 L242.5,363.0 L244.9,365.4 L242.7,368.0ZM237.0,373.4 L239.2,370.9 L240.6,374.0 L238.2,376.6ZM241.5,371.8 L244.0,369.0 L246.7,371.0 L244.2,373.6ZM245.4,367.5 L247.8,364.7 L250.5,367.0 L248.0,369.6ZM243.0,373.7 L245.3,371.2 L247.4,373.8 L245.2,376.0ZM246.5,369.9 L248.8,367.5 L250.7,370.5 L248.5,372.7ZM244.8,375.3 L250.4,369.6 L252.3,372.5 L246.9,377.6ZM248.2,375.3 L250.4,373.2 L252.6,375.7 L250.4,377.6ZM250.3,376.7 L252.5,374.6 L254.7,377.2 L252.4,379.1ZM252.9,380.8 L255.0,379.1 L257.2,381.7 L255.1,383.3ZM255.0,382.3 L257.1,380.7 L259.2,383.3 L257.1,384.8ZM255.0,385.3 L257.1,383.8 L259.3,386.3 L257.2,387.7ZM255.5,390.7 L257.6,389.4 L259.7,391.8 L257.7,393.1ZM262.1,392.3 L264.2,391.1 L266.1,393.9 L264.0,395.0ZM276.0,454.2 L278.1,454.5 L277.9,458.0 L275.7,457.6ZM275.5,456.7 L277.6,457.1 L277.0,460.4 L274.9,460.0ZM274.9,459.1 L277.0,459.6 L275.8,462.8 L273.8,462.3ZM274.2,461.5 L276.2,462.0 L275.0,465.2 L273.0,464.7ZM272.4,463.7 L274.5,464.2 L273.3,467.4 L271.2,466.8ZM263.7,463.7 L265.6,464.3 L264.5,467.1 L262.6,466.5ZM270.6,465.7 L272.6,466.3 L271.2,469.3 L269.3,468.7ZM264.8,468.9 L266.6,469.5 L265.2,472.3 L263.5,471.7ZM262.8,478.2 L264.5,479.0 L262.6,481.6 L261.1,480.8ZM252.9,485.9 L254.3,486.7 L252.3,489.1 L251.0,488.1ZM256.9,491.3 L258.1,492.1 L256.2,494.7 L255.0,493.9ZM251.9,490.7 L253.3,491.6 L251.3,494.0 L250.0,493.0ZM254.2,495.3 L255.4,496.2 L253.3,498.7 L252.2,497.7ZM251.2,496.0 L252.3,496.8 L250.1,499.1 L249.1,498.3ZM244.0,495.8 L245.3,497.0 L243.1,499.1 L241.9,497.9ZM242.6,497.5 L243.9,498.8 L241.7,500.8 L240.4,499.5ZM238.3,499.5 L239.4,500.6 L237.2,502.5 L236.1,501.3ZM236.9,501.1 L238.1,502.4 L235.7,504.3 L234.6,502.9ZM235.1,502.3 L236.2,503.7 L233.9,505.5 L232.7,504.1ZM233.2,503.5 L234.3,504.8 L231.9,506.5 L230.9,505.2ZM231.5,504.9 L232.6,506.3 L230.2,507.9 L229.1,506.5ZM224.5,514.2 L225.6,516.0 L223.2,518.1 L222.1,516.1ZM201.9,516.4 L202.4,518.2 L199.6,518.7 L199.2,516.9ZM201.3,522.6 L201.8,524.6 L198.7,524.8 L198.3,522.9ZM199.1,522.7 L199.5,524.7 L196.4,524.8 L196.1,522.9ZM192.3,522.7 L192.6,524.5 L189.5,524.4 L189.4,522.7ZM120.5,489.0 L118.6,490.6 L117.2,488.1 L119.2,486.6ZM119.6,487.1 L117.7,488.6 L116.5,486.1 L118.4,484.7ZM119.7,484.5 L116.9,486.6 L115.8,484.0 L118.5,482.2ZM118.9,482.7 L116.3,484.5 L115.3,481.8 L117.7,480.3ZM117.4,481.3 L115.6,482.5 L114.7,479.8 L116.4,478.8ZM116.8,479.3 L115.3,480.3 L114.4,477.7 L115.8,476.8ZM116.1,477.5 L114.6,478.3 L113.8,475.7 L115.1,475.0ZM112.8,466.1 L111.7,466.6 L110.8,464.1 L112.0,463.7Z"/>
</g>
<path d="M181.0,353.4 L194.1,355.1 L207.3,359.0 L217.8,363.0 L227.0,369.5 L234.9,374.8 L233.6,380.0 L240.1,382.7 L248.5,388.8 L258.3,397.5 L263.6,408.0 L266.2,418.5 L264.9,429.0 L267.5,439.6 L266.8,448.7 L264.9,457.9 L260.9,468.4 L255.7,479.6 L246.7,489.3 L237.5,498.5 L228.3,505.1 L217.8,510.3 L207.3,514.3 L194.1,516.9 L181.0,518.0 L176.4,518.4 L164.6,517.1 L152.8,514.5 L140.9,509.2 L131.7,502.7 L123.8,492.2 L117.3,479.0 L112.7,465.9 L109.4,452.7 L108.1,439.6 L108.5,424.6 L109.4,409.6 L110.7,401.1 L112.0,393.2 L113.3,385.3 L117.3,377.4 L123.8,369.5 L130.4,364.3 L137.0,360.3 L146.2,357.7 L156.7,355.7 L169.8,353.8 Z" fill="#b3b3b3"/>
<path d="M181.0,376.8 L183.0,377.8 L185.1,378.3 L187.3,379.0 L189.7,378.9 L192.1,379.1 L194.4,378.3 L195.8,379.5 L197.4,379.5 L199.1,379.5 L200.3,381.1 L202.7,380.7 L203.8,382.4 L205.4,383.1 L206.5,384.6 L208.4,384.7 L210.8,385.0 L213.1,384.7 L214.8,385.0 L216.1,383.2 L217.8,383.5 L218.9,386.5 L220.1,388.5 L221.3,390.5 L222.9,389.5 L224.8,389.4 L226.3,389.8 L227.9,390.3 L229.5,390.5 L231.4,390.3 L232.8,391.2 L234.1,392.3 L236.5,392.2 L238.8,392.9 L240.4,393.9 L242.3,393.5 L243.5,395.8 L242.4,397.4 L242.3,399.3 L243.5,400.9 L243.5,402.8 L243.5,404.7 L244.6,406.3 L245.8,407.8 L245.8,409.8 L245.9,412.2 L246.4,414.5 L244.6,416.0 L242.3,416.2 L240.5,417.3 L238.4,415.9 L236.5,416.8 L234.7,417.9 L232.7,418.5 L230.6,418.6 L232.8,419.8 L235.3,419.2 L237.2,420.0 L239.2,419.2 L241.1,419.7 L242.7,420.8 L244.6,420.3 L243.5,422.7 L244.6,423.9 L245.6,425.3 L247.0,426.2 L248.5,427.0 L248.8,429.1 L250.5,429.7 L252.1,431.1 L254.0,432.0 L254.1,434.1 L255.7,435.5 L255.3,437.7 L256.3,439.6 L256.3,441.3 L255.7,442.8 L255.1,444.3 L256.1,446.1 L256.5,448.0 L256.3,450.1 L256.5,452.3 L255.5,454.1 L254.6,456.0 L253.7,457.4 L253.9,459.3 L252.1,460.2 L251.6,461.8 L251.1,463.5 L250.4,465.1 L249.3,466.5 L247.7,467.7 L247.0,469.6 L245.8,471.1 L245.3,473.2 L244.3,475.0 L243.5,477.0 L242.4,478.4 L242.6,480.4 L241.1,481.6 L239.5,482.6 L240.1,485.0 L238.1,485.8 L237.6,487.5 L235.9,488.9 L235.3,491.0 L234.3,492.9 L231.9,492.9 L230.6,494.5 L228.8,495.5 L226.7,495.9 L224.8,496.8 L223.0,498.1 L221.0,498.4 L218.9,498.0 L217.1,499.1 L214.8,498.3 L213.1,499.7 L211.2,500.4 L209.2,499.6 L207.3,500.3 L205.5,499.0 L203.6,498.4 L201.4,498.6 L199.4,498.3 L197.5,497.6 L195.6,496.8 L193.9,496.2 L192.1,495.7 L192.3,493.3 L191.5,491.0 L193.2,488.7 L193.1,486.7 L194.4,485.1 L195.1,483.4 L195.0,481.6 L194.9,479.7 L193.8,478.1 L193.5,476.1 L192.1,474.6 L190.2,475.8 L187.9,474.5 L186.0,475.6 L184.2,476.0 L182.6,475.2 L181.0,474.6 L179.1,473.7 L177.2,472.6 L175.0,472.6 L173.4,472.5 L172.0,471.2 L170.3,471.6 L168.5,472.5 L166.8,473.5 L165.9,474.9 L164.5,475.8 L162.8,475.5 L161.2,475.2 L159.8,474.1 L158.4,475.2 L156.8,475.4 L155.1,475.2 L152.9,474.3 L150.5,474.1 L149.4,472.6 L147.3,473.1 L145.7,472.6 L144.6,471.1 L143.6,469.2 L141.6,468.7 L140.0,467.6 L139.0,466.1 L138.0,464.8 L137.6,463.0 L137.0,461.0 L136.6,458.9 L135.3,457.1 L135.6,455.5 L135.9,453.9 L136.4,452.4 L135.1,450.3 L135.3,447.8 L133.3,447.6 L131.8,448.9 L130.6,450.4 L128.7,450.5 L127.1,451.3 L126.1,449.2 L124.2,447.8 L123.8,445.9 L124.8,444.3 L125.6,442.8 L126.3,441.4 L125.9,439.6 L126.5,437.2 L127.2,435.8 L128.0,434.3 L127.4,432.4 L128.6,431.1 L128.8,429.4 L128.6,427.6 L129.6,426.0 L129.6,424.1 L128.5,422.6 L126.7,422.6 L125.0,421.8 L123.2,422.4 L121.4,422.9 L120.5,420.8 L118.4,420.1 L119.4,418.4 L119.9,416.7 L119.4,414.7 L117.7,413.8 L116.0,412.7 L114.3,411.7 L113.5,410.2 L112.1,409.3 L111.0,408.1 L109.7,406.8 L109.0,405.1 L108.2,403.5 L107.0,401.7 L106.9,399.6 L106.5,397.6 L106.9,395.2 L105.5,393.1 L106.5,395.0 L108.5,395.6 L110.2,397.4 L111.3,398.6 L112.7,399.5 L114.0,400.6 L115.4,401.5 L117.0,402.3 L117.7,404.0 L119.7,404.8 L121.3,406.3 L122.8,407.9 L124.8,408.7 L126.0,410.1 L128.0,410.0 L129.4,411.0 L131.0,412.1 L132.9,412.2 L134.4,413.8 L136.4,414.5 L137.7,415.9 L139.4,416.8 L141.1,414.5 L143.4,413.9 L145.7,414.5 L148.1,414.5 L149.8,414.6 L151.2,413.5 L152.8,413.3 L154.8,412.5 L156.3,411.0 L157.9,410.0 L159.8,409.8 L158.6,407.5 L159.2,405.1 L159.5,402.8 L159.8,400.5 L160.0,398.7 L159.2,397.0 L160.4,395.4 L161.0,393.5 L161.9,392.1 L163.9,391.7 L164.5,390.0 L165.9,388.4 L166.8,386.5 L168.1,385.0 L168.4,382.8 L170.3,381.8 L172.1,380.7 L173.8,379.5 L175.4,378.5 L177.3,378.3 L179.3,377.8 Z" fill="#fff" stroke="#4f87ae" stroke-width="1.5" stroke-linejoin="round"/>
<path d="M139.4,416.8 L141.1,414.5 L143.4,413.9 L145.7,414.7 L148.1,414.5 L149.8,414.6 L151.2,413.7 L152.8,413.3 L154.3,411.8 L156.3,411.0 L157.8,409.6 L159.8,409.8 L161.4,411.0 L163.3,411.6 L165.0,412.6 L164.7,414.4 L165.4,416.1 L164.9,417.9 L165.4,419.6 L165.1,421.2 L163.8,422.4 L163.3,424.0 L163.0,425.6 L161.6,426.7 L160.0,427.5 L158.3,428.4 L157.0,429.6 L155.8,431.0 L154.0,431.5 L152.2,432.2 L151.0,433.6 L149.3,434.3 L147.4,433.8 L145.7,434.3 L144.0,434.9 L143.1,433.1 L141.1,432.2 L140.0,430.6 L139.1,428.9 L140.0,427.0 L139.7,425.3 L139.0,423.6 L139.0,421.9 L138.6,420.2 L138.8,418.5 Z" fill="#eef6fb" stroke="#5b8db2" stroke-width="1.1"/>
<path d="M193.2,477.2 L191.4,477.5 L189.6,477.8 L187.7,477.0 L185.9,477.2 L183.8,477.4 L182.0,476.1 L180.0,475.7 L178.0,475.4 L176.0,475.5 L174.2,474.3 L172.0,473.5 L169.8,472.8 L167.9,473.2 L166.2,472.1 L164.0,471.4 L163.2,468.4 L164.2,466.9 L165.4,465.5 L166.0,463.6 L167.6,462.6 L168.0,460.8 L169.4,459.6 L170.5,458.2 L172.0,456.7 L172.7,454.6 L173.5,452.4 L175.7,453.8 L176.9,455.0 L177.1,456.8 L178.7,457.1 L180.0,458.2 L181.4,459.1 L182.9,459.7 L184.1,461.0 L185.9,461.1 L187.3,462.0 L188.8,462.6 L189.7,464.0 L190.3,465.5 L190.0,467.6 L191.9,469.3 L191.7,471.4 L191.6,473.5 L193.0,475.2 Z" fill="#eef6fb" stroke="#5b8db2" stroke-width="1.1"/>
<line x1="181.00" y1="408.42" x2="181.00" y2="309.80" stroke="#000" stroke-width="0.6"/>
<line x1="181.0" y1="408.4" x2="181.0" y2="405.4" stroke="#111" stroke-width="1.6"/>
<line x1="181.0" y1="309.8" x2="181.0" y2="312.3" stroke="#111" stroke-width="1.6"/>
<line x1="196.59" y1="412.60" x2="245.90" y2="327.19" stroke="#000" stroke-width="0.6"/>
<line x1="196.6" y1="412.6" x2="198.1" y2="410.0" stroke="#111" stroke-width="1.6"/>
<line x1="245.9" y1="327.2" x2="244.7" y2="329.4" stroke="#111" stroke-width="1.6"/>
<line x1="208.00" y1="424.01" x2="293.41" y2="374.70" stroke="#000" stroke-width="0.6"/>
<line x1="208.0" y1="424.0" x2="210.6" y2="422.5" stroke="#111" stroke-width="1.6"/>
<line x1="293.4" y1="374.7" x2="291.2" y2="375.9" stroke="#111" stroke-width="1.6"/>
<line x1="212.18" y1="439.60" x2="310.80" y2="439.60" stroke="#000" stroke-width="0.6"/>
<line x1="212.2" y1="439.6" x2="215.2" y2="439.6" stroke="#111" stroke-width="1.6"/>
<line x1="310.8" y1="439.6" x2="308.3" y2="439.6" stroke="#111" stroke-width="1.6"/>
<line x1="208.00" y1="455.19" x2="293.41" y2="504.50" stroke="#000" stroke-width="0.6"/>
<line x1="208.0" y1="455.2" x2="210.6" y2="456.7" stroke="#111" stroke-width="1.6"/>
<line x1="293.4" y1="504.5" x2="291.2" y2="503.2" stroke="#111" stroke-width="1.6"/>
<line x1="196.59" y1="466.60" x2="245.90" y2="552.01" stroke="#000" stroke-width="0.6"/>
<line x1="196.6" y1="466.6" x2="198.1" y2="469.2" stroke="#111" stroke-width="1.6"/>
<line x1="245.9" y1="552.0" x2="244.7" y2="549.8" stroke="#111" stroke-width="1.6"/>
<line x1="181.00" y1="470.78" x2="181.00" y2="569.40" stroke="#000" stroke-width="0.6"/>
<line x1="181.0" y1="470.8" x2="181.0" y2="473.8" stroke="#111" stroke-width="1.6"/>
<line x1="181.0" y1="569.4" x2="181.0" y2="566.9" stroke="#111" stroke-width="1.6"/>
<line x1="165.41" y1="466.60" x2="116.10" y2="552.01" stroke="#000" stroke-width="0.6"/>
<line x1="165.4" y1="466.6" x2="163.9" y2="469.2" stroke="#111" stroke-width="1.6"/>
<line x1="116.1" y1="552.0" x2="117.3" y2="549.8" stroke="#111" stroke-width="1.6"/>
<line x1="154.00" y1="455.19" x2="68.59" y2="504.50" stroke="#000" stroke-width="0.6"/>
<line x1="154.0" y1="455.2" x2="151.4" y2="456.7" stroke="#111" stroke-width="1.6"/>
<line x1="68.6" y1="504.5" x2="70.8" y2="503.3" stroke="#111" stroke-width="1.6"/>
<line x1="149.82" y1="439.60" x2="51.20" y2="439.60" stroke="#000" stroke-width="0.6"/>
<line x1="149.8" y1="439.6" x2="146.8" y2="439.6" stroke="#111" stroke-width="1.6"/>
<line x1="51.2" y1="439.6" x2="53.7" y2="439.6" stroke="#111" stroke-width="1.6"/>
<line x1="154.00" y1="424.01" x2="68.59" y2="374.70" stroke="#000" stroke-width="0.6"/>
<line x1="154.0" y1="424.0" x2="151.4" y2="422.5" stroke="#111" stroke-width="1.6"/>
<line x1="68.6" y1="374.7" x2="70.8" y2="375.9" stroke="#111" stroke-width="1.6"/>
<line x1="165.41" y1="412.60" x2="116.10" y2="327.19" stroke="#000" stroke-width="0.6"/>
<line x1="165.4" y1="412.6" x2="163.9" y2="410.0" stroke="#111" stroke-width="1.6"/>
<line x1="116.1" y1="327.2" x2="117.3" y2="329.4" stroke="#111" stroke-width="1.6"/>
<circle cx="181.0" cy="439.6" r="95.5" fill="none" stroke="#111" stroke-width="0.7"/>
<circle cx="181.0" cy="439.6" r="31.2" fill="none" stroke="#111" stroke-width="0.7"/>
<circle cx="181.0" cy="439.6" r="129.8" fill="none" stroke="#111" stroke-width="1.6"/>
<line x1="177.5" y1="470.8" x2="181.0" y2="470.8" stroke="#111" stroke-width="1.4"/>
<text x="186.5" y="475.8" font-size="13.5" fill="#111">80°S</text>
<line x1="176.5" y1="535.1" x2="181.0" y2="535.1" stroke="#111" stroke-width="1.4"/>
<text x="183.0" y="540.3" font-size="13.5" fill="#111">60°S</text>
<text x="181.0" y="301.4" font-size="13.5" fill="#111" text-anchor="middle" dominant-baseline="central" transform="rotate(0 181.0 301.4)">0°</text>
<text x="250.1" y="319.9" font-size="13.5" fill="#111" text-anchor="middle" dominant-baseline="central" transform="rotate(30 250.1 319.9)">30°E</text>
<text x="300.7" y="370.5" font-size="13.5" fill="#111" text-anchor="middle" dominant-baseline="central" transform="rotate(60 300.7 370.5)">60°E</text>
<text x="319.2" y="439.6" font-size="13.5" fill="#111" text-anchor="middle" dominant-baseline="central" transform="rotate(90 319.2 439.6)">90°E</text>
<text x="300.7" y="508.7" font-size="13.5" fill="#111" text-anchor="middle" dominant-baseline="central" transform="rotate(-60 300.7 508.7)">120°E</text>
<text x="250.1" y="559.3" font-size="13.5" fill="#111" text-anchor="middle" dominant-baseline="central" transform="rotate(-30 250.1 559.3)">150°E</text>
<text x="181.0" y="577.8" font-size="13.5" fill="#111" text-anchor="middle" dominant-baseline="central" transform="rotate(0 181.0 577.8)">180°</text>
<text x="111.9" y="559.3" font-size="13.5" fill="#111" text-anchor="middle" dominant-baseline="central" transform="rotate(30 111.9 559.3)">150°W</text>
<text x="61.3" y="508.7" font-size="13.5" fill="#111" text-anchor="middle" dominant-baseline="central" transform="rotate(60 61.3 508.7)">120°W</text>
<text x="42.8" y="439.6" font-size="13.5" fill="#111" text-anchor="middle" dominant-baseline="central" transform="rotate(-90 42.8 439.6)">90°W</text>
<text x="61.3" y="370.5" font-size="13.5" fill="#111" text-anchor="middle" dominant-baseline="central" transform="rotate(-60 61.3 370.5)">60°W</text>
<text x="111.9" y="319.9" font-size="13.5" fill="#111" text-anchor="middle" dominant-baseline="central" transform="rotate(-30 111.9 319.9)">30°W</text>
<text x="53.1" y="346.8" font-size="22.5" fill="#111">(c)</text>
<circle cx="441.6" cy="439.6" r="129.8" fill="#fff"/>
<path fill="#f4a582" d="M357.8,412.8 L357.3,412.6 L357.9,410.7 L358.4,410.9ZM357.9,412.8 L357.1,412.5 L357.5,410.6 L358.4,410.9ZM357.8,411.5 L357.3,411.3 L357.6,409.3 L358.2,409.5ZM358.5,410.4 L357.6,410.1 L357.9,408.1 L358.9,408.4ZM358.4,409.1 L357.4,408.7 L357.6,406.6 L358.7,407.0ZM359.0,408.0 L358.0,407.6 L358.3,405.5 L359.4,406.0ZM358.0,403.5 L356.9,403.0 L357.2,400.9 L358.4,401.4ZM359.7,402.9 L358.8,402.5 L359.3,400.4 L360.2,400.9ZM359.9,394.4 L358.6,393.7 L359.4,391.7 L360.7,392.4ZM361.4,393.8 L360.2,393.1 L361.0,391.1 L362.3,391.8ZM359.1,392.5 L358.2,391.9 L359.0,389.9 L359.9,390.4ZM361.3,392.2 L360.0,391.4 L360.9,389.4 L362.1,390.2ZM360.8,387.3 L359.9,386.7 L360.9,384.6 L361.8,385.3ZM364.5,386.5 L363.6,385.9 L364.6,384.0 L365.5,384.6ZM364.2,384.7 L362.9,383.8 L364.0,381.8 L365.2,382.8ZM362.4,383.4 L361.4,382.7 L362.5,380.7 L363.4,381.4ZM364.7,383.4 L363.5,382.5 L364.5,380.5 L365.7,381.5ZM365.2,382.2 L364.0,381.2 L365.0,379.2 L366.3,380.2ZM365.8,380.9 L364.5,379.9 L365.6,377.9 L366.9,379.0ZM370.3,372.3 L369.6,371.6 L371.6,370.5 L372.2,371.0ZM374.9,369.2 L373.8,368.0 L375.2,366.2 L376.3,367.5ZM378.9,365.5 L378.0,364.4 L379.6,362.9 L380.5,364.0ZM377.8,364.3 L376.7,362.9 L378.3,361.3 L379.5,362.7ZM377.5,361.7 L376.4,360.3 L378.0,358.7 L379.2,360.1ZM383.6,358.2 L382.4,356.5 L384.2,355.0 L385.4,356.8ZM386.0,359.2 L385.0,357.7 L386.8,356.4 L387.8,357.9ZM393.8,347.5 L392.4,344.8 L394.9,344.5 L396.2,347.1ZM396.1,345.8 L395.0,343.4 L397.6,343.3 L398.6,345.5ZM397.8,345.9 L396.8,343.7 L399.2,343.2 L400.1,345.3ZM399.3,345.7 L398.3,343.5 L400.5,342.5 L401.4,344.7ZM405.6,346.0 L404.7,343.7 L406.8,342.8 L407.7,345.0ZM404.4,343.0 L403.6,340.8 L405.8,339.8 L406.6,342.0ZM407.0,341.7 L406.2,339.4 L408.5,338.5 L409.2,340.8ZM409.4,344.1 L408.6,341.9 L410.8,341.0 L411.5,343.3ZM411.2,345.1 L410.4,342.8 L412.6,341.9 L413.2,344.2ZM410.2,342.0 L409.4,339.7 L411.6,338.8 L412.3,341.1ZM411.9,342.9 L411.2,340.6 L413.4,339.7 L414.1,342.0ZM413.7,343.8 L413.0,341.5 L415.2,340.7 L415.8,343.0ZM416.4,337.5 L415.9,335.2 L418.2,334.5 L418.7,336.8ZM419.2,336.5 L418.7,334.2 L421.1,333.5 L421.5,335.7ZM421.7,341.6 L421.4,339.7 L423.6,338.9 L423.9,340.9ZM421.2,338.9 L420.7,336.6 L423.0,335.8 L423.4,338.2ZM423.1,341.0 L422.4,337.6 L424.7,336.8 L425.3,340.4ZM424.2,339.4 L423.8,337.0 L426.1,336.3 L426.4,338.7ZM425.6,338.8 L425.2,336.4 L427.5,335.7 L427.8,338.2ZM427.1,339.6 L426.6,335.9 L428.9,335.2 L429.3,339.0ZM428.3,337.8 L428.0,335.3 L430.3,334.7 L430.6,337.2ZM427.4,330.9 L427.1,328.8 L429.6,328.0 L429.8,330.2ZM429.5,335.6 L429.2,333.0 L431.6,332.4 L431.8,335.0ZM431.1,336.8 L430.8,334.2 L433.2,333.7 L433.4,336.3ZM432.3,334.6 L432.1,331.9 L434.5,331.4 L434.7,334.0ZM434.0,337.4 L433.7,333.3 L436.1,332.8 L436.3,336.9ZM435.4,337.0 L435.3,334.7 L437.6,334.3 L437.7,336.6ZM436.8,335.1 L436.6,332.4 L439.1,332.0 L439.1,334.7ZM436.6,331.3 L436.5,328.6 L439.0,328.2 L439.0,330.9ZM436.4,327.5 L436.3,325.2 L438.9,324.7 L438.9,327.0ZM439.6,330.5 L439.5,327.7 L442.1,327.3 L442.1,330.1ZM442.7,330.1 L442.7,323.8 L445.3,323.9 L445.1,330.2ZM444.1,332.2 L444.2,329.4 L446.7,329.5 L446.6,332.3ZM445.6,334.2 L445.7,331.4 L448.1,331.6 L447.9,334.3ZM447.1,332.3 L447.3,329.6 L449.8,329.8 L449.6,332.5ZM447.4,326.5 L447.6,324.1 L450.2,324.3 L450.0,326.7ZM448.6,332.4 L448.8,329.7 L451.3,329.9 L451.1,332.7ZM450.6,326.8 L450.8,324.4 L453.4,324.7 L453.1,327.0ZM455.1,329.1 L455.6,324.8 L458.2,324.8 L457.6,329.2ZM458.2,329.2 L458.6,326.3 L461.2,326.5 L460.7,329.4ZM460.1,327.1 L460.5,324.6 L463.2,324.8 L462.7,327.4ZM461.7,327.2 L462.2,324.6 L464.8,324.9 L464.3,327.5ZM461.2,338.1 L461.7,335.5 L464.1,336.0 L463.5,338.7ZM462.5,331.8 L463.0,328.7 L465.6,329.1 L464.9,332.2ZM464.0,338.9 L464.6,336.2 L466.9,336.9 L466.3,339.6ZM465.4,339.3 L466.0,336.6 L468.3,337.4 L467.6,340.0ZM468.4,333.4 L469.7,328.1 L472.1,329.1 L470.7,334.3ZM471.8,332.6 L472.6,329.6 L475.0,330.8 L474.1,333.7ZM473.2,338.5 L474.1,335.6 L476.4,336.6 L475.4,339.5ZM476.6,337.7 L478.4,332.5 L480.8,333.4 L478.8,338.7ZM477.1,340.6 L478.2,337.6 L480.5,338.6 L479.3,341.6ZM478.8,336.1 L479.9,333.0 L482.3,333.9 L481.1,337.0ZM477.6,343.6 L478.7,340.6 L480.9,341.7 L479.6,344.8ZM481.1,334.3 L482.1,331.6 L484.5,332.5 L483.4,335.3ZM484.6,345.5 L486.1,342.2 L488.2,343.4 L486.5,346.8ZM488.3,341.0 L489.9,337.6 L490.0,343.3 L488.7,345.8ZM486.9,347.3 L488.2,344.7 L489.9,346.6 L488.6,349.1ZM485.3,353.6 L486.4,351.5 L488.1,353.0 L487.0,355.0ZM486.3,354.6 L487.4,352.6 L489.1,354.1 L488.0,356.0ZM487.3,355.6 L488.4,353.6 L490.2,355.0 L489.1,356.8ZM490.7,352.3 L491.9,350.1 L493.8,351.5 L492.5,353.7ZM491.6,358.8 L492.7,357.0 L494.5,358.3 L493.3,360.1ZM495.1,353.2 L496.4,351.0 L498.5,352.2 L497.1,354.4ZM496.6,358.5 L498.1,356.3 L499.9,357.6 L498.4,359.9ZM496.5,361.0 L498.1,358.7 L499.9,360.1 L498.2,362.4ZM500.9,359.6 L502.6,357.3 L504.4,358.8 L502.7,361.0ZM508.0,359.8 L509.6,357.9 L511.8,359.0 L510.0,361.0ZM504.6,368.0 L506.6,365.7 L508.4,367.1 L506.2,369.5ZM512.1,361.7 L514.0,359.6 L515.8,361.3 L513.8,363.4ZM506.5,369.9 L508.7,367.5 L510.1,369.3 L507.9,371.6ZM508.9,369.3 L512.7,365.4 L513.9,367.4 L510.2,371.1ZM508.6,375.2 L510.3,373.6 L511.7,375.2 L510.0,376.8ZM512.0,373.9 L514.0,372.0 L515.4,373.8 L513.4,375.5ZM510.3,377.2 L516.2,371.8 L517.6,373.7 L511.6,378.8ZM511.1,378.2 L512.8,376.7 L514.2,378.4 L512.4,379.8ZM517.8,372.3 L519.5,370.8 L520.8,372.8 L519.1,374.2ZM518.6,373.5 L520.3,372.1 L521.7,373.9 L520.0,375.3ZM522.7,379.3 L524.4,378.0 L525.7,379.9 L524.0,381.2ZM520.1,384.5 L522.2,383.1 L523.5,384.9 L521.4,386.2ZM524.3,381.6 L526.1,380.4 L527.5,382.2 L525.7,383.4ZM518.5,387.3 L520.2,386.1 L521.5,387.8 L519.7,389.0ZM524.7,384.7 L527.9,382.6 L529.3,384.5 L526.0,386.5ZM528.7,387.1 L530.5,386.0 L531.7,388.1 L529.9,389.1ZM527.8,395.6 L529.9,394.5 L530.9,396.5 L528.8,397.6ZM529.6,399.2 L531.8,398.2 L532.7,400.3 L530.6,401.2ZM529.9,403.5 L533.5,402.0 L534.4,404.1 L530.7,405.5ZM535.7,401.1 L537.5,400.3 L538.5,402.5 L536.6,403.2ZM530.8,406.0 L533.1,405.1 L533.9,407.2 L531.5,408.0ZM531.3,407.2 L533.6,406.4 L534.4,408.5 L532.0,409.3ZM537.5,405.0 L539.4,404.3 L540.5,406.4 L538.5,407.1ZM531.7,408.5 L534.1,407.7 L535.0,409.7 L532.5,410.5ZM536.6,406.8 L539.0,406.0 L540.2,408.0 L537.7,408.8ZM532.2,409.7 L534.7,408.9 L535.5,411.0 L532.9,411.8ZM532.7,411.0 L535.3,410.1 L536.1,412.2 L533.4,413.0ZM536.6,418.3 L539.4,417.6 L539.7,419.9 L536.9,420.5ZM536.7,419.6 L539.5,419.1 L539.8,421.3 L537.0,421.8ZM536.8,421.0 L539.6,420.5 L539.8,422.7 L537.0,423.2ZM542.8,419.8 L545.2,419.4 L545.3,421.8 L543.0,422.2ZM535.0,424.1 L537.7,423.6 L537.7,425.8 L535.2,426.2ZM536.4,433.2 L537.8,433.1 L537.3,435.3 L536.0,435.4ZM535.9,434.6 L537.2,434.5 L537.4,436.7 L536.1,436.7ZM535.6,437.2 L537.0,437.2 L537.0,439.4 L535.7,439.4ZM535.7,438.5 L537.0,438.5 L537.1,440.7 L535.7,440.7ZM535.8,441.2 L537.2,441.2 L537.2,443.4 L535.8,443.3ZM537.3,446.5 L538.5,446.6 L538.5,448.8 L537.3,448.7ZM537.4,447.9 L538.5,448.0 L538.5,450.2 L537.3,450.1ZM534.0,448.9 L535.9,449.1 L535.8,451.2 L533.8,451.0ZM536.7,450.5 L538.6,450.7 L538.5,453.0 L536.5,452.7ZM533.8,451.5 L535.0,451.6 L534.7,453.8 L533.5,453.6ZM533.4,454.1 L534.7,454.3 L534.4,456.4 L533.1,456.1ZM533.3,455.3 L534.6,455.6 L534.2,457.7 L532.9,457.4ZM532.2,460.4 L533.5,460.7 L533.0,462.8 L531.7,462.5ZM532.9,463.3 L534.5,463.7 L533.8,465.8 L532.2,465.3ZM532.3,467.2 L533.8,467.7 L532.9,469.7 L531.5,469.2ZM529.3,470.4 L531.4,471.1 L530.5,473.1 L528.6,472.4ZM529.0,471.7 L530.3,472.1 L529.4,474.1 L528.2,473.6ZM528.5,472.9 L529.7,473.3 L528.8,475.3 L527.7,474.8Z"/>
<path fill="#a8122a" d="M358.1,412.9 L357.2,412.6 L357.8,410.6 L358.7,411.0ZM357.8,412.8 L357.0,412.5 L357.3,410.5 L358.2,410.8ZM358.4,411.7 L357.4,411.3 L357.9,409.4 L359.0,409.8ZM358.0,411.5 L357.1,411.2 L357.5,409.2 L358.4,409.6ZM358.8,409.2 L358.2,409.0 L358.6,407.0 L359.2,407.2ZM358.7,409.2 L357.6,408.8 L357.9,406.7 L359.0,407.1ZM359.0,408.0 L358.3,407.7 L358.7,405.7 L359.4,406.0ZM359.1,406.7 L357.3,406.0 L357.6,403.9 L359.6,404.7ZM359.3,405.4 L358.5,405.1 L359.0,403.1 L359.8,403.4ZM358.4,405.1 L356.9,404.4 L357.1,402.2 L358.8,403.0ZM358.5,403.7 L357.3,403.2 L357.7,401.1 L358.9,401.6ZM357.6,403.3 L356.8,403.0 L357.1,400.8 L357.9,401.2ZM358.6,402.4 L357.3,401.8 L357.7,399.7 L359.0,400.3ZM359.9,401.6 L359.0,401.2 L359.5,399.1 L360.5,399.6ZM358.7,401.0 L357.4,400.4 L357.8,398.3 L359.1,398.9ZM357.6,400.5 L356.7,400.1 L357.1,397.9 L358.0,398.4ZM358.8,399.6 L356.9,398.8 L357.4,396.6 L359.3,397.6ZM360.4,399.0 L359.4,398.5 L360.1,396.5 L361.0,397.0ZM359.5,398.6 L357.0,397.3 L357.7,395.3 L360.2,396.6ZM360.7,397.7 L359.7,397.2 L360.4,395.2 L361.3,395.8ZM359.2,397.0 L357.3,396.0 L358.1,394.0 L359.9,395.0ZM360.1,396.0 L358.8,395.3 L359.6,393.3 L360.9,394.0ZM359.0,395.4 L357.7,394.7 L358.4,392.6 L359.7,393.4ZM359.3,394.1 L358.0,393.4 L358.8,391.3 L360.1,392.1ZM359.7,392.8 L358.4,392.1 L359.3,390.0 L360.5,390.8ZM362.1,392.7 L361.2,392.1 L362.0,390.2 L363.0,390.8ZM361.7,390.9 L360.4,390.2 L361.3,388.2 L362.6,389.0ZM360.5,390.2 L359.3,389.4 L360.2,387.4 L361.4,388.2ZM362.2,389.7 L360.9,388.9 L361.8,386.9 L363.1,387.7ZM363.5,389.0 L362.0,388.0 L362.9,386.0 L364.5,387.1ZM362.0,388.0 L360.8,387.2 L361.7,385.2 L363.0,386.1ZM363.1,387.2 L360.7,385.5 L361.7,383.5 L364.1,385.2ZM364.2,386.3 L362.4,385.1 L363.4,383.1 L365.3,384.4ZM361.8,384.7 L360.9,384.0 L361.9,382.0 L362.9,382.7ZM363.6,384.3 L362.3,383.4 L363.4,381.4 L364.6,382.3ZM364.1,383.0 L362.2,381.6 L363.2,379.5 L365.1,381.0ZM365.9,382.6 L364.6,381.7 L365.7,379.7 L367.0,380.8ZM366.4,381.4 L365.1,380.4 L366.3,378.5 L367.6,379.6ZM364.4,379.9 L362.8,378.6 L363.8,376.5 L365.5,377.9ZM367.1,380.2 L365.7,379.2 L366.9,377.3 L368.3,378.4ZM365.0,378.5 L363.2,377.2 L364.3,375.1 L366.1,376.5ZM365.5,377.2 L364.2,376.1 L365.3,374.1 L366.6,375.2ZM368.4,377.8 L367.0,376.7 L368.4,375.0 L369.7,376.1ZM366.8,376.5 L365.5,375.4 L367.0,373.7 L368.3,374.9ZM369.2,376.7 L367.2,375.0 L368.8,373.5 L370.6,375.1ZM366.3,374.3 L365.3,373.4 L367.3,372.1 L368.2,373.0ZM370.3,376.0 L368.2,374.1 L369.9,372.6 L371.6,374.2ZM368.2,374.1 L366.8,372.8 L368.8,371.6 L370.0,372.7ZM370.9,374.7 L369.8,373.7 L371.4,372.2 L372.3,373.1ZM369.0,372.9 L368.2,372.2 L370.2,371.0 L370.9,371.6ZM372.6,372.6 L372.1,372.1 L373.4,370.3 L374.0,371.0ZM372.1,372.1 L371.0,371.1 L371.9,368.8 L373.2,370.2ZM372.6,370.8 L371.4,369.5 L372.4,367.3 L373.8,368.8ZM374.3,370.5 L373.5,369.7 L375.0,368.0 L375.8,368.9ZM373.7,369.9 L372.7,368.8 L373.9,366.9 L375.0,368.0ZM372.8,368.9 L371.8,367.9 L372.8,365.7 L373.9,366.9ZM373.3,367.5 L372.2,366.3 L373.4,364.2 L374.5,365.5ZM375.7,368.1 L374.6,366.8 L376.1,365.2 L377.3,366.5ZM374.5,366.7 L372.7,364.8 L374.3,363.1 L376.0,365.1ZM376.6,367.1 L374.2,364.4 L375.8,362.7 L378.2,365.5ZM377.9,366.5 L375.8,364.0 L377.4,362.4 L379.5,364.9ZM377.2,363.5 L376.1,362.2 L377.7,360.5 L378.8,361.9ZM379.8,364.5 L377.6,361.9 L379.3,360.3 L381.5,363.1ZM379.8,362.3 L378.0,360.0 L379.6,358.4 L381.4,360.7ZM380.7,361.3 L379.6,359.8 L381.2,358.1 L382.4,359.7ZM378.7,358.7 L377.8,357.5 L379.4,355.7 L380.3,356.9ZM382.4,361.1 L381.2,359.6 L382.9,358.0 L384.0,359.6ZM381.0,359.3 L379.8,357.7 L381.5,356.0 L382.6,357.7ZM379.6,357.5 L378.7,356.2 L380.3,354.4 L381.2,355.7ZM383.8,360.8 L382.9,359.5 L384.6,358.1 L385.6,359.5ZM382.6,359.2 L381.4,357.6 L383.2,356.0 L384.4,357.7ZM382.9,357.2 L381.7,355.5 L383.4,353.8 L384.6,355.6ZM384.7,357.3 L382.7,354.4 L384.5,352.8 L386.5,355.8ZM382.4,353.9 L381.4,352.4 L383.1,350.7 L384.1,352.2ZM386.5,357.5 L385.3,355.7 L387.1,354.2 L388.4,356.2ZM384.9,355.1 L382.9,352.1 L384.7,350.4 L386.7,353.7ZM386.0,354.1 L383.3,350.0 L385.1,348.3 L387.8,352.7ZM387.9,354.5 L386.6,352.5 L388.5,351.0 L389.8,353.1ZM389.0,353.6 L387.7,351.5 L389.6,350.1 L390.9,352.3ZM391.7,355.3 L386.4,346.5 L387.9,344.1 L393.6,354.2ZM392.8,354.6 L391.7,352.6 L393.6,351.3 L394.8,353.6ZM391.1,351.6 L389.7,349.2 L391.4,347.4 L392.9,350.1ZM388.2,346.6 L387.0,344.5 L388.4,341.9 L389.7,344.2ZM392.1,350.5 L390.6,347.8 L392.6,346.4 L394.1,349.3ZM389.9,346.6 L387.6,342.3 L389.4,340.5 L391.9,345.0ZM394.4,351.8 L388.6,340.9 L391.4,340.8 L396.6,351.0ZM394.8,349.5 L393.4,346.8 L395.8,346.3 L397.1,348.9ZM391.7,343.6 L390.5,341.3 L393.3,341.3 L394.4,343.4ZM397.7,349.1 L396.6,346.7 L399.0,346.3 L400.0,348.6ZM395.3,344.1 L394.4,342.1 L397.1,342.2 L397.9,344.0ZM399.9,350.4 L398.9,348.2 L401.1,347.5 L402.1,349.7ZM397.1,344.4 L396.2,342.6 L398.7,342.1 L399.5,343.9ZM401.8,351.2 L400.9,349.3 L402.9,348.3 L403.7,350.2ZM398.7,344.3 L397.8,342.4 L400.0,341.4 L400.8,343.2ZM402.9,350.5 L402.2,348.7 L404.2,347.7 L404.9,349.5ZM399.9,343.6 L399.2,341.7 L401.3,340.7 L402.1,342.5ZM404.1,349.8 L403.4,348.0 L405.4,347.0 L406.1,348.9ZM401.2,342.9 L400.5,341.1 L402.7,340.0 L403.4,341.9ZM405.3,349.2 L404.0,345.9 L406.1,344.9 L407.4,348.3ZM402.5,342.2 L401.8,340.4 L404.0,339.3 L404.7,341.2ZM406.1,347.5 L405.3,345.2 L407.4,344.3 L408.2,346.6ZM407.4,346.8 L406.0,343.1 L408.1,342.2 L409.4,346.0ZM405.7,342.3 L404.5,339.0 L406.7,338.0 L407.9,341.4ZM409.0,347.4 L407.3,342.5 L409.5,341.6 L411.1,346.5ZM410.3,346.8 L409.1,343.4 L411.3,342.5 L412.3,345.9ZM408.3,341.1 L407.2,337.7 L409.5,336.7 L410.5,340.2ZM411.5,346.2 L410.9,344.3 L413.0,343.4 L413.6,345.3ZM410.7,343.5 L409.9,341.2 L412.1,340.3 L412.8,342.6ZM409.7,340.5 L408.9,338.2 L411.2,337.3 L411.9,339.6ZM412.8,345.6 L412.2,343.7 L414.3,342.8 L414.8,344.7ZM411.0,339.8 L410.0,336.4 L412.3,335.5 L413.2,339.0ZM414.0,344.9 L413.5,343.0 L415.6,342.2 L416.1,344.1ZM412.3,339.2 L411.7,336.9 L414.0,336.1 L414.6,338.4ZM415.3,344.3 L414.7,342.4 L416.9,341.6 L417.4,343.5ZM414.5,341.7 L413.1,336.4 L415.4,335.6 L416.7,340.9ZM416.5,343.7 L416.0,341.8 L418.2,341.1 L418.7,343.0ZM415.9,341.1 L415.3,338.8 L417.5,338.0 L418.0,340.3ZM415.1,338.1 L414.5,335.8 L416.8,335.0 L417.3,337.3ZM417.8,343.2 L417.4,341.3 L419.5,340.5 L420.0,342.4ZM419.1,342.6 L418.7,340.7 L420.9,340.0 L421.3,341.9ZM418.2,338.5 L417.3,334.7 L419.6,334.0 L420.4,337.8ZM420.4,342.1 L419.0,335.7 L421.4,335.0 L422.6,341.4ZM420.9,337.4 L420.1,333.6 L422.5,332.7 L423.2,336.6ZM422.6,338.3 L422.1,336.0 L424.4,335.2 L424.8,337.6ZM423.9,337.8 L423.5,335.4 L425.8,334.6 L426.2,337.1ZM425.3,337.2 L424.9,334.8 L427.2,334.1 L427.6,336.5ZM426.7,336.7 L426.3,334.2 L428.7,333.5 L429.0,336.0ZM426.2,333.3 L425.8,330.8 L428.2,330.0 L428.5,332.5ZM429.7,337.3 L429.4,334.8 L431.7,334.2 L432.0,336.7ZM430.9,335.0 L430.6,332.5 L433.0,331.9 L433.2,334.5ZM435.3,335.5 L435.2,332.8 L437.6,332.4 L437.7,335.1ZM438.3,336.3 L438.2,333.9 L440.6,333.6 L440.6,335.9ZM438.0,327.1 L437.9,324.7 L440.5,324.2 L440.5,326.6ZM439.7,335.9 L439.7,333.6 L442.1,333.2 L442.1,335.6ZM444.2,330.2 L444.2,327.4 L446.8,327.6 L446.7,330.3ZM445.7,330.3 L445.9,325.6 L448.5,325.7 L448.2,330.4ZM447.0,334.3 L447.2,331.5 L449.6,331.7 L449.4,334.4ZM447.2,330.4 L447.5,325.7 L450.1,325.9 L449.7,330.6ZM449.0,326.6 L449.2,324.3 L451.8,324.5 L451.6,326.8ZM449.8,336.0 L450.0,333.7 L452.4,334.0 L452.2,336.3ZM450.1,332.6 L450.3,329.8 L452.8,330.1 L452.5,332.8ZM451.6,332.7 L451.9,330.0 L454.3,330.3 L454.0,333.0ZM456.9,327.1 L457.2,324.7 L459.9,324.8 L459.5,327.3ZM461.3,329.4 L461.9,326.4 L464.5,326.7 L463.9,329.7ZM464.5,329.7 L465.1,326.6 L467.7,327.0 L467.0,330.1ZM466.8,339.8 L467.4,337.1 L469.7,337.9 L469.0,340.5ZM468.1,340.3 L468.8,337.7 L471.0,338.6 L470.3,341.2ZM469.4,340.9 L470.2,338.4 L472.3,339.4 L471.6,341.9ZM470.6,336.9 L472.0,331.8 L474.3,332.9 L472.8,338.0ZM472.4,330.4 L473.1,327.9 L475.5,329.0 L474.7,331.5ZM470.7,341.7 L471.5,339.1 L473.6,340.2 L472.8,342.7ZM472.0,342.4 L472.8,339.9 L474.9,340.9 L474.0,343.5ZM475.9,334.9 L477.5,330.2 L480.0,331.0 L478.3,335.8ZM475.1,342.1 L476.1,339.2 L478.3,340.2 L477.2,343.2ZM478.0,338.3 L479.0,335.3 L481.4,336.3 L480.2,339.3ZM478.4,341.3 L479.6,338.2 L481.8,339.3 L480.6,342.5ZM482.5,334.9 L483.6,332.2 L486.0,333.1 L484.9,335.9ZM485.4,336.2 L486.6,333.3 L489.0,334.3 L487.7,337.3ZM487.0,343.7 L488.6,340.3 L489.0,345.1 L487.7,347.7ZM490.5,358.0 L492.5,354.7 L494.4,355.9 L492.3,359.3ZM492.6,359.7 L493.8,357.8 L495.6,359.1 L494.3,361.0ZM494.7,361.4 L496.0,359.5 L497.7,360.8 L496.3,362.7ZM495.7,362.3 L497.0,360.3 L498.7,361.7 L497.3,363.6ZM498.8,357.8 L500.3,355.5 L502.2,357.0 L500.6,359.2ZM499.9,358.7 L501.5,356.4 L503.3,357.9 L501.6,360.1ZM505.0,365.5 L507.0,363.2 L508.8,364.5 L506.7,366.9ZM506.1,366.3 L508.2,364.0 L510.0,365.3 L507.8,367.7ZM510.4,371.7 L512.4,369.6 L513.7,371.5 L511.7,373.4ZM513.4,372.5 L515.4,370.7 L516.8,372.5 L514.8,374.3ZM512.2,377.2 L514.2,375.5 L515.6,377.2 L513.5,378.9ZM513.0,378.3 L515.0,376.6 L516.4,378.3 L514.3,380.0ZM517.2,374.7 L519.2,373.0 L520.6,374.8 L518.6,376.5ZM514.6,380.4 L516.6,378.7 L517.9,380.5 L515.9,382.1ZM519.6,378.1 L522.8,375.6 L524.2,377.5 L521.0,379.9ZM520.4,379.2 L522.5,377.6 L523.8,379.5 L521.8,381.0ZM521.3,380.3 L523.3,378.8 L524.6,380.7 L522.6,382.2ZM522.1,381.5 L524.1,380.0 L525.5,381.8 L523.4,383.3ZM517.6,386.3 L520.8,384.1 L522.1,385.8 L518.9,387.9ZM519.6,386.5 L523.1,384.1 L524.4,385.9 L520.8,388.2ZM521.2,388.6 L524.8,386.3 L526.1,388.1 L522.4,390.4ZM527.0,384.9 L528.8,383.7 L530.2,385.7 L528.3,386.8ZM520.9,390.4 L524.1,388.3 L525.4,390.1 L522.1,392.1ZM521.6,391.4 L526.4,388.5 L527.6,390.4 L522.8,393.2ZM523.5,391.8 L528.7,388.8 L529.8,390.8 L524.7,393.7ZM529.4,388.4 L531.3,387.3 L532.4,389.4 L530.5,390.4ZM523.1,393.6 L524.9,392.5 L526.1,394.4 L524.2,395.4ZM525.7,392.1 L531.9,388.6 L533.0,390.7 L526.8,394.0ZM523.9,394.7 L525.7,393.7 L526.7,395.6 L524.9,396.5ZM526.4,393.3 L532.6,389.9 L533.6,392.0 L527.5,395.2ZM525.6,395.2 L527.8,394.1 L528.9,396.0 L526.7,397.1ZM528.5,393.7 L532.1,391.8 L533.2,393.8 L529.6,395.6ZM525.2,396.9 L528.5,395.2 L529.5,397.2 L526.3,398.8ZM530.6,394.1 L532.8,393.1 L533.8,395.1 L531.6,396.2ZM527.0,397.5 L529.1,396.4 L530.1,398.4 L528.0,399.4ZM529.8,396.1 L532.0,395.0 L532.9,397.1 L530.8,398.1ZM532.7,394.7 L534.4,393.8 L535.4,396.0 L533.6,396.8ZM526.6,399.2 L528.4,398.3 L529.3,400.3 L527.6,401.1ZM529.0,398.0 L534.0,395.6 L534.9,397.8 L530.0,400.0ZM528.3,399.8 L530.4,398.9 L531.3,400.9 L529.2,401.8ZM532.4,397.9 L534.5,397.0 L535.5,399.1 L533.4,400.0ZM531.7,399.8 L533.8,398.8 L534.7,400.9 L532.6,401.8ZM534.4,398.6 L536.2,397.8 L537.2,399.9 L535.4,400.6ZM528.3,402.7 L530.1,401.9 L530.9,404.0 L529.1,404.7ZM530.8,401.6 L535.8,399.5 L536.8,401.6 L531.7,403.7ZM532.8,402.3 L536.5,400.8 L537.4,402.9 L533.7,404.4ZM533.3,403.6 L537.1,402.1 L538.0,404.2 L534.2,405.6ZM533.9,404.8 L536.1,404.0 L537.0,406.1 L534.7,406.9ZM532.8,406.7 L538.3,404.7 L539.3,406.8 L533.6,408.7ZM530.5,408.9 L532.5,408.2 L533.2,410.3 L531.1,410.9ZM533.4,407.9 L535.7,407.1 L536.7,409.2 L534.2,410.0ZM534.0,409.1 L538.2,407.7 L539.3,409.8 L534.8,411.2ZM531.2,411.4 L533.4,410.7 L534.1,412.8 L531.8,413.5ZM536.4,409.8 L539.0,409.0 L540.0,411.1 L537.3,411.9ZM533.1,412.2 L539.8,410.2 L540.8,412.4 L533.8,414.3ZM533.5,413.5 L536.4,412.7 L537.0,414.8 L534.1,415.6ZM537.7,412.3 L540.5,411.5 L541.4,413.7 L538.4,414.5ZM532.1,415.3 L536.8,414.0 L537.2,416.2 L532.6,417.3ZM540.4,413.0 L543.3,412.3 L543.6,414.6 L540.7,415.3ZM534.1,416.1 L537.0,415.4 L537.4,417.6 L534.5,418.2ZM542.6,413.9 L545.2,413.3 L545.4,415.7 L542.9,416.3ZM534.3,417.4 L539.3,416.2 L539.6,418.5 L534.7,419.6ZM542.7,415.4 L545.2,414.8 L545.4,417.2 L543.0,417.8ZM540.7,417.4 L543.6,416.7 L543.8,419.1 L540.9,419.7ZM533.0,420.4 L535.4,419.9 L535.7,422.1 L533.3,422.5ZM538.7,419.2 L541.5,418.6 L541.8,420.9 L539.0,421.5ZM542.8,418.4 L545.2,417.9 L545.4,420.3 L543.0,420.7ZM534.8,421.4 L537.6,420.9 L537.8,423.1 L535.1,423.5ZM536.9,422.4 L539.6,421.9 L539.7,424.1 L537.1,424.6ZM542.8,421.3 L545.2,420.9 L545.1,423.3 L542.8,423.7ZM533.5,424.3 L535.8,423.9 L535.9,426.1 L533.8,426.4ZM538.8,423.4 L541.5,423.0 L541.2,425.3 L538.7,425.7ZM542.6,422.8 L544.9,422.4 L544.3,424.9 L542.2,425.2ZM535.0,425.4 L537.6,425.0 L537.5,427.2 L535.1,427.5ZM538.5,424.9 L541.1,424.5 L540.7,426.8 L538.3,427.1ZM542.0,424.3 L544.2,424.0 L543.5,426.4 L541.5,426.7ZM533.8,426.9 L537.4,426.4 L537.3,428.6 L534.0,429.0ZM538.2,426.3 L540.6,425.9 L540.2,428.3 L538.0,428.5ZM541.4,425.8 L543.4,425.6 L542.8,428.0 L540.9,428.2ZM533.9,428.2 L537.2,427.8 L537.1,430.0 L534.1,430.3ZM537.9,427.7 L542.6,427.1 L541.9,429.5 L537.6,429.9ZM534.1,429.5 L535.8,429.3 L535.7,431.4 L534.2,431.6ZM538.9,428.9 L540.9,428.7 L540.3,431.1 L538.3,431.2ZM534.1,430.8 L537.9,430.4 L537.3,432.7 L534.3,432.9ZM534.2,432.1 L536.4,431.9 L536.0,434.1 L534.3,434.2ZM534.5,433.3 L535.9,433.3 L535.8,435.4 L534.5,435.5ZM537.0,433.2 L538.1,433.1 L537.4,435.3 L536.5,435.4ZM534.9,434.6 L536.7,434.5 L536.9,436.7 L535.0,436.7ZM534.5,436.0 L536.3,435.9 L536.4,438.0 L534.5,438.1ZM536.6,435.9 L537.5,435.8 L537.7,438.0 L536.7,438.0ZM535.0,437.2 L536.4,437.2 L536.5,439.4 L535.1,439.4ZM536.2,437.2 L537.7,437.2 L537.8,439.3 L536.2,439.4ZM534.5,438.5 L536.5,438.5 L536.5,440.7 L534.5,440.7ZM536.8,438.5 L537.8,438.5 L537.9,440.7 L536.9,440.7ZM534.5,439.8 L536.5,439.8 L536.5,442.0 L534.5,442.0ZM536.9,439.8 L537.9,439.9 L538.0,442.0 L537.0,442.0ZM534.3,441.1 L535.3,441.2 L535.3,443.3 L534.3,443.2ZM535.1,441.2 L536.6,441.2 L536.6,443.3 L535.1,443.3ZM537.0,441.2 L538.0,441.2 L538.1,443.4 L537.0,443.3ZM534.3,442.4 L535.3,442.5 L535.3,444.6 L534.3,444.5ZM535.8,442.5 L537.2,442.5 L537.3,444.7 L535.8,444.6ZM537.1,442.5 L538.1,442.5 L538.2,444.7 L537.1,444.7ZM534.3,443.7 L536.0,443.8 L536.0,446.0 L534.2,445.8ZM535.9,443.8 L538.0,443.9 L538.0,446.1 L535.9,445.9ZM534.2,445.0 L536.7,445.2 L536.7,447.3 L534.1,447.1ZM536.6,445.2 L538.1,445.2 L538.1,447.4 L536.6,447.3ZM534.2,446.3 L536.0,446.5 L535.9,448.6 L534.0,448.4ZM534.1,447.6 L538.2,448.0 L538.1,450.2 L533.9,449.7ZM535.1,449.0 L536.7,449.2 L536.6,451.3 L535.0,451.1ZM536.7,449.2 L538.6,449.4 L538.5,451.6 L536.6,451.3ZM533.9,450.2 L535.1,450.3 L534.9,452.5 L533.7,452.3ZM535.1,450.3 L537.5,450.6 L537.3,452.8 L534.9,452.5ZM534.2,451.5 L535.8,451.7 L535.6,453.9 L533.9,453.6ZM535.8,451.8 L538.2,452.1 L538.1,454.3 L535.6,453.9ZM533.6,452.8 L534.9,453.0 L534.6,455.1 L533.3,454.9ZM534.9,453.0 L536.6,453.2 L536.3,455.4 L534.7,455.1ZM536.6,453.2 L538.7,453.5 L538.6,455.7 L536.4,455.4ZM533.9,454.1 L536.5,454.5 L536.2,456.7 L533.6,456.2ZM536.6,454.6 L538.7,454.9 L538.6,457.1 L536.4,456.7ZM534.7,455.6 L537.3,456.0 L537.1,458.2 L534.4,457.7ZM537.4,456.1 L538.7,456.3 L538.5,458.5 L537.2,458.3ZM533.0,456.6 L534.4,456.9 L534.0,459.0 L532.6,458.7ZM534.5,456.9 L537.2,457.4 L536.9,459.6 L534.2,459.0ZM537.4,457.4 L538.7,457.7 L538.4,459.9 L537.1,459.6ZM533.4,458.0 L535.1,458.4 L534.6,460.5 L532.9,460.1ZM536.3,458.6 L538.6,459.1 L537.9,461.2 L535.7,460.7ZM534.0,459.5 L535.7,459.9 L535.1,462.0 L533.4,461.6ZM536.8,460.1 L538.1,460.4 L537.4,462.5 L536.1,462.2ZM534.5,461.0 L537.1,461.6 L536.4,463.7 L533.9,463.0ZM531.9,461.7 L533.2,462.0 L532.6,464.1 L531.4,463.7ZM534.1,462.2 L537.1,463.0 L536.3,465.1 L533.5,464.3ZM533.7,463.5 L536.5,464.2 L535.7,466.3 L533.0,465.6ZM531.3,464.2 L532.5,464.5 L531.8,466.6 L530.7,466.2ZM534.0,465.0 L535.6,465.4 L534.8,467.5 L533.3,467.0ZM530.9,465.5 L532.1,465.8 L531.4,467.8 L530.3,467.5ZM532.0,465.8 L533.6,466.2 L532.8,468.3 L531.4,467.8ZM534.3,466.4 L535.4,466.8 L534.6,468.8 L533.5,468.5ZM530.6,466.7 L531.7,467.0 L531.0,469.1 L529.9,468.7ZM531.6,467.0 L533.1,467.5 L532.3,469.5 L530.9,469.0ZM533.7,467.7 L534.8,468.0 L533.9,470.0 L532.8,469.7ZM530.2,468.0 L531.2,468.3 L530.5,470.3 L529.5,470.0ZM531.8,469.9 L533.2,470.3 L532.2,472.3 L530.9,471.8ZM530.6,470.9 L532.5,471.5 L531.5,473.5 L529.8,472.8ZM528.9,471.6 L529.8,472.0 L529.0,473.9 L528.2,473.6ZM530.0,472.1 L531.3,472.5 L530.3,474.5 L529.1,474.0ZM531.0,472.4 L531.9,472.7 L530.9,474.7 L530.0,474.3ZM529.0,473.1 L530.6,473.7 L529.6,475.6 L528.1,475.0Z"/>
<path fill="#d6604d" d="M358.0,412.8 L357.2,412.6 L357.6,410.6 L358.5,410.9ZM358.1,409.0 L357.1,408.6 L357.3,406.5 L358.4,406.9ZM358.4,407.7 L357.1,407.2 L357.2,405.1 L358.7,405.7ZM358.0,406.3 L356.9,405.8 L357.2,403.7 L358.3,404.2ZM358.8,405.2 L357.7,404.8 L358.1,402.7 L359.2,403.2ZM360.1,400.3 L359.2,399.8 L359.8,397.8 L360.7,398.3ZM357.6,399.1 L356.7,398.6 L357.1,396.5 L358.1,397.0ZM357.7,397.7 L356.8,397.2 L357.5,395.2 L358.4,395.7ZM358.0,396.4 L357.1,395.9 L357.8,393.8 L358.8,394.3ZM361.0,396.5 L360.0,396.0 L360.8,394.0 L361.7,394.5ZM358.4,395.1 L357.4,394.6 L358.2,392.5 L359.1,393.0ZM360.3,393.1 L359.0,392.4 L359.8,390.4 L361.1,391.1ZM361.9,392.5 L360.6,391.8 L361.5,389.8 L362.7,390.6ZM360.7,391.8 L359.4,391.1 L360.3,389.1 L361.5,389.9ZM364.8,385.1 L363.5,384.2 L364.6,382.3 L365.8,383.2ZM362.9,382.1 L361.9,381.4 L362.9,379.3 L363.8,380.0ZM364.0,381.2 L362.7,380.2 L363.7,378.2 L365.0,379.2ZM365.1,380.4 L363.8,379.4 L364.9,377.4 L366.2,378.4ZM366.4,379.7 L365.0,378.6 L366.2,376.6 L367.5,377.8ZM368.2,379.4 L365.6,377.3 L366.8,375.4 L369.4,377.6ZM367.6,377.2 L366.2,376.0 L367.7,374.4 L369.0,375.5ZM365.3,375.2 L364.2,374.3 L365.9,372.8 L366.9,373.6ZM371.8,373.7 L371.2,373.1 L372.7,371.5 L373.2,372.0ZM372.6,372.7 L371.8,371.8 L373.0,370.0 L374.0,370.9ZM373.4,371.5 L372.4,370.6 L373.7,368.7 L374.7,369.7ZM374.8,365.0 L373.6,363.7 L375.2,362.0 L376.3,363.3ZM376.6,362.8 L375.4,361.4 L377.1,359.7 L378.2,361.2ZM380.8,363.6 L379.3,361.6 L380.9,360.1 L382.5,362.1ZM381.8,362.6 L380.2,360.6 L381.9,359.0 L383.5,361.2ZM381.4,355.1 L380.4,353.7 L382.1,351.9 L383.1,353.4ZM383.3,352.7 L382.3,351.2 L384.1,349.5 L385.1,351.1ZM387.6,356.7 L386.4,354.7 L388.2,353.3 L389.5,355.4ZM386.2,351.8 L384.9,349.8 L386.8,348.2 L388.1,350.3ZM388.1,352.2 L386.9,350.1 L388.7,348.6 L390.0,350.8ZM389.2,348.2 L387.8,345.9 L389.3,343.5 L390.8,346.1ZM391.0,348.5 L389.5,345.9 L391.5,344.3 L393.0,347.1ZM399.2,348.9 L398.2,346.7 L400.4,346.1 L401.4,348.3ZM401.2,346.5 L400.3,344.3 L402.4,343.3 L403.3,345.5ZM403.7,348.7 L402.8,346.5 L404.8,345.6 L405.7,347.8ZM407.8,348.0 L407.1,346.1 L409.2,345.2 L409.8,347.1ZM417.5,342.1 L417.0,339.8 L419.2,339.0 L419.7,341.3ZM523.8,383.6 L525.9,382.2 L527.3,384.1 L525.2,385.4ZM523.3,385.7 L525.4,384.3 L526.7,386.1 L524.6,387.5ZM520.1,389.3 L521.9,388.2 L523.1,389.9 L521.3,391.0ZM527.2,388.0 L529.4,386.7 L530.6,388.7 L528.4,390.0ZM524.3,392.9 L526.4,391.7 L527.5,393.6 L525.4,394.8ZM524.6,395.8 L526.4,394.8 L527.4,396.7 L525.6,397.6ZM527.1,394.4 L529.2,393.3 L530.3,395.3 L528.1,396.4ZM529.2,394.9 L531.3,393.8 L532.3,395.8 L530.2,396.9ZM532.0,393.4 L533.8,392.5 L534.8,394.6 L533.0,395.5ZM525.9,398.0 L527.7,397.1 L528.7,399.1 L526.9,399.9ZM528.4,396.8 L530.5,395.7 L531.5,397.8 L529.4,398.8ZM527.2,400.3 L529.0,399.5 L529.9,401.5 L528.2,402.2ZM532.3,405.4 L534.6,404.5 L535.4,406.7 L533.1,407.5ZM535.0,407.4 L537.4,406.5 L538.5,408.6 L536.0,409.4ZM538.2,409.2 L540.8,408.4 L542.0,410.5 L539.3,411.3ZM531.5,412.7 L533.9,412.0 L534.5,414.1 L532.1,414.8ZM539.8,411.7 L542.6,410.9 L543.6,413.1 L540.6,413.9ZM532.4,416.6 L534.9,415.9 L535.3,418.1 L532.8,418.6ZM536.2,415.6 L539.1,414.8 L539.5,417.1 L536.6,417.8ZM538.5,416.4 L543.5,415.2 L543.7,417.6 L538.8,418.7ZM538.6,417.8 L541.5,417.2 L541.7,419.5 L538.9,420.1ZM542.8,416.9 L545.2,416.3 L545.4,418.8 L543.0,419.2ZM540.8,418.8 L543.6,418.2 L543.8,420.6 L541.0,421.1ZM540.8,420.2 L543.6,419.7 L543.7,422.0 L541.0,422.5ZM534.9,422.7 L537.7,422.2 L537.8,424.4 L535.1,424.9ZM536.9,423.7 L539.6,423.3 L539.5,425.6 L536.9,426.0ZM539.8,426.1 L542.2,425.7 L541.7,428.1 L539.5,428.4ZM538.3,430.4 L540.2,430.2 L539.1,432.5 L537.4,432.6ZM538.2,431.7 L539.5,431.6 L538.1,434.0 L537.1,434.0ZM536.5,434.5 L537.4,434.5 L537.5,436.7 L536.6,436.7ZM534.5,437.2 L535.8,437.2 L535.9,439.4 L534.5,439.4ZM534.3,438.5 L535.3,438.5 L535.3,440.7 L534.3,440.7ZM535.7,439.8 L537.1,439.9 L537.1,442.0 L535.7,442.0ZM535.2,443.8 L536.7,443.8 L536.6,446.0 L535.2,445.9ZM535.9,445.1 L537.4,445.2 L537.4,447.4 L535.9,447.3ZM535.0,451.6 L536.6,451.9 L536.4,454.0 L534.8,453.8ZM533.8,455.4 L535.5,455.7 L535.2,457.9 L533.4,457.5ZM535.3,458.4 L537.0,458.8 L536.4,460.9 L534.7,460.5ZM534.9,459.7 L536.6,460.1 L536.0,462.2 L534.3,461.8ZM536.3,461.4 L537.6,461.7 L536.9,463.8 L535.6,463.5ZM532.5,464.5 L534.0,465.0 L533.3,467.0 L531.8,466.6ZM531.8,468.5 L533.2,468.9 L532.3,470.9 L530.9,470.4ZM533.1,468.9 L534.1,469.2 L533.1,471.2 L532.1,470.9ZM531.7,471.3 L532.7,471.6 L531.6,473.5 L530.8,473.2ZM530.3,473.6 L531.2,473.9 L530.1,475.8 L529.3,475.5Z"/>
<path fill="#f7f4f2" d="M357.8,412.8 L357.3,412.6 L357.6,410.6 L358.1,410.8ZM358.2,411.6 L357.7,411.4 L358.3,409.5 L358.8,409.7ZM358.7,410.5 L357.8,410.2 L358.2,408.2 L359.2,408.5ZM358.1,410.3 L357.2,410.0 L357.4,407.9 L358.4,408.2ZM357.6,401.9 L356.7,401.5 L357.1,399.4 L357.9,399.8ZM359.2,401.3 L357.9,400.7 L358.4,398.6 L359.7,399.2ZM359.3,399.9 L358.0,399.3 L358.6,397.2 L359.9,397.9ZM359.8,397.3 L358.5,396.6 L359.2,394.6 L360.5,395.3ZM359.6,395.7 L358.3,395.0 L359.0,393.0 L360.3,393.7ZM361.3,395.2 L359.8,394.3 L360.6,392.3 L362.1,393.2ZM359.5,391.2 L358.6,390.6 L359.4,388.6 L360.4,389.1ZM359.9,389.9 L359.0,389.3 L359.9,387.3 L360.8,387.8ZM363.0,390.2 L362.1,389.6 L363.0,387.7 L363.9,388.3ZM361.0,388.9 L359.7,388.1 L360.6,386.1 L361.9,386.9ZM361.4,387.6 L360.2,386.8 L361.1,384.8 L362.4,385.7ZM361.3,386.0 L360.4,385.3 L361.4,383.3 L362.3,384.0ZM363.0,385.5 L361.8,384.6 L362.8,382.7 L364.1,383.6ZM365.6,384.1 L364.7,383.4 L365.7,381.5 L366.7,382.2ZM366.2,382.9 L365.2,382.2 L366.3,380.3 L367.3,381.0ZM363.3,380.7 L362.4,380.0 L363.3,377.9 L364.3,378.7ZM366.8,381.7 L365.8,380.9 L367.0,379.1 L368.0,379.9ZM366.1,375.9 L364.7,374.7 L366.3,373.1 L367.6,374.3ZM367.0,374.9 L365.7,373.8 L367.6,372.4 L368.8,373.5ZM371.1,374.9 L370.3,374.1 L371.8,372.5 L372.4,373.1ZM370.4,374.2 L369.3,373.3 L371.0,371.8 L372.0,372.7ZM369.4,373.4 L368.4,372.4 L370.3,371.1 L371.2,372.0ZM371.0,373.0 L370.1,372.1 L371.9,370.7 L372.7,371.5ZM373.8,368.1 L372.7,366.9 L374.0,364.9 L375.1,366.2ZM376.3,364.6 L375.1,363.3 L376.7,361.6 L377.9,363.0ZM378.5,365.0 L377.3,363.7 L379.0,362.1 L380.1,363.5ZM378.5,360.6 L377.3,359.2 L379.0,357.5 L380.1,359.0ZM382.2,356.1 L380.9,354.4 L382.7,352.7 L383.9,354.5ZM388.2,357.6 L387.2,356.0 L389.1,354.7 L390.1,356.4ZM386.8,355.4 L385.6,353.5 L387.4,352.0 L388.6,354.0ZM388.7,355.8 L387.5,353.8 L389.3,352.5 L390.6,354.6ZM387.1,353.2 L385.8,351.1 L387.6,349.6 L388.9,351.7ZM386.4,349.4 L385.4,347.6 L387.2,346.0 L388.3,347.8ZM395.4,347.5 L393.2,343.1 L395.8,343.0 L397.8,347.0ZM400.0,347.2 L399.0,345.0 L401.1,343.9 L402.0,346.1ZM402.5,349.4 L400.9,345.7 L403.0,344.7 L404.5,348.4ZM401.9,344.4 L400.9,342.2 L403.1,341.1 L404.0,343.4ZM404.3,346.6 L403.4,344.4 L405.5,343.4 L406.4,345.7ZM403.1,343.7 L402.3,341.5 L404.4,340.4 L405.3,342.7ZM403.9,341.5 L403.1,339.7 L405.4,338.7 L406.0,340.5ZM412.4,344.4 L411.7,342.1 L413.9,341.3 L414.5,343.6ZM418.5,340.0 L418.0,337.7 L420.3,337.0 L420.7,339.3ZM421.5,340.4 L421.1,338.1 L423.3,337.4 L423.7,339.7ZM424.5,332.3 L424.2,330.2 L426.6,329.4 L426.9,331.5ZM426.4,335.0 L426.1,332.5 L428.5,331.7 L428.8,334.3ZM425.9,331.6 L425.6,329.5 L428.1,328.7 L428.3,330.8ZM428.5,339.2 L428.2,337.0 L430.5,336.4 L430.7,338.6ZM429.1,332.0 L428.6,328.1 L431.1,327.4 L431.5,331.4ZM430.5,331.5 L430.3,328.9 L432.7,328.2 L432.9,330.8ZM432.6,337.8 L432.4,335.6 L434.7,335.1 L434.9,337.3ZM435.0,329.9 L434.8,327.2 L437.4,326.7 L437.5,329.4ZM436.8,336.6 L436.7,334.3 L439.1,333.9 L439.2,336.2ZM436.7,333.2 L436.6,330.5 L439.0,330.1 L439.1,332.8ZM436.5,329.4 L436.4,326.7 L438.9,326.2 L439.0,329.0ZM438.2,334.7 L438.1,332.0 L440.6,331.6 L440.6,334.4ZM438.1,330.9 L437.9,326.3 L440.5,325.8 L440.6,330.5ZM439.6,332.4 L439.6,329.7 L442.1,329.3 L442.1,332.1ZM441.1,334.0 L441.1,331.3 L443.6,331.3 L443.5,334.1ZM444.3,326.3 L444.3,323.9 L446.9,324.1 L446.8,326.4ZM445.9,326.4 L445.9,324.0 L448.6,324.2 L448.4,326.5ZM448.8,330.5 L448.9,327.8 L451.5,328.0 L451.2,330.7ZM452.0,328.9 L452.4,324.6 L455.0,324.9 L454.5,329.2ZM453.1,332.9 L453.4,330.2 L455.9,330.4 L455.5,333.1ZM454.4,335.0 L454.9,330.3 L457.4,330.5 L456.7,335.3ZM456.4,331.1 L456.7,328.3 L459.3,328.5 L458.8,331.4ZM458.5,327.1 L458.9,324.6 L461.5,324.8 L461.1,327.3ZM460.2,336.0 L461.1,330.8 L463.6,331.2 L462.5,336.4ZM461.6,336.3 L462.2,333.2 L464.6,333.7 L463.9,336.8ZM463.3,327.3 L463.8,324.7 L466.5,324.9 L465.9,327.6ZM463.0,336.6 L463.7,333.5 L466.1,334.0 L465.3,337.2ZM464.0,332.0 L464.6,328.9 L467.2,329.3 L466.4,332.4ZM465.5,332.2 L466.2,329.1 L468.6,329.9 L467.9,333.0ZM465.8,337.4 L466.6,334.3 L468.9,335.1 L468.1,338.1ZM468.0,328.1 L468.7,325.4 L471.2,326.5 L470.5,329.1ZM467.2,337.9 L468.6,332.6 L470.9,333.5 L469.5,338.7ZM469.5,328.9 L470.2,326.2 L472.6,327.3 L471.9,329.9ZM473.8,331.2 L474.6,328.7 L476.9,329.9 L476.1,332.4ZM475.2,337.1 L476.2,334.1 L478.5,335.0 L477.5,338.0ZM474.4,344.0 L475.3,341.4 L477.4,342.4 L476.5,345.1ZM479.6,333.8 L480.5,331.1 L483.0,332.0 L482.0,334.7ZM481.6,337.3 L482.8,334.2 L485.2,335.2 L483.8,338.4ZM481.1,346.3 L482.5,343.1 L484.5,344.3 L483.0,347.6ZM484.3,338.7 L485.7,335.5 L488.0,336.5 L486.5,339.9ZM482.2,347.3 L483.7,343.9 L485.7,345.2 L484.1,348.6ZM484.5,342.1 L487.1,336.1 L489.4,337.3 L486.6,343.3ZM482.3,350.5 L483.7,347.5 L485.6,348.8 L484.1,351.9ZM487.0,340.2 L488.5,336.8 L490.8,338.0 L489.2,341.5ZM485.7,346.5 L487.4,343.0 L488.1,347.0 L486.8,349.6ZM484.3,352.5 L485.4,350.3 L487.2,351.9 L486.1,354.0ZM488.8,349.9 L491.6,344.5 L493.3,346.5 L490.5,351.6ZM488.0,354.3 L489.2,352.1 L491.0,353.5 L489.8,355.7ZM491.5,348.0 L492.5,346.0 L494.2,348.0 L493.1,349.8ZM491.5,350.8 L492.7,348.6 L494.6,350.1 L493.4,352.2ZM492.3,357.7 L493.7,355.5 L495.5,356.7 L494.1,358.9ZM495.5,357.7 L499.8,351.2 L501.9,352.4 L497.3,359.0ZM495.5,360.1 L497.0,357.9 L498.8,359.2 L497.2,361.5ZM497.7,357.0 L501.1,351.9 L503.1,353.2 L499.5,358.3ZM499.9,356.2 L501.5,353.9 L503.4,355.4 L501.7,357.6ZM496.7,363.1 L499.2,359.6 L500.9,361.0 L498.3,364.5ZM502.0,360.5 L503.7,358.2 L505.5,359.7 L503.7,361.9ZM501.8,363.0 L503.5,360.8 L505.3,362.2 L503.5,364.4ZM502.8,363.9 L504.6,361.7 L506.4,363.0 L504.6,365.2ZM509.3,360.4 L511.0,358.4 L513.2,359.6 L511.4,361.7ZM505.6,368.9 L509.4,364.7 L511.0,366.4 L507.1,370.5ZM513.7,364.3 L515.6,362.3 L516.7,364.6 L514.9,366.4ZM507.7,374.3 L509.5,372.5 L510.9,374.2 L509.2,375.8ZM511.1,372.8 L513.1,370.9 L514.6,372.6 L512.6,374.5ZM515.6,372.4 L518.7,369.6 L520.1,371.5 L517.0,374.2ZM515.0,374.8 L517.0,373.0 L518.4,374.9 L516.3,376.6ZM511.9,379.2 L513.6,377.8 L515.0,379.5 L513.2,380.9ZM512.7,380.2 L514.4,378.8 L515.7,380.5 L514.0,381.9ZM513.5,381.3 L515.2,379.9 L516.5,381.6 L514.8,383.0ZM517.4,378.1 L519.5,376.4 L520.8,378.3 L518.7,379.9ZM520.2,375.8 L522.0,374.4 L523.4,376.3 L521.6,377.7ZM515.4,381.4 L518.8,378.7 L520.2,380.5 L516.7,383.1ZM517.6,381.4 L521.1,378.7 L522.4,380.6 L518.9,383.1ZM515.9,384.3 L517.7,383.0 L519.0,384.7 L517.3,385.9ZM519.9,381.4 L521.9,379.9 L523.2,381.7 L521.2,383.2ZM516.8,385.3 L518.5,384.0 L519.8,385.7 L518.1,386.9ZM520.7,382.5 L522.7,381.0 L524.1,382.8 L522.0,384.2ZM519.3,388.3 L522.5,386.2 L523.8,387.9 L520.5,390.0ZM524.9,387.8 L527.1,386.5 L528.4,388.4 L526.2,389.7ZM531.2,395.4 L533.4,394.3 L534.3,396.5 L532.2,397.4ZM527.6,398.7 L529.8,397.6 L530.7,399.6 L528.6,400.6ZM528.8,403.9 L530.6,403.2 L531.4,405.2 L529.5,405.9ZM536.9,403.7 L538.8,403.0 L539.7,405.1 L537.8,405.8ZM530.9,410.2 L533.0,409.5 L533.7,411.5 L531.5,412.2ZM537.4,408.0 L539.9,407.2 L541.1,409.3 L538.5,410.1ZM540.1,408.6 L542.3,407.9 L543.6,410.1 L541.2,410.8ZM541.0,409.9 L543.3,409.2 L544.6,411.3 L542.1,412.0ZM541.8,411.1 L544.3,410.4 L545.3,412.7 L542.8,413.3ZM536.0,414.2 L539.0,413.4 L539.4,415.7 L536.4,416.4ZM532.6,417.8 L535.1,417.2 L535.4,419.4 L533.0,419.9ZM533.3,423.0 L535.7,422.6 L535.9,424.7 L533.6,425.1ZM538.9,422.0 L543.6,421.2 L543.6,423.5 L539.0,424.3ZM540.3,424.6 L542.8,424.2 L542.3,426.6 L539.9,426.9ZM535.0,429.4 L538.3,429.0 L538.0,431.3 L535.0,431.5ZM537.1,430.5 L539.1,430.3 L538.2,432.6 L536.5,432.7ZM539.4,430.3 L540.9,430.1 L539.6,432.5 L538.3,432.6ZM535.6,432.0 L537.3,431.8 L536.6,434.0 L535.2,434.1ZM537.3,431.8 L539.0,431.7 L537.9,434.0 L536.5,434.0ZM535.8,433.3 L537.2,433.2 L536.8,435.4 L535.5,435.4ZM534.4,434.7 L535.7,434.6 L535.8,436.7 L534.5,436.8ZM535.5,435.9 L536.9,435.9 L537.0,438.0 L535.6,438.0ZM534.3,437.3 L535.3,437.2 L535.3,439.4 L534.3,439.4ZM536.2,438.5 L537.6,438.5 L537.7,440.7 L536.3,440.7ZM534.3,439.8 L535.3,439.8 L535.3,442.0 L534.3,441.9ZM536.4,441.2 L537.8,441.2 L537.8,443.4 L536.4,443.3ZM536.4,442.5 L537.9,442.5 L537.9,444.7 L536.5,444.7ZM536.6,446.5 L538.1,446.6 L538.1,448.8 L536.6,448.7ZM537.4,452.0 L538.7,452.1 L538.6,454.4 L537.3,454.2ZM535.8,453.1 L537.4,453.3 L537.2,455.5 L535.6,455.2ZM535.7,454.4 L537.4,454.7 L537.1,456.9 L535.5,456.6ZM536.5,455.9 L538.2,456.2 L538.0,458.4 L536.3,458.1ZM533.3,462.0 L534.9,462.4 L534.2,464.5 L532.7,464.1ZM531.6,463.0 L532.8,463.3 L532.2,465.3 L531.1,465.0ZM531.7,464.3 L533.2,464.8 L532.6,466.8 L531.1,466.4ZM531.1,468.3 L532.5,468.7 L531.7,470.7 L530.3,470.2ZM529.5,471.9 L530.8,472.3 L529.9,474.3 L528.7,473.8ZM528.5,472.9 L529.3,473.2 L528.4,475.1 L527.7,474.8ZM529.9,473.4 L531.1,473.9 L530.0,475.8 L528.9,475.3Z"/>
<path fill="#fbd0bb" d="M358.1,411.6 L357.2,411.3 L357.7,409.3 L358.6,409.6ZM358.3,410.4 L357.4,410.0 L357.6,408.0 L358.7,408.3ZM358.9,409.3 L357.9,408.9 L358.2,406.8 L359.3,407.3ZM358.9,403.9 L357.7,403.4 L358.2,401.3 L359.4,401.9ZM358.1,400.8 L356.9,400.2 L357.3,398.0 L358.6,398.6ZM360.1,391.5 L358.8,390.7 L359.7,388.7 L361.0,389.5ZM362.3,391.3 L361.0,390.5 L361.9,388.5 L363.2,389.4ZM362.8,390.0 L361.5,389.2 L362.4,387.3 L363.7,388.1ZM362.6,388.4 L361.4,387.6 L362.3,385.6 L363.6,386.5ZM365.1,385.3 L364.1,384.6 L365.2,382.7 L366.1,383.4ZM367.5,380.5 L366.5,379.7 L367.6,377.9 L368.7,378.7ZM368.9,378.2 L367.8,377.3 L369.1,375.6 L370.1,376.5ZM369.6,377.1 L368.6,376.2 L370.0,374.6 L370.9,375.4ZM370.6,372.6 L369.7,371.7 L371.6,370.4 L372.4,371.3ZM371.9,370.0 L371.3,369.4 L372.2,367.1 L372.9,367.9ZM374.1,370.3 L373.1,369.3 L374.4,367.4 L375.5,368.6ZM373.2,369.4 L372.2,368.4 L373.4,366.3 L374.4,367.5ZM373.3,365.4 L372.4,364.5 L373.9,362.7 L374.8,363.7ZM375.7,363.9 L374.5,362.5 L376.1,360.9 L377.2,362.2ZM383.3,360.2 L382.2,358.5 L383.9,357.0 L385.1,358.8ZM381.9,358.2 L380.7,356.6 L382.4,354.9 L383.6,356.6ZM384.4,359.3 L383.2,357.6 L385.0,356.1 L386.2,357.9ZM385.5,358.4 L384.2,356.6 L386.0,355.2 L387.3,357.0ZM385.7,356.3 L384.5,354.5 L386.3,353.0 L387.6,354.9ZM390.1,349.9 L388.8,347.5 L390.4,345.4 L391.8,348.1ZM395.3,353.5 L394.0,351.1 L396.2,350.3 L397.4,352.6ZM395.8,351.4 L394.4,348.7 L396.7,348.1 L397.9,350.7ZM398.6,350.7 L397.4,348.4 L399.7,347.8 L400.7,350.1ZM396.9,347.4 L395.8,345.1 L398.3,344.8 L399.3,347.1ZM398.5,347.4 L397.5,345.2 L399.8,344.6 L400.8,346.8ZM400.6,345.0 L399.6,342.8 L401.8,341.8 L402.7,344.0ZM411.9,337.7 L411.3,335.8 L413.7,335.0 L414.2,336.9ZM416.8,339.0 L416.2,336.8 L418.5,336.0 L419.0,338.3ZM416.1,336.0 L415.6,334.1 L418.0,333.4 L418.4,335.3ZM422.3,336.8 L421.8,334.5 L424.2,333.6 L424.5,336.0ZM423.6,336.2 L423.2,333.8 L425.6,333.0 L425.9,335.4ZM425.0,335.6 L424.6,333.1 L427.0,332.4 L427.3,334.8ZM428.1,336.1 L427.7,333.6 L430.1,332.9 L430.4,335.5ZM429.8,338.7 L429.6,336.5 L431.9,336.0 L432.1,338.1ZM431.2,338.2 L431.0,336.0 L433.3,335.5 L433.5,337.7ZM432.5,336.4 L432.2,333.8 L434.6,333.2 L434.8,335.9ZM433.8,334.1 L433.6,331.4 L436.0,330.9 L436.1,333.6ZM433.5,330.4 L433.3,327.8 L435.8,327.2 L435.9,329.9ZM438.2,332.8 L438.1,330.1 L440.5,329.7 L440.6,332.4ZM439.6,328.5 L439.5,324.3 L442.1,323.8 L442.1,328.1ZM441.1,335.6 L441.1,333.2 L443.5,333.3 L443.5,335.6ZM441.1,326.2 L441.1,323.8 L443.7,323.9 L443.7,326.2ZM445.6,332.2 L445.7,329.5 L448.2,329.6 L448.1,332.4ZM450.3,330.6 L450.5,327.9 L453.0,328.2 L452.7,330.9ZM451.8,330.8 L452.0,328.1 L454.6,328.4 L454.3,331.1ZM453.5,329.1 L454.0,324.8 L456.6,324.9 L456.0,329.2ZM454.8,331.1 L455.2,328.3 L457.7,328.5 L457.3,331.3ZM455.8,335.1 L456.2,332.3 L458.6,332.7 L458.2,335.5ZM458.7,335.7 L459.2,332.7 L461.6,333.1 L461.1,336.1ZM459.8,329.3 L460.2,326.4 L462.8,326.6 L462.3,329.6ZM462.0,334.0 L462.6,331.0 L465.1,331.4 L464.4,334.5ZM462.6,338.5 L463.2,335.8 L465.5,336.4 L464.9,339.1ZM469.2,336.2 L470.0,333.3 L472.3,334.3 L471.4,337.2ZM471.0,329.6 L471.7,327.0 L474.1,328.1 L473.3,330.7ZM473.9,336.4 L474.8,333.5 L477.1,334.4 L476.1,337.4ZM474.5,339.2 L475.5,336.3 L477.7,337.2 L476.7,340.2ZM479.3,339.0 L480.5,335.9 L482.8,336.9 L481.5,340.1ZM486.8,336.9 L488.1,333.9 L490.5,335.0 L489.1,338.0ZM486.0,349.2 L487.3,346.6 L489.0,348.4 L487.7,350.8ZM492.1,355.4 L493.4,353.2 L495.3,354.4 L494.0,356.6ZM495.3,355.4 L497.7,351.7 L499.8,352.9 L497.2,356.7ZM504.1,362.3 L505.8,360.1 L507.8,361.4 L505.9,363.6ZM509.6,370.5 L511.7,368.3 L513.0,370.3 L511.0,372.3ZM509.7,374.2 L511.7,372.2 L513.1,373.9 L511.1,375.8ZM512.6,371.4 L514.6,369.5 L516.0,371.3 L514.0,373.2Z"/>
<path fill="#a9cfe5" d="M358.6,410.4 L358.0,410.2 L358.5,408.3 L359.1,408.5ZM357.9,410.2 L357.4,410.0 L357.5,407.9 L358.1,408.1ZM357.9,408.9 L357.2,408.6 L357.4,406.5 L358.0,406.8ZM358.7,407.9 L357.6,407.5 L357.9,405.4 L359.0,405.8ZM359.2,405.4 L358.1,404.9 L358.5,402.9 L359.7,403.4ZM359.5,402.8 L357.8,402.0 L358.3,399.9 L360.0,400.8ZM358.1,402.1 L356.9,401.6 L357.2,399.4 L358.5,400.0ZM359.7,401.5 L358.5,400.9 L359.0,398.9 L360.3,399.5ZM359.9,400.2 L358.6,399.6 L359.2,397.5 L360.5,398.2ZM358.7,393.8 L357.8,393.2 L358.6,391.2 L359.5,391.7ZM361.7,393.9 L360.7,393.4 L361.6,391.4 L362.5,392.0ZM360.9,393.5 L359.6,392.7 L360.4,390.7 L361.7,391.5ZM361.1,390.6 L359.8,389.8 L360.7,387.8 L362.0,388.6ZM362.4,385.1 L361.2,384.2 L362.2,382.2 L363.5,383.1ZM365.3,383.9 L364.1,383.0 L365.1,381.0 L366.4,382.0ZM364.6,381.7 L363.3,380.7 L364.3,378.7 L365.6,379.7ZM369.9,373.8 L368.8,372.8 L370.7,371.4 L371.6,372.4ZM372.4,372.4 L371.5,371.6 L372.7,369.6 L373.6,370.5ZM376.1,368.4 L375.2,367.5 L376.7,365.9 L377.6,366.9ZM375.0,363.2 L374.1,362.1 L375.7,360.4 L376.6,361.5ZM378.2,362.5 L377.0,361.1 L378.7,359.5 L379.8,360.9ZM377.8,359.8 L376.9,358.7 L378.5,357.0 L379.4,358.2ZM382.8,361.7 L381.9,360.5 L383.6,359.0 L384.5,360.3ZM380.3,358.4 L379.1,356.8 L380.7,355.1 L381.9,356.7ZM381.2,357.2 L379.5,354.9 L381.2,353.1 L382.9,355.6ZM384.9,360.0 L383.9,358.6 L385.7,357.2 L386.7,358.7ZM387.1,358.4 L386.1,356.8 L387.9,355.5 L389.0,357.1ZM389.4,356.8 L388.3,355.1 L390.2,353.9 L391.2,355.6ZM385.4,350.5 L384.3,348.8 L386.2,347.1 L387.2,348.9ZM390.5,356.1 L389.4,354.3 L391.3,353.1 L392.4,354.9ZM387.3,350.8 L386.0,348.7 L387.9,347.1 L389.1,349.3ZM392.1,353.3 L390.7,350.9 L392.5,349.4 L393.9,352.0ZM393.2,352.4 L391.7,349.8 L393.7,348.5 L395.2,351.4ZM392.7,345.5 L391.4,342.9 L394.0,342.7 L395.3,345.2ZM393.5,343.8 L392.5,341.7 L395.2,341.7 L396.2,343.7ZM400.5,351.6 L399.6,349.7 L401.7,349.0 L402.5,350.8ZM401.3,350.1 L400.3,347.9 L402.3,346.9 L403.3,349.1ZM406.6,348.6 L405.9,346.7 L407.9,345.8 L408.6,347.7ZM409.2,338.9 L408.6,337.0 L410.9,336.1 L411.4,338.0ZM411.5,341.4 L410.8,339.1 L413.0,338.2 L413.7,340.5ZM413.2,342.3 L412.6,340.0 L414.8,339.2 L415.4,341.5ZM415.0,343.2 L414.3,340.9 L416.5,340.1 L417.1,342.4ZM413.3,337.1 L412.8,335.2 L415.1,334.4 L415.6,336.3ZM417.2,340.5 L416.6,338.3 L418.9,337.5 L419.4,339.8ZM424.4,340.6 L424.1,338.6 L426.3,337.9 L426.6,340.0ZM423.4,334.6 L422.7,331.0 L425.1,330.1 L425.7,333.8ZM425.8,340.1 L425.4,338.1 L427.7,337.4 L428.0,339.5ZM427.8,334.4 L427.3,330.1 L429.7,329.4 L430.2,333.7ZM429.3,333.8 L429.0,331.2 L431.4,330.6 L431.6,333.2ZM430.7,333.2 L430.4,330.7 L432.9,330.0 L433.1,332.7ZM430.3,329.7 L430.1,327.5 L432.6,326.8 L432.8,329.0ZM432.0,330.9 L431.6,326.9 L434.2,326.2 L434.4,330.3ZM433.3,328.6 L433.2,326.3 L435.7,325.7 L435.8,328.0ZM435.2,333.6 L434.9,329.1 L437.4,328.6 L437.6,333.2ZM434.9,328.0 L434.7,325.8 L437.3,325.2 L437.4,327.5ZM441.1,332.1 L441.1,329.3 L443.6,329.4 L443.6,332.1ZM441.1,328.1 L441.1,325.4 L443.7,325.4 L443.6,328.2ZM442.6,334.1 L442.6,331.3 L445.1,331.4 L445.0,334.1ZM444.0,335.7 L444.2,331.4 L446.6,331.5 L446.4,335.8ZM445.5,335.7 L445.6,333.4 L448.0,333.5 L447.9,335.9ZM446.9,335.8 L447.1,333.5 L449.5,333.6 L449.3,336.0ZM448.4,335.9 L448.7,331.6 L451.1,331.9 L450.7,336.1ZM448.9,328.5 L449.1,325.8 L451.6,326.0 L451.4,328.8ZM450.0,334.5 L450.2,331.8 L452.6,332.0 L452.3,334.7ZM450.4,328.7 L450.6,326.0 L453.2,326.2 L452.9,329.0ZM451.3,336.2 L451.7,331.9 L454.1,332.2 L453.6,336.5ZM452.7,336.4 L453.2,332.1 L455.6,332.3 L455.1,336.7ZM453.3,331.0 L453.6,328.3 L456.1,328.4 L455.8,331.2ZM454.2,336.5 L454.5,334.2 L456.8,334.5 L456.5,336.9ZM455.6,336.7 L455.9,334.3 L458.3,334.7 L457.9,337.2ZM456.1,333.1 L456.5,330.3 L459.0,330.6 L458.5,333.5ZM456.6,329.1 L457.0,326.3 L459.6,326.5 L459.2,329.3ZM457.0,337.1 L457.4,334.6 L459.8,335.0 L459.3,337.5ZM457.6,333.3 L458.0,330.5 L460.5,330.8 L460.0,333.7ZM459.1,333.5 L459.9,328.5 L462.4,328.8 L461.5,333.9ZM460.9,331.6 L461.5,328.6 L464.0,328.9 L463.4,332.0ZM462.9,329.5 L463.5,326.5 L466.1,326.8 L465.4,329.9ZM463.5,334.3 L464.1,331.2 L466.6,331.7 L465.9,334.8ZM464.5,336.9 L465.7,331.5 L468.1,332.2 L466.7,337.6ZM466.5,327.5 L467.2,324.8 L469.7,325.7 L469.0,328.4ZM466.4,335.1 L467.1,332.0 L469.5,332.9 L468.7,335.9ZM467.5,330.5 L468.2,327.4 L470.7,328.3 L469.9,331.4ZM469.8,334.0 L471.2,328.8 L473.6,329.9 L472.1,335.0ZM472.5,335.6 L473.4,332.6 L475.7,333.8 L474.8,336.6ZM473.8,341.4 L474.8,338.5 L477.0,339.5 L475.9,342.4ZM475.8,339.9 L476.8,336.9 L479.1,337.9 L478.0,340.9ZM478.1,333.3 L479.0,330.7 L481.5,331.5 L480.5,334.1ZM475.6,344.8 L476.6,342.1 L478.7,343.2 L477.7,345.9ZM480.6,339.7 L481.9,336.6 L484.1,337.6 L482.8,340.8ZM479.1,347.5 L481.2,342.2 L483.3,343.4 L481.0,348.8ZM483.4,344.7 L484.8,341.3 L487.0,342.5 L485.4,345.9ZM483.4,348.2 L484.9,344.8 L486.9,346.1 L485.2,349.5ZM488.2,337.6 L489.6,334.5 L491.9,335.7 L490.5,338.8ZM483.3,351.5 L484.8,348.4 L486.2,350.7 L485.1,352.9ZM485.1,351.0 L486.4,348.4 L488.1,350.1 L486.8,352.6ZM487.8,348.7 L489.1,346.2 L490.8,348.0 L489.6,350.4ZM489.6,345.2 L490.7,343.1 L492.4,345.0 L491.3,347.0ZM487.9,351.6 L489.1,349.2 L490.9,350.9 L489.6,353.2ZM489.7,351.2 L491.8,347.3 L493.5,349.1 L491.5,352.7ZM488.4,356.4 L489.4,354.6 L491.2,355.8 L490.2,357.6ZM489.5,357.2 L490.5,355.4 L492.4,356.6 L491.3,358.4ZM490.9,354.7 L493.0,351.1 L495.0,352.2 L492.8,355.8ZM493.2,356.2 L494.6,354.0 L496.5,355.2 L495.1,357.4ZM496.0,351.7 L497.2,349.8 L499.3,351.0 L498.0,352.8ZM493.4,358.5 L494.8,356.3 L496.6,357.5 L495.2,359.8ZM497.3,352.4 L498.5,350.5 L500.6,351.7 L499.3,353.6ZM493.7,360.5 L494.9,358.6 L496.7,359.9 L495.3,361.8ZM501.0,354.6 L502.4,352.7 L504.3,354.1 L502.9,356.0ZM498.7,360.3 L500.3,358.0 L502.1,359.4 L500.4,361.7ZM501.0,357.1 L502.6,354.8 L504.5,356.3 L502.8,358.5ZM499.8,361.1 L501.4,358.9 L503.2,360.4 L501.5,362.6ZM498.6,364.9 L500.1,363.0 L501.7,364.4 L500.2,366.3ZM500.8,362.0 L502.5,359.8 L504.2,361.3 L502.5,363.5ZM506.6,359.2 L508.1,357.3 L510.3,358.5 L508.7,360.4ZM502.6,366.3 L505.8,362.4 L507.6,363.8 L504.2,367.7ZM507.6,364.6 L509.7,362.2 L511.7,363.5 L509.5,365.9ZM508.8,365.3 L512.6,361.1 L514.4,362.8 L510.4,366.9ZM509.8,366.3 L515.1,360.7 L516.3,363.0 L511.1,368.2ZM506.9,373.3 L510.2,369.9 L511.5,371.7 L508.3,374.9ZM511.8,370.2 L513.9,368.2 L515.2,370.1 L513.2,372.0ZM509.5,376.2 L511.2,374.6 L512.5,376.3 L510.8,377.8ZM516.2,369.9 L517.9,368.3 L519.3,370.2 L517.6,371.8ZM515.8,375.9 L517.8,374.2 L519.2,376.0 L517.2,377.6ZM516.0,379.2 L518.0,377.6 L519.4,379.4 L517.3,381.0ZM518.8,376.9 L520.9,375.3 L522.2,377.2 L520.2,378.8ZM518.2,379.2 L520.3,377.6 L521.6,379.4 L519.5,381.0ZM516.2,382.5 L518.2,380.9 L519.6,382.6 L517.5,384.1ZM518.4,382.4 L520.5,380.9 L521.8,382.7 L519.8,384.2ZM521.5,383.5 L525.0,381.1 L526.4,382.9 L522.9,385.3ZM522.4,384.6 L524.5,383.2 L525.8,385.0 L523.7,386.4ZM526.4,386.9 L528.6,385.6 L529.9,387.5 L527.7,388.8ZM525.8,388.9 L527.9,387.6 L529.1,389.6 L526.9,390.8ZM522.4,392.5 L524.2,391.4 L525.4,393.3 L523.5,394.3ZM525.0,394.1 L527.1,392.9 L528.2,394.8 L526.0,395.9ZM530.3,400.4 L532.4,399.5 L533.3,401.5 L531.1,402.4ZM533.0,399.2 L535.2,398.2 L536.2,400.3 L534.0,401.2ZM529.4,402.2 L531.5,401.3 L532.4,403.4 L530.2,404.3ZM529.2,405.2 L532.6,403.8 L533.4,405.9 L530.0,407.2ZM529.7,406.4 L531.6,405.7 L532.3,407.7 L530.4,408.4ZM535.4,404.3 L537.7,403.4 L538.6,405.6 L536.2,406.4ZM539.2,407.4 L541.3,406.7 L542.6,408.8 L540.3,409.5ZM534.5,410.4 L537.1,409.6 L538.1,411.7 L535.3,412.5ZM535.6,412.9 L538.5,412.1 L539.2,414.3 L536.3,415.0ZM540.7,423.1 L543.4,422.7 L543.0,425.1 L540.4,425.4ZM537.6,429.1 L539.6,428.9 L539.1,431.2 L537.2,431.3ZM536.5,431.9 L538.1,431.7 L537.3,434.0 L535.8,434.1ZM534.3,434.7 L535.2,434.6 L535.3,436.7 L534.4,436.8ZM534.3,436.0 L535.3,435.9 L535.3,438.0 L534.3,438.1ZM536.1,435.9 L537.4,435.8 L537.5,438.0 L536.2,438.0ZM536.3,439.8 L537.7,439.9 L537.8,442.0 L536.3,442.0ZM534.5,442.4 L536.0,442.5 L536.0,444.6 L534.5,444.6ZM537.2,443.9 L538.2,443.9 L538.3,446.1 L537.2,446.0ZM535.2,446.4 L536.7,446.5 L536.6,448.7 L535.1,448.5ZM534.3,450.2 L535.9,450.4 L535.7,452.6 L534.1,452.3ZM533.1,459.3 L534.8,459.7 L534.2,461.8 L532.6,461.4ZM535.8,459.9 L537.6,460.3 L536.9,462.4 L535.2,462.0ZM532.7,460.6 L535.3,461.1 L534.7,463.2 L532.2,462.6ZM532.4,461.8 L534.0,462.2 L533.4,464.3 L531.8,463.9ZM532.0,463.1 L533.6,463.5 L533.0,465.6 L531.5,465.1ZM533.2,464.8 L534.8,465.2 L534.1,467.3 L532.5,466.8ZM534.8,465.2 L536.0,465.5 L535.2,467.6 L534.0,467.2ZM532.8,466.0 L534.3,466.4 L533.5,468.5 L532.1,468.0ZM530.0,469.3 L531.4,469.7 L530.6,471.7 L529.3,471.2ZM531.2,469.7 L532.6,470.1 L531.7,472.1 L530.4,471.6ZM530.5,472.2 L531.8,472.7 L530.8,474.6 L529.6,474.2Z"/>
<path fill="#5aa0cf" d="M359.5,404.1 L358.2,403.6 L358.6,401.5 L360.0,402.1ZM360.1,398.9 L358.8,398.2 L359.5,396.2 L360.8,396.9ZM360.4,397.6 L359.1,396.9 L359.8,394.9 L361.1,395.6ZM360.7,396.3 L359.4,395.6 L360.2,393.6 L361.5,394.3ZM360.5,394.7 L359.2,394.0 L360.0,392.0 L361.3,392.7ZM362.5,391.4 L361.6,390.9 L362.5,388.9 L363.4,389.5ZM361.6,389.3 L360.3,388.5 L361.2,386.5 L362.5,387.3ZM360.4,388.6 L359.4,388.0 L360.4,385.9 L361.3,386.6ZM364.0,387.7 L362.5,386.7 L363.5,384.8 L365.0,385.9ZM363.0,383.8 L361.7,382.9 L362.7,380.9 L364.0,381.9ZM365.7,379.1 L364.3,378.0 L365.4,376.0 L366.8,377.2ZM366.2,377.8 L364.9,376.7 L366.0,374.7 L367.4,375.9ZM364.8,376.6 L363.7,375.7 L364.8,373.7 L365.9,374.6ZM367.8,375.5 L366.4,374.4 L368.2,372.9 L369.4,374.0ZM368.8,374.7 L367.6,373.6 L369.4,372.2 L370.5,373.2ZM371.8,373.7 L370.4,372.4 L372.1,371.0 L373.2,372.1ZM373.4,371.6 L372.8,370.9 L374.2,369.1 L374.9,369.9ZM373.0,371.1 L372.1,370.2 L373.3,368.2 L374.3,369.3ZM372.3,368.5 L371.6,367.7 L372.6,365.5 L373.4,366.3ZM375.2,369.5 L374.3,368.6 L375.8,366.9 L376.7,367.9ZM374.4,368.6 L373.3,367.5 L374.6,365.6 L375.7,366.8ZM372.8,366.9 L371.9,366.1 L373.0,363.9 L373.9,364.8ZM375.1,367.4 L373.9,366.2 L375.5,364.5 L376.6,365.8ZM377.0,367.4 L376.1,366.5 L377.7,364.9 L378.6,365.9ZM374.1,364.3 L373.2,363.3 L374.8,361.5 L375.7,362.6ZM375.9,362.0 L375.0,361.0 L376.7,359.3 L377.6,360.4ZM376.9,360.9 L376.0,359.8 L377.6,358.2 L378.5,359.3ZM380.1,360.4 L378.2,358.1 L379.8,356.3 L381.7,358.8ZM381.7,360.2 L380.5,358.7 L382.2,357.0 L383.3,358.7ZM383.1,355.0 L381.9,353.2 L383.7,351.6 L384.9,353.4ZM389.9,355.0 L388.6,352.9 L390.5,351.6 L391.7,353.8ZM394.1,354.0 L392.8,351.7 L394.8,350.7 L396.1,353.1ZM396.6,353.0 L395.4,350.7 L397.6,350.0 L398.7,352.1ZM397.9,352.5 L395.0,346.7 L397.4,346.3 L399.9,351.7ZM399.2,352.0 L398.2,350.0 L400.4,349.4 L401.2,351.2ZM400.6,348.6 L399.6,346.4 L401.7,345.4 L402.6,347.6ZM403.1,347.3 L401.5,343.6 L403.7,342.6 L405.1,346.3ZM403.7,345.2 L402.8,342.9 L405.0,341.9 L405.8,344.2ZM405.0,344.5 L404.1,342.3 L406.3,341.3 L407.1,343.5ZM406.3,343.8 L405.4,341.6 L407.6,340.7 L408.4,342.9ZM407.6,343.2 L406.8,341.0 L409.0,340.0 L409.7,342.3ZM406.5,340.2 L405.8,338.3 L408.1,337.4 L408.7,339.3ZM408.9,342.6 L408.1,340.3 L410.3,339.4 L411.0,341.7ZM412.8,340.8 L412.1,338.5 L414.4,337.6 L415.0,339.9ZM416.2,342.6 L415.6,340.3 L417.9,339.6 L418.4,341.8ZM415.5,339.6 L414.9,337.3 L417.1,336.5 L417.7,338.8ZM414.7,336.6 L414.2,334.7 L416.5,333.9 L417.0,335.8ZM418.9,341.5 L418.3,339.2 L420.6,338.5 L421.0,340.8ZM417.5,335.5 L417.0,333.6 L419.4,332.9 L419.8,334.8ZM418.9,335.0 L418.5,333.1 L420.8,332.3 L421.2,334.2ZM420.3,334.4 L419.9,332.5 L422.3,331.6 L422.6,333.5ZM422.0,335.2 L421.3,331.7 L423.7,330.8 L424.3,334.4ZM424.8,333.9 L424.4,331.5 L426.8,330.7 L427.1,333.2ZM432.2,332.7 L431.9,330.1 L434.4,329.5 L434.6,332.2ZM433.6,332.2 L433.4,329.6 L435.9,329.1 L436.0,331.7ZM439.7,334.4 L439.6,331.6 L442.1,331.3 L442.1,334.0ZM441.1,330.1 L441.1,327.3 L443.7,327.4 L443.6,330.2ZM442.6,335.6 L442.6,333.3 L445.0,333.3 L445.0,335.7ZM442.6,332.1 L442.7,329.3 L445.2,329.4 L445.1,332.2ZM444.2,328.2 L444.3,325.5 L446.9,325.6 L446.7,328.4ZM457.3,335.4 L457.7,332.5 L460.1,332.9 L459.6,335.8ZM457.9,331.3 L458.3,328.4 L460.9,328.7 L460.4,331.6ZM458.4,337.4 L458.8,334.9 L461.2,335.3 L460.7,337.9ZM459.8,337.7 L460.3,335.2 L462.7,335.7 L462.1,338.3ZM464.9,327.4 L465.5,324.7 L468.2,325.0 L467.5,327.7ZM466.0,329.9 L466.7,326.7 L469.2,327.6 L468.5,330.7ZM466.9,332.8 L467.7,329.7 L470.1,330.6 L469.3,333.6ZM468.6,338.4 L469.4,335.5 L471.7,336.4 L470.8,339.4ZM469.9,339.1 L470.8,336.2 L473.0,337.2 L472.1,340.1ZM471.2,339.9 L472.7,334.8 L475.0,335.9 L473.4,340.9ZM473.2,333.4 L474.0,330.5 L476.4,331.6 L475.4,334.5ZM472.5,340.7 L473.4,337.7 L475.6,338.8 L474.6,341.7ZM474.5,334.2 L476.0,329.6 L478.4,330.5 L476.8,335.2ZM473.2,343.2 L474.0,340.6 L476.2,341.7 L475.3,344.3ZM476.3,342.9 L477.4,339.9 L479.6,340.9 L478.4,344.0ZM478.0,346.5 L480.0,341.4 L482.1,342.6 L479.9,347.8ZM480.9,342.9 L483.3,337.3 L485.5,338.4 L483.0,344.2ZM484.0,335.6 L485.1,332.7 L487.5,333.7 L486.3,336.6ZM480.2,348.5 L481.4,345.6 L483.4,346.9 L482.0,349.8ZM482.2,343.8 L484.6,338.0 L486.9,339.1 L484.2,345.0ZM485.8,342.9 L487.3,339.5 L489.5,340.7 L487.8,344.1ZM488.8,343.6 L489.8,341.3 L491.5,343.5 L490.4,345.6ZM486.0,352.2 L488.2,348.0 L489.9,349.7 L487.8,353.7ZM488.7,346.9 L490.0,344.5 L491.7,346.3 L490.4,348.7ZM487.0,353.3 L488.3,350.9 L490.0,352.5 L488.7,354.8ZM488.9,352.8 L490.1,350.5 L491.9,352.0 L490.6,354.2ZM489.0,355.2 L490.3,353.1 L492.1,354.4 L490.8,356.5ZM492.4,349.3 L493.4,347.5 L495.3,349.0 L494.2,350.8ZM490.1,356.1 L491.3,354.0 L493.2,355.2 L491.9,357.3ZM492.6,351.8 L494.5,348.6 L496.6,349.7 L494.6,352.9ZM494.7,351.0 L495.8,349.2 L497.9,350.3 L496.8,352.1ZM494.2,354.7 L495.5,352.5 L497.5,353.7 L496.1,355.9ZM494.4,356.9 L495.8,354.7 L497.7,356.0 L496.2,358.2ZM497.7,359.4 L499.2,357.1 L501.0,358.5 L499.4,360.8ZM497.6,364.0 L500.2,360.5 L502.0,361.9 L499.3,365.4ZM502.1,358.0 L504.7,354.5 L506.6,356.0 L503.9,359.4ZM499.6,363.6 L501.3,361.4 L503.0,362.9 L501.2,365.0ZM503.2,358.9 L505.9,355.4 L507.7,356.9 L505.0,360.4ZM500.6,364.5 L502.3,362.3 L504.0,363.8 L502.2,366.0ZM503.0,361.4 L507.0,356.3 L508.8,357.9 L504.7,362.9ZM501.5,365.4 L503.3,363.3 L505.1,364.6 L503.2,366.8ZM505.3,360.7 L507.1,358.6 L509.2,359.8 L507.3,362.0ZM501.5,367.6 L503.1,365.7 L504.7,367.1 L503.0,369.1ZM505.3,363.1 L508.5,359.2 L510.6,360.4 L507.1,364.4ZM502.4,368.6 L504.1,366.6 L505.7,368.0 L503.9,370.0ZM506.5,363.8 L509.9,359.8 L511.9,361.1 L508.3,365.1ZM503.3,369.5 L505.1,367.4 L506.7,368.9 L504.8,371.0ZM509.2,362.8 L512.5,359.0 L514.7,360.3 L511.1,364.1ZM504.2,370.5 L506.1,368.4 L507.6,369.9 L505.7,372.0ZM505.1,371.4 L507.0,369.3 L508.4,371.0 L506.5,372.9ZM508.1,368.1 L510.3,365.8 L511.7,367.7 L509.5,369.9ZM506.0,372.4 L509.4,368.7 L510.8,370.5 L507.4,373.9ZM511.2,368.9 L516.1,363.9 L517.2,366.2 L512.4,370.8ZM508.9,373.1 L510.9,371.1 L512.3,372.9 L510.3,374.7ZM513.3,368.8 L516.5,365.6 L517.7,367.7 L514.6,370.7ZM514.0,370.1 L517.1,367.1 L518.5,369.0 L515.4,371.9ZM510.6,375.2 L512.6,373.3 L514.0,375.0 L511.9,376.8ZM513.6,376.0 L515.6,374.2 L517.0,376.0 L514.9,377.7ZM516.4,373.5 L518.4,371.8 L519.8,373.7 L517.7,375.4ZM514.4,377.1 L516.4,375.4 L517.8,377.1 L515.7,378.8ZM513.8,379.3 L521.1,373.2 L522.5,375.1 L515.1,381.0ZM514.3,382.3 L516.0,380.9 L517.3,382.6 L515.6,384.0ZM521.9,378.1 L523.6,376.8 L524.9,378.7 L523.2,380.0ZM517.0,383.5 L519.1,382.0 L520.4,383.7 L518.3,385.2ZM517.9,384.5 L521.3,382.0 L522.7,383.8 L519.2,386.2ZM523.5,380.5 L525.2,379.2 L526.6,381.1 L524.8,382.3ZM525.2,382.7 L527.0,381.5 L528.4,383.3 L526.6,384.5ZM521.8,386.6 L523.9,385.2 L525.2,387.0 L523.1,388.4ZM524.1,386.7 L527.7,384.4 L529.0,386.3 L525.4,388.6ZM523.5,388.7 L525.6,387.4 L526.9,389.3 L524.7,390.6ZM527.9,386.0 L529.7,384.9 L531.0,386.8 L529.2,387.9ZM528.0,389.2 L530.1,388.0 L531.2,390.0 L529.1,391.2ZM531.4,392.1 L533.2,391.2 L534.2,393.3 L532.4,394.2ZM533.2,396.0 L535.0,395.1 L535.9,397.3 L534.2,398.1ZM531.0,398.6 L533.2,397.6 L534.1,399.7 L532.0,400.6ZM533.8,397.3 L535.6,396.5 L536.6,398.6 L534.8,399.4ZM527.8,401.5 L531.0,400.1 L531.9,402.1 L528.6,403.5ZM535.1,399.8 L536.9,399.1 L537.9,401.2 L536.0,401.9ZM531.9,404.1 L534.1,403.3 L534.9,405.4 L532.6,406.2ZM536.3,402.4 L538.2,401.6 L539.1,403.8 L537.2,404.5ZM530.1,407.7 L532.0,407.0 L532.8,409.0 L530.7,409.7ZM538.2,406.2 L540.3,405.5 L541.6,407.6 L539.4,408.3ZM539.0,410.5 L541.7,409.7 L542.9,411.8 L540.0,412.6ZM531.8,414.0 L534.3,413.3 L534.9,415.4 L532.3,416.1ZM538.2,413.6 L541.2,412.8 L541.5,415.2 L538.6,415.9ZM542.5,412.5 L545.1,411.8 L545.4,414.2 L542.9,414.8ZM538.4,415.0 L543.4,413.7 L543.7,416.1 L538.7,417.3ZM532.8,419.1 L537.3,418.1 L537.6,420.3 L533.2,421.2ZM534.6,420.1 L537.5,419.5 L537.7,421.7 L534.9,422.2ZM533.2,421.7 L535.6,421.2 L535.9,423.4 L533.5,423.8ZM538.8,420.6 L541.6,420.1 L541.8,422.4 L539.0,422.9ZM533.7,425.6 L535.8,425.3 L535.9,427.4 L533.9,427.7ZM536.8,425.1 L539.3,424.7 L539.1,427.0 L536.7,427.3ZM536.6,426.5 L539.0,426.2 L538.8,428.4 L536.5,428.7ZM536.5,427.9 L538.7,427.6 L538.4,429.8 L536.3,430.1ZM540.1,428.8 L541.8,428.6 L541.0,431.0 L539.5,431.1ZM534.3,433.4 L535.3,433.3 L535.3,435.4 L534.4,435.5ZM535.1,433.3 L536.6,433.2 L536.3,435.4 L535.0,435.4ZM534.5,441.1 L535.9,441.2 L535.9,443.3 L534.5,443.3ZM535.2,442.5 L536.6,442.5 L536.6,444.7 L535.2,444.6ZM537.3,445.2 L538.4,445.3 L538.4,447.5 L537.3,447.4ZM535.9,446.4 L537.4,446.6 L537.4,448.7 L535.8,448.6ZM535.9,449.1 L537.5,449.3 L537.4,451.4 L535.8,451.2ZM534.1,452.8 L535.7,453.1 L535.5,455.2 L533.8,454.9ZM533.6,456.7 L535.3,457.1 L534.9,459.2 L533.2,458.8ZM536.4,457.3 L538.2,457.6 L537.8,459.8 L536.1,459.4ZM532.8,457.9 L534.1,458.2 L533.7,460.3 L532.3,460.0ZM534.3,458.2 L536.1,458.6 L535.5,460.7 L533.8,460.3ZM532.5,459.2 L533.8,459.5 L533.3,461.5 L532.0,461.2ZM531.3,465.6 L532.8,466.0 L532.1,468.1 L530.6,467.6ZM533.5,466.2 L535.0,466.7 L534.2,468.7 L532.8,468.3ZM530.9,466.8 L532.4,467.3 L531.6,469.3 L530.2,468.8ZM533.0,467.5 L534.5,467.9 L533.6,469.9 L532.2,469.5ZM530.4,468.0 L531.9,468.5 L531.1,470.5 L529.7,470.0ZM532.4,468.7 L533.8,469.1 L532.9,471.1 L531.5,470.7ZM529.8,469.2 L530.8,469.5 L530.0,471.5 L529.1,471.2ZM530.6,469.5 L532.0,469.9 L531.1,471.9 L529.8,471.4ZM532.4,470.1 L533.4,470.4 L532.4,472.4 L531.5,472.0Z"/>
<path fill="#2a6fb0" d="M476.8,345.6 L477.9,342.9 L479.9,344.1 L478.8,346.8ZM480.2,336.7 L481.3,333.6 L483.7,334.6 L482.5,337.7ZM479.7,342.1 L480.9,339.0 L483.1,340.1 L481.8,343.3ZM483.0,338.0 L484.3,334.8 L486.6,335.9 L485.2,339.1ZM481.3,349.5 L482.6,346.5 L484.5,347.8 L483.1,350.8ZM484.4,349.2 L486.1,345.7 L487.1,348.8 L485.9,351.4ZM489.6,338.3 L491.0,335.3 L490.7,341.8 L489.6,344.0ZM487.8,345.4 L489.1,342.8 L490.8,344.9 L489.5,347.3ZM489.9,353.8 L491.1,351.6 L492.9,353.0 L491.7,355.1ZM493.0,353.9 L495.1,350.3 L497.2,351.5 L494.9,355.1ZM494.5,359.3 L495.9,357.1 L497.7,358.4 L496.2,360.6ZM502.2,355.5 L503.5,353.6 L505.4,355.0 L504.0,356.9ZM499.6,365.8 L501.1,363.9 L502.7,365.3 L501.2,367.2ZM500.5,366.7 L502.0,364.8 L503.7,366.2 L502.1,368.1ZM503.6,367.2 L505.5,364.9 L507.3,366.3 L505.2,368.6ZM512.1,366.0 L514.3,363.7 L515.5,365.9 L513.3,368.0ZM514.8,371.2 L516.8,369.4 L518.2,371.2 L516.2,373.0ZM515.1,383.3 L516.8,382.0 L518.2,383.7 L516.4,384.9Z"/>
<path fill="#5aa0cf" d="M407.7,524.6 L407.5,525.1 L405.2,524.2 L405.6,523.5ZM399.5,519.6 L398.6,521.3 L396.5,520.2 L397.5,518.3ZM392.0,516.7 L390.3,519.4 L388.1,518.1 L390.0,515.4ZM377.1,502.5 L375.4,504.1 L373.8,502.3 L375.3,500.8ZM373.6,503.6 L372.0,505.0 L370.7,502.9 L372.1,501.6ZM373.5,499.3 L372.2,500.5 L370.7,498.6 L371.8,497.6ZM372.3,498.2 L371.2,499.2 L369.7,497.3 L370.7,496.5ZM371.2,497.1 L370.2,497.9 L368.7,496.0 L369.6,495.4ZM368.6,495.1 L367.9,495.6 L366.9,493.4 L367.4,493.0Z"/>
<path fill="#a8122a" d="M407.8,524.4 L407.5,525.1 L405.1,524.6 L405.6,523.5ZM406.3,523.8 L405.8,524.9 L403.4,524.5 L404.1,522.9ZM404.5,523.8 L404.1,524.8 L401.7,524.3 L402.2,523.1ZM403.5,522.2 L403.0,523.3 L400.8,522.3 L401.5,521.0ZM403.0,523.4 L402.4,524.6 L400.0,524.0 L400.7,522.6ZM402.2,521.3 L401.5,522.7 L399.3,521.7 L400.1,520.1ZM397.5,519.9 L395.7,523.3 L393.3,522.4 L395.4,518.7ZM396.9,517.8 L395.7,519.8 L393.6,518.6 L394.9,516.5ZM393.1,515.1 L391.6,517.4 L389.5,516.1 L391.1,513.7ZM391.8,514.1 L390.2,516.5 L388.2,515.2 L389.9,512.8ZM389.3,517.9 L387.7,520.3 L385.5,519.0 L387.2,516.6ZM390.5,513.2 L388.8,515.6 L386.9,514.2 L388.7,511.8ZM387.8,517.1 L386.2,519.5 L384.0,518.1 L385.8,515.7ZM386.5,516.2 L384.7,518.6 L382.6,517.2 L384.4,514.8ZM388.0,511.3 L384.6,515.9 L382.6,514.4 L386.2,509.9ZM386.8,510.4 L384.9,512.8 L383.0,511.3 L385.0,508.9ZM383.8,514.3 L381.9,516.7 L379.9,515.1 L381.9,512.7ZM385.6,509.4 L383.7,511.8 L381.8,510.2 L383.7,507.9ZM384.3,508.4 L382.4,510.8 L380.6,509.2 L382.5,507.0ZM383.1,507.5 L381.2,509.7 L379.4,508.1 L381.3,506.0ZM381.9,506.5 L380.0,508.6 L378.2,507.0 L380.1,505.0ZM380.7,505.5 L377.2,509.3 L375.5,507.5 L378.9,504.0ZM379.5,504.5 L376.1,508.0 L374.5,506.2 L377.7,502.9ZM377.1,504.7 L373.8,508.0 L372.3,505.9 L375.4,503.0ZM374.6,504.9 L372.9,506.5 L371.5,504.4 L373.1,503.0ZM375.9,501.4 L374.3,502.9 L372.7,501.1 L374.2,499.8ZM374.7,500.4 L371.2,503.5 L369.9,501.3 L373.0,498.7ZM371.8,498.7 L370.3,499.9 L369.0,497.9 L370.3,496.8ZM369.9,496.2 L368.5,497.2 L367.5,495.0 L368.4,494.2ZM368.9,494.9 L368.3,495.4 L366.9,493.4 L367.3,493.1Z"/>
<path fill="#f4a582" d="M406.3,523.8 L406.0,524.5 L403.7,523.6 L404.2,522.7ZM404.8,523.2 L404.2,524.6 L401.9,523.8 L402.6,522.3ZM398.3,522.0 L397.3,523.7 L394.9,522.9 L396.0,521.0ZM396.1,519.1 L394.8,521.5 L392.5,520.4 L394.1,518.0ZM389.3,515.0 L387.4,517.7 L385.3,516.4 L387.3,513.6ZM388.0,514.1 L386.0,516.8 L384.0,515.4 L386.1,512.6ZM385.1,515.3 L383.3,517.7 L381.2,516.2 L383.1,513.8ZM378.3,503.5 L376.5,505.3 L374.8,503.5 L376.5,501.9ZM376.0,503.5 L374.0,505.4 L372.5,503.5 L374.3,501.8ZM374.9,502.4 L373.0,504.1 L371.5,502.1 L373.3,500.6ZM370.9,499.4 L369.8,500.4 L368.6,498.2 L369.6,497.4ZM370.8,497.4 L369.5,498.5 L368.2,496.4 L369.4,495.5ZM368.9,494.9 L367.9,495.6 L366.7,493.5 L367.5,492.9Z"/>
<path fill="#f7f4f2" d="M404.9,523.0 L404.5,524.0 L402.3,523.0 L402.8,521.8ZM403.3,522.6 L402.6,524.2 L400.3,523.4 L401.1,521.6ZM401.9,522.0 L400.7,524.4 L398.3,523.7 L399.7,520.9ZM400.8,520.5 L399.4,523.2 L397.2,522.3 L398.8,519.2ZM394.7,518.4 L392.4,522.3 L390.1,521.3 L392.7,517.1ZM393.4,517.6 L391.8,520.2 L389.6,518.9 L391.3,516.3ZM380.5,508.0 L378.3,510.5 L376.6,508.7 L378.8,506.4ZM370.0,496.0 L369.2,496.7 L367.8,494.7 L368.4,494.2Z"/>
<path fill="#d6604d" d="M399.8,522.5 L399.0,524.1 L396.6,523.3 L397.5,521.6ZM399.0,520.6 L397.9,522.7 L395.6,521.7 L396.9,519.5ZM394.3,516.0 L392.9,518.2 L390.9,517.0 L392.4,514.6ZM389.3,512.3 L387.5,514.7 L385.6,513.3 L387.4,510.8ZM385.4,512.2 L383.3,514.9 L381.4,513.3 L383.5,510.7ZM382.9,510.1 L379.3,514.5 L377.5,512.7 L381.1,508.6ZM381.7,509.1 L378.1,513.3 L376.3,511.5 L379.9,507.5ZM376.6,507.5 L374.8,509.4 L373.2,507.4 L375.0,505.6ZM372.8,499.9 L370.5,502.0 L369.2,499.8 L371.3,498.1ZM370.1,498.0 L369.1,498.8 L368.0,496.6 L368.8,495.9Z"/>
<path fill="#fbd0bb" d="M398.2,518.7 L397.2,520.6 L395.0,519.4 L396.2,517.4ZM395.2,520.8 L394.0,522.9 L391.7,521.9 L393.0,519.8ZM378.9,509.9 L377.0,512.0 L375.2,510.1 L377.1,508.1ZM377.7,508.7 L375.9,510.7 L374.2,508.8 L376.1,506.9Z"/>
<path fill="#a9cfe5" d="M395.6,516.9 L394.3,519.1 L392.3,517.8 L393.7,515.6ZM392.2,519.5 L390.8,521.7 L388.5,520.6 L390.0,518.3ZM390.7,518.7 L389.2,521.1 L387.0,519.8 L388.6,517.5ZM390.6,515.9 L388.8,518.6 L386.7,517.3 L388.6,514.5ZM384.2,511.2 L380.6,515.6 L378.7,513.9 L382.3,509.6Z"/>
<path fill="#a8122a" d="M495.6,519.0 L497.0,521.0 L494.6,522.6 L493.3,520.5ZM485.3,525.1 L486.4,527.3 L483.8,528.6 L482.7,526.4ZM483.5,526.0 L484.5,528.2 L481.9,529.5 L480.9,527.2ZM481.6,526.9 L482.7,529.1 L481.3,529.8 L480.3,527.5Z"/>
<path fill="#f4a582" d="M494.0,520.1 L495.3,522.2 L492.8,523.7 L491.5,521.6Z"/>
<path fill="#d6604d" d="M492.3,521.1 L493.6,523.3 L491.1,524.8 L489.8,522.6ZM487.0,524.2 L488.2,526.4 L485.6,527.7 L484.5,525.5Z"/>
<path fill="#5aa0cf" d="M490.5,522.2 L491.8,524.3 L489.3,525.8 L488.1,523.6Z"/>
<path fill="#f7f4f2" d="M488.8,523.2 L490.0,525.4 L487.5,526.8 L486.3,524.6Z"/>
<path d="M441.6,353.3 L453.0,355.1 L464.4,358.0 L473.7,360.1 L479.5,363.1 L485.4,366.6 L491.2,370.1 L495.9,373.6 L497.1,378.3 L495.9,381.8 L499.4,384.1 L505.2,385.3 L508.7,390.0 L513.4,394.6 L516.9,399.3 L519.3,404.0 L521.0,408.6 L522.3,423.5 L523.2,431.1 L526.1,439.6 L527.0,451.0 L523.2,460.5 L518.1,474.6 L513.4,484.0 L506.4,493.3 L499.4,500.3 L490.1,507.3 L480.7,512.0 L471.4,515.5 L462.0,517.8 L452.7,519.6 L442.0,518.4 L425.9,517.4 L414.5,511.7 L403.1,502.2 L391.7,490.8 L382.2,477.6 L376.5,464.3 L370.8,451.0 L368.9,439.6 L369.6,424.6 L369.6,412.2 L375.6,411.6 L372.6,401.6 L373.1,390.0 L373.7,383.0 L379.5,374.8 L385.4,366.6 L394.7,361.1 L406.5,358.1 L417.9,355.8 L429.3,354.1 Z" fill="#b3b3b3"/>
<path d="M441.6,376.8 L443.6,377.8 L445.7,378.3 L447.9,379.0 L450.3,378.9 L452.7,379.1 L455.0,378.3 L456.4,379.5 L458.0,379.5 L459.7,379.5 L460.9,381.1 L463.3,380.7 L464.4,382.4 L466.0,383.1 L467.1,384.6 L469.0,384.7 L471.4,385.0 L473.7,384.7 L475.4,385.0 L476.7,383.2 L478.4,383.5 L479.5,386.5 L480.7,388.5 L481.9,390.5 L483.5,389.5 L485.4,389.4 L486.9,389.8 L488.5,390.3 L490.1,390.5 L492.0,390.3 L493.4,391.2 L494.7,392.3 L497.1,392.2 L499.4,392.9 L501.0,393.9 L502.9,393.5 L504.1,395.8 L503.0,397.4 L502.9,399.3 L504.1,400.9 L504.1,402.8 L504.1,404.7 L505.2,406.3 L506.4,407.8 L506.4,409.8 L506.5,412.2 L507.0,414.5 L505.2,416.0 L502.9,416.2 L501.1,417.3 L499.0,415.9 L497.1,416.8 L495.3,417.9 L493.3,418.5 L491.2,418.6 L493.4,419.8 L495.9,419.2 L497.8,420.0 L499.8,419.2 L501.7,419.7 L503.3,420.8 L505.2,420.3 L504.1,422.7 L505.2,423.9 L506.2,425.3 L507.6,426.2 L509.1,427.0 L509.4,429.1 L511.1,429.7 L512.7,431.1 L514.6,432.0 L514.7,434.1 L516.3,435.5 L515.9,437.7 L516.9,439.6 L516.9,441.3 L516.3,442.8 L515.7,444.3 L516.7,446.1 L517.1,448.0 L516.9,450.1 L517.1,452.3 L516.1,454.1 L515.2,456.0 L514.3,457.4 L514.5,459.3 L512.7,460.2 L512.2,461.8 L511.7,463.5 L511.0,465.1 L509.9,466.5 L508.3,467.7 L507.6,469.6 L506.4,471.1 L505.9,473.2 L504.9,475.0 L504.1,477.0 L503.0,478.4 L503.2,480.4 L501.7,481.6 L500.1,482.6 L500.7,485.0 L498.7,485.8 L498.2,487.5 L496.5,488.9 L495.9,491.0 L494.9,492.9 L492.5,492.9 L491.2,494.5 L489.4,495.5 L487.3,495.9 L485.4,496.8 L483.6,498.1 L481.6,498.4 L479.5,498.0 L477.7,499.1 L475.4,498.3 L473.7,499.7 L471.8,500.4 L469.8,499.6 L467.9,500.3 L466.1,499.0 L464.2,498.4 L462.0,498.6 L460.0,498.3 L458.1,497.6 L456.2,496.8 L454.5,496.2 L452.7,495.7 L452.9,493.3 L452.1,491.0 L453.8,488.7 L453.7,486.7 L455.0,485.1 L455.7,483.4 L455.6,481.6 L455.5,479.7 L454.4,478.1 L454.1,476.1 L452.7,474.6 L450.8,475.8 L448.5,474.5 L446.6,475.6 L444.8,476.0 L443.2,475.2 L441.6,474.6 L439.7,473.7 L437.8,472.6 L435.6,472.6 L434.0,472.5 L432.6,471.2 L430.9,471.6 L429.1,472.5 L427.4,473.5 L426.5,474.9 L425.1,475.8 L423.4,475.5 L421.8,475.2 L420.4,474.1 L419.0,475.2 L417.4,475.4 L415.7,475.2 L413.5,474.3 L411.1,474.1 L410.0,472.6 L407.9,473.1 L406.3,472.6 L405.2,471.1 L404.2,469.2 L402.2,468.7 L400.6,467.6 L399.6,466.1 L398.6,464.8 L398.2,463.0 L397.6,461.0 L397.2,458.9 L395.9,457.1 L396.2,455.5 L396.5,453.9 L397.0,452.4 L395.7,450.3 L395.9,447.8 L393.9,447.6 L392.4,448.9 L391.2,450.4 L389.3,450.5 L387.7,451.3 L386.7,449.2 L384.8,447.8 L384.4,445.9 L385.4,444.3 L386.2,442.8 L386.9,441.4 L386.5,439.6 L387.1,437.2 L387.8,435.8 L388.6,434.3 L388.0,432.4 L389.2,431.1 L389.4,429.4 L389.2,427.6 L390.2,426.0 L390.2,424.1 L389.1,422.6 L387.3,422.6 L385.6,421.8 L383.8,422.4 L382.0,422.9 L381.1,420.8 L379.0,420.1 L380.0,418.4 L380.5,416.7 L380.0,414.7 L378.3,413.8 L376.6,412.7 L374.9,411.7 L374.1,410.2 L372.7,409.3 L371.6,408.1 L370.3,406.8 L369.6,405.1 L368.8,403.5 L367.6,401.7 L367.5,399.6 L367.1,397.6 L367.5,395.2 L366.1,393.1 L367.1,395.0 L369.1,395.6 L370.8,397.4 L371.9,398.6 L373.3,399.5 L374.6,400.6 L376.0,401.5 L377.6,402.3 L378.3,404.0 L380.3,404.8 L381.9,406.3 L383.4,407.9 L385.4,408.7 L386.6,410.1 L388.6,410.0 L390.0,411.0 L391.6,412.1 L393.5,412.2 L395.0,413.8 L397.0,414.5 L398.3,415.9 L400.0,416.8 L401.7,414.5 L404.0,413.9 L406.3,414.5 L408.7,414.5 L410.4,414.6 L411.8,413.5 L413.4,413.3 L415.4,412.5 L416.9,411.0 L418.5,410.0 L420.4,409.8 L419.2,407.5 L419.8,405.1 L420.1,402.8 L420.4,400.5 L420.6,398.7 L419.8,397.0 L421.0,395.4 L421.6,393.5 L422.5,392.1 L424.5,391.7 L425.1,390.0 L426.5,388.4 L427.4,386.5 L428.7,385.0 L429.0,382.8 L430.9,381.8 L432.7,380.7 L434.4,379.5 L436.0,378.5 L437.9,378.3 L439.9,377.8 Z" fill="#fff" stroke="#4f87ae" stroke-width="1.5" stroke-linejoin="round"/>
<path d="M400.0,416.8 L401.7,414.5 L404.0,413.9 L406.3,414.7 L408.7,414.5 L410.4,414.6 L411.8,413.7 L413.4,413.3 L414.9,411.8 L416.9,411.0 L418.4,409.6 L420.4,409.8 L422.0,411.0 L423.9,411.6 L425.6,412.6 L425.3,414.4 L426.0,416.1 L425.5,417.9 L426.0,419.6 L425.7,421.2 L424.4,422.4 L423.9,424.0 L423.6,425.6 L422.2,426.7 L420.6,427.5 L418.9,428.4 L417.6,429.6 L416.4,431.0 L414.6,431.5 L412.8,432.2 L411.6,433.6 L409.9,434.3 L408.0,433.8 L406.3,434.3 L404.6,434.9 L403.7,433.1 L401.7,432.2 L400.6,430.6 L399.7,428.9 L400.6,427.0 L400.3,425.3 L399.6,423.6 L399.6,421.9 L399.2,420.2 L399.4,418.5 Z" fill="#eef6fb" stroke="#5b8db2" stroke-width="1.1"/>
<path d="M453.8,477.2 L452.0,477.5 L450.2,477.8 L448.3,477.0 L446.5,477.2 L444.4,477.4 L442.6,476.1 L440.6,475.7 L438.6,475.4 L436.6,475.5 L434.8,474.3 L432.6,473.5 L430.4,472.8 L428.5,473.2 L426.8,472.1 L424.6,471.4 L423.8,468.4 L424.8,466.9 L426.0,465.5 L426.6,463.6 L428.2,462.6 L428.6,460.8 L430.0,459.6 L431.1,458.2 L432.6,456.7 L433.3,454.6 L434.1,452.4 L436.3,453.8 L437.5,455.0 L437.7,456.8 L439.3,457.1 L440.6,458.2 L442.0,459.1 L443.5,459.7 L444.7,461.0 L446.5,461.1 L447.9,462.0 L449.4,462.6 L450.3,464.0 L450.9,465.5 L450.6,467.6 L452.5,469.3 L452.3,471.4 L452.2,473.5 L453.6,475.2 Z" fill="#eef6fb" stroke="#5b8db2" stroke-width="1.1"/>
<line x1="441.60" y1="408.42" x2="441.60" y2="309.80" stroke="#000" stroke-width="0.6"/>
<line x1="441.6" y1="408.4" x2="441.6" y2="405.4" stroke="#111" stroke-width="1.6"/>
<line x1="441.6" y1="309.8" x2="441.6" y2="312.3" stroke="#111" stroke-width="1.6"/>
<line x1="457.19" y1="412.60" x2="506.50" y2="327.19" stroke="#000" stroke-width="0.6"/>
<line x1="457.2" y1="412.6" x2="458.7" y2="410.0" stroke="#111" stroke-width="1.6"/>
<line x1="506.5" y1="327.2" x2="505.2" y2="329.4" stroke="#111" stroke-width="1.6"/>
<line x1="468.60" y1="424.01" x2="554.01" y2="374.70" stroke="#000" stroke-width="0.6"/>
<line x1="468.6" y1="424.0" x2="471.2" y2="422.5" stroke="#111" stroke-width="1.6"/>
<line x1="554.0" y1="374.7" x2="551.8" y2="375.9" stroke="#111" stroke-width="1.6"/>
<line x1="472.78" y1="439.60" x2="571.40" y2="439.60" stroke="#000" stroke-width="0.6"/>
<line x1="472.8" y1="439.6" x2="475.8" y2="439.6" stroke="#111" stroke-width="1.6"/>
<line x1="571.4" y1="439.6" x2="568.9" y2="439.6" stroke="#111" stroke-width="1.6"/>
<line x1="468.60" y1="455.19" x2="554.01" y2="504.50" stroke="#000" stroke-width="0.6"/>
<line x1="468.6" y1="455.2" x2="471.2" y2="456.7" stroke="#111" stroke-width="1.6"/>
<line x1="554.0" y1="504.5" x2="551.8" y2="503.2" stroke="#111" stroke-width="1.6"/>
<line x1="457.19" y1="466.60" x2="506.50" y2="552.01" stroke="#000" stroke-width="0.6"/>
<line x1="457.2" y1="466.6" x2="458.7" y2="469.2" stroke="#111" stroke-width="1.6"/>
<line x1="506.5" y1="552.0" x2="505.2" y2="549.8" stroke="#111" stroke-width="1.6"/>
<line x1="441.60" y1="470.78" x2="441.60" y2="569.40" stroke="#000" stroke-width="0.6"/>
<line x1="441.6" y1="470.8" x2="441.6" y2="473.8" stroke="#111" stroke-width="1.6"/>
<line x1="441.6" y1="569.4" x2="441.6" y2="566.9" stroke="#111" stroke-width="1.6"/>
<line x1="426.01" y1="466.60" x2="376.70" y2="552.01" stroke="#000" stroke-width="0.6"/>
<line x1="426.0" y1="466.6" x2="424.5" y2="469.2" stroke="#111" stroke-width="1.6"/>
<line x1="376.7" y1="552.0" x2="377.9" y2="549.8" stroke="#111" stroke-width="1.6"/>
<line x1="414.60" y1="455.19" x2="329.19" y2="504.50" stroke="#000" stroke-width="0.6"/>
<line x1="414.6" y1="455.2" x2="412.0" y2="456.7" stroke="#111" stroke-width="1.6"/>
<line x1="329.2" y1="504.5" x2="331.4" y2="503.3" stroke="#111" stroke-width="1.6"/>
<line x1="410.42" y1="439.60" x2="311.80" y2="439.60" stroke="#000" stroke-width="0.6"/>
<line x1="410.4" y1="439.6" x2="407.4" y2="439.6" stroke="#111" stroke-width="1.6"/>
<line x1="311.8" y1="439.6" x2="314.3" y2="439.6" stroke="#111" stroke-width="1.6"/>
<line x1="414.60" y1="424.01" x2="329.19" y2="374.70" stroke="#000" stroke-width="0.6"/>
<line x1="414.6" y1="424.0" x2="412.0" y2="422.5" stroke="#111" stroke-width="1.6"/>
<line x1="329.2" y1="374.7" x2="331.4" y2="375.9" stroke="#111" stroke-width="1.6"/>
<line x1="426.01" y1="412.60" x2="376.70" y2="327.19" stroke="#000" stroke-width="0.6"/>
<line x1="426.0" y1="412.6" x2="424.5" y2="410.0" stroke="#111" stroke-width="1.6"/>
<line x1="376.7" y1="327.2" x2="377.9" y2="329.4" stroke="#111" stroke-width="1.6"/>
<circle cx="441.6" cy="439.6" r="95.5" fill="none" stroke="#111" stroke-width="0.7"/>
<circle cx="441.6" cy="439.6" r="31.2" fill="none" stroke="#111" stroke-width="0.7"/>
<circle cx="441.6" cy="439.6" r="129.8" fill="none" stroke="#111" stroke-width="1.6"/>
<line x1="438.1" y1="470.8" x2="441.6" y2="470.8" stroke="#111" stroke-width="1.4"/>
<text x="447.1" y="475.8" font-size="13.5" fill="#111">80°S</text>
<line x1="437.1" y1="535.1" x2="441.6" y2="535.1" stroke="#111" stroke-width="1.4"/>
<text x="443.6" y="540.3" font-size="13.5" fill="#111">60°S</text>
<text x="441.6" y="301.4" font-size="13.5" fill="#111" text-anchor="middle" dominant-baseline="central" transform="rotate(0 441.6 301.4)">0°</text>
<text x="510.7" y="319.9" font-size="13.5" fill="#111" text-anchor="middle" dominant-baseline="central" transform="rotate(30 510.7 319.9)">30°E</text>
<text x="561.3" y="370.5" font-size="13.5" fill="#111" text-anchor="middle" dominant-baseline="central" transform="rotate(60 561.3 370.5)">60°E</text>
<text x="579.8" y="439.6" font-size="13.5" fill="#111" text-anchor="middle" dominant-baseline="central" transform="rotate(90 579.8 439.6)">90°E</text>
<text x="561.3" y="508.7" font-size="13.5" fill="#111" text-anchor="middle" dominant-baseline="central" transform="rotate(-60 561.3 508.7)">120°E</text>
<text x="510.7" y="559.3" font-size="13.5" fill="#111" text-anchor="middle" dominant-baseline="central" transform="rotate(-30 510.7 559.3)">150°E</text>
<text x="441.6" y="577.8" font-size="13.5" fill="#111" text-anchor="middle" dominant-baseline="central" transform="rotate(0 441.6 577.8)">180°</text>
<text x="372.5" y="559.3" font-size="13.5" fill="#111" text-anchor="middle" dominant-baseline="central" transform="rotate(30 372.5 559.3)">150°W</text>
<text x="321.9" y="508.7" font-size="13.5" fill="#111" text-anchor="middle" dominant-baseline="central" transform="rotate(60 321.9 508.7)">120°W</text>
<text x="303.4" y="439.6" font-size="13.5" fill="#111" text-anchor="middle" dominant-baseline="central" transform="rotate(-90 303.4 439.6)">90°W</text>
<text x="321.9" y="370.5" font-size="13.5" fill="#111" text-anchor="middle" dominant-baseline="central" transform="rotate(-60 321.9 370.5)">60°W</text>
<text x="372.5" y="319.9" font-size="13.5" fill="#111" text-anchor="middle" dominant-baseline="central" transform="rotate(-30 372.5 319.9)">30°W</text>
<text x="316.7" y="342.6" font-size="22.5" fill="#111">(d)</text>
<rect x="589.4" y="11.70" width="27.2" height="15.12" fill="#780000" shape-rendering="crispEdges"/>
<rect x="589.4" y="26.22" width="27.2" height="15.12" fill="#960000" shape-rendering="crispEdges"/>
<rect x="589.4" y="40.74" width="27.2" height="15.12" fill="#ac0c00" shape-rendering="crispEdges"/>
<rect x="589.4" y="55.27" width="27.2" height="15.12" fill="#c21a00" shape-rendering="crispEdges"/>
<rect x="589.4" y="69.79" width="27.2" height="15.12" fill="#e02200" shape-rendering="crispEdges"/>
<rect x="589.4" y="84.31" width="27.2" height="15.12" fill="#ff3c00" shape-rendering="crispEdges"/>
<rect x="589.4" y="98.83" width="27.2" height="15.12" fill="#ff6400" shape-rendering="crispEdges"/>
<rect x="589.4" y="113.36" width="27.2" height="15.12" fill="#ff8400" shape-rendering="crispEdges"/>
<rect x="589.4" y="127.88" width="27.2" height="15.12" fill="#ffa41a" shape-rendering="crispEdges"/>
<rect x="589.4" y="142.40" width="27.2" height="15.12" fill="#fdbb22" shape-rendering="crispEdges"/>
<rect x="589.4" y="156.92" width="27.2" height="15.12" fill="#e0c52a" shape-rendering="crispEdges"/>
<rect x="589.4" y="171.44" width="27.2" height="15.12" fill="#bcbe22" shape-rendering="crispEdges"/>
<rect x="589.4" y="185.97" width="27.2" height="15.12" fill="#8cb41a" shape-rendering="crispEdges"/>
<rect x="589.4" y="200.49" width="27.2" height="15.12" fill="#56a618" shape-rendering="crispEdges"/>
<rect x="589.4" y="215.01" width="27.2" height="15.12" fill="#3e9444" shape-rendering="crispEdges"/>
<rect x="589.4" y="229.53" width="27.2" height="15.12" fill="#34827a" shape-rendering="crispEdges"/>
<rect x="589.4" y="244.06" width="27.2" height="15.12" fill="#0a6aa8" shape-rendering="crispEdges"/>
<rect x="589.4" y="258.58" width="27.2" height="15.12" fill="#0440e0" shape-rendering="crispEdges"/>
<rect x="589.4" y="11.7" width="27.2" height="261.4" fill="none" stroke="#262626" stroke-width="1"/>
<line x1="614.1" y1="194.4" x2="616.6" y2="194.4" stroke="#262626" stroke-width="0.9"/>
<line x1="614.1" y1="148.4" x2="616.6" y2="148.4" stroke="#262626" stroke-width="0.9"/>
<line x1="614.1" y1="115.7" x2="616.6" y2="115.7" stroke="#262626" stroke-width="0.9"/>
<line x1="614.1" y1="90.4" x2="616.6" y2="90.4" stroke="#262626" stroke-width="0.9"/>
<line x1="614.1" y1="69.7" x2="616.6" y2="69.7" stroke="#262626" stroke-width="0.9"/>
<line x1="614.1" y1="52.2" x2="616.6" y2="52.2" stroke="#262626" stroke-width="0.9"/>
<line x1="614.1" y1="37.0" x2="616.6" y2="37.0" stroke="#262626" stroke-width="0.9"/>
<line x1="614.1" y1="23.7" x2="616.6" y2="23.7" stroke="#262626" stroke-width="0.9"/>
<text x="625.5" y="22" font-size="18" fill="#111">10<tspan dy="-9" font-size="13">13</tspan></text>
<text x="625.5" y="283" font-size="18" fill="#111">10<tspan dy="-9" font-size="13">12</tspan></text>
<text transform="translate(682,143) rotate(-90)" text-anchor="middle" font-size="18.3" fill="#111">Winter NPP (mg C)</text>
<rect x="589.4" y="308.70" width="27.2" height="6.24" fill="#9a0a28" shape-rendering="crispEdges"/>
<rect x="589.4" y="314.34" width="27.2" height="16.27" fill="#b71c2e" shape-rendering="crispEdges"/>
<rect x="589.4" y="330.01" width="27.2" height="16.27" fill="#cc4040" shape-rendering="crispEdges"/>
<rect x="589.4" y="345.68" width="27.2" height="16.27" fill="#de6a50" shape-rendering="crispEdges"/>
<rect x="589.4" y="361.35" width="27.2" height="16.27" fill="#ec8c68" shape-rendering="crispEdges"/>
<rect x="589.4" y="377.02" width="27.2" height="16.27" fill="#f5b08e" shape-rendering="crispEdges"/>
<rect x="589.4" y="392.69" width="27.2" height="16.27" fill="#fbcfb5" shape-rendering="crispEdges"/>
<rect x="589.4" y="408.36" width="27.2" height="16.27" fill="#fce5d9" shape-rendering="crispEdges"/>
<rect x="589.4" y="424.03" width="27.2" height="16.27" fill="#f6f2ef" shape-rendering="crispEdges"/>
<rect x="589.4" y="439.70" width="27.2" height="16.27" fill="#eff2f4" shape-rendering="crispEdges"/>
<rect x="589.4" y="455.37" width="27.2" height="16.27" fill="#dce9f1" shape-rendering="crispEdges"/>
<rect x="589.4" y="471.04" width="27.2" height="16.27" fill="#c3dceb" shape-rendering="crispEdges"/>
<rect x="589.4" y="486.71" width="27.2" height="16.27" fill="#a3cde3" shape-rendering="crispEdges"/>
<rect x="589.4" y="502.38" width="27.2" height="16.27" fill="#7ab8d8" shape-rendering="crispEdges"/>
<rect x="589.4" y="518.05" width="27.2" height="16.27" fill="#4a97c6" shape-rendering="crispEdges"/>
<rect x="589.4" y="533.72" width="27.2" height="16.27" fill="#327fb9" shape-rendering="crispEdges"/>
<rect x="589.4" y="549.39" width="27.2" height="16.27" fill="#2166ac" shape-rendering="crispEdges"/>
<rect x="589.4" y="565.06" width="27.2" height="6.24" fill="#1a4a8c" shape-rendering="crispEdges"/>
<rect x="589.4" y="308.7" width="27.2" height="262.0" fill="none" stroke="#262626" stroke-width="1"/>
<line x1="613.6" y1="308.7" x2="616.6" y2="308.7" stroke="#262626" stroke-width="1.2"/>
<line x1="613.6" y1="439.7" x2="616.6" y2="439.7" stroke="#262626" stroke-width="1.2"/>
<line x1="613.6" y1="570.7" x2="616.6" y2="570.7" stroke="#262626" stroke-width="1.2"/>
<text x="625.3" y="315.8" font-size="18" fill="#111">5</text>
<text x="625.3" y="446.5" font-size="18" fill="#111">0</text>
<text x="624.5" y="577" font-size="18" fill="#111">-5</text>
<text transform="translate(669.5,440) rotate(-90)" text-anchor="middle" font-size="18" fill="#111">Rate of NPP change (10<tspan dy="-7" font-size="12.5">10</tspan><tspan dy="7">mg C yr</tspan><tspan dy="-7" font-size="12.5">-1</tspan><tspan dy="7">)</tspan></text>
<rect x="0" y="582.2" width="580" height="353.79999999999995" fill="none"/>
<path d="M50.8,657.6 L85.5,728.4 L120.3,632.7 L155.0,667.6 L189.8,643.5 L224.5,742.1 L259.3,680.2 L294.0,714.3 L328.8,699.5 L363.5,680.9 L398.3,678.0 L433.0,669.4 L467.8,642.7 L502.5,626.8 L537.3,617.5 L572.0,672.8 L572.0,687.6 L537.3,647.2 L502.5,675.0 L467.8,668.7 L433.0,684.3 L398.3,692.8 L363.5,695.8 L328.8,714.3 L294.0,729.1 L259.3,706.1 L224.5,753.2 L189.8,665.7 L155.0,700.9 L120.3,647.5 L85.5,739.5 L50.8,679.8 Z" fill="#d7ebf8"/>
<path d="M50.8,838.9 L85.5,837.6 L120.3,833.0 L155.0,837.4 L189.8,826.7 L224.5,850.4 L259.3,844.8 L294.0,844.8 L328.8,845.6 L363.5,841.5 L398.3,842.6 L433.0,835.6 L467.8,826.3 L502.5,832.6 L537.3,830.8 L572.0,824.8 L572.0,854.5 L537.3,864.1 L502.5,860.4 L467.8,859.7 L433.0,869.0 L398.3,861.2 L363.5,869.3 L328.8,866.0 L294.0,865.2 L259.3,865.2 L224.5,869.0 L189.8,860.1 L155.0,863.4 L120.3,862.6 L85.5,865.4 L50.8,864.9 Z" fill="#faefd6"/>
<line x1="50.8" y1="588.2" x2="572.0" y2="588.2" stroke="#262626" stroke-width="1.1"/>
<line x1="50.8" y1="884.9" x2="572.0" y2="884.9" stroke="#262626" stroke-width="1.1"/>
<line x1="85.5" y1="884.9" x2="85.5" y2="878.9" stroke="#262626" stroke-width="1.1"/>
<text x="85.5" y="909.8" font-size="20.5" fill="#262626" text-anchor="middle">2008</text>
<line x1="155.0" y1="884.9" x2="155.0" y2="878.9" stroke="#262626" stroke-width="1.1"/>
<text x="155.0" y="909.8" font-size="20.5" fill="#262626" text-anchor="middle">2010</text>
<line x1="224.5" y1="884.9" x2="224.5" y2="878.9" stroke="#262626" stroke-width="1.1"/>
<text x="224.5" y="909.8" font-size="20.5" fill="#262626" text-anchor="middle">2012</text>
<line x1="294.0" y1="884.9" x2="294.0" y2="878.9" stroke="#262626" stroke-width="1.1"/>
<text x="294.0" y="909.8" font-size="20.5" fill="#262626" text-anchor="middle">2014</text>
<line x1="363.5" y1="884.9" x2="363.5" y2="878.9" stroke="#262626" stroke-width="1.1"/>
<text x="363.5" y="909.8" font-size="20.5" fill="#262626" text-anchor="middle">2016</text>
<line x1="433.0" y1="884.9" x2="433.0" y2="878.9" stroke="#262626" stroke-width="1.1"/>
<text x="433.0" y="909.8" font-size="20.5" fill="#262626" text-anchor="middle">2018</text>
<line x1="502.5" y1="884.9" x2="502.5" y2="878.9" stroke="#262626" stroke-width="1.1"/>
<text x="502.5" y="909.8" font-size="20.5" fill="#262626" text-anchor="middle">2020</text>
<line x1="572.0" y1="884.9" x2="572.0" y2="878.9" stroke="#262626" stroke-width="1.1"/>
<text x="572.0" y="909.8" font-size="20.5" fill="#262626" text-anchor="middle">2022</text>
<line x1="50.8" y1="884.9" x2="56.8" y2="884.9" stroke="#262626" stroke-width="1.1"/>
<text x="44.5" y="892.7" font-size="20.5" fill="#262626" text-anchor="end">0</text>
<line x1="50.8" y1="810.7" x2="56.8" y2="810.7" stroke="#262626" stroke-width="1.1"/>
<text x="44.5" y="818.5" font-size="20.5" fill="#262626" text-anchor="end">20</text>
<line x1="50.8" y1="736.5" x2="56.8" y2="736.5" stroke="#262626" stroke-width="1.1"/>
<text x="44.5" y="744.3" font-size="20.5" fill="#262626" text-anchor="end">40</text>
<line x1="50.8" y1="662.4" x2="56.8" y2="662.4" stroke="#262626" stroke-width="1.1"/>
<text x="44.5" y="670.2" font-size="20.5" fill="#262626" text-anchor="end">60</text>
<line x1="50.8" y1="588.2" x2="56.8" y2="588.2" stroke="#262626" stroke-width="1.1"/>
<text x="44.5" y="596.0" font-size="20.5" fill="#262626" text-anchor="end">80</text>
<line x1="50.8" y1="884.9" x2="56.8" y2="884.9" stroke="#ff0000" stroke-width="1.1"/>
<line x1="572.0" y1="884.9" x2="566.0" y2="884.9" stroke="#ff0000" stroke-width="1.1"/>
<text x="579.5" y="891.9" font-size="20.5" fill="#ff0000">1.5</text>
<line x1="50.8" y1="825.6" x2="56.8" y2="825.6" stroke="#ff0000" stroke-width="1.1"/>
<line x1="572.0" y1="825.6" x2="566.0" y2="825.6" stroke="#ff0000" stroke-width="1.1"/>
<text x="579.5" y="832.6" font-size="20.5" fill="#ff0000">1.6</text>
<line x1="50.8" y1="766.2" x2="56.8" y2="766.2" stroke="#ff0000" stroke-width="1.1"/>
<line x1="572.0" y1="766.2" x2="566.0" y2="766.2" stroke="#ff0000" stroke-width="1.1"/>
<text x="579.5" y="773.2" font-size="20.5" fill="#ff0000">1.7</text>
<line x1="50.8" y1="706.9" x2="56.8" y2="706.9" stroke="#ff0000" stroke-width="1.1"/>
<line x1="572.0" y1="706.9" x2="566.0" y2="706.9" stroke="#ff0000" stroke-width="1.1"/>
<text x="579.5" y="713.9" font-size="20.5" fill="#ff0000">1.8</text>
<line x1="50.8" y1="647.5" x2="56.8" y2="647.5" stroke="#ff0000" stroke-width="1.1"/>
<line x1="572.0" y1="647.5" x2="566.0" y2="647.5" stroke="#ff0000" stroke-width="1.1"/>
<text x="579.5" y="654.5" font-size="20.5" fill="#ff0000">1.9</text>
<line x1="50.8" y1="588.2" x2="56.8" y2="588.2" stroke="#ff0000" stroke-width="1.1"/>
<line x1="572.0" y1="588.2" x2="566.0" y2="588.2" stroke="#ff0000" stroke-width="1.1"/>
<text x="579.5" y="595.2" font-size="20.5" fill="#ff0000">2</text>
<line x1="50.8" y1="588.2" x2="50.8" y2="884.9" stroke="#ff0000" stroke-width="1.1"/>
<line x1="572.0" y1="588.2" x2="572.0" y2="884.9" stroke="#ff0000" stroke-width="1.1"/>
<line x1="50.8" y1="698.7" x2="572.0" y2="666.1" stroke="#2b2a8c" stroke-width="2.6"/>
<line x1="224.5" y1="727.3" x2="572.0" y2="644.2" stroke="#2b2a8c" stroke-width="4" stroke-dasharray="16,5,5,5"/>
<line x1="50.8" y1="854.3" x2="572.0" y2="852.1" stroke="#e49c14" stroke-width="2.6"/>
<polyline points="50.8,668.7 85.5,734.0 120.3,640.1 155.0,684.3 189.8,654.6 224.5,747.7 259.3,693.2 294.0,721.7 328.8,706.9 363.5,688.3 398.3,685.4 433.0,676.8 467.8,655.7 502.5,650.9 537.3,632.3 572.0,680.2" fill="none" stroke="#2b2a8c" stroke-width="2.6" stroke-linejoin="round"/>
<rect x="45.6" y="663.5" width="10.4" height="10.4" fill="none" stroke="#2b2a8c" stroke-width="2.2"/>
<rect x="80.3" y="728.8" width="10.4" height="10.4" fill="none" stroke="#2b2a8c" stroke-width="2.2"/>
<rect x="115.1" y="634.9" width="10.4" height="10.4" fill="none" stroke="#2b2a8c" stroke-width="2.2"/>
<rect x="149.8" y="679.1" width="10.4" height="10.4" fill="none" stroke="#2b2a8c" stroke-width="2.2"/>
<rect x="184.6" y="649.4" width="10.4" height="10.4" fill="none" stroke="#2b2a8c" stroke-width="2.2"/>
<rect x="219.3" y="742.5" width="10.4" height="10.4" fill="none" stroke="#2b2a8c" stroke-width="2.2"/>
<rect x="254.1" y="688.0" width="10.4" height="10.4" fill="none" stroke="#2b2a8c" stroke-width="2.2"/>
<rect x="288.8" y="716.5" width="10.4" height="10.4" fill="none" stroke="#2b2a8c" stroke-width="2.2"/>
<rect x="323.6" y="701.7" width="10.4" height="10.4" fill="none" stroke="#2b2a8c" stroke-width="2.2"/>
<rect x="358.3" y="683.1" width="10.4" height="10.4" fill="none" stroke="#2b2a8c" stroke-width="2.2"/>
<rect x="393.1" y="680.2" width="10.4" height="10.4" fill="none" stroke="#2b2a8c" stroke-width="2.2"/>
<rect x="427.8" y="671.6" width="10.4" height="10.4" fill="none" stroke="#2b2a8c" stroke-width="2.2"/>
<rect x="462.6" y="650.5" width="10.4" height="10.4" fill="none" stroke="#2b2a8c" stroke-width="2.2"/>
<rect x="497.3" y="645.7" width="10.4" height="10.4" fill="none" stroke="#2b2a8c" stroke-width="2.2"/>
<rect x="532.1" y="627.1" width="10.4" height="10.4" fill="none" stroke="#2b2a8c" stroke-width="2.2"/>
<rect x="566.8" y="675.0" width="10.4" height="10.4" fill="none" stroke="#2b2a8c" stroke-width="2.2"/>
<polyline points="50.8,851.9 85.5,854.3 120.3,849.7 155.0,852.3 189.8,845.2 224.5,859.7 259.3,856.0 294.0,856.0 328.8,856.7 363.5,860.1 398.3,851.9 433.0,859.7 467.8,848.6 502.5,849.3 537.3,854.9 572.0,843.4" fill="none" stroke="#e49c14" stroke-width="2.6" stroke-linejoin="round"/>
<line x1="44.2" y1="851.9" x2="57.4" y2="851.9" stroke="#e49c14" stroke-width="2.5"/><line x1="46.1" y1="847.2" x2="55.5" y2="856.6" stroke="#e49c14" stroke-width="2.5"/><line x1="50.8" y1="845.3" x2="50.8" y2="858.5" stroke="#e49c14" stroke-width="2.5"/><line x1="55.5" y1="847.2" x2="46.1" y2="856.6" stroke="#e49c14" stroke-width="2.5"/>
<line x1="78.9" y1="854.3" x2="92.1" y2="854.3" stroke="#e49c14" stroke-width="2.5"/><line x1="80.9" y1="849.6" x2="90.2" y2="859.0" stroke="#e49c14" stroke-width="2.5"/><line x1="85.5" y1="847.7" x2="85.5" y2="860.9" stroke="#e49c14" stroke-width="2.5"/><line x1="90.2" y1="849.6" x2="80.9" y2="859.0" stroke="#e49c14" stroke-width="2.5"/>
<line x1="113.7" y1="849.7" x2="126.9" y2="849.7" stroke="#e49c14" stroke-width="2.5"/><line x1="115.6" y1="845.0" x2="125.0" y2="854.3" stroke="#e49c14" stroke-width="2.5"/><line x1="120.3" y1="843.1" x2="120.3" y2="856.3" stroke="#e49c14" stroke-width="2.5"/><line x1="125.0" y1="845.0" x2="115.6" y2="854.3" stroke="#e49c14" stroke-width="2.5"/>
<line x1="148.4" y1="852.3" x2="161.6" y2="852.3" stroke="#e49c14" stroke-width="2.5"/><line x1="150.4" y1="847.6" x2="159.7" y2="856.9" stroke="#e49c14" stroke-width="2.5"/><line x1="155.0" y1="845.7" x2="155.0" y2="858.9" stroke="#e49c14" stroke-width="2.5"/><line x1="159.7" y1="847.6" x2="150.4" y2="856.9" stroke="#e49c14" stroke-width="2.5"/>
<line x1="183.2" y1="845.2" x2="196.4" y2="845.2" stroke="#e49c14" stroke-width="2.5"/><line x1="185.1" y1="840.5" x2="194.5" y2="849.9" stroke="#e49c14" stroke-width="2.5"/><line x1="189.8" y1="838.6" x2="189.8" y2="851.8" stroke="#e49c14" stroke-width="2.5"/><line x1="194.5" y1="840.5" x2="185.1" y2="849.9" stroke="#e49c14" stroke-width="2.5"/>
<line x1="217.9" y1="859.7" x2="231.1" y2="859.7" stroke="#e49c14" stroke-width="2.5"/><line x1="219.9" y1="855.0" x2="229.2" y2="864.3" stroke="#e49c14" stroke-width="2.5"/><line x1="224.5" y1="853.1" x2="224.5" y2="866.3" stroke="#e49c14" stroke-width="2.5"/><line x1="229.2" y1="855.0" x2="219.9" y2="864.3" stroke="#e49c14" stroke-width="2.5"/>
<line x1="252.7" y1="856.0" x2="265.9" y2="856.0" stroke="#e49c14" stroke-width="2.5"/><line x1="254.6" y1="851.3" x2="263.9" y2="860.6" stroke="#e49c14" stroke-width="2.5"/><line x1="259.3" y1="849.4" x2="259.3" y2="862.6" stroke="#e49c14" stroke-width="2.5"/><line x1="263.9" y1="851.3" x2="254.6" y2="860.6" stroke="#e49c14" stroke-width="2.5"/>
<line x1="287.4" y1="856.0" x2="300.6" y2="856.0" stroke="#e49c14" stroke-width="2.5"/><line x1="289.4" y1="851.3" x2="298.7" y2="860.6" stroke="#e49c14" stroke-width="2.5"/><line x1="294.0" y1="849.4" x2="294.0" y2="862.6" stroke="#e49c14" stroke-width="2.5"/><line x1="298.7" y1="851.3" x2="289.4" y2="860.6" stroke="#e49c14" stroke-width="2.5"/>
<line x1="322.2" y1="856.7" x2="335.4" y2="856.7" stroke="#e49c14" stroke-width="2.5"/><line x1="324.1" y1="852.0" x2="333.4" y2="861.4" stroke="#e49c14" stroke-width="2.5"/><line x1="328.8" y1="850.1" x2="328.8" y2="863.3" stroke="#e49c14" stroke-width="2.5"/><line x1="333.4" y1="852.0" x2="324.1" y2="861.4" stroke="#e49c14" stroke-width="2.5"/>
<line x1="356.9" y1="860.1" x2="370.1" y2="860.1" stroke="#e49c14" stroke-width="2.5"/><line x1="358.9" y1="855.4" x2="368.2" y2="864.7" stroke="#e49c14" stroke-width="2.5"/><line x1="363.5" y1="853.5" x2="363.5" y2="866.7" stroke="#e49c14" stroke-width="2.5"/><line x1="368.2" y1="855.4" x2="358.9" y2="864.7" stroke="#e49c14" stroke-width="2.5"/>
<line x1="391.7" y1="851.9" x2="404.9" y2="851.9" stroke="#e49c14" stroke-width="2.5"/><line x1="393.6" y1="847.2" x2="402.9" y2="856.6" stroke="#e49c14" stroke-width="2.5"/><line x1="398.3" y1="845.3" x2="398.3" y2="858.5" stroke="#e49c14" stroke-width="2.5"/><line x1="402.9" y1="847.2" x2="393.6" y2="856.6" stroke="#e49c14" stroke-width="2.5"/>
<line x1="426.4" y1="859.7" x2="439.6" y2="859.7" stroke="#e49c14" stroke-width="2.5"/><line x1="428.3" y1="855.0" x2="437.7" y2="864.3" stroke="#e49c14" stroke-width="2.5"/><line x1="433.0" y1="853.1" x2="433.0" y2="866.3" stroke="#e49c14" stroke-width="2.5"/><line x1="437.7" y1="855.0" x2="428.3" y2="864.3" stroke="#e49c14" stroke-width="2.5"/>
<line x1="461.2" y1="848.6" x2="474.4" y2="848.6" stroke="#e49c14" stroke-width="2.5"/><line x1="463.1" y1="843.9" x2="472.4" y2="853.2" stroke="#e49c14" stroke-width="2.5"/><line x1="467.8" y1="842.0" x2="467.8" y2="855.2" stroke="#e49c14" stroke-width="2.5"/><line x1="472.4" y1="843.9" x2="463.1" y2="853.2" stroke="#e49c14" stroke-width="2.5"/>
<line x1="495.9" y1="849.3" x2="509.1" y2="849.3" stroke="#e49c14" stroke-width="2.5"/><line x1="497.8" y1="844.6" x2="507.2" y2="854.0" stroke="#e49c14" stroke-width="2.5"/><line x1="502.5" y1="842.7" x2="502.5" y2="855.9" stroke="#e49c14" stroke-width="2.5"/><line x1="507.2" y1="844.6" x2="497.8" y2="854.0" stroke="#e49c14" stroke-width="2.5"/>
<line x1="530.7" y1="854.9" x2="543.9" y2="854.9" stroke="#e49c14" stroke-width="2.5"/><line x1="532.6" y1="850.2" x2="541.9" y2="859.5" stroke="#e49c14" stroke-width="2.5"/><line x1="537.3" y1="848.3" x2="537.3" y2="861.5" stroke="#e49c14" stroke-width="2.5"/><line x1="541.9" y1="850.2" x2="532.6" y2="859.5" stroke="#e49c14" stroke-width="2.5"/>
<line x1="565.4" y1="843.4" x2="578.6" y2="843.4" stroke="#e49c14" stroke-width="2.5"/><line x1="567.3" y1="838.7" x2="576.7" y2="848.0" stroke="#e49c14" stroke-width="2.5"/><line x1="572.0" y1="836.8" x2="572.0" y2="850.0" stroke="#e49c14" stroke-width="2.5"/><line x1="576.7" y1="838.7" x2="567.3" y2="848.0" stroke="#e49c14" stroke-width="2.5"/>
<polyline points="50.8,747.8 88.0,719.9 125.3,700.4 162.5,740.1 199.7,714.0 236.9,689.7 274.2,671.9 311.4,726.5 348.6,744.9 385.9,777.5 423.1,764.4 460.3,763.3 497.5,740.7 534.8,724.7 572.0,784.6" fill="none" stroke="#ff0000" stroke-width="2.8" stroke-linejoin="round"/>
<circle cx="50.8" cy="747.8" r="6.6" fill="none" stroke="#ff0000" stroke-width="2.5"/>
<circle cx="88.0" cy="719.9" r="6.6" fill="none" stroke="#ff0000" stroke-width="2.5"/>
<circle cx="125.3" cy="700.4" r="6.6" fill="none" stroke="#ff0000" stroke-width="2.5"/>
<circle cx="162.5" cy="740.1" r="6.6" fill="none" stroke="#ff0000" stroke-width="2.5"/>
<circle cx="199.7" cy="714.0" r="6.6" fill="none" stroke="#ff0000" stroke-width="2.5"/>
<circle cx="236.9" cy="689.7" r="6.6" fill="none" stroke="#ff0000" stroke-width="2.5"/>
<circle cx="274.2" cy="671.9" r="6.6" fill="none" stroke="#ff0000" stroke-width="2.5"/>
<circle cx="311.4" cy="726.5" r="6.6" fill="none" stroke="#ff0000" stroke-width="2.5"/>
<circle cx="348.6" cy="744.9" r="6.6" fill="none" stroke="#ff0000" stroke-width="2.5"/>
<circle cx="385.9" cy="777.5" r="6.6" fill="none" stroke="#ff0000" stroke-width="2.5"/>
<circle cx="423.1" cy="764.4" r="6.6" fill="none" stroke="#ff0000" stroke-width="2.5"/>
<circle cx="460.3" cy="763.3" r="6.6" fill="none" stroke="#ff0000" stroke-width="2.5"/>
<circle cx="497.5" cy="740.7" r="6.6" fill="none" stroke="#ff0000" stroke-width="2.5"/>
<circle cx="534.8" cy="724.7" r="6.6" fill="none" stroke="#ff0000" stroke-width="2.5"/>
<circle cx="572.0" cy="784.6" r="6.6" fill="none" stroke="#ff0000" stroke-width="2.5"/>
<line x1="414.8" y1="598.1" x2="481.2" y2="598.1" stroke="#2b2a8c" stroke-width="2.6"/>
<rect x="443" y="592.8" width="10.6" height="10.6" fill="none" stroke="#2b2a8c" stroke-width="2.2"/>
<text x="486.5" y="604.5" font-size="18" fill="#111">CALIOP</text>
<line x1="414.8" y1="619.6" x2="481.2" y2="619.6" stroke="#e49c14" stroke-width="2.6"/>
<line x1="441.7" y1="619.6" x2="454.9" y2="619.6" stroke="#e49c14" stroke-width="2.5"/><line x1="443.6" y1="614.9" x2="453.0" y2="624.3" stroke="#e49c14" stroke-width="2.5"/><line x1="448.3" y1="613.0" x2="448.3" y2="626.2" stroke="#e49c14" stroke-width="2.5"/><line x1="453.0" y1="614.9" x2="443.6" y2="624.3" stroke="#e49c14" stroke-width="2.5"/>
<text x="486.5" y="626" font-size="18" fill="#111">MODIS</text>
<text x="57.5" y="605" font-size="22" fill="#111">(e)</text>
<text x="61.5" y="625.2" font-size="22.7" fill="#2b2a8c">0.59 Tg C yr<tspan dy="-10.5" font-size="15.5">-1</tspan><tspan dy="10.5">(R=0.32)</tspan></text>
<text x="369.5" y="718.3" font-size="22.7" fill="#2b2a8c">2.24 Tg C yr<tspan dy="-10.5" font-size="15.5">-1</tspan></text>
<text x="369.5" y="743.3" font-size="22.7" fill="#2b2a8c">(R=0.84, P&lt;0.01)</text>
<text x="130.3" y="818.9" font-size="22.9" fill="#e49c14">0.04 Tg C yr<tspan dy="-10.5" font-size="15.5">-1</tspan><tspan dy="10.5">(R=0.13)</tspan></text>
<text x="312" y="936.5" font-size="23.2" fill="#262626" text-anchor="middle">Year</text>
<text transform="translate(15.6,735.8) rotate(-90)" text-anchor="middle" font-size="21.95" fill="#262626">Winter (JJA) NPP (Tg C)</text>
<text transform="translate(636,735.5) rotate(-90)" text-anchor="middle" font-size="22.0" fill="#ff0000">Winter Sea Ice Extent (10<tspan dy="-10.5" font-size="16.5">7</tspan><tspan dy="10.5"> km</tspan><tspan dy="-10.5" font-size="16.5">2</tspan><tspan dy="10.5">)</tspan></text>
</svg></body></html>
